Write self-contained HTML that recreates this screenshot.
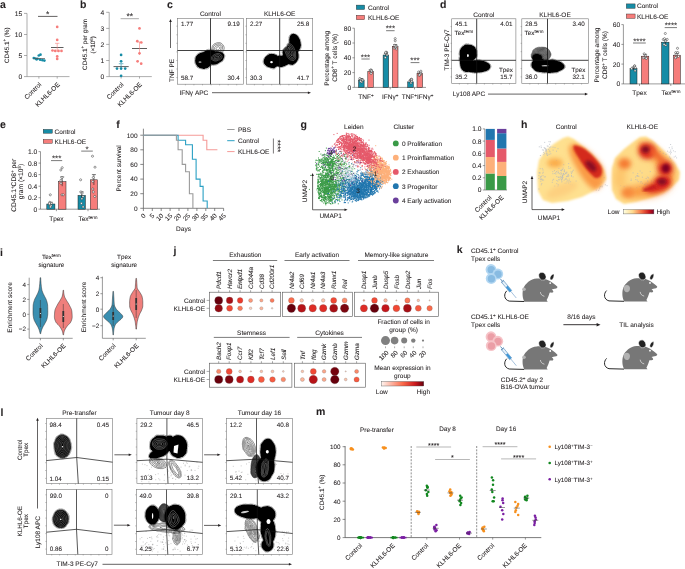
<!DOCTYPE html>
<html><head><meta charset="utf-8"><style>
html,body{margin:0;padding:0;background:#fff;}
svg{display:block;will-change:transform;}
text{font-family:"Liberation Sans", sans-serif;fill:#231f20;text-rendering:geometricPrecision;stroke:#231f20;stroke-width:0.07px;}
</style></head><body>
<svg width="685" height="569" viewBox="0 0 685 569">
<rect width="685" height="569" fill="#fff"/>
<text x="0.0" y="7.6" font-size="10.5" font-weight="bold">a</text>
<line x1="27.0" y1="13.4" x2="27.0" y2="76.6" stroke="#777" stroke-width="0.6"/>
<line x1="24.0" y1="13.4" x2="27.0" y2="13.4" stroke="#777" stroke-width="0.6"/>
<text x="22.2" y="15.8" font-size="6.7" text-anchor="end">15</text>
<line x1="24.0" y1="34.5" x2="27.0" y2="34.5" stroke="#777" stroke-width="0.6"/>
<text x="22.2" y="36.9" font-size="6.7" text-anchor="end">10</text>
<line x1="24.0" y1="55.5" x2="27.0" y2="55.5" stroke="#777" stroke-width="0.6"/>
<text x="22.2" y="57.9" font-size="6.7" text-anchor="end">5</text>
<line x1="24.0" y1="76.6" x2="27.0" y2="76.6" stroke="#777" stroke-width="0.6"/>
<text x="22.2" y="79.0" font-size="6.7" text-anchor="end">0</text>
<line x1="27.0" y1="76.6" x2="69.5" y2="76.6" stroke="#777" stroke-width="0.6"/>
<line x1="38.9" y1="76.6" x2="38.9" y2="78.6" stroke="#777" stroke-width="0.6"/>
<line x1="57.2" y1="76.6" x2="57.2" y2="78.6" stroke="#777" stroke-width="0.6"/>
<text x="6.5" y="47.5" font-size="6.3" text-anchor="middle" transform="rotate(-90 6.5 45.2)">CD45.1<tspan font-size="4.5" dy="-2.3">+</tspan><tspan dy="2.3">​</tspan> (%)</text>
<text x="0" y="0" font-size="6.5" text-anchor="end" transform="translate(41.8 85.0) rotate(-45)">Control</text>
<text x="0" y="0" font-size="6.5" text-anchor="end" transform="translate(60.2 85.0) rotate(-45)">KLHL6-OE</text>
<line x1="38.0" y1="16.4" x2="57.5" y2="16.4" stroke="#231f20" stroke-width="0.7"/>
<text x="47.7" y="17.1" font-size="8.5" text-anchor="middle">*</text>
<circle cx="40.5" cy="54.7" r="1.35" fill="#168ca6"/>
<circle cx="38.8" cy="55.5" r="1.35" fill="#168ca6"/>
<circle cx="33.8" cy="58.1" r="1.35" fill="#168ca6"/>
<circle cx="35.5" cy="58.5" r="1.35" fill="#168ca6"/>
<circle cx="37.5" cy="58.9" r="1.35" fill="#168ca6"/>
<circle cx="40.2" cy="59.7" r="1.35" fill="#168ca6"/>
<circle cx="42.5" cy="60.2" r="1.35" fill="#168ca6"/>
<circle cx="44.4" cy="60.6" r="1.35" fill="#168ca6"/>
<circle cx="36.5" cy="59.3" r="1.35" fill="#168ca6"/>
<line x1="33.5" y1="58.5" x2="45.0" y2="58.5" stroke="#555" stroke-width="0.7"/>
<circle cx="57.2" cy="26.9" r="1.35" fill="#f67d7b"/>
<circle cx="57.2" cy="39.9" r="1.35" fill="#f67d7b"/>
<circle cx="52.5" cy="50.5" r="1.35" fill="#f67d7b"/>
<circle cx="55.3" cy="50.9" r="1.35" fill="#f67d7b"/>
<circle cx="58.5" cy="50.9" r="1.35" fill="#f67d7b"/>
<circle cx="61.5" cy="50.9" r="1.35" fill="#f67d7b"/>
<circle cx="57.2" cy="56.4" r="1.35" fill="#f67d7b"/>
<circle cx="57.2" cy="58.9" r="1.35" fill="#f67d7b"/>
<line x1="51.0" y1="47.5" x2="63.5" y2="47.5" stroke="#333" stroke-width="0.8"/>
<line x1="57.2" y1="43.3" x2="57.2" y2="51.7" stroke="#f67d7b" stroke-width="0.6"/>
<line x1="55.0" y1="43.3" x2="59.4" y2="43.3" stroke="#f67d7b" stroke-width="0.6"/>
<text x="80.0" y="7.6" font-size="10.5" font-weight="bold">b</text>
<line x1="109.2" y1="12.3" x2="109.2" y2="76.6" stroke="#777" stroke-width="0.6"/>
<line x1="106.2" y1="12.3" x2="109.2" y2="12.3" stroke="#777" stroke-width="0.6"/>
<text x="104.3" y="14.7" font-size="6.7" text-anchor="end">4</text>
<line x1="106.2" y1="28.4" x2="109.2" y2="28.4" stroke="#777" stroke-width="0.6"/>
<text x="104.3" y="30.8" font-size="6.7" text-anchor="end">3</text>
<line x1="106.2" y1="44.4" x2="109.2" y2="44.4" stroke="#777" stroke-width="0.6"/>
<text x="104.3" y="46.8" font-size="6.7" text-anchor="end">2</text>
<line x1="106.2" y1="60.5" x2="109.2" y2="60.5" stroke="#777" stroke-width="0.6"/>
<text x="104.3" y="62.9" font-size="6.7" text-anchor="end">1</text>
<line x1="106.2" y1="76.6" x2="109.2" y2="76.6" stroke="#777" stroke-width="0.6"/>
<text x="104.3" y="79.0" font-size="6.7" text-anchor="end">0</text>
<line x1="109.2" y1="76.6" x2="151.8" y2="76.6" stroke="#777" stroke-width="0.6"/>
<line x1="121.1" y1="76.6" x2="121.1" y2="78.6" stroke="#777" stroke-width="0.6"/>
<line x1="139.5" y1="76.6" x2="139.5" y2="78.6" stroke="#777" stroke-width="0.6"/>
<text x="84.5" y="46.7" font-size="6.3" text-anchor="middle" transform="rotate(-90 84.5 44.4)">CD45.1<tspan font-size="4.5" dy="-2.3">+</tspan><tspan dy="2.3">​</tspan> per gram</text>
<text x="92.8" y="47.2" font-size="6.3" text-anchor="middle" transform="rotate(-90 92.8 44.9)">(×10<tspan font-size="4.5" dy="-2.3">6</tspan><tspan dy="2.3">​</tspan>)</text>
<text x="0" y="0" font-size="6.5" text-anchor="end" transform="translate(124.0 85.0) rotate(-45)">Control</text>
<text x="0" y="0" font-size="6.5" text-anchor="end" transform="translate(142.4 85.0) rotate(-45)">KLHL6-OE</text>
<line x1="120.6" y1="18.7" x2="138.9" y2="18.7" stroke="#aaa" stroke-width="1.0"/>
<text x="129.8" y="19.3" font-size="8.5" text-anchor="middle">**</text>
<circle cx="121.1" cy="54.9" r="1.35" fill="#168ca6"/>
<circle cx="121.1" cy="61.3" r="1.35" fill="#168ca6"/>
<circle cx="117.0" cy="68.6" r="1.35" fill="#168ca6"/>
<circle cx="121.1" cy="68.6" r="1.35" fill="#168ca6"/>
<circle cx="125.2" cy="68.6" r="1.35" fill="#168ca6"/>
<circle cx="121.1" cy="75.8" r="1.35" fill="#168ca6"/>
<line x1="113.5" y1="66.6" x2="128.7" y2="66.6" stroke="#333" stroke-width="0.8"/>
<line x1="121.1" y1="63.7" x2="121.1" y2="69.4" stroke="#168ca6" stroke-width="0.6"/>
<line x1="118.8" y1="63.7" x2="123.4" y2="63.7" stroke="#168ca6" stroke-width="0.6"/>
<circle cx="139.5" cy="28.4" r="1.35" fill="#f67d7b"/>
<circle cx="137.3" cy="41.2" r="1.35" fill="#f67d7b"/>
<circle cx="141.3" cy="42.5" r="1.35" fill="#f67d7b"/>
<circle cx="139.5" cy="53.3" r="1.35" fill="#f67d7b"/>
<circle cx="137.6" cy="61.3" r="1.35" fill="#f67d7b"/>
<circle cx="141.2" cy="63.7" r="1.35" fill="#f67d7b"/>
<line x1="132.0" y1="48.5" x2="147.0" y2="48.5" stroke="#333" stroke-width="0.8"/>
<line x1="139.5" y1="42.0" x2="139.5" y2="54.9" stroke="#f67d7b" stroke-width="0.6"/>
<line x1="137.2" y1="42.0" x2="141.8" y2="42.0" stroke="#f67d7b" stroke-width="0.6"/>
<text x="167.0" y="8.2" font-size="10.5" font-weight="bold">c</text>
<rect x="177.5" y="18.3" width="65.8" height="65.9" fill="none" stroke="#777" stroke-width="0.6"/>
<line x1="176.3" y1="26.2" x2="177.5" y2="26.2" stroke="#666" stroke-width="0.4"/>
<line x1="176.3" y1="34.8" x2="177.5" y2="34.8" stroke="#666" stroke-width="0.4"/>
<line x1="176.3" y1="43.3" x2="177.5" y2="43.3" stroke="#666" stroke-width="0.4"/>
<line x1="176.3" y1="51.9" x2="177.5" y2="51.9" stroke="#666" stroke-width="0.4"/>
<line x1="176.3" y1="60.5" x2="177.5" y2="60.5" stroke="#666" stroke-width="0.4"/>
<line x1="176.3" y1="69.0" x2="177.5" y2="69.0" stroke="#666" stroke-width="0.4"/>
<line x1="176.3" y1="77.6" x2="177.5" y2="77.6" stroke="#666" stroke-width="0.4"/>
<line x1="185.4" y1="84.2" x2="185.4" y2="85.4" stroke="#666" stroke-width="0.4"/>
<line x1="193.9" y1="84.2" x2="193.9" y2="85.4" stroke="#666" stroke-width="0.4"/>
<line x1="202.5" y1="84.2" x2="202.5" y2="85.4" stroke="#666" stroke-width="0.4"/>
<line x1="211.1" y1="84.2" x2="211.1" y2="85.4" stroke="#666" stroke-width="0.4"/>
<line x1="219.6" y1="84.2" x2="219.6" y2="85.4" stroke="#666" stroke-width="0.4"/>
<line x1="228.2" y1="84.2" x2="228.2" y2="85.4" stroke="#666" stroke-width="0.4"/>
<line x1="236.7" y1="84.2" x2="236.7" y2="85.4" stroke="#666" stroke-width="0.4"/>
<text x="181.0" y="25.9" font-size="6.3">1.77</text>
<text x="239.8" y="25.9" font-size="6.3" text-anchor="end">9.19</text>
<text x="181.0" y="80.0" font-size="6.3">58.7</text>
<text x="239.8" y="80.0" font-size="6.3" text-anchor="end">30.4</text>
<text x="210.4" y="16.4" font-size="6.5" text-anchor="middle">Control</text>
<path d="M218.8 54.2l.4-.2 .6-.2 .4-.3 .6-.3 .5-.2 .5-.3 .4-.4 .4-.3 .4-.3 .2-.5 .3-.5 .3-.5 .1-.7 .2-.5 0-.8 0-.7-.3-.5 0-.8-.3-.4-.2-.6-.3-.3-.4-.4-.4-.3-.4-.4-.3-.4-.5-.3-.5-.2-.6-.1-.7-.2-.7 .1-.7 0-.6 .1-.7 .2-.5 .2-.5 .2-.5 .2-.5 .2-.5 .4-.2 .3-.6 .5-.3 .2-.3 .6-.2 .4-.2 .6-.2 .7-.2 .5 0 .8 0 .7 .1 .7-.1 .8 .2 .5 .2 .6 .6 .4 .2 .3 .5 .3 .5 .1 .5 .5 .5 .2 .5 .2 .7 .1 .6 .1 .7 0 .7 0 .6-.1zM218.3 53l.7-.2 .5-.2 .5-.3 .4-.3 .4-.3 .4-.5 .3-.3 .3-.4 .2-.6 .2-.6 .2-.5 .2-.6-.1-.7 0-.3 0-.4-.2-.8-.3-.4-.3-.4-.4-.4-.3-.3-.6-.3-.6-.2-.6-.1-.7 0-.7 .1-.6 .1-.4 .2-.7 .2-.6 .2-.5 .3-.3 .2-.5 .4-.4 .4-.3 .5-.2 .5-.1 .5-.1 .7-.1 .8 .2 .8 0 .7 .2 .5 .3 .5 .3 .3 .5 .3 .5 .3 .5 .2 .6 .2 .7 .1 .7 .1 .5 0zM218.4 51.5l.6-.2 .4-.3 .4-.2 .4-.6 .3-.4 .2-.6 .2-.4 .2-.6 .1-.7-.1-.7-.2-.6-.4-.4-.3-.3-.7-.2-.5-.1-.8 0-.4 .2-.6 .1-.5 .3-.7 .2-.3 .2-.5 .4-.3 .4-.2 .5-.2 .7-.1 .6 .2 .4 .2 .7 .2 .4 .5 .5 .3 .2 .5 .2 .7 .3 .5 .1 .7-.1zM218.1 50l.4-.2 .5-.4 .3-.4 .3-.5 .2-.6 0-.4-.4-.5-.5-.2-.7-.1-.4 .2-.6 .2-.4 .3-.4 .4-.3 .4-.1 .8 .2 .5 .6 .4 .4 .2 .8-.1z" fill="none" stroke="#000" stroke-width="0.45"/>
<path d="M204.9 68.8l.3-.2 .6 0 .3-.1 .4-.2 .3-.1 .4-.1 .4-.1 .4-.2 .2-.3 .1 0 .2 0 .2-.5 .3-.1 .3-.1 .2-.3 .4-.3 .3-.2 .2-.2 .2-.3 .2-.3 .1-.4 .3-.2 .6 .1 .4 0 .3 .1 .5 0 .5 0 .4 0 .3-.2 .6 .1 .4-.2 .3-.1 .5 0 .2-.2 .6 0 .2-.3 .5 0 .3-.3 .3-.1 .4-.2 .3-.3 .2 0 .2-.3 .3-.2 .3 0 .2-.2 .2-.2 .4-.1 .3-.2 .3-.3 .3-.2 .3-.1 .3-.2 .2-.2 .3-.3 .2-.4 .2-.3 .1-.3 .2-.3 .2-.4 .1-.3 .1-.5 .2-.2 .1-.3 .1-.5 .1-.5 .1-.3 0-.4-.1-.5-.1-.3-.1-.4-.2-.4-.2-.2-.1-.2-.3-.3-.2-.3-.3-.2-.3-.2-.3-.3-.3-.2-.4-.1-.4 0-.5-.2-.3 0-.4-.1-.3-.3-.5 .1-.2-.3-.6 0-.4 .1-.3-.3-.5 0-.2 .1-.6 0-.4 0-.6 0-.3-.1-.1-.2-.6-.1-.2-.3-.5 0-.3-.3-.4 0-.4-.1-.4-.1-.5 0-.5 0-.5 0-.3-.1-.4 0-.3 0-.3 0-.4-.1-.6 0-.4 0-.3 .1-.4 .2-.3 .1-.3 .3-.5 .1-.2 .2-.6 .1-.2 .2-.3 0-.3 .3-.4 .1-.2 .3-.3 .2-.5 .1-.2 .1-.6 0-.4 .2-.3 0-.4 .3-.3 0-.5 .2-.3 0-.2 .3-.6 .2-.2 .2-.4 .1-.3 .2-.3 .2-.2 .3-.3 .2-.3 .2-.2 .3-.2 .2-.2 .4-.2 .2-.2 .2-.2 .4-.2 .4-.1 .2-.2 .5-.1 .3 0 .5-.1 .5 0 .5 0 .5-.2 .2 0 .6 0 .4 .2 .3 0 .5 0 .5 .2 .5 0 .2 .3 .5 0 .3 .3 .2 .1 .4 .2 .4 .2 .2 .2 .3 .3 .3 .1 .4 .2 .3 .2 .3 .4 .1 .2 .2 .3 .2 .3 .2 .2 0 .2 .2 .3 .2 .3 .1 .4 .1 .4 .1 .4 .2 .4 .1 .4 .1 .4 0 .4 .2 .4 .1 .5 0 .5 0 .5 0 .4-.1z" fill="#000" stroke="none"/>
<path d="M204 69.2l.5 0 .5 0 .2-.2 .3 0 .5 0 .3 0 .5-.1 .4-.1 .2 0 .4 0 .2-.1 .3-.2 .4-.3 .3-.2 0-.2 .2-.3 .5-.3 .2-.2 .2-.2 .3-.3 .2-.3 .2-.2 .3-.2 .2-.3 .2-.5 .5 .1 .5 .1 .3 0 .4 .1 .6 .1 .4-.2 .3 0 .5 0 .5-.2 .3 0 .4-.1 .4-.1 .4-.1 .3-.2 .5-.1 .2-.2 .3-.2 .3-.2 .3-.3 .3-.2 .3-.3 .3-.1 .3-.1 .4-.3 .3 0 .4-.3 .3-.2 .3-.1 .2-.2 .3-.2 .3-.3 .2-.2 .3-.2 .1-.5 .3-.3 .1-.2 .2-.3 .2-.5 .1-.2 .1-.6 .1-.2 .2-.3 .1-.5 .1-.4 .1-.3 0-.5 0-.5-.1-.3-.2-.4-.1-.3-.2-.3-.2-.4-.2-.3-.1-.3-.3-.2-.2-.2-.3-.3-.3-.3-.3-.2-.3-.2-.3 0-.5-.2-.4-.1-.3-.1-.5-.1-.2-.1-.6 0-.4-.2-.1 0-.5 .1-.4-.1-.3-.1-.5 0-.5 .1-.4 0-.2 0-.4 0-.5-.2-.2-.2-.3-.1-.3-.3-.4-.2-.3-.2-.5 0-.3 0-.5-.2-.4 0-.6 0-.4 0-.4-.1-.4-.2-.5 .1-.5 0-.5-.1-.5 .1-.5 .1-.3 .1-.2 .2-.5 .2-.3 .2-.2 .1-.3 .2-.5 .2-.2 .2-.4 .1-.4 .2-.2 .1-.5 .2-.3 .1-.4 .2-.3 0-.5 0-.4 .2-.4 .1-.3 .1-.4 .2-.4 .1-.3 .1-.3 .2-.5 .1-.2 .2-.4 .1-.3 .3-.3 .3-.2 .2-.3 .2-.2 .3-.3 .3-.2 .2-.3 .2-.1 .3-.2 .3-.2 .3-.3 .4-.1 .3-.2 .3-.1 .4-.1 .3-.1 .4-.1 .6 0 .4 .1 .6-.2 .2 0 .5 0 .5 0 .5 .1 .3 0 .4 0 .6 .2 .4 0 .3 .2 .5 .2 .2 .2 .3 .2 .3 .2 .4 .2 .3 .1 .3 .2 .2 .1 .5 .2 .3 .2 .2 .2 .3 .5 .2 .3 .2 .2 .2 .3 .1 .4 .2 .3 .2 .4 .1 .4 .1 .5 .1 .5 0 .2 .2 .6 .1 .4 0 .3 .2 .5 0 .3 0 .5 .1 .2-.1zM211.2 65.1l0-.1 0 .1z" fill="none" stroke="#000" stroke-width="0.35"/>
<path d="M216.7 60.8l.5-.2 .6-.2 .4-.2 .6-.2 .7-.2 .5-.2 .5-.4 .3-.2 .4-.4 .3-.4 .3-.6 .2-.6 0-.8-.2-.5-.3-.5-.3-.4-.4-.4-.6-.3-.4-.3-.6-.1-.7-.1-.7 0-.8 .1-.6 .1-.6 .2-.6 .2-.4 .1-.6 .3-.4 .3-.6 .3-.2 .3-.5 .5-.3 .3-.4 .5-.2 .4-.3 .6 0 .7 .2 .5 .3 .5 .4 .5 .6 .2 .4 .2 .6 .2 .4 .2 .8 .1 .8 .1 .7-.1zM216.2 59.8l.6-.2 .4-.2 .6-.2 .4-.3 .6-.2 .4-.3 .5-.4 .3-.3 .4-.5 .2-.4-.2-.6-.2-.4-.4-.4-.6-.2-.4-.3-.8-.1-.8 .1-.4 .1-.6 .2-.6 .3-.6 .3-.5 .2-.5 .2-.3 .3-.5 .5-.2 .2-.3 .6 0 .7 .3 .5 .5 .2 .5 .3 .5 .2 .5 .1 .8 0zM215.9 58.5l.6-.2 .5-.1 .5-.2 .5-.3 .5-.3 .4-.4 .1-.3-.5-.2-.7-.2-.8 .2-.5 .1-.5 .2-.5 .2-.5 .2-.5 .4-.4 .4 .4 .4 .5 .1 .8 0z" fill="none" stroke="#fff" stroke-width="0.3"/>
<ellipse cx="200" cy="62" rx="1.5" ry="0.6" fill="#fff"/>
<rect x="246.5" y="18.3" width="66.2" height="65.9" fill="none" stroke="#777" stroke-width="0.6"/>
<line x1="245.3" y1="26.2" x2="246.5" y2="26.2" stroke="#666" stroke-width="0.4"/>
<line x1="245.3" y1="34.8" x2="246.5" y2="34.8" stroke="#666" stroke-width="0.4"/>
<line x1="245.3" y1="43.3" x2="246.5" y2="43.3" stroke="#666" stroke-width="0.4"/>
<line x1="245.3" y1="51.9" x2="246.5" y2="51.9" stroke="#666" stroke-width="0.4"/>
<line x1="245.3" y1="60.5" x2="246.5" y2="60.5" stroke="#666" stroke-width="0.4"/>
<line x1="245.3" y1="69.0" x2="246.5" y2="69.0" stroke="#666" stroke-width="0.4"/>
<line x1="245.3" y1="77.6" x2="246.5" y2="77.6" stroke="#666" stroke-width="0.4"/>
<line x1="254.4" y1="84.2" x2="254.4" y2="85.4" stroke="#666" stroke-width="0.4"/>
<line x1="263.1" y1="84.2" x2="263.1" y2="85.4" stroke="#666" stroke-width="0.4"/>
<line x1="271.7" y1="84.2" x2="271.7" y2="85.4" stroke="#666" stroke-width="0.4"/>
<line x1="280.3" y1="84.2" x2="280.3" y2="85.4" stroke="#666" stroke-width="0.4"/>
<line x1="288.9" y1="84.2" x2="288.9" y2="85.4" stroke="#666" stroke-width="0.4"/>
<line x1="297.5" y1="84.2" x2="297.5" y2="85.4" stroke="#666" stroke-width="0.4"/>
<line x1="306.1" y1="84.2" x2="306.1" y2="85.4" stroke="#666" stroke-width="0.4"/>
<text x="250.0" y="25.9" font-size="6.3">2.27</text>
<text x="309.2" y="25.9" font-size="6.3" text-anchor="end">25.8</text>
<text x="250.0" y="80.0" font-size="6.3">30.3</text>
<text x="309.2" y="80.0" font-size="6.3" text-anchor="end">41.7</text>
<text x="279.6" y="16.4" font-size="6.5" text-anchor="middle">KLHL6-OE</text>
<path d="M274.3 68.2l.3-.2 .4-.2 .2-.3 .3 0 .3-.4 .3-.1 .4-.2 .3-.3 .2-.2 .5 0 .5 .2 .2 0 .6 .2 .2 .1 .5 0 .5 0 .2 .3 .6 0 .4 0 .6 0 .4-.1 .3-.2 .3-.1 .4-.1 .4-.1 .3-.3 .3 0 .3-.2 .5-.1 .3-.1 .5-.3 .2 0 .3-.3 .5-.1 .2-.1 .5-.2 .3-.3 .3 0 .3-.3 .1-.2 .3 0 .4 .2 .3 .2 .5 .1 .2 .1 .4 .2 .4 0 .5 0 .5 .1 .5 0 .3-.1 .4-.2 .3-.1 .4-.3 .3-.2 .3-.2 .2-.3 .3 0 .2-.3 .3-.3 .4-.1 .2-.3 .2-.3 .2-.2 .3-.2 .2-.5 .2-.3 .1-.2 .2-.3 .3-.5 0-.2 .2-.3 0-.5 .3-.2 0-.6 .2-.4 .1-.3 0-.5 0-.5 0-.5 0-.5 0-.5 0-.5-.1-.3-.2-.4 0-.6-.1-.3-.1-.4-.1-.5 .3-.2 .2-.5 .3-.3 0-.2 .2-.5 .1-.3 .2-.2 .3-.3 .2-.4 0-.3 .3-.3 .1-.4 .2-.3 .1-.4 .2-.4 0-.5 0-.5 .3-.2-.1-.6 0-.4 0-.6 0-.4-.3-.3 0-.5 0-.5 0-.5-.3-.2 0-.6-.1-.3-.1-.4-.1-.4-.1-.3-.1-.4-.2-.4-.3-.2-.1-.3-.2-.5-.2-.2 0-.3-.3-.3-.2-.4-.2-.3-.3-.3-.2-.2-.1-.3-.3-.3-.2-.2-.5-.2-.2-.2-.3-.3-.2 0-.4-.3-.4-.1-.5-.1-.3 0-.4-.2-.6 0-.4 .2-.6-.1-.2 .2-.4 .1-.3 .3-.3 .3-.2 .2-.3 .2-.2 .3-.1 .3-.2 .4-.2 .3 0 .3-.2 .4-.1 .4-.1 .4 0 .5 0 .5-.2 .2 0 .6 0 .4 0 .6-.1 .4 .3 .3-.1 .5 0 .5-.3 .3-.2 .2-.3 .2-.2 .3-.3 .3-.2 .2-.2 .2-.1 .4-.3 .3-.1 .3-.1 .5-.1 .3-.2 .2-.3 .3-.4 .2-.2 .3-.3 .2-.3 0-.2 .3-.3 .3-.2 .2-.3 .2-.2 .5-.2 .2-.1 .3-.3 .3-.2 .4-.1 .3-.2 .3 0 .5-.3 .2 .1 .6-.2 .4 0 .3 .1 .3 .1 .4 .1 .3 .1 .5 0 .5-.1 .5-.2 .2-.4 .2-.2 .1-.5 .2-.5 0-.5-.2-.5 .2-.5-.1-.3 .2-.2-.1-.3 .1-.5 .1-.2 .3-.4-.2-.2-.2-.4-.2-.2-.3-.3-.2-.3-.1-.4-.2-.3-.3-.5 0-.2-.2-.6 0-.2-.3-.5 0-.5 0-.2 0-.6-.1-.2-.2-.2 .1-.6 .1-.4 0-.6 0-.4 .1-.3 .1-.4 .1-.3 .3-.3 0-.3 .3-.4 .2-.3 .1-.3 .3-.2 .3-.3 .1-.3 .2-.2 .2-.3 .3-.3 .3-.2 .2-.3 .2-.1 .4-.2 .4-.3 .2 0 .3-.3 .4 0 .3-.2 .3-.1 .5-.1 .5-.1 .3-.1 .4 .1 .6 0 .4 .1 .5 .2 .3 0 .3 .2 .4 .2 .3 .2 .2 .2 .3 .2 .3 .3 .2 .2 .2 .3 .3 .3 .3 .2 .2 .3 .2 .4 .2 .2 .2 .3 .2 .5 .2 .2 0 .6 .2 .4 0 .3 .2 .4 .1 .2 .3 .4 0 .5 0 .5 .1 .3 .1 .4 .1 .6 .1 .2 0 .5 .1 .5 .1 .3-.2z" fill="#000" stroke="none"/>
<path d="M274.5 68.8l.4-.3 .3-.3 .3-.2 .3-.2 .2-.3 .2-.2 .3-.2 .3-.2 .2-.3 .5-.1 .5 .2 .4 .1 .4 .2 .2 0 .5 .1 .5 .1 .2 .2 .6 .1 .4 0 .6 0 .4-.1 .3-.2 .5-.2 .2 0 .6 0 .2-.3 .5 0 .3-.3 .4 0 .3-.3 .4-.1 .3-.1 .3-.3 .3-.2 .4-.2 .3-.2 .3-.1 .4 0 .3-.2 .5-.1 .3 .2 .5 0 .3 .2 .4 .2 .5 0 .4 0 .4 .1 .4 0 .5-.1 .3-.1 .3-.1 .5-.1 .2-.2 .3-.2 .3-.3 .3-.2 .3-.2 .3-.3 .3-.2 .2-.1 .2-.3 .3-.3 .3-.3 .2-.3 .1-.2 .2-.3 .2-.3 .3-.4 .1-.3 .2-.3 .1-.3 .2-.4 .1-.4 .2-.3 0-.6 .3-.2 0-.2 0-.6 0-.4 0-.6 0-.2 0-.5-.1-.5 0-.5-.1-.5-.1-.2-.1-.6 0-.4-.2-.3 .1-.4 .1-.3 .2-.3 .3-.3 .1-.4 .2-.3 .1-.3 .3-.2 .2-.2 .2-.5 .1-.3 .2-.2 .3-.5 .1-.3 .1-.4 .2-.4 0-.4 0-.5 .2-.3 0-.5 0-.5-.1-.5 0-.5-.1-.2-.2-.5-.1-.3 0-.5 0-.5-.1-.3-.1-.5-.1-.4-.1-.3 0-.3-.1-.2-.1-.5-.1-.3-.2-.2-.2-.3-.3-.5-.2-.2-.1-.2-.2-.6-.2-.2-.1-.2-.2-.4-.3-.3-.2-.3-.1-.3-.3-.3-.3-.2-.3-.1-.3-.1-.3-.3-.3-.3-.3 0-.5-.2-.3-.2-.5 0-.3 0-.4-.3-.6 0-.4 .1-.6 0-.4 .2-.3 0-.3 .2-.4 .2-.3 .3-.3 .2-.2 .2-.2 .3-.1 .3-.2 .5-.1 .2-.2 .4-.1 .4-.1 .4-.1 .4 .1 .4 0 .6-.2 .4 0 .6 0 .4-.1 .3 0 .5 0 .5 .1 .3 0 .4-.3 .3-.3 .2-.2 .3-.2 .2-.3 .3-.3 .2-.1 .3-.1 .3-.2 .3-.2 .4-.1 .5 0 .3-.3 .3-.2 .2-.3 .2-.3 .3-.4 .2-.1 .2-.3 .3-.2 .3-.3 .2-.2 .2-.2 .3-.3 .3-.2 .3-.2 .4-.2 .3-.1 .2-.2 .2-.2 .6-.1 .2-.1 .5-.1 .5 .1 .5 .1 .4 .1 .3 .1 .6 0 .4 0 .6-.4 .1-.3 .1-.5 .2-.4-.1-.6-.1-.2 .3-.2-.1-.6 0-.2 .2-.5 0-.3 .2-.4 0-.3-.3-.3-.1-.2-.2-.2-.3-.5-.2-.3-.1-.2-.2-.6-.1-.2-.2-.5-.1-.3-.1-.4-.1-.6 0-.4-.1-.3 0-.5-.2-.5 .1-.5 0-.5 0-.5-.1-.5 .2-.3 .1-.4 .2-.3 .1-.3 .1-.4 .2-.3 .3-.3 .2-.2 .3-.2 .2-.3 .2-.3 .3-.2 .2-.2 .3-.3 .2-.3 .2-.2 .2-.2 .3-.3 .4-.2 .3-.1 .2-.2 .3-.2 .5-.1 .2-.2 .4-.1 .4 0 .4-.2 .3-.1 .5 0 .5 .1 .5 0 .5 0 .4 .2 .3 .1 .5 .2 .3 .1 .2 .2 .3 .2 .3 .3 .4 .3 .2 .2 .2 .2 .2 .3 .2 .3 .3 .2 .2 .4 .3 .4 .1 .2 .1 .5 .2 .3 .1 .4 0 .6 .2 .2 0 .5 .2 .3 .1 .2 .3 .5 .1 .4 0 .3 .1 .3 .2 .3 .3 .4 .1 .6-.1 .4 .1 .6 0 .4 0 .3-.1z" fill="none" stroke="#000" stroke-width="0.35"/>
<path d="M293.2 60.5l.6-.1 .4-.4 .4-.2 .4-.4 .3-.4 .2-.6 .2-.6 .1-.7-.1-.3-.1-.8 0-.8 0-.7 0-.7 0-.8-.1-.6-.1-.6-.2-.6-.2-.7-.1-.5-.3-.5-.3-.5-.2-.5-.2-.5-.2-.5-.3-.5-.4-.5-.2-.5-.3-.2-.5-.6-.2-.3-.5-.4-.3-.3-.5-.2-.5-.3-.7-.2-.5-.2-.6-.3-.4-.1-.8 0-.5 .1-.5 .4-.3 .4-.5 .3-.2 .6-.1 .5-.2 .6 .1 .4-.2 .6-.1 .7 0 .5 0 .8 0 .7 0 .5 .3 .5 .2 .5 .2 .6 .2 .6 .2 .6 .2 .5 .2 .6 .2 .4 .3 .5 .3 .5 .2 .6 .2 .6 .3 .5 .3 .3 .2 .5 .4 .4 .4 .4 .4 .4 .3 .2 .5 .4 .5 .3 .5 .2 .6 .1 .6 .2 .6 .2zM293.4 59l.4-.2 .4-.6 .2-.4 .1-.6 .1-.7-.1-.7 0-.8 0-.8-.1-.4 0-.8-.1-.8-.2-.4-.1-.6-.3-.4-.2-.6-.3-.4-.3-.6-.3-.4-.2-.6-.3-.4-.3-.6-.3-.4-.3-.4-.3-.4-.4-.4-.3-.4-.4-.2-.6-.3-.4-.3-.6-.2-.7-.1-.5 .2-.5 .3-.4 .4-.1 .5-.2 .7-.1 .6-.1 .7 .1 .7 .1 .8 .1 .5 .2 .5 .2 .5 .2 .7 .1 .6 .2 .4 .2 .8 .2 .5 .2 .5 .3 .5 .2 .5 .3 .5 .2 .5 .3 .5 .3 .5 .2 .3 .6 .4 .3 .3 .4 .3 .5 .3 .5 .2 .7 .2 .6 .2 .6-.2zM292.8 57.8l.3-.6 .2-.4 .1-.8 0-.8 0-.7-.1-.7-.1-.6-.2-.6-.2-.6-.2-.5-.3-.5-.3-.5-.2-.4-.3-.4-.3-.6-.2-.5-.2-.5-.3-.5-.3-.4-.3-.4-.3-.6-.4-.2-.4-.4-.6-.3-.7 .2-.3 .3-.2 .6-.1 .6-.1 .8 .2 .6 .2 .6 .1 .5 .3 .5 .1 .8 .2 .4 .1 .8 .1 .5 .2 .5 .2 .5 .3 .5 .3 .5 .2 .5 .3 .5 .4 .5 .2 .3 .6 .4 .3 .3 .4 .3 .5 .3 .5 .3zM292 56l.1-.8-.1-.7-.1-.5-.1-.7-.2-.5-.2-.6-.2-.4-.2-.6-.3-.4-.3-.6-.3-.4-.2-.6-.2-.4-.3-.6-.2-.4-.3-.6-.2-.2-.2 .8 .2 .7 .2 .5 .1 .5 .2 .7 .1 .6 0 .7 .2 .7 .1 .6 .3 .4 .3 .6 .3 .3 .3 .4 .3 .5 .3 .5 .4 .3 .2 .2z" fill="none" stroke="#fff" stroke-width="0.3"/>
<ellipse cx="271.5" cy="62.2" rx="1.3" ry="1.1" fill="#fff"/>
<line x1="210.5" y1="18.3" x2="210.5" y2="84.2" stroke="#111" stroke-width="0.8"/>
<line x1="177.5" y1="50.5" x2="243.3" y2="50.5" stroke="#111" stroke-width="0.8"/>
<line x1="279.7" y1="18.3" x2="279.7" y2="84.2" stroke="#111" stroke-width="0.8"/>
<line x1="246.5" y1="50.5" x2="312.7" y2="50.5" stroke="#111" stroke-width="0.8"/>
<line x1="170.5" y1="48.0" x2="170.5" y2="21.2" stroke="#231f20" stroke-width="0.7"/>
<path d="M169.2,22.1 L170.5,19.0 L171.8,22.1 Z" fill="#231f20"/>
<text x="172.0" y="72.8" font-size="6.5" text-anchor="middle" transform="rotate(-90 172.0 70.5)">TNF PE</text>
<text x="179.4" y="95.0" font-size="6.5">IFNγ APC</text>
<line x1="212.0" y1="92.7" x2="308.8" y2="92.7" stroke="#231f20" stroke-width="0.7"/>
<path d="M307.9,91.4 L311.0,92.7 L307.9,94.0 Z" fill="#231f20"/>
<rect x="356.3" y="5.1" width="8.3" height="4.4" fill="#168ca6" stroke="#222" stroke-width="0.4"/>
<text x="368.0" y="9.6" font-size="6.5">Control</text>
<rect x="356.3" y="15.3" width="8.3" height="4.4" fill="#f67d7b" stroke="#222" stroke-width="0.4"/>
<text x="368.0" y="19.8" font-size="6.5">KLHL6-OE</text>
<line x1="354.4" y1="28.2" x2="354.4" y2="87.4" stroke="#555" stroke-width="0.6"/>
<line x1="352.4" y1="28.2" x2="354.4" y2="28.2" stroke="#555" stroke-width="0.6"/>
<text x="351.2" y="30.6" font-size="6.7" text-anchor="end">80</text>
<line x1="352.4" y1="43.0" x2="354.4" y2="43.0" stroke="#555" stroke-width="0.6"/>
<text x="351.2" y="45.4" font-size="6.7" text-anchor="end">60</text>
<line x1="352.4" y1="57.8" x2="354.4" y2="57.8" stroke="#555" stroke-width="0.6"/>
<text x="351.2" y="60.2" font-size="6.7" text-anchor="end">40</text>
<line x1="352.4" y1="72.6" x2="354.4" y2="72.6" stroke="#555" stroke-width="0.6"/>
<text x="351.2" y="75.0" font-size="6.7" text-anchor="end">20</text>
<line x1="352.4" y1="87.4" x2="354.4" y2="87.4" stroke="#555" stroke-width="0.6"/>
<text x="351.2" y="89.8" font-size="6.7" text-anchor="end">0</text>
<line x1="354.4" y1="87.4" x2="426.0" y2="87.4" stroke="#555" stroke-width="0.6"/>
<line x1="366.0" y1="87.4" x2="366.0" y2="89.4" stroke="#555" stroke-width="0.6"/>
<line x1="390.2" y1="87.4" x2="390.2" y2="89.4" stroke="#555" stroke-width="0.6"/>
<line x1="414.5" y1="87.4" x2="414.5" y2="89.4" stroke="#555" stroke-width="0.6"/>
<text x="326.5" y="60.6" font-size="6.5" text-anchor="middle" transform="rotate(-90 326.5 58.3)">Percentage among</text>
<text x="334.5" y="60.1" font-size="6.5" text-anchor="middle" transform="rotate(-90 334.5 57.8)">CD8<tspan font-size="4.5" dy="-2.3">+</tspan><tspan dy="2.3">​</tspan> T cells (%)</text>
<rect x="358.5" y="80.0" width="5.6" height="7.4" fill="#168ca6" stroke="#222" stroke-width="0.5"/>
<line x1="361.3" y1="78.5" x2="361.3" y2="81.5" stroke="#222" stroke-width="0.6"/>
<line x1="359.3" y1="78.5" x2="363.3" y2="78.5" stroke="#222" stroke-width="0.6"/>
<circle cx="360.5" cy="79.8" r="1.05" fill="#fff" stroke="#222" stroke-width="0.45"/>
<circle cx="360.9" cy="79.5" r="1.05" fill="#fff" stroke="#222" stroke-width="0.45"/>
<circle cx="361.7" cy="81.9" r="1.05" fill="#fff" stroke="#222" stroke-width="0.45"/>
<circle cx="359.8" cy="78.5" r="1.05" fill="#fff" stroke="#222" stroke-width="0.45"/>
<circle cx="360.6" cy="81.2" r="1.05" fill="#fff" stroke="#222" stroke-width="0.45"/>
<circle cx="362.8" cy="80.1" r="1.05" fill="#fff" stroke="#222" stroke-width="0.45"/>
<rect x="367.8" y="71.4" width="5.6" height="16.0" fill="#f67d7b" stroke="#222" stroke-width="0.5"/>
<line x1="370.6" y1="70.0" x2="370.6" y2="73.0" stroke="#222" stroke-width="0.6"/>
<line x1="368.6" y1="70.0" x2="372.6" y2="70.0" stroke="#222" stroke-width="0.6"/>
<circle cx="371.6" cy="71.5" r="1.05" fill="#fff" stroke="#222" stroke-width="0.45"/>
<circle cx="371.0" cy="73.0" r="1.05" fill="#fff" stroke="#222" stroke-width="0.45"/>
<circle cx="371.0" cy="69.8" r="1.05" fill="#fff" stroke="#222" stroke-width="0.45"/>
<circle cx="370.7" cy="70.3" r="1.05" fill="#fff" stroke="#222" stroke-width="0.45"/>
<circle cx="371.1" cy="73.4" r="1.05" fill="#fff" stroke="#222" stroke-width="0.45"/>
<circle cx="371.4" cy="71.0" r="1.05" fill="#fff" stroke="#222" stroke-width="0.45"/>
<rect x="383.1" y="55.0" width="5.6" height="32.4" fill="#168ca6" stroke="#222" stroke-width="0.5"/>
<line x1="385.9" y1="53.4" x2="385.9" y2="56.7" stroke="#222" stroke-width="0.6"/>
<line x1="383.9" y1="53.4" x2="387.9" y2="53.4" stroke="#222" stroke-width="0.6"/>
<circle cx="385.3" cy="57.6" r="1.05" fill="#fff" stroke="#222" stroke-width="0.45"/>
<circle cx="387.0" cy="55.0" r="1.05" fill="#fff" stroke="#222" stroke-width="0.45"/>
<circle cx="386.6" cy="52.6" r="1.05" fill="#fff" stroke="#222" stroke-width="0.45"/>
<circle cx="386.5" cy="52.3" r="1.05" fill="#fff" stroke="#222" stroke-width="0.45"/>
<circle cx="385.6" cy="53.1" r="1.05" fill="#fff" stroke="#222" stroke-width="0.45"/>
<circle cx="385.7" cy="52.3" r="1.05" fill="#fff" stroke="#222" stroke-width="0.45"/>
<rect x="392.4" y="46.3" width="5.6" height="41.1" fill="#f67d7b" stroke="#222" stroke-width="0.5"/>
<line x1="395.2" y1="44.5" x2="395.2" y2="48.2" stroke="#222" stroke-width="0.6"/>
<line x1="393.2" y1="44.5" x2="397.2" y2="44.5" stroke="#222" stroke-width="0.6"/>
<circle cx="396.3" cy="48.9" r="1.05" fill="#fff" stroke="#222" stroke-width="0.45"/>
<circle cx="394.1" cy="48.1" r="1.05" fill="#fff" stroke="#222" stroke-width="0.45"/>
<circle cx="396.6" cy="46.4" r="1.05" fill="#fff" stroke="#222" stroke-width="0.45"/>
<circle cx="395.6" cy="47.4" r="1.05" fill="#fff" stroke="#222" stroke-width="0.45"/>
<circle cx="395.2" cy="46.8" r="1.05" fill="#fff" stroke="#222" stroke-width="0.45"/>
<circle cx="394.8" cy="45.3" r="1.05" fill="#fff" stroke="#222" stroke-width="0.45"/>
<circle cx="395.2" cy="38.6" r="1.05" fill="#fff" stroke="#222" stroke-width="0.45"/>
<circle cx="395.2" cy="40.8" r="1.05" fill="#fff" stroke="#222" stroke-width="0.45"/>
<rect x="407.7" y="81.9" width="5.6" height="5.5" fill="#168ca6" stroke="#222" stroke-width="0.5"/>
<line x1="410.5" y1="80.4" x2="410.5" y2="83.3" stroke="#222" stroke-width="0.6"/>
<line x1="408.5" y1="80.4" x2="412.5" y2="80.4" stroke="#222" stroke-width="0.6"/>
<circle cx="410.8" cy="79.7" r="1.05" fill="#fff" stroke="#222" stroke-width="0.45"/>
<circle cx="411.0" cy="79.6" r="1.05" fill="#fff" stroke="#222" stroke-width="0.45"/>
<circle cx="411.6" cy="79.3" r="1.05" fill="#fff" stroke="#222" stroke-width="0.45"/>
<circle cx="411.0" cy="83.0" r="1.05" fill="#fff" stroke="#222" stroke-width="0.45"/>
<circle cx="411.6" cy="79.4" r="1.05" fill="#fff" stroke="#222" stroke-width="0.45"/>
<circle cx="411.7" cy="81.2" r="1.05" fill="#fff" stroke="#222" stroke-width="0.45"/>
<rect x="417.0" y="73.3" width="5.6" height="14.1" fill="#f67d7b" stroke="#222" stroke-width="0.5"/>
<line x1="419.8" y1="71.9" x2="419.8" y2="74.8" stroke="#222" stroke-width="0.6"/>
<line x1="417.8" y1="71.9" x2="421.8" y2="71.9" stroke="#222" stroke-width="0.6"/>
<circle cx="420.4" cy="74.6" r="1.05" fill="#fff" stroke="#222" stroke-width="0.45"/>
<circle cx="420.8" cy="73.0" r="1.05" fill="#fff" stroke="#222" stroke-width="0.45"/>
<circle cx="419.2" cy="75.3" r="1.05" fill="#fff" stroke="#222" stroke-width="0.45"/>
<circle cx="420.9" cy="71.2" r="1.05" fill="#fff" stroke="#222" stroke-width="0.45"/>
<circle cx="418.6" cy="72.0" r="1.05" fill="#fff" stroke="#222" stroke-width="0.45"/>
<circle cx="419.5" cy="74.9" r="1.05" fill="#fff" stroke="#222" stroke-width="0.45"/>
<line x1="361.4" y1="59.0" x2="369.7" y2="59.0" stroke="#222" stroke-width="0.6"/>
<text x="365.5" y="59.5" font-size="8" text-anchor="middle">***</text>
<line x1="386.1" y1="30.7" x2="394.6" y2="30.7" stroke="#222" stroke-width="0.6"/>
<text x="390.4" y="31.2" font-size="8" text-anchor="middle">***</text>
<line x1="410.6" y1="62.6" x2="419.4" y2="62.6" stroke="#222" stroke-width="0.6"/>
<text x="415.0" y="63.1" font-size="8" text-anchor="middle">***</text>
<text x="366.0" y="98.8" font-size="6.5" text-anchor="middle">TNF<tspan font-size="4.5" dy="-2.3">+</tspan><tspan dy="2.3">​</tspan></text>
<text x="390.2" y="98.8" font-size="6.5" text-anchor="middle">IFNγ<tspan font-size="4.5" dy="-2.3">+</tspan><tspan dy="2.3">​</tspan></text>
<text x="417.5" y="98.8" font-size="6.5" text-anchor="middle">TNF<tspan font-size="4.5" dy="-2.3">+</tspan><tspan dy="2.3">​</tspan>IFNγ<tspan font-size="4.5" dy="-2.3">+</tspan><tspan dy="2.3">​</tspan></text>
<text x="440.0" y="8.2" font-size="10.5" font-weight="bold">d</text>
<rect x="451.7" y="18.8" width="64.2" height="64.6" fill="none" stroke="#777" stroke-width="0.6"/>
<line x1="450.5" y1="26.6" x2="451.7" y2="26.6" stroke="#666" stroke-width="0.4"/>
<line x1="450.5" y1="35.0" x2="451.7" y2="35.0" stroke="#666" stroke-width="0.4"/>
<line x1="450.5" y1="43.3" x2="451.7" y2="43.3" stroke="#666" stroke-width="0.4"/>
<line x1="450.5" y1="51.7" x2="451.7" y2="51.7" stroke="#666" stroke-width="0.4"/>
<line x1="450.5" y1="60.1" x2="451.7" y2="60.1" stroke="#666" stroke-width="0.4"/>
<line x1="450.5" y1="68.5" x2="451.7" y2="68.5" stroke="#666" stroke-width="0.4"/>
<line x1="450.5" y1="76.9" x2="451.7" y2="76.9" stroke="#666" stroke-width="0.4"/>
<line x1="459.4" y1="83.4" x2="459.4" y2="84.6" stroke="#666" stroke-width="0.4"/>
<line x1="467.8" y1="83.4" x2="467.8" y2="84.6" stroke="#666" stroke-width="0.4"/>
<line x1="476.1" y1="83.4" x2="476.1" y2="84.6" stroke="#666" stroke-width="0.4"/>
<line x1="484.4" y1="83.4" x2="484.4" y2="84.6" stroke="#666" stroke-width="0.4"/>
<line x1="492.8" y1="83.4" x2="492.8" y2="84.6" stroke="#666" stroke-width="0.4"/>
<line x1="501.1" y1="83.4" x2="501.1" y2="84.6" stroke="#666" stroke-width="0.4"/>
<line x1="509.5" y1="83.4" x2="509.5" y2="84.6" stroke="#666" stroke-width="0.4"/>
<text x="455.2" y="26.4" font-size="6.3">45.1</text>
<text x="512.4" y="26.4" font-size="6.3" text-anchor="end">4.01</text>
<text x="455.2" y="79.2" font-size="6.3">35.2</text>
<text x="512.4" y="79.2" font-size="6.3" text-anchor="end">15.7</text>
<text x="483.8" y="16.9" font-size="6.5" text-anchor="middle">Control</text>
<text x="454.5" y="34.8" font-size="6.3">Tex<tspan font-size="4.5" dy="-2.3">term</tspan><tspan dy="2.3">​</tspan></text>
<text x="513.0" y="72.3" font-size="6.3" text-anchor="end">Tpex</text>
<path d="M476.5 72.8l.3-.1 .4 0 .6-.1 .2-.1 .5-.1 .5 .1 .5 0 .3 0 .4 0 .3-.2 .5 0 .5 0 .3-.1 .4-.1 .6 0 .3-.1 .4-.2 .5 0 .2-.2 .6 0 .2-.3 .5 .1 .3-.3 .3-.1 .4-.1 .3-.2 .4-.2 .3-.1 .3-.2 .4-.2 .2-.2 .4-.1 .2-.3 .2-.3 .3-.2 .1-.4 .2-.3 .3-.2 .1-.4 .1-.4 0-.4 .3-.3-.3-.3 .1-.4-.2-.4-.1-.4-.2-.2-.3-.3-.1-.4-.3-.2-.2-.3-.2-.2-.4-.2-.3-.2-.3-.1-.3-.3-.4-.1-.3-.1-.3-.3-.3-.1-.4-.2-.3-.2-.5-.1-.2-.2-.6 0-.2-.2-.5 0-.4-.1-.3-.1-.6 .1-.4-.2-.3-.1-.5 0-.5-.1-.3-.3-.4 0-.4-.1-.4 0-.4 0-.4 .1-.3-.1-.4-.1-.5 .1-.5 0-.3 .1-.4 0-.6 .1-.4-.1-.6 0-.2 .2-.2 0-.6-.1 0-.3 .4-.1 .2-.2 .4-.3 .3-.2 .3-.3 .2-.2 .2-.3 .3-.2 .3-.3 0-.2 .2-.3 .3-.3 .2-.4 0-.3 .3-.3-.1-.2 .2-.2-.1-.6-.1-.2 .1-.4 0-.4-.1-.2-.1-.5 0-.5 0-.5 0-.5 0-.5-.1-.4 0-.2 0-.3-.1-.4-.2-.3-.1-.4-.1-.3-.2-.4-.2-.3-.1-.5-.2-.2-.1-.3-.2-.3-.2-.2-.3-.3-.3-.3-.4-.2-.2-.2-.4-.1-.2-.2-.4-.2-.4-.1-.2-.2-.4-.2-.4 0-.4 0-.3-.3-.5 0-.5 0-.5 0-.4-.2-.2 0-.4 .1-.5-.1-.3 0-.4-.1-.6 0-.2 .2-.5-.1-.4 .3-.3 .2-.3 .1-.3 .2-.2 .2-.2 .3-.5 .2-.2 .2-.3 .1-.3 .3-.3 .2-.2 .3-.2 .2-.3 .3-.3 .2-.1 .4-.3 .3-.2 .3-.1 .3-.1 .4-.2 .3-.2 .4-.1 .3 0 .5-.2 .2 0 .6 0 .4-.1 .6-.2 .2 .2 .2 0 .6 0 .4-.1 .6 .3 .2 0 .5 .2 .5 0 .2 0 .3-.2 .5 0 .3-.3 .5 0 .4 0 .6-.2 .2 .2 .2 0 .6 0 .4 .3 .5 0 .2-.1 .3 .2 .3 0 .5 .1 .5 0 .3 0 .4 .1 .6-.2 .2 .2 .2 .1 .6 0 .4 0 .5 .1 .3 .2 .3 0 .5 .2 .4 .1 .3 .1 .5 .3 .2 0 .4 .3 .3 .1 .3 .2 .3 .3 .3 .2 .2 .2 .2 .3 .3 .2 .3 .5 .2 .3 .2 .2 0 .5 .3 .3 .2 .4 0 .3 .3 .5-.1 .5 0 .3 .1 .4 0 .3-.1 .5 0 .5-.1 .4 .2 .3 0 .6 0 .2 0 .2 .2 .6 0 .4 0 .4 0 .4 .3 .4 0 .4 0 .4 0 .6 .1 .4 .2 .3 0 .5 0 .5 0 .5 0 .5 0z" fill="#000" stroke="none"/>
<path d="M476.7 73l.3 0 .5 0 .5-.2 .2-.1 .5 .1 .3 0 .5 0 .5 .1 .5-.1 .3-.1 .4 0 .6 0 .3-.2 .4-.1 .5 0 .3-.2 .5-.1 .4 0 .3-.2 .5-.1 .2-.1 .6 0 .4-.2 .3-.1 .4-.2 .3-.1 .3-.1 .5-.2 .2-.1 .4-.2 .2-.3 .4-.2 .3-.2 .2-.3 .2-.3 .1-.2 .2-.5 .2-.3 .1-.2 .2-.5 0-.5 .2-.2 0-.6-.1-.4 0-.6-.2-.2-.1-.4-.3-.3-.1-.3-.2-.2-.3-.3-.3-.3-.3-.2-.2 0-.4-.2-.4-.3-.2-.2-.3-.1-.4-.2-.3-.2-.3-.2-.3-.2-.2-.2-.5-.2-.3-.1-.2-.2-.5 0-.5-.2-.5 .1-.3-.1-.4 0-.3 .1-.4-.1-.3-.2-.6 0-.2-.1-.4-.2-.4-.2-.2-.1-.5-.1-.5 0-.5 0-.5-.1-.5 .1-.5 .1-.2 .1-.6 .1-.3 .1-.4 0-.5 0-.4 0-.2-.2 .2-.3 .3-.3 .2-.2 .2-.2 .3-.3 .3-.3 .2-.2 .2-.2 .3-.3 .2-.4 .1-.3 .2-.3 .1-.5 .1-.2-.1-.3 0-.5 .2-.2-.1-.6 0-.4-.1-.3 0-.4 0-.1 0-.5 0-.5 0-.5-.2-.5 0-.2 0-.3 0-.3-.2-.4-.2-.3-.1-.4-.1-.3-.2-.3-.3-.3-.1-.4-.3-.3-.2-.3-.1-.2-.2-.3-.2-.3-.3-.3-.3-.1-.3-.2-.3-.3-.4-.2-.2-.1-.5-.2-.3-.1-.3-.1-.4-.2-.5 0-.2-.2-.6-.1-.4 0-.6 0-.2-.1-.2-.2-.6-.1-.4 .1-.6-.1-.4-.1-.6 0-.4 .2-.4 0-.4 .2-.2 .1-.4 .2-.4 .3-.2 .1-.3 .2-.3 .2-.2 .2-.2 .3-.5 .2-.2 .2-.2 .3-.3 .3-.2 .2-.3 .2-.2 .3-.2 .3-.2 .4-.3 .3 0 .3-.2 .4-.1 .3-.1 .4-.2 .3 0 .6-.1 .2-.1 .5-.1 .5 0 .5-.2 .3-.1 .4 .1 .6 0 .4 0 .6 .1 .4 .1 .3 0 .5 0 .5-.1 .3-.1 .4-.1 .6 0 .4 0 .3-.2 .5 .2 .4 .1 .4 0 .4 .1 .6 .1 .2 0 .5 .2 .5 0 .3 0 .5 .1 .4-.1 .5 0 .3 .1 .2 .2 .3 .1 .5 .1 .5 0 .4 .2 .3 0 .6 .2 .2 0 .5 .1 .3 .2 .4 .1 .3 .2 .4 .2 .3 0 .3 .3 .3 .3 .4 .2 .3 .2 .2 .3 .3 .2 .2 .3 .3 .2 .1 .4 .2 .4 .2 .2 .1 .4 .1 .4 .1 .3 .2 .5 0 .4 0 .5 .3 .3 0 .3 0 .3-.3 .4-.1 .5-.1 .5 .2 .5-.1 .5-.1 .2 .2 .3 0 .5 0 .5 0 .3 .2 .3 .1 .4 0 .5 .1 .5 0 .4 .1 .3 .2 .6 0 .4-.1 .6 0 .4-.1 .5 0zM474 60.1l0-.1 0 .1z" fill="none" stroke="#000" stroke-width="0.35"/>
<ellipse cx="467.9" cy="55.4" rx="0.9" ry="1.5" fill="#fff"/>
<rect x="521.8" y="18.8" width="66.5" height="64.6" fill="none" stroke="#777" stroke-width="0.6"/>
<line x1="520.6" y1="26.6" x2="521.8" y2="26.6" stroke="#666" stroke-width="0.4"/>
<line x1="520.6" y1="35.0" x2="521.8" y2="35.0" stroke="#666" stroke-width="0.4"/>
<line x1="520.6" y1="43.3" x2="521.8" y2="43.3" stroke="#666" stroke-width="0.4"/>
<line x1="520.6" y1="51.7" x2="521.8" y2="51.7" stroke="#666" stroke-width="0.4"/>
<line x1="520.6" y1="60.1" x2="521.8" y2="60.1" stroke="#666" stroke-width="0.4"/>
<line x1="520.6" y1="68.5" x2="521.8" y2="68.5" stroke="#666" stroke-width="0.4"/>
<line x1="520.6" y1="76.9" x2="521.8" y2="76.9" stroke="#666" stroke-width="0.4"/>
<line x1="529.8" y1="83.4" x2="529.8" y2="84.6" stroke="#666" stroke-width="0.4"/>
<line x1="538.4" y1="83.4" x2="538.4" y2="84.6" stroke="#666" stroke-width="0.4"/>
<line x1="547.1" y1="83.4" x2="547.1" y2="84.6" stroke="#666" stroke-width="0.4"/>
<line x1="555.7" y1="83.4" x2="555.7" y2="84.6" stroke="#666" stroke-width="0.4"/>
<line x1="564.4" y1="83.4" x2="564.4" y2="84.6" stroke="#666" stroke-width="0.4"/>
<line x1="573.0" y1="83.4" x2="573.0" y2="84.6" stroke="#666" stroke-width="0.4"/>
<line x1="581.6" y1="83.4" x2="581.6" y2="84.6" stroke="#666" stroke-width="0.4"/>
<text x="525.3" y="26.4" font-size="6.3">28.5</text>
<text x="584.8" y="26.4" font-size="6.3" text-anchor="end">3.40</text>
<text x="525.3" y="79.2" font-size="6.3">36.0</text>
<text x="584.8" y="79.2" font-size="6.3" text-anchor="end">32.1</text>
<text x="555.0" y="16.9" font-size="6.5" text-anchor="middle">KLHL6-OE</text>
<text x="524.6" y="34.8" font-size="6.3">Tex<tspan font-size="4.5" dy="-2.3">term</tspan><tspan dy="2.3">​</tspan></text>
<text x="585.4" y="72.3" font-size="6.3" text-anchor="end">Tpex</text>
<path d="M541.1 62l.7-.2 .7 0 .7 .1 .6-.3 .7 .1 .5-.3 .5-.2 .5-.3 .5-.3 .5-.3 .5-.2 .3-.3 .5-.3 .5-.4 .3-.3 .3-.6 .4-.3 .2-.5 .2-.5 .3-.5 .2-.6 .3-.6 0-.7 0-.7-.3-.6-.2-.6-.3-.5-.2-.6-.2-.5-.3-.2-.3-.6-.3-.4-.4-.6-.4-.2-.3-.4-.5-.4-.5-.2-.6-.2-.4-.2-.6-.2-.7-.1-.7 0-.6-.2-.7 0-.7 .1-.7-.2-.3 .2-.8 0-.8 0-.7 0-.5 .2-.6 .1-.6 .2-.6 .2-.4 .2-.6 .3-.4 .2-.4 .4-.4 .4-.5 .3-.3 .3-.4 .5 0 .5-.3 .5-.2 .7-.3 .6-.2 .4-.2 .6-.3 .4-.1 .6 0 .6 .1 .6-.1 .3 .2 .7 .1 .5 .3 .5 .4 .5 .3 .3 .5 .4 .5 .3 .5 .2 .4 .3 .4 .3 .7 .2 .5 .1 .5 .3 .5 .3 .5 .3 .5 .1 .5 .3 .7 0 .8 0 .8 0 .3 .1z" fill="#999"/>
<path d="M541.1 62l.7-.2 .7 0 .7 .1 .6-.3 .7 .1 .5-.3 .5-.2 .5-.3 .5-.3 .5-.3 .5-.2 .3-.3 .5-.3 .5-.4 .3-.3 .3-.6 .4-.3 .2-.5 .2-.5 .3-.5 .2-.6 .3-.6 0-.7 0-.7-.3-.6-.2-.6-.3-.5-.2-.6-.2-.5-.3-.2-.3-.6-.3-.4-.4-.6-.4-.2-.3-.4-.5-.4-.5-.2-.6-.2-.4-.2-.6-.2-.7-.1-.7 0-.6-.2-.7 0-.7 .1-.7-.2-.3 .2-.8 0-.8 0-.7 0-.5 .2-.6 .1-.6 .2-.6 .2-.4 .2-.6 .3-.4 .2-.4 .4-.4 .4-.5 .3-.3 .3-.4 .5 0 .5-.3 .5-.2 .7-.3 .6-.2 .4-.2 .6-.3 .4-.1 .6 0 .6 .1 .6-.1 .3 .2 .7 .1 .5 .3 .5 .4 .5 .3 .3 .5 .4 .5 .3 .5 .2 .4 .3 .4 .3 .7 .2 .5 .1 .5 .3 .5 .3 .5 .3 .5 .1 .5 .3 .7 0 .8 0 .8 0 .3 .1zM540.4 61.2l.6 0 .8-.1 .7 0 .7-.1 .6-.1 .6-.1 .6-.2 .5-.2 .5-.3 .5-.3 .5-.2 .4-.4 .4-.2 .4-.4 .4-.4 .3-.4 .3-.6 .3-.4 .3-.5 .2-.4 .1-.7 .3-.4 0-.8-.3-.5-.1-.5-.3-.5-.2-.5-.3-.6-.3-.4-.1-.5-.5-.5-.3-.3-.5-.4-.3-.3-.4-.4-.6-.3-.4-.2-.6-.1-.7-.1-.7 0-.8-.1-.8 .1-.6 .1-.6 0-.8 .1-.7-.1-.7 .1-.6 .2-.2-.1-.8 .3-.4 .2-.6 .2-.4 .2-.6 .2-.4 .4-.4 .3-.4 .3-.3 .5-.2 .6-.3 .5-.1 .6-.3 .5-.2 .5-.2 .5-.3 .5 0 .7-.2 .6 0 .7 .2 .5 .2 .5 .3 .5 .4 .5 .3 .3 .5 .3 .5 .1 .5 .3 .6 .3 .6 .2 .5 .2 .5 .2 .5 .3 .5 .3 .5 .1 .5 .3 .8-.1 .6-.1zM540.3 60.5l.7-.1 .8-.1 .7 0 .5-.1 .8-.2 .4-.2 .6-.1 .4-.2 .6-.3 .6-.2 .4-.2 .4-.4 .6-.3 .2-.3 .2-.6 .3-.4 .3-.6 .2-.5 .2-.7 .2-.5-.2-.5-.2-.8-.2-.4-.3-.6-.3-.4-.2-.6-.2-.3-.6-.3-.3-.4-.3-.4-.4-.3-.4-.3-.6-.3-.4-.2-.8-.1-.8 0-.7 0-.6 .2-.7 0-.7 .1-.7 0-.8 .1-.5 .2-.5 .1-.8 .2-.4 .2-.6 .2-.4 .2-.5 .4-.3 .3-.5 .4-.2 .6-.2 .4-.2 .6-.3 .4-.2 .6-.3 .4-.2 .6-.1 .7-.1 .5 .1 .5 .2 .7 .2 .4 .3 .4 .5 .4 .5 .2 .5 .3 .5 .2 .5 .2 .6 .2 .5 .3 .5 .2 .5 .2 .7 .3 .4 .1 .8 0zM540.2 59.8l.6-.1 .7-.1 .7-.1 .6-.1 .4-.2 .8-.2 .5-.2 .5-.2 .5-.2 .5-.2 .5-.3 .5-.3 .3-.4 .2-.4 .3-.6 .2-.5 .2-.7 .2-.5-.2-.5-.2-.8-.2-.4-.3-.4-.3-.4-.4-.5-.3-.3-.4-.4-.3-.4-.6-.4-.3-.2-.7-.3-.4-.1-.8 0-.8 0-.6 .1-.6 .1-.8 .1-.7 0-.5 .2-.5 .1-.7 .2-.6 .2-.4 .3-.6 .2-.3 .3-.4 .4-.4 .4-.2 .5-.3 .5-.3 .5-.2 .5-.3 .5-.1 .5-.2 .5 0 .5 .1 .8 .3 .4 .3 .5 .5 .3 .5 .2 .5 .3 .5 .2 .6 .1 .4 .3 .6 .2 .4 .2 .8 .2 .5 .1 .7 0zM541.6 58.8l.6-.1 .6-.2 .7-.2 .5-.2 .5-.2 .5-.2 .5-.2 .5-.4 .5-.3 .3-.5 .2-.4 .2-.6 .2-.5-.1-.8-.1-.5-.3-.5-.3-.5-.4-.3-.4-.4-.3-.4-.5-.4-.3-.2-.5-.4-.4-.2-.8-.1-.8 0-.7 .1-.5 .1-.8 .1-.7 .1-.5 .2-.5 .1-.6 .2-.6 .2-.5 .3-.3 .3-.5 .4-.3 .3-.3 .5-.3 .5-.3 .5-.3 .5-.1 .5-.1 .8 .1 .7 .3 .5 .3 .4 .5 .2 .5 .2 .5 .2 .7 .2 .6 .2 .4 .2 .6 .2 .7 .2 .7-.1 .8-.1 .6 0zM540.8 58l.7-.1 .7-.1 .6-.2 .4-.1 .7-.3 .6-.2 .5-.2 .4-.3 .4-.3 .3-.4 .3-.6 .2-.4-.1-.8-.2-.5-.3-.4-.3-.3-.5-.5-.3-.3-.4-.3-.5-.4-.5-.2-.5-.2-.8-.1-.7 .2-.5 .1-.8 .1-.5 0-.7 .3-.5 .1-.5 .2-.5 .2-.5 .3-.5 .5-.3 .2-.3 .5-.3 .5-.3 .5-.1 .5-.1 .8 .2 .4 .3 .6 .6 .2 .5 .2 .5 .2 .6 .1 .6 .3 .6 .1 .5 .1 .7 .1 .6-.1zM541.3 57l.7-.1 .5-.1 .7-.2 .6-.2 .5-.2 .5-.2 .4-.4 .3-.4 .3-.4 0-.6-.3-.5-.4-.5-.3-.3-.6-.4-.4-.3-.5-.2-.5-.1-.8-.1-.8 .2-.4 0-.8 .1-.8 .1-.4 .1-.6 .2-.5 .3-.5 .3-.4 .4-.3 .3-.3 .4-.2 .8 .2 .8 .3 .3 .5 .2 .5 .2 .7 .3 .6 .1 .5 .1 .7 .1 .8 0 .5-.1zM540.9 56l.6-.1 .7 0 .8-.1 .5-.1 .5-.2 .5-.3 .5-.4 0-.5-.2-.3-.6-.4-.4-.3-.6-.2-.4-.1-.8 0-.5 .1-.7 0-.8-.1-.8 .1-.6 .1-.6 .3-.4 .3-.4 .2-.4 .5 .2 .5 .5 .4 .5 .3 .5 .1 .7 .2 .6 .1 .7 0zM540.6 55l.6-.1 .8 0 .8 0 .7-.1 .5-.3-.2-.2-.6-.2-.7-.1-.7 .1-.8 0-.8-.1-.4 0-.6 0-.7 .2-.5 .3 .2 .2 .6 .2 .4 .1 .8 .1 .6-.1z" fill="none" stroke="#000" stroke-width="0.35"/>
<path d="M551.4 72.8l.4-.1 .4 0 .6 0 .4 0 .5-.2 .3-.1 .5 0 .5 .1 .5-.2 .5 .1 .5-.1 .3-.1 .4 0 .3-.2 .5-.2 .2-.1 .3-.3 .5 0 .2-.3 .4-.1 .4-.2 .3 0 .5-.2 .2-.3 .4-.1 .2-.2 .4-.1 .2-.2 .3-.3 .4-.2 .3-.2 .3-.2 .3-.3 .2-.2 .2-.3 .1-.2 .2-.3 .1-.5-.1-.5 0-.3 0-.4-.1-.6-.3-.2-.1-.3-.2-.3-.3-.2-.2-.4-.3-.1-.2-.2-.3-.3-.3-.3-.4-.1-.2-.3-.4-.2-.2-.3-.3 0-.5-.2-.2-.3-.5 .1-.3-.3-.3-.1-.4 0-.5 0-.5-.2-.3 0-.3-.2-.4-.1-.5-.1-.2-.2-.6-.1-.2-.1-.3-.2-.5-.2-.4 0-.4 0-.4-.2-.5-.1-.5 .1-.5 0-.5 .1-.2 .1-.6 0-.4 .1-.6 0-.4 .1-.6 0-.4 0-.6-.1-.4 0-.6 0-.4 0-.6 0-.2 .3-.5 0-.4-.2-.3-.2-.2-.3-.3-.3-.3 0-.2-.3-.5-.1-.3-.1-.2-.5 .3-.2-.2-.2 .1-.6-.1-.4-.1-.6-.1-.2-.2-.4-.3-.2-.2-.2-.4-.2-.4-.2-.3 0-.4-.2-.3-.2-.4 0-.3-.3-.5 0-.5-.1-.3 0-.4 0-.6-.1-.4 .1-.3 0-.4 .2-.3 .1-.3 .2-.5 .3-.2 0-.3 .3-.3 .2-.2 .3-.2 .3-.2 .3-.2 .3-.2 .5 0 .2 0 .5 0 .1 0 .4 .1 .3 .1 .5 .1 .2 .2 .6 .1 .2 .2 .3 .2 .5-.3 .2-.3 .2-.1 .4-.3 .2-.1 .4-.3 .3 0 .5-.3 .2 0 .6 0 .2 0 .5-.3 .3 0 .4 .3 .3 0 .3 .1 .4 0 .6 .3 .2 .1 .5 .2 .2 .3 .3 .3 .2 .2 .3 .2 .3 .3 .2 .2 .2 .2 .3 .3 .3 .2 .2 .2 .2 .2 .3 .4 .3 .3 .1 .3 .2 .3 .1 .4 .2 .5 0 .2 .3 .3 .1 .5 0 .5 0 .4 .2 .3 0 .3 0 .5 0 .5 0 .3 0 .4 0 .4 .2 .4 .1 .5 .1 .3 .1 .4 .1 .6-.1 .2 0 .3 0 .5 .2 .4-.1 .6 0 .4 0 .6 0 .4 .2 .3 0 .5 .1 .5 0 .5 0 .5 .1 .5 0 .5 0 .5-.2 .4 0z" fill="#000" stroke="none"/>
<path d="M551.4 73.2l.4 0 .4 0 .6-.1 .4 0 .6-.1 .2-.1 .5 0 .5 0 .5-.1 .5 .1 .5 0 .4-.1 .3-.1 .5-.2 .3-.2 .4-.1 .3-.2 .3-.1 .2-.2 .3-.2 .4-.3 .3 0 .5-.2 .3-.1 .2-.2 .5-.2 .3-.2 .2-.1 .3-.2 .5-.2 .2-.2 .3-.2 .3-.2 .2-.2 .3-.2 .2-.3 .3-.4 .2-.3 .1-.3 0-.5 0-.5-.1-.5 0-.2-.1-.6-.1-.3-.3-.3-.3-.2-.2-.2-.2-.3-.2-.4-.4-.1-.2-.2-.2-.3-.3-.3-.3-.1-.2-.3-.2-.3-.3-.1-.3-.3-.4-.3-.3-.1-.3-.1-.4 0-.6-.1-.4-.1-.6 .1-.4-.1-.3 0-.1 0-.3-.3-.3-.1-.6-.1-.2-.3-.2-.1-.4-.1-.4-.2-.2-.2-.6-.1-.2-.1-.5 0-.5-.2-.2 0-.3 0-.5 .1-.5 .1-.4 0-.3 .1-.6 .1-.3 .1-.4 .1-.5 0-.5 0-.5 0-.5-.1-.3 0-.4-.1-.6 0-.4 0-.6 0-.2 .1-.5 .3-.3-.3-.2-.3-.3-.2-.3-.2-.4-.2-.3-.1-.3-.3 .1-.2 0-.4 0-.4 .1-.2 0-.5-.1-.3-.2-.4-.1-.3-.2-.3-.4-.2-.4-.2-.2-.2-.2-.1-.6-.2-.2-.1-.5-.2-.3 0-.4-.2-.3-.1-.5 0-.5-.2-.3-.1-.4-.1-.6 .2-.4 0-.3 0-.5 .2-.2 .1-.5 .2-.3 .1-.2 .2-.5 .2-.2 .3-.3 .2-.2 .2-.2 .3-.2 .3-.1 .4-.1 .4-.1 .4 0 .5-.1 .4 0 .1 .2 .3 0 .5 .2 .4 0 .4 .2 .4 .1 .3 .1 .5-.2 .2-.2 .2-.2 .3-.2 .3-.3 .4-.1 .3-.2 .3-.2 .4 0 .3-.1 .5-.1 .4-.2 .4-.1 .4 .3 .4 .1 .4 .1 .5 0 .3 .2 .3 .3 .3 .2 .4 .2 .2 .3 .2 .3 .3 .1 .3 .2 .2 .3 .2 .3 .3 .1 .4 .4 .1 .2 .2 .2 .3 .2 .3 .5 .2 .2 .2 .3 .1 .3 .2 .4 .2 .6 0 .2 .1 .2 .2 .6 .1 .4 .1 .3 .1 .3 .2 .4 .1 .3-.1 .5 0 .2 0 .6 0 .4 .1 .3 .2 .5 .1 .5 0 .3 .2 .4-.1 .5 0 .3 0 .2 .1 .6 0 .4-.1 .3 0 .5-.1 .5 0 .4 .1 .3 .1 .6 .1 .4 0 .3 .1 .5 .1 .5 0 .5 .1 .5 0 .5-.1 .4-.2z" fill="none" stroke="#000" stroke-width="0.35"/>
<ellipse cx="545" cy="65.8" rx="3.5" ry="0.5" fill="#fff"/>
<line x1="476.7" y1="18.8" x2="476.7" y2="83.4" stroke="#111" stroke-width="0.8"/>
<line x1="451.7" y1="60.3" x2="515.9" y2="60.3" stroke="#111" stroke-width="0.8"/>
<line x1="547.5" y1="18.8" x2="547.5" y2="83.4" stroke="#111" stroke-width="0.8"/>
<line x1="521.8" y1="60.3" x2="588.3" y2="60.3" stroke="#111" stroke-width="0.8"/>
<text x="446.5" y="52.3" font-size="6.5" text-anchor="middle" transform="rotate(-90 446.5 50.0)">TIM-3 PE-Cy7</text>
<text x="452.8" y="96.4" font-size="6.5">Ly108 APC</text>
<line x1="488.0" y1="94.1" x2="585.8" y2="94.1" stroke="#231f20" stroke-width="0.7"/>
<path d="M584.9,92.8 L588.0,94.1 L584.9,95.4 Z" fill="#231f20"/>
<rect x="626.3" y="3.9" width="8.8" height="4.4" fill="#168ca6" stroke="#222" stroke-width="0.4"/>
<text x="637.0" y="8.4" font-size="6.5">Control</text>
<rect x="626.3" y="14.0" width="8.8" height="4.4" fill="#f67d7b" stroke="#222" stroke-width="0.4"/>
<text x="637.0" y="18.5" font-size="6.5">KLHL6-OE</text>
<line x1="623.4" y1="24.6" x2="623.4" y2="83.9" stroke="#555" stroke-width="0.6"/>
<line x1="621.4" y1="24.6" x2="623.4" y2="24.6" stroke="#555" stroke-width="0.6"/>
<text x="620.2" y="27.0" font-size="6.7" text-anchor="end">60</text>
<line x1="621.4" y1="44.4" x2="623.4" y2="44.4" stroke="#555" stroke-width="0.6"/>
<text x="620.2" y="46.8" font-size="6.7" text-anchor="end">40</text>
<line x1="621.4" y1="64.1" x2="623.4" y2="64.1" stroke="#555" stroke-width="0.6"/>
<text x="620.2" y="66.5" font-size="6.7" text-anchor="end">20</text>
<line x1="621.4" y1="83.9" x2="623.4" y2="83.9" stroke="#555" stroke-width="0.6"/>
<text x="620.2" y="86.3" font-size="6.7" text-anchor="end">0</text>
<line x1="623.4" y1="83.9" x2="685.0" y2="83.9" stroke="#555" stroke-width="0.6"/>
<line x1="639.5" y1="83.9" x2="639.5" y2="85.9" stroke="#555" stroke-width="0.6"/>
<line x1="670.8" y1="83.9" x2="670.8" y2="85.9" stroke="#555" stroke-width="0.6"/>
<text x="597.0" y="57.3" font-size="6.5" text-anchor="middle" transform="rotate(-90 597.0 55.0)">Percentage among</text>
<text x="605.0" y="57.3" font-size="6.5" text-anchor="middle" transform="rotate(-90 605.0 55.0)">CD8<tspan font-size="4.5" dy="-2.3">+</tspan><tspan dy="2.3">​</tspan> T cells (%)</text>
<rect x="630.0" y="68.5" width="7.0" height="15.4" fill="#168ca6" stroke="#222" stroke-width="0.5"/>
<line x1="633.5" y1="67.1" x2="633.5" y2="70.1" stroke="#222" stroke-width="0.6"/>
<line x1="631.5" y1="67.1" x2="635.5" y2="67.1" stroke="#222" stroke-width="0.6"/>
<circle cx="634.0" cy="67.0" r="1.05" fill="#fff" stroke="#222" stroke-width="0.45"/>
<circle cx="634.7" cy="65.9" r="1.05" fill="#fff" stroke="#222" stroke-width="0.45"/>
<circle cx="634.5" cy="66.0" r="1.05" fill="#fff" stroke="#222" stroke-width="0.45"/>
<circle cx="631.6" cy="68.7" r="1.05" fill="#fff" stroke="#222" stroke-width="0.45"/>
<circle cx="635.3" cy="67.6" r="1.05" fill="#fff" stroke="#222" stroke-width="0.45"/>
<circle cx="635.1" cy="70.8" r="1.05" fill="#fff" stroke="#222" stroke-width="0.45"/>
<rect x="641.4" y="56.2" width="7.4" height="27.7" fill="#f67d7b" stroke="#222" stroke-width="0.5"/>
<line x1="645.1" y1="54.3" x2="645.1" y2="58.2" stroke="#222" stroke-width="0.6"/>
<line x1="643.1" y1="54.3" x2="647.1" y2="54.3" stroke="#222" stroke-width="0.6"/>
<circle cx="645.0" cy="57.7" r="1.05" fill="#fff" stroke="#222" stroke-width="0.45"/>
<circle cx="645.3" cy="55.8" r="1.05" fill="#fff" stroke="#222" stroke-width="0.45"/>
<circle cx="643.2" cy="57.9" r="1.05" fill="#fff" stroke="#222" stroke-width="0.45"/>
<circle cx="644.2" cy="53.8" r="1.05" fill="#fff" stroke="#222" stroke-width="0.45"/>
<circle cx="646.2" cy="58.2" r="1.05" fill="#fff" stroke="#222" stroke-width="0.45"/>
<circle cx="646.3" cy="58.4" r="1.05" fill="#fff" stroke="#222" stroke-width="0.45"/>
<rect x="661.6" y="42.2" width="7.4" height="41.7" fill="#168ca6" stroke="#222" stroke-width="0.5"/>
<line x1="665.3" y1="39.9" x2="665.3" y2="44.4" stroke="#222" stroke-width="0.6"/>
<line x1="663.3" y1="39.9" x2="667.3" y2="39.9" stroke="#222" stroke-width="0.6"/>
<circle cx="665.8" cy="45.3" r="1.05" fill="#fff" stroke="#222" stroke-width="0.45"/>
<circle cx="663.3" cy="39.5" r="1.05" fill="#fff" stroke="#222" stroke-width="0.45"/>
<circle cx="664.1" cy="44.6" r="1.05" fill="#fff" stroke="#222" stroke-width="0.45"/>
<circle cx="667.2" cy="39.4" r="1.05" fill="#fff" stroke="#222" stroke-width="0.45"/>
<circle cx="664.5" cy="38.7" r="1.05" fill="#fff" stroke="#222" stroke-width="0.45"/>
<circle cx="665.5" cy="41.0" r="1.05" fill="#fff" stroke="#222" stroke-width="0.45"/>
<circle cx="665.3" cy="33.5" r="1.05" fill="#fff" stroke="#222" stroke-width="0.45"/>
<rect x="673.4" y="55.2" width="7.0" height="28.7" fill="#f67d7b" stroke="#222" stroke-width="0.5"/>
<line x1="676.9" y1="53.3" x2="676.9" y2="57.2" stroke="#222" stroke-width="0.6"/>
<line x1="674.9" y1="53.3" x2="678.9" y2="53.3" stroke="#222" stroke-width="0.6"/>
<circle cx="675.7" cy="52.6" r="1.05" fill="#fff" stroke="#222" stroke-width="0.45"/>
<circle cx="677.7" cy="52.5" r="1.05" fill="#fff" stroke="#222" stroke-width="0.45"/>
<circle cx="678.5" cy="56.4" r="1.05" fill="#fff" stroke="#222" stroke-width="0.45"/>
<circle cx="676.3" cy="57.2" r="1.05" fill="#fff" stroke="#222" stroke-width="0.45"/>
<circle cx="675.5" cy="57.8" r="1.05" fill="#fff" stroke="#222" stroke-width="0.45"/>
<circle cx="676.1" cy="54.6" r="1.05" fill="#fff" stroke="#222" stroke-width="0.45"/>
<circle cx="677.5" cy="48.3" r="1.05" fill="#fff" stroke="#222" stroke-width="0.45"/>
<line x1="633.0" y1="43.0" x2="645.8" y2="43.0" stroke="#222" stroke-width="0.6"/>
<text x="639.4" y="43.6" font-size="8" text-anchor="middle">****</text>
<line x1="664.7" y1="27.6" x2="677.0" y2="27.6" stroke="#222" stroke-width="0.6"/>
<text x="670.9" y="28.2" font-size="8" text-anchor="middle">****</text>
<text x="639.5" y="94.8" font-size="6.5" text-anchor="middle">Tpex</text>
<text x="671.0" y="94.8" font-size="6.5" text-anchor="middle">Tex<tspan font-size="4.5" dy="-2.3">term</tspan><tspan dy="2.3">​</tspan></text>
<text x="0.0" y="127.6" font-size="10.5" font-weight="bold">e</text>
<rect x="43.2" y="129.4" width="9.1" height="3.8" fill="#168ca6" stroke="#222" stroke-width="0.4"/>
<text x="54.6" y="133.6" font-size="6.5">Control</text>
<rect x="43.2" y="139.5" width="9.1" height="3.8" fill="#f67d7b" stroke="#222" stroke-width="0.4"/>
<text x="54.6" y="143.7" font-size="6.5">KLHL6-OE</text>
<line x1="40.5" y1="151.6" x2="40.5" y2="209.2" stroke="#555" stroke-width="0.6"/>
<line x1="38.5" y1="151.6" x2="40.5" y2="151.6" stroke="#555" stroke-width="0.6"/>
<text x="37.3" y="154.0" font-size="6.7" text-anchor="end">1.0</text>
<line x1="38.5" y1="163.1" x2="40.5" y2="163.1" stroke="#555" stroke-width="0.6"/>
<text x="37.3" y="165.5" font-size="6.7" text-anchor="end">0.8</text>
<line x1="38.5" y1="174.6" x2="40.5" y2="174.6" stroke="#555" stroke-width="0.6"/>
<text x="37.3" y="177.1" font-size="6.7" text-anchor="end">0.6</text>
<line x1="38.5" y1="186.2" x2="40.5" y2="186.2" stroke="#555" stroke-width="0.6"/>
<text x="37.3" y="188.6" font-size="6.7" text-anchor="end">0.4</text>
<line x1="38.5" y1="197.7" x2="40.5" y2="197.7" stroke="#555" stroke-width="0.6"/>
<text x="37.3" y="200.1" font-size="6.7" text-anchor="end">0.2</text>
<line x1="38.5" y1="209.2" x2="40.5" y2="209.2" stroke="#555" stroke-width="0.6"/>
<text x="37.3" y="211.6" font-size="6.7" text-anchor="end">0</text>
<line x1="40.5" y1="209.2" x2="100.0" y2="209.2" stroke="#555" stroke-width="0.6"/>
<line x1="56.4" y1="209.2" x2="56.4" y2="211.2" stroke="#555" stroke-width="0.6"/>
<line x1="88.0" y1="209.2" x2="88.0" y2="211.2" stroke="#555" stroke-width="0.6"/>
<text x="13.9" y="187.7" font-size="6.7" text-anchor="middle" transform="rotate(-90 13.9 185.3)">CD45.1<tspan font-size="4.5" dy="-2.3">+</tspan><tspan dy="2.3">​</tspan>CD8<tspan font-size="4.5" dy="-2.3">+</tspan><tspan dy="2.3">​</tspan> per</text>
<text x="20.9" y="183.9" font-size="6.7" text-anchor="middle" transform="rotate(-90 20.9 181.5)">gram (×10<tspan font-size="4.5" dy="-2.3">5</tspan><tspan dy="2.3">​</tspan>)</text>
<rect x="46.8" y="204.0" width="8.1" height="5.2" fill="#168ca6" stroke="#222" stroke-width="0.5"/>
<line x1="50.8" y1="202.3" x2="50.8" y2="205.7" stroke="#222" stroke-width="0.6"/>
<line x1="48.8" y1="202.3" x2="52.8" y2="202.3" stroke="#222" stroke-width="0.6"/>
<circle cx="50.3" cy="194.8" r="1.05" fill="#fff" stroke="#222" stroke-width="0.45"/>
<circle cx="49.8" cy="202.3" r="1.05" fill="#fff" stroke="#222" stroke-width="0.45"/>
<circle cx="51.3" cy="203.4" r="1.05" fill="#fff" stroke="#222" stroke-width="0.45"/>
<circle cx="49.6" cy="204.6" r="1.05" fill="#fff" stroke="#222" stroke-width="0.45"/>
<circle cx="51.0" cy="205.7" r="1.05" fill="#fff" stroke="#222" stroke-width="0.45"/>
<circle cx="50.4" cy="206.9" r="1.05" fill="#fff" stroke="#222" stroke-width="0.45"/>
<circle cx="49.5" cy="203.4" r="1.05" fill="#fff" stroke="#222" stroke-width="0.45"/>
<rect x="58.4" y="181.6" width="7.6" height="27.6" fill="#f67d7b" stroke="#222" stroke-width="0.5"/>
<line x1="62.2" y1="176.9" x2="62.2" y2="186.2" stroke="#222" stroke-width="0.6"/>
<line x1="60.2" y1="176.9" x2="64.2" y2="176.9" stroke="#222" stroke-width="0.6"/>
<circle cx="62.2" cy="167.7" r="1.05" fill="#fff" stroke="#222" stroke-width="0.45"/>
<circle cx="60.8" cy="170.0" r="1.05" fill="#fff" stroke="#222" stroke-width="0.45"/>
<circle cx="62.0" cy="177.5" r="1.05" fill="#fff" stroke="#222" stroke-width="0.45"/>
<circle cx="60.9" cy="180.4" r="1.05" fill="#fff" stroke="#222" stroke-width="0.45"/>
<circle cx="61.0" cy="183.3" r="1.05" fill="#fff" stroke="#222" stroke-width="0.45"/>
<circle cx="62.0" cy="194.8" r="1.05" fill="#fff" stroke="#222" stroke-width="0.45"/>
<circle cx="63.2" cy="194.8" r="1.05" fill="#fff" stroke="#222" stroke-width="0.45"/>
<rect x="78.0" y="195.4" width="7.4" height="13.8" fill="#168ca6" stroke="#222" stroke-width="0.5"/>
<line x1="81.7" y1="191.9" x2="81.7" y2="198.8" stroke="#222" stroke-width="0.6"/>
<line x1="79.7" y1="191.9" x2="83.7" y2="191.9" stroke="#222" stroke-width="0.6"/>
<circle cx="80.6" cy="179.8" r="1.05" fill="#fff" stroke="#222" stroke-width="0.45"/>
<circle cx="80.9" cy="191.9" r="1.05" fill="#fff" stroke="#222" stroke-width="0.45"/>
<circle cx="82.1" cy="193.1" r="1.05" fill="#fff" stroke="#222" stroke-width="0.45"/>
<circle cx="83.0" cy="196.5" r="1.05" fill="#fff" stroke="#222" stroke-width="0.45"/>
<circle cx="81.9" cy="198.8" r="1.05" fill="#fff" stroke="#222" stroke-width="0.45"/>
<circle cx="81.4" cy="203.4" r="1.05" fill="#fff" stroke="#222" stroke-width="0.45"/>
<circle cx="83.1" cy="206.9" r="1.05" fill="#fff" stroke="#222" stroke-width="0.45"/>
<rect x="90.3" y="179.8" width="7.2" height="29.4" fill="#f67d7b" stroke="#222" stroke-width="0.5"/>
<line x1="93.9" y1="174.6" x2="93.9" y2="185.0" stroke="#222" stroke-width="0.6"/>
<line x1="91.9" y1="174.6" x2="95.9" y2="174.6" stroke="#222" stroke-width="0.6"/>
<circle cx="92.5" cy="156.2" r="1.05" fill="#fff" stroke="#222" stroke-width="0.45"/>
<circle cx="95.0" cy="167.2" r="1.05" fill="#fff" stroke="#222" stroke-width="0.45"/>
<circle cx="93.3" cy="177.5" r="1.05" fill="#fff" stroke="#222" stroke-width="0.45"/>
<circle cx="92.8" cy="181.6" r="1.05" fill="#fff" stroke="#222" stroke-width="0.45"/>
<circle cx="92.8" cy="189.0" r="1.05" fill="#fff" stroke="#222" stroke-width="0.45"/>
<circle cx="93.3" cy="191.9" r="1.05" fill="#fff" stroke="#222" stroke-width="0.45"/>
<circle cx="94.8" cy="196.5" r="1.05" fill="#fff" stroke="#222" stroke-width="0.45"/>
<line x1="51.0" y1="160.6" x2="62.2" y2="160.6" stroke="#222" stroke-width="0.6"/>
<text x="56.6" y="161.1" font-size="8" text-anchor="middle">***</text>
<line x1="81.2" y1="151.1" x2="92.8" y2="151.1" stroke="#222" stroke-width="0.6"/>
<text x="87.0" y="151.6" font-size="8" text-anchor="middle">*</text>
<text x="56.4" y="220.9" font-size="6.5" text-anchor="middle">Tpex</text>
<text x="88.0" y="220.9" font-size="6.5" text-anchor="middle">Tex<tspan font-size="4.5" dy="-2.3">term</tspan><tspan dy="2.3">​</tspan></text>
<text x="116.2" y="127.6" font-size="10.5" font-weight="bold">f</text>
<line x1="143.4" y1="128.7" x2="143.4" y2="208.3" stroke="#555" stroke-width="0.7"/>
<line x1="140.3" y1="135.2" x2="143.4" y2="135.2" stroke="#555" stroke-width="0.7"/>
<text x="137.6" y="137.5" font-size="6.5" text-anchor="end">100</text>
<line x1="140.3" y1="149.8" x2="143.4" y2="149.8" stroke="#555" stroke-width="0.7"/>
<text x="137.6" y="152.2" font-size="6.5" text-anchor="end">80</text>
<line x1="140.3" y1="164.4" x2="143.4" y2="164.4" stroke="#555" stroke-width="0.7"/>
<text x="137.6" y="166.8" font-size="6.5" text-anchor="end">60</text>
<line x1="140.3" y1="179.1" x2="143.4" y2="179.1" stroke="#555" stroke-width="0.7"/>
<text x="137.6" y="181.4" font-size="6.5" text-anchor="end">40</text>
<line x1="140.3" y1="193.7" x2="143.4" y2="193.7" stroke="#555" stroke-width="0.7"/>
<text x="137.6" y="196.0" font-size="6.5" text-anchor="end">20</text>
<line x1="140.3" y1="208.3" x2="143.4" y2="208.3" stroke="#555" stroke-width="0.7"/>
<text x="137.6" y="210.6" font-size="6.5" text-anchor="end">0</text>
<line x1="143.4" y1="208.3" x2="223.6" y2="208.3" stroke="#555" stroke-width="0.7"/>
<line x1="143.4" y1="208.3" x2="143.4" y2="211.0" stroke="#555" stroke-width="0.7"/>
<text x="0" y="0" font-size="6.5" text-anchor="end" transform="translate(146.0 216.2) rotate(-45)">0</text>
<line x1="152.3" y1="208.3" x2="152.3" y2="211.0" stroke="#555" stroke-width="0.7"/>
<text x="0" y="0" font-size="6.5" text-anchor="end" transform="translate(154.9 216.2) rotate(-45)">5</text>
<line x1="161.2" y1="208.3" x2="161.2" y2="211.0" stroke="#555" stroke-width="0.7"/>
<text x="0" y="0" font-size="6.5" text-anchor="end" transform="translate(163.8 216.2) rotate(-45)">10</text>
<line x1="170.1" y1="208.3" x2="170.1" y2="211.0" stroke="#555" stroke-width="0.7"/>
<text x="0" y="0" font-size="6.5" text-anchor="end" transform="translate(172.7 216.2) rotate(-45)">15</text>
<line x1="179.0" y1="208.3" x2="179.0" y2="211.0" stroke="#555" stroke-width="0.7"/>
<text x="0" y="0" font-size="6.5" text-anchor="end" transform="translate(181.6 216.2) rotate(-45)">20</text>
<line x1="187.9" y1="208.3" x2="187.9" y2="211.0" stroke="#555" stroke-width="0.7"/>
<text x="0" y="0" font-size="6.5" text-anchor="end" transform="translate(190.5 216.2) rotate(-45)">25</text>
<line x1="196.9" y1="208.3" x2="196.9" y2="211.0" stroke="#555" stroke-width="0.7"/>
<text x="0" y="0" font-size="6.5" text-anchor="end" transform="translate(199.5 216.2) rotate(-45)">30</text>
<line x1="205.8" y1="208.3" x2="205.8" y2="211.0" stroke="#555" stroke-width="0.7"/>
<text x="0" y="0" font-size="6.5" text-anchor="end" transform="translate(208.4 216.2) rotate(-45)">35</text>
<line x1="214.7" y1="208.3" x2="214.7" y2="211.0" stroke="#555" stroke-width="0.7"/>
<text x="0" y="0" font-size="6.5" text-anchor="end" transform="translate(217.3 216.2) rotate(-45)">40</text>
<line x1="223.6" y1="208.3" x2="223.6" y2="211.0" stroke="#555" stroke-width="0.7"/>
<text x="0" y="0" font-size="6.5" text-anchor="end" transform="translate(226.2 216.2) rotate(-45)">45</text>
<text x="183.5" y="230.8" font-size="6.5" text-anchor="middle">Days</text>
<text x="119.2" y="170.7" font-size="6.5" text-anchor="middle" transform="rotate(-90 119.2 168.4)">Percent survival</text>
<path d="M143.4,135.2 H203.1 V140.3 H206.8 V149.8 H217.4 V149.8" fill="none" stroke="#f59a98" stroke-width="1.1"/>
<path d="M143.4,135.2 H178.1 V140.3 H185.6 V144.7 H192.4 V159.3 H196.1 V179.1 H200.1 V186.4 H203.1 V201.0 H207.2 V208.3" fill="none" stroke="#2aa0c4" stroke-width="1.1"/>
<path d="M143.4,135.2 H176.4 V140.3 H178.1 V149.8 H182.2 V164.4 H185.6 V171.8 H189.4 V193.7 H192.9 V208.3" fill="none" stroke="#9b9b9b" stroke-width="1.1"/>
<line x1="227.2" y1="129.5" x2="234.6" y2="129.5" stroke="#9b9b9b" stroke-width="1.0"/>
<text x="238.0" y="131.8" font-size="6.5">PBS</text>
<line x1="227.2" y1="140.7" x2="234.6" y2="140.7" stroke="#2aa0c4" stroke-width="1.0"/>
<text x="238.0" y="143.0" font-size="6.5">Control</text>
<line x1="227.2" y1="151.6" x2="234.6" y2="151.6" stroke="#f59a98" stroke-width="1.0"/>
<text x="238.0" y="153.9" font-size="6.5">KLHL6-OE</text>
<line x1="273.4" y1="138.5" x2="273.4" y2="153.5" stroke="#231f20" stroke-width="0.6"/>
<text x="277.6" y="148.9" font-size="8" text-anchor="middle" transform="rotate(90 277.6 146.0)">****</text>
<text x="300.6" y="127.6" font-size="10.5" font-weight="bold">g</text>
<text x="353.8" y="129.3" font-size="6.5" text-anchor="middle">Leiden</text>
<path d="M327.2 191.3h0m9.3-6.6h0m-.9-12.3h0m-12.2 19.6h0m1.5 7.9h0m6.1-14.4h0m-4.4 0h0m5.6 14.8h0m5.8-11h0m-11.7 3.7h0m5.5-14.7h0m-5.8 13.4h0m-1.7-14.1h0m5.9 6.8h0m2.6 .2h0m-7.2-3.4h0m.3-16.5h0m5.9 12.9h0m-10.9 11.6h0m8.9-7.3h0m-7.5 8.2h0m-1 4.2h0m2.4-16.5h0m-5.1 8.3h0m8.7-9h0m6-6.2h0m-7.9 14h0m-3.6-7.8h0m10.2 7.7h0m-7.1-1.2h0m5.9-1.7h0m-5.2-5.5h0m-4.3 7.8h0m8.1-6.1h0m-.7 6.5h0m6 .9h0m-12.3-13.8h0m-1.3 13.9h0m6.8-4.9h0m2.8 3.4h0m-8.9-7.1h0m14.9-17.4h0m-3.9 25.2h0m-1.4 12.8h0m-1.6-16.4h0m3.9-13.8h0m-16 21.1h0m13.6-1.9h0m-.1 9.2h0m-1.8-12.7h0m-4.2 6.7h0m7.3-22h0m-8.6 29.2h0m3-9.3h0m2.5 9h0m-8.5-.2h0m10.3-13.5h0m-4.9 1.3h0m4.1-7.2h0m-7.1-11.9h0m11.3 19.3h0m-3.4 2.9h0m-5.4-12.4h0m5.6 17.9h0m4.4-6.1h0m3.7 3.6h0m-6.3-22.2h0m-2.9 25.4h0m-4-1.7h0m-6.3-7.2h0m15.8-3.1h0m-17.6 1.5h0m12.8 1.4h0m5.1-3.8h0m-20.3-15h0m9.1 28h0m-7.1-22.8h0m10.9 11.6h0m8.9 .3h0m3.6 5.6h0m-18.2 9.5h0m8.9-5.5h0m6.2 1.1h0m-8.2 5h0m-8.1-20.6h0m7.3-23.4h0m-2.2 34.7h0m-1.3 9.8h0m-3.7-1.5h0m7.8-17h0m-.5 4.5h0m-2.9 3.8h0m-.9-21h0m-7.4 11.5h0m5.6 .3h0m11.8 22.2h0m-9.7-22.4h0m10.6 6.7h0m-5.6-16.9h0m-3.3 7.1h0m-3.6 15.9h0m12.5-11.6h0m8.7-6.9h0m-23.7 22.7h0m1.2-9.7h0m8.7-13h0m-10 1.5h0m3.9 6.9h0m-.5 13.5h0m3.7-12.5h0m6.4 9.4h0m-7.5 10h0m6.2-3.8h0m-9.3 1.7h0m5.2-2.1h0m3.3-9h0m-9.7-4.5h0m8.2-9.6h0m-.3-5.1h0m5.5 4.8h0m-3.6 10.9h0m1.4-11.6h0m-7.9 3.6h0m-4.1 2h0m-.2 12.9h0m1.7-9.7h0m-4.5 1.5h0m4.1 14.8h0m3.2-16.5h0m2.4 9.2h0m-4.2-16.6h0m1.9 11.8h0m2.1 .6h0m6-6.5h0m-3.6-5.6h0m-8.5 7.3h0m-.6-1.7h0m19.2 15h0m-8.8-1.2h0m7.5-21.1h0m2.1 18.3h0m-20.6-11.1h0m8.4 9.4h0m.5-9.4h0m.7-9.9h0m-.1 24.9h0m-2.4-5.7h0m-.2-16.8h0m-11.7-6.6h0m9.3 13.6h0m-4-6.5h0m6.1 8.2h0m-4.2 9.8h0m7.6 8.5h0m1.4-18.3h0m-3.5 17.4h0m0-2.2h0m-1.5-15.9h0m-3.8-12.4h0m1.9 25.2h0m-2.3-2.4h0m3.6 8.2h0m4-6.5h0m2.1-18.3h0m-11.5 12.5h0m.2-4.7h0m3.7 20.2h0m-2.5-11.8h0m5.9-36.2h0m-6 44.3h0m-3.5-22.8h0m1.6 16.8h0m15.1-12.5h0m-8.9 7.2h0m-8.5 4h0m8.3-4.4h0m12.4 12h0m-9.1-14.1h0m.4 7.2h0m3.2-4.8h0m-3.7 1.4h0m-1.5-.2h0m4.8-12.6h0m-5.5-2.6h0m1.3 14h0m-3.3 1.3h0m5.3 9.9h0m-11-8.9h0m12.1-15.4h0m-9 16.2h0m-4.1 3h0m10.2 1.7h0m9.3-6.7h0m-5.2-15.5h0m-10.3 23.8h0m8.5-18.9h0m-8.1 13h0m2.3-21.4h0m1.5 23.3h0m.7 3.2h0m-6.2 .9h0m-1.7-20.4h0m12.4 15.3h0m5.9-3.2h0m-11.9-1.8h0m7.8 1.5h0m-9.4 2.7h0m2.8 11.1h0m2.1-17.5h0m-6.1 2.6h0m5.1-20.6h0m1.9 5.3h0m-10 6.3h0m-4.3-4.9h0m8.8 14h0m0 8.2h0m-1-14.7h0m9.4-.6h0m5.2-.2h0m-15 6.4h0m7.8-6.8h0m1.7 9.7h0m-1.6-1.2h0m2.3 .4h0m-10 4.2h0m7.9-7.3h0m9 1.1h0m-8.6 16.1h0m-9.9-18h0m8.6 8.4h0m4.5-7.4h0m-6.2-5.2h0m-6.5 0h0m14.7-3.6h0m-19.5 8.3h0m12.2-6.1h0m-3.6 1.8h0m-8.3 16.4h0m16.9-13.5h0m-6.1 12.7h0m-10.6-8.8h0m12.4 6h0m-7.2-14.7h0m4.8 14.3h0m2.6 1.8h0m-3.2-7.7h0m-.9 6.2h0m3-20.2h0m-4.8 3.1h0m9.7 12.8h0m-7.2 3.9h0m1.1-12.3h0m1.7 2.3h0m-11.2-1.8h0m2.4 1.7h0m15.7-10.1h0m-8.4-2.3h0m-4.3 13.5h0m4.4-16.6h0m-5.8 7.6h0m5.3 3.2h0m-6.6-4h0m6.6 12.9h0m7.4-3.2h0m-12.9-9.3h0m2 15.2h0m-1-1.5h0m3.7-8.3h0m-9.1 8.3h0m10.8-1.8h0m22.6-.3h0m-23-5.6h0m-4.6 8.2h0m3.5 0h0m-9.4-15.8h0m11.3 18.5h0m-3.5-4.3h0m11.7-2.1h0m-16.3-.3h0m6.1 0h0m19.2-9.2h0m-25.8 11.9h0m-.9-21h0m6.1 17.7h0m-.1-14.7h0m6.2 11.5h0m-5 10.6h0m-6.2-9.7h0m6.8-2.3h0m17 10h0m-9.6-7.9h0m-9.9-1.2h0m-5.1 19h0m10.5-8.5h0m-5.6-1.8h0m14.7-16.7h0m-7 18.1h0m-.3-19.2h0m-4.9 17.7h0m-1.6-15.9h0m9.4-5.7h0m-5.4 29h0m-6.2-4.2h0m11.4-25.7h0m-7.6 15.3h0m-1.8 16.8h0m-5-3h0m1.5-28h0m-.5 11.4h0m11.6-5.1h0m-3.1 3.9h0m-5.5 24.8h0m8.8-17.1h0m-4.2-3.6h0m-.5-1.1h0m-4.2 10.3h0m5.3-16.1h0m7.6 23.8h0m1.6-25.5h0m-2.9 8.1h0m-18.1 7.3h0m12.1-8h0m-3.8 6.3h0m6.5 10.2h0m-7.6-6.8h0m2.4 5h0m1.6-8.7h0m-6.2 3.8h0m5.5 2.8h0m.8-9.4h0m-4 16.2h0m3-35.8h0m-2.3 10.6h0m5.4 23.7h0m-1.8-10.2h0m-7.3-10.7h0m-.3 10.2h0m16.3 7.1h0m-12.9-16.4h0m7.6 13.2h0m-4.1-8.9h0m-6.7 .1h0m-1.3 .5h0m6 11.8h0m1-22.3h0m2.5 7.5h0m-13.2 10.3h0m4.7-18.8h0m3.5-3.6h0m11.9 21.5h0m-8.1-7.2h0m-6.9 2.9h0m6.8-11.2h0m-.4-.1h0m8.4 5.5h0m-8.5-9.8h0m.5 10h0m-.4 19.4h0m-7.9-15h0m9.1 5.7h0m-5.3-10.8h0m1.2 6.5h0m-1.3-14.1h0m6.9 20.2h0m-5.6-11.4h0m-3.4 9.7h0m13.9-4.6h0m-3.3 1.2h0m2-1.3h0m-4.6-10.4h0m-5.1-6h0m-2.1 24.8h0m.9-11.1h0m8.6 4.2h0m-5.8-7.5h0m-11.2-15.6h0m10.1 7.5h0m1.5 4.9h0m-9.6 4h0m-.4-10.8h0m9.6 9.4h0m-1.3 1.5h0m5.7 3h0m9.9-5.6h0m-2.4 6.2h0m-17.5 3.4h0m1.3-4.7h0m2.2 18.9h0m10.4-15.9h0m-5.7-8.1h0m-8.7 16.8h0m3.4-20.5h0m-8.7-6h0m8.2 6.5h0m9 15.9h0m-9.7 6.7h0m4.1-13.1h0m6.3-15h0m2.1 12.9h0m-12.6 20.1h0m-2-26.4h0m8.4-4.5h0m-5.7 18.2h0m.3 8h0m9.8-3h0m4.2-13.4h0m-9.9 5.2h0m-3.2 1.3h0m5.3 8.5h0m-4.1-12.8h0m-7.3 14.1h0m24.1-16.5h0m-11.7 9.4h0m-4-15.2h0m-2.4 1.6h0m-16.2 11.8h0m22.6-13.1h0m6.4 17.9h0m-16.5-14.4h0m9.9 6.3h0m.3-1.7h0m1.5 2.2h0m2.9 9.5h0m-9.9-22.7h0m5.9 14.9h0m-4.8-12.1h0m6.7 11.9h0m-16.1-11.6h0m15.6 8h0m-9.8 13.2h0m2.2-9.9h0m-6.1 2h0m9-14.1h0m-10.4 14.8h0m15.6-1.7h0m-12.6-7h0m7.7 15.6h0m-6.7-25.2h0m1.9 19.5h0m10.6-8.8h0m-6.8-8.2h0m-4.3 8.8h0m-6-1.7h0m16.9 11.7h0m-3-23.2h0m-7.4 13h0m4-2.6h0m-8.8-6.6h0m1.3 21.8h0m8.3-28.2h0m-.4 21h0m-7.3-4.8h0m10.4 5.1h0m.3-10.8h0m-4.3-12.5h0m6.1 4.1h0m-9.3 28.5h0m1.2-11h0m4.1-10.7h0m-3.5 17.6h0m5.8-16.5h0m-14.4 .1h0m18.8-4.8h0m-15.5 23.9h0m4.3 7.9h0m5.4-16.8h0m4.7 6.9h0m-3.1-33.8h0m-11.3 30.5h0m2.3-21.3h0m-3.3 18.9h0m14.4-2.1h0m-6.6 5.2h0m-1.5-13.1h0m3.6 10h0m-10.1-10.2h0m.3 12.1h0m.2-4.5h0m9.7-5.3h0m-1.1-10.4h0m1.6 30.6h0m3.5-5.4h0m-11.4-17.7h0m4.9 3.1h0m-4.7 11h0m10.8-16h0m.6 9h0m-.2 1h0m-7.2-3.4h0m-1.8-7.5h0m9.1 22h0m-10.2-6.6h0m5-7.9h0m6.9-13.7h0m-11.9 9.9h0m-1.7 5.8h0m4.2 8.7h0m4.3-12.4h0m-.8 14.8h0m-2.3-9.7h0m2.8-8.8h0m-9.9-4.3h0m7.1-3.1h0m-7.6 13.4h0m-2.9 4.8h0m3-3.4h0m5.2-11.5h0m2.8 14.7h0m10.3-5.7h0m-12.9 0h0m9.9-10.9h0m-6.9 19.9h0m-9.8-2.6h0m6 12.2h0m-5.1-4.9h0m12.3-2.3h0m-13.5 3.9h0m17.4-15.4h0m-5.3-1.6h0m1.5-8h0m5.4 11h0m-16.4-1.8h0m12.4 9.9h0m-5.1-25.7h0m1.6 33.3h0m-.6-14h0m13.2-13.4h0m-20.2 7.7h0m10 6.1h0m-5-13.7h0m-3.1 16.1h0m6.6 1.2h0m7.2-16.8h0m-20.1 13h0m12.5 10.5h0m-1.5-12.5h0m-12.4 6.1h0m21.3 2.1h0m2.3-8.8h0m-20.3 12.2h0m18.9-6h0m-11.8-13.7h0m-1.5 15.1h0m11.6 3.4h0m-8.9-.6h0m.7-14.4h0m8.3 11h0m-1.6 9.2h0m-2.7-11.5h0m1.6-2.6h0m-14.4 7h0m7.5-9.5h0m-8.5 13.6h0m6.2-11.6h0m-7.7-4.6h0m20.4 5.3h0m-18.5-.5h0m6.2 4.6h0m-.4 .8h0m9.7-16.3h0m-8.6 15.3h0m-1.3 1.2h0m5.2-4h0m-6.9 10.4h0m4.9-11.9h0m-4.3 8h0m5.9 6.1h0m-4-9.7h0m-3.9-21.1h0m4.4 18.5h0m2.7-.5h0m-5.9-18.8h0m5.5 33.8h0m8.1-17h0m-18.5 3.4h0m7.5 9.5h0m17.9-10.4h0m-14.4 9.7h0m5.8-11.4h0m-10.1-3.2h0m8.7 2.9h0m-5.8 14.8h0m-10.4-25.3h0m16.9-4.9h0m.1 33.5h0m2.3-6.4h0m-15.6 2.8h0m-2.4-.7h0m13.7-19.8h0m-13.6 8.4h0m13.7-27.7h0m-14.4 20.5h0m14.1 12.2h0m-5-21.7h0m-3.7-5h0m-3.3 7.6h0m8 15.2h0m-4.5 12.2h0m7.5-29.5h0m-13.5-8h0m20.8 24.7h0m-14.2 9.1h0m-5.8-26.7h0m17.7 11h0m1.9 .7h0m-12.9 4.9h0m-4.9-2.2h0m6.3 7h0m-4.9 5.5h0m2.6-9.9h0m13.1 6.8h0m-9.9-17.7h0m1.4-.2h0m-2.8 15.6h0m6.6-3.4h0m-8.8 9.3h0m3.3-14h0m16.2 12.2h0m-13.9-15.4h0m-4.3 13.1h0m15.6-2.8h0m-14.2 0h0m4.6 6.8h0m-11-16.7h0m2.8 14.9h0m5.8-25.8h0m-3.2 26.9h0m-3-4.6h0m-.3-.2h0m12.4-4.4h0m-13.2 7.7h0m1-12.8h0m18.3 11.3h0m-18.2-9.4h0m14.3-1.5h0m-1.2 5.5h0m-10.3-1.8h0m-8.8-16.8h0m14.6 18.8h0m2.1-18.3h0m-6.3 27.7h0m7.9-11h0m1.3 2.3h0m-17.1 5h0m17.4-16h0m-8.8-20.5h0m-5.2 28.5h0m1.8 3.4h0m15.3 7.6h0m-6.2-17.6h0m-6.3 11.5h0m-1.6-7.1h0m-.2 .7h0m-2.4 5h0m9.6 13.3h0m-12.6-25.1h0m4 9.6h0m-1.6-3.6h0m-.9-3.8h0m10.3 12.4h0m-2.5 4.7h0m-7.4 4.5h0m-1.9-8.7h0m3.3-10.4h0m10.1 13.2h0m-5.9-23.1h0m.7 14.9h0m-3.9 4.7h0m.5 .4h0m3.3-17.1h0m9.8 28.1h0m-16.8-21.8h0m1.5-11.4h0m13.4 4.1h0m-7.8 12.5h0m-1.3 11.7h0m-4.4-11.9h0m5.4 2.3h0m7.1 2.4h0m-14.7 5.1h0m15.8-13.6h0m-17.4 6.7h0m2.8-6.8h0m8.6-2.5h0m-3.5 12.9h0m4.8-14.8h0m-10 9h0m-2-8.7h0m-1.2 2.6h0m.9 16.2h0m9.7-10.2h0m15.2-12.1h0m-23.2-16.3h0m-3 27.3h0m17.5 4.5h0m-.5 2h0m-16.3-3.8h0m16 .3h0m-10.1-5.6h0m-3.5-8.7h0m5.5 15.4h0m8.6-9.1h0m-11.1 6.9h0m-7 .1h0m24.9-10.4h0m-2.5 20.8h0m-6-22.6h0m-7.6-1.2h0m5.5 14.3h0m-2.7-2.4h0m-11.3-4.9h0m.1 4.6h0m4.4-6.1h0m2.4-10.9h0m6.5 23.9h0m.9-17.5h0m-3.1 7.8h0m-8.4 9.6h0m11.3-7.1h0m3.6-14.2h0m-14.7 6.5h0m3.1 21h0m18.4-16h0m-11.8-11.8h0m-4.7 25.7h0m7.6-20.7h0m-2.7 7.3h0m-.3 10.8h0m-6.8-15.6h0m4.1 2.2h0m.9 9.4h0m-5.9-6.9h0m-3.3 4.9h0m8.8-12.4h0m5.8 8.3h0m-2.3-9.7h0m-1-4.7h0m0 33.1h0m14.6-13h0m-16.3 4.6h0m5.5-18.8h0m6.4 9.4h0m-13.3-1.8h0m1.5-12.2h0m5.4 19.7h0m4.5-12.7h0m-9.6 5.2h0m.3-13.1h0m-1.9 25.1h0m-9-2.4h0m16.2-3.6h0m-9.6-13.1h0m.8 21.4h0m-6-9.6h0m7.1-1.3h0m-6.5-12.5h0m13.9 26.4h0m-17.7-35.1h0m12.1 22.1h0m2-3.1h0m6.4-15.3h0m-3.8 19.5h0m-4.8 1.8h0m-1.1-4.6h0m-1-8.8h0m8.4 12.7h0m-12.5 6.7h0m8.2-8.9h0m-4.3 15h0m2.4-8.7h0m-3.6-.9h0m16.8 6.2h0m-19.5-20.5h0m6.3 1.4h0m.2 10.4h0m2.3 0h0m-1.1 9.9h0m-.1-3.6h0m3.9-9.7h0m-6.8-4.5h0m-8.8-.9h0m10.3-.8h0m-9.9 13.5h0m1.6-13.7h0m6.3 1.2h0m10.2 5.1h0m-5.8-6.7h0m-1.9 2.9h0m7.7-19.5h0m-16.4 25.5h0m3.6-1.7h0m1 1.8h0m10.6-22.2h0m-17.9 20.2h0m26.6 .3h0m-6.4-19.5h0m-5 24.1h0m-3.3-2h0m14.4-7.6h0m-16.4 6.2h0m-3.9 10.4h0m4.3-16.1h0m2.3 16.8h0m-4.1-10.6h0m3.1-4.4h0m-9.7 3.4h0m16.6-3.3h0m-16.3 4.4h0m13.3-6.6h0m-3.6 5.5h0m-8.3-8.1h0m6 3.9h0m-4.9 5.7h0m-3.2 2.7h0m8.3 2h0m3.9-5.4h0m-10.5-5.1h0m4.6 13h0m-2.9-30.2h0m-1.3 23.4h0m12.5-22.2h0m-1.6 33.4h0m-11.8-32.6h0m7.1 21.2h0m-1.8 12.5h0m7.5-25.4h0m-5.6-4h0m-4-1.4h0m13.3 21.5h0m-4.5-11.1h0m.6 3.9h0m2.4 2.5h0m-3.4 1.5h0m-13.9 1.2h0m6.2-4.1h0m9.7-17.3h0m-12.4 30.6h0m5.7-42.1h0m2.5 39.8h0m7.3-18.4h0m-1 4.1h0m-2.8-3.3h0m-7.6 1.5h0m7.7 3.5h0m-2.7-2.6h0m-4.8-8.2h0m10.6 19.5h0m-6-14.3h0m-8.8 19.2h0m14.2-14.9h0m-10.7-5.6h0m5.9 11.4h0m-4.2-13.6h0m-6.5 6.4h0m-.2 17.1h0m21.8-22.7h0m-16.1 10.1h0m2.7-13.8h0m6.1-12.5h0m-8.6 8h0m4.5 20.4h0m-2.3 2.2h0m-4.2-2h0m6.4-16.3h0m-2.3 19.1h0m-8.3 2.7h0m12.2-13.1h0m-2.2 5.6h0m-.1 1.8h0m-7.2-12.3h0m2 7.6h0m-1.9-3.9h0m6.7 9.5h0m-3.7-.3h0m-7.1-4.1h0m2.2 13.9h0m7.1-11.3h0m-.5-6.8h0m-1-24.8h0m16.4 26h0m-17.7-.1h0m2.7-5.8h0m-7.8 .1h0m4.4 14.5h0m6.2 4.6h0m-4.8 .9h0m3.9-18.5h0m-2.4 9.7h0m15.8 1h0m-10.4-9.7h0m-6.2 5.1h0m-8.5-5.4h0m18.4 19.6h0m-11.8-4.9h0m8.4 2.3h0m-5.1-9h0m4.3-5.1h0m11.5-.1h0m-24 7.6h0m-2.3-5.2h0m11.4 7.1h0m8.1-6.4h0m-10.4 6.5h0m7.7-18.6h0m-11 11.6h0m13.5-9.3h0m1.2 3.7h0m-.3 20.3h0m-13.8-9.6h0m-5 6.6h0m-.1-33.1h0m6.6 23.9h0m5.7-14.2h0m-.5-1.2h0m-2.2 25.8h0m-1.3-26.9h0m.5 3.9h0m-.8 5.3h0m-1.2 4.5h0m5.6-12h0m-2.6 19.2h0m-6.4-9.5h0m7.6-1.6h0m.6 .3h0m-5.3 8.3h0m8.4 9.2h0m-7.6-24.5h0m.4 5.9h0m2.2 19.5h0m-1.6-20.5h0m-3 2.6h0m16-3.3h0m-15.3-.7h0m7-4.9h0m-1.9 6.8h0m1.3 24.1h0m1.4-16h0m3.4-7.4h0m-6.7 7.1h0m18.2 2.9h0m-27.4-3.2h0m8.7-19.4h0m-4.1 21.2h0m-1.3-5.2h0m5.8 10.6h0m8.2-22.1h0m-15.2 24.2h0m0-15.6h0m10.1-12.2h0m-1.3 30.6h0m9.9-18.6h0m-6.5 8.9h0m-5.6-5.4h0m-3.9 12.7h0m3.8 .1h0m-2.7 .1h0m1.3-27.5h0m-1.3-.7h0m-.4 18.9h0m-1.4-11.6h0m14.8 14.3h0m-6.9-3h0m1.7-15.9h0m-10.9 3.8h0m-2.9-1h0m5.2 2.4h0m3.7 6.9h0m-4.1 9h0m1.1 6.6h0m8-23.3h0m-4.6 4.1h0m-5.1 14.7h0m-1.6-6.7h0m5.9-26h0m-9.5 13.5h0m6.9 11.8h0m6.1-7.6h0m-11.2 6.9h0m2.1 1.9h0m5.2-13.9h0m2.5 .5h0m2.5 3.8h0m-6.9 .4h0m-8.2 4h0m19.2 6.1h0m-7.9-1.3h0m.7 7.7h0m-.7-23.8h0m-9.4 15.8h0m5.1 .3h0m4 13.6h0m5.4-18.2h0m-6.8 5.5h0m-2.1 .9h0m4.2-.2h0m6.6-10.4h0m-4.1 1.9h0m12.4 4.1h0m-7.4 6.2h0m-.6-17.5h0m-2.8 20.6h0m-2.4 5.8h0m-7.9-18.8h0m7.8-2.3h0m-7.4 12.7h0m2.4-.6h0m-.9-10h0m3.4 3h0m-4.6 9.4h0m6.8-1.9h0m-5.8 6.3h0m-1.4-22.1h0m7 19.6h0m-3.4-11.8h0m-1 9.7h0m1.3-13.5h0m10.5 9.2h0m-18.7-20h0m13.9 20.1h0m-9.5-2.1h0m4.4-27.2h0m-7.1 24.9h0m7.4 8h0m3.7-2.4h0m-13.5 7.2h0m7.9-23h0m-2.1 26.7h0m1.3-27.9h0m-4.3 4h0m15 2.3h0m-15.5 5.5h0m18 2.2h0m-15.6-26.8h0m17.3 30.9h0m-9.8-8.6h0m-.6-7.7h0m2.4 19.9h0m.7-13.1h0m3.5 14.9h0m2.3-6.1h0m-14.5-8.6h0m-.3-1.8h0m8-11.2h0m-2.7 10.7h0m-1.8 11.8h0m-3.3-8.6h0m.5 5h0m4.7-.7h0m2.4-10.9h0m-6.2 2.3h0m-3.3-17h0m1.8 5.7h0m-4.7 25.4h0m-.8-11.9h0m6.5 3.2h0m-6-13.7h0m24.8 9h0m-20.1 13.8h0m-1.7-6.9h0m.7-6.2h0m2.1 1.7h0m3.9 15.1h0m-12.7-29h0m10.6 23h0m-8.5-16.8h0m8.2 3.3h0m2.8 1h0m.8 8.2h0m-.3-.2h0m-8 2h0m11.1-1h0m-9.3 12.1h0m5.6 2.9h0m2.5-9.9h0m-7.1 .5h0m-6.8-11.4h0m13.2-7.3h0m-12.1 17h0m1.6-5.6h0m-1.5 8.3h0m13.6-27h0m-.7 18.7h0m9.3 9.6h0m-1.9-23.9h0m-16.5 8.4h0m4.5-14.8h0m3 6h0m2.7-5.2h0m-6 20.6h0m-7.9 1.9h0m12.9-6.1h0m-1 15.9h0m-6.8-12.8h0m4.4-2.1h0m-1.9-.6h0m3.7-1.8h0m1.9 17.7h0m.4-32.3h0m-4.6-10.5h0m.9 7.4h0m6.2 .2h0m-7.6-4.8h0m5.7 3h0m-2.8 6.1h0m11.2-3.8h0m-1.6-3.4h0m-20.7 1.1h0m10.1 3.3h0m7 4.2h0m-9.3-2.4h0m10.1-.4h0m-3.8 4.2h0m2.1-15.7h0m-5.3 .5h0m3-4.2h0m1.7 15.7h0m-16-15.8h0m4.4 11.4h0m-.8 4h0m21.8-10.9h0m-11.1 3.7h0m.5 2h0m-1.6 5.1h0m-5.6-11.4h0m-1.8 9.3h0m12.9 1.9h0m-9.9-2.8h0m15.7 0h0m-11.1 5.5h0m-.8-5.1h0m-2.5-1.3h0m1.1-1.5h0m.9 4.9h0m12-4.7h0m6.5 4.7h0m-28-2.8h0m11.3 5.2h0m3.6-9.6h0m-12.9 4.3h0m2.2 1.4h0m1.4 .3h0m8.9-.1h0m-5.6 2.6h0m-.4 5.3h0m1.4-5.6h0m1.4-9.6h0m16.6-1.8h0m-17.2 10.5h0m5.3-5.3h0m-10.9 3.4h0m7-2.3h0m-5.4 7.4h0m1.4-.6h0m-6.1-11.6h0m.7 7h0m10.2-2.9h0m2.4-5h0m-2.3 9.8h0m-9.1-4h0m7.9 2.9h0m-22.9 10.2h0m28-5.7h0m-7.9-1.2h0m2.5-7.5h0m7.2-3.9h0m-12.8 12.2h0m11.1-7.8h0m-11.2 1.7h0m7.9-2.1h0m-7.6 2.4h0m5.7 11.6h0m9.2-13.7h0m-16.9 .2h0m.4 2.4h0m2.2 .4h0m5.1-7.4h0m19.6-2.9h0m-26.7 6h0m-.5-1.1h0m-7.5-1h0m8.2 .2h0m4.7 2.8h0m-7.9 1.3h0m2.3-7.5h0m-9.6 5.4h0m16.5 4.5h0m-7.5-2.4h0m14.7-6.2h0m-.2 5h0m-15.4 1.7h0m4 3.9h0m3.4-12h0m5.6 11.6h0m-19.5-5.7h0m12.9 3.3h0m15.5 2.4h0m-15.6-7.8h0m2.5 .3h0m-1.8 3.5h0m-9.6 4.2h0m17.2-6.4h0m-5.4-4.3h0m-.9 3.6h0m4.5 5.3h0m.5 3.9h0m-21.5-8.3h0m19.1 .9h0m-8.5 .7h0m5.9 .2h0m-7-4h0m-1.2 2.5h0m14.6 3.3h0m-7.7-.6h0m-2.2-.4h0m0-5.1h0m2.9 2.2h0m-.7-.8h0m-6.9 10.8h0m5.1-5.5h0m7.9 6.2h0m5-9.4h0m-18.4 0h0m23-5h0m-14.8 7.6h0m3.2-3.4h0m-8.2 2.8h0m-.5 1.9h0m16.4-3.6h0m-13.3-4.4h0m.9 5.4h0m10.2-.1h0m4.5 .5h0m-25.8 3.2h0m10.5-4.4h0m1.4-.3h0m14.7 9.9h0m5.2-3.2h0m-20.1-5.8h0m3.4-4.2h0m3.9 2.4h0m2.3 4.1h0m-11.7 2.3h0m9.4 7.8h0m-12.5-13.1h0m-5.4-.6h0m12.8 2.2h0m4.6-2.3h0m-20.8 7h0m14.3-4.4h0m4.7-3.1h0m3.9 3.8h0m-2.1-10.6h0m-7.7 2.8h0m12.9 10.2h0m-9.1-3.2h0m-4.1-9.6h0m2.8 5.5h0m6.6-1.6h0m-6 2.8h0m-1.1 10.1h0m-11.9-10.5h0m15.4 12.9h0m-3.6-11.3h0m14.5-2.4h0m-14.8 11.4h0m-.6-3.1h0m-4.3 2.2h0m10.8 2.8h0m-7.4-4.4h0m-4 .8h0m18.5-14.5h0m1.4 4.4h0m-17.9 6.3h0m-4.6-1.2h0m17.3 2.6h0m-15.7-5.9h0m29.3 7.9h0m-23.7 4.4h0m8.8-7h0m-18.1 1.2h0m10.1-1.6h0m9.1 2.1h0m-5.3-3.5h0m-7.8-3.6h0m24 3.5h0m-13.8-.4h0m-7.7-8.1h0m-3 8.7h0m2.6-1h0m13.1 .9h0m-17.1-3.8h0m6.5 5.1h0m-6.9 .7h0m16.7-6.6h0m-11.4 5.1h0m8.3 2.3h0m-2.4-.2h0m-9.2-8.2h0m10.3-.5h0m1.9 5.1h0m-16.8-5.3h0m14.9 17.5h0m23-16.4h0m-31 .1h0m7.5 7.1h0m-15.9-5.5h0m14.4-9.3h0m-8.4 10.8h0m10.9-4.1h0m-6.6 2.2h0m-9-5.4h0m18.3 3.5h0m-10.6 3.6h0m-6.4 .4h0m8.7-5.1h0m-8.3 1.9h0m10.9-.7h0m-3.7 4.9h0m-2.4-1.4h0m8.3-5.5h0m-15.7 9.4h0m18.2-6.7h0m-24 5.4h0m29.1-6.5h0m-11.5 6h0m-3.6-2.1h0m-3.8 .9h0m10.4 2.2h0m-5.7-.3h0m-.2-1.4h0m9.8 0h0m-11.9-7.1h0m1.6 6h0m5.4-10.5h0m5.2-.3h0m-9.9 9.6h0m2.5 .4h0m-.9 8.5h0m5.7-4.1h0m6 2.2h0m-19.6-7h0m6.5 3.7h0m.7 3.6h0m5.1-3.1h0m7.4-.9h0m-12.3-1.2h0m1.9-5.1h0m7.4 .2h0m-19.2-2.7h0m3.8 9.1h0m2.6-3.3h0m3.6-2h0m1.9 5.1h0m-6.1-4.6h0m18.4 8h0m-19.9 4.3h0m4.1-7.2h0m10.4-5.6h0m-2.5-4h0m-6.4 17.3h0m3.2-7.7h0m3.5-8h0m-6.7 11.1h0m5.4-13.6h0m-12.7 6.1h0m8 1h0m-13.9-.6h0m6-3.8h0m-2 17.4h0m19.4-13.8h0m-13.9 3.9h0m6.2-1.7h0m-10-8.1h0m5.9 5.2h0m-.7 3.7h0m-4.6 3.6h0m13.9-6.3h0m-20.5 3.5h0m18.6-3.5h0m16.4 4.6h0m-28.2-15.1h0m6.9 15.2h0m-12.9-6.1h0m12.4 .2h0m5.2-2.3h0m-9.1 8.3h0m-6.6-6.6h0m-2.4 .3h0m10.6 5.7h0m9.2-1h0m-10.2-4.4h0m-6.3 2.1h0m2.7-1.1h0m7.7 5h0m3.8 5.7h0m-1.5-4.2h0m6.3-3.8h0m-23 3.9h0m11.5-9.5h0m11.4 15.6h0m-23-9.3h0m-1.7 5.6h0m5.9-11h0m.3 9.1h0m7.6-3.1h0m-3.1-2.9h0m.2-2.4h0m.1-1.1h0m2.4 13.3h0m-5.5-2.8h0m9.7-5.5h0m-2.7 .4h0m-8.3-4.6h0m23.2-5.5h0m-25.3 .2h0m16.4 5.9h0m-12.1 2.2h0m9.1-5h0m1.3 9.8h0m2.8-1.4h0m4.6-1.8h0m-18.5-9.6h0m30.3 7.7h0m-20.1 .9h0m-9.9-6.1h0m25.8 15.9h0m-5.7-6.5h0m-13.5-5h0m6.4 9.9h0m4.5-2.5h0m-9.9-3.3h0m-4.3-1.1h0m3.2 2.8h0m7.2 3.4h0m-6.7-7h0m-10.2-1.5h0m16.2 4.1h0m-12.3-2.5h0m16.2-2.4h0m-8.1 1.9h0m-.1-.8h0m-1 2.6h0m7.6-1.2h0m-8.9-.2h0m-15.5-1h0m17.9 3h0m11-10.7h0m-4.5 9.4h0m-12.3 1.3h0m3.2-8.7h0m1.3 4.2h0m7.5 8.8h0m-14.5-7.3h0m-.9-3.7h0m2-10.5h0m6.3 16.6h0m1-1.2h0m-5.4 2.5h0m9.5 7.2h0m-14.6-10.2h0m7.7 .7h0m-5-4.1h0m-2.6 3.1h0m18.3 .2h0m-12.6 3.9h0m-5.7-1h0m8.6-6.6h0m-8.5 1.4h0m13 9.3h0m2.1-11.7h0m1.5 8.5h0m-17.1 4.4h0m7.5-4.8h0m16.3-2h0m-16.9 5.5h0m12.1-5h0m2.2-1.8h0m-23.8-1h0m21.2 6.7h0m-3.7-2.2h0m1 4.2h0m6.6-9.4h0m-10 .1h0m-3.2-.6h0m4.4 3.6h0m-7.8-4.9h0m6.9 8.1h0m10.1-9.5h0m-9.8-4.2h0m-1.8 16.3h0m-1.7-7.5h0m0 1h0m-.4-2.8h0m-13.9 4.1h0m8.9-11.6h0m14.3-.4h0m-18.2 1.8h0m-.2 8.5h0m25.9 3.2h0m-7.4-1.1h0m2.9-3h0m-12.9-5.8h0m2.3 10.4h0m4-5.4h0m-1.6 1.3h0m-5.3-.3h0m-11.3-2h0m6-1.2h0m-6.4 .6h0m25.2-3.5h0m-16.2 7.7h0m1.8-2.1h0m3.8 6h0m-2.2-14.2h0m4.2 14.9h0m-9.4-6.2h0m-7.4-.4h0m26.7-3.3h0m-20.1 0h0m1.9-3.4h0m-2.6 12h0m2-5.6h0m4.6 4.7h0m6 .5h0m-14.7-6.6h0m10.9 1.3h0m-7.9-.5h0m15.3 6.8h0m-19.8-4.5h0m10.8 .2h0m17.2-1.3h0m-4.8 4.4h0m12.7 12.9h0m-17.8 .1h0m13.1-10.7h0m.9 8.9h0m-15.3-.5h0m12.1 5.7h0m-3.5-12.2h0m3.5 15.3h0m-12.4-12.3h0m8.7 12.2h0m-7.4-3.6h0m3.9-13.5h0m10.5 4.9h0m-9.3 4.1h0m-12.7 5.1h0m5.1-16.7h0m1.6 6.2h0m12.9 7.8h0m-10.3-1h0m-5.1-10.7h0m16 1.1h0m-5.2 9.2h0m.6-10.1h0m-6.9 8.8h0m13.4 4.7h0m-9.3-6.3h0m-11.1-18.7h0m5 26.8h0m1.7-.1h0m4.1 1.8h0m5.6-3.9h0m-9-17.7h0m.8 21.6h0m16.8-7.5h0m-12.7 4.2h0m-3.7-7.7h0m3.4-.6h0m-7.7 .1h0m10.7 12.8h0m2.6-9.2h0m-9.3-3.4h0m9.5-7.5h0m-7.7 12.2h0m3.4-3.2h0m-6.1 1h0m-.4 5.8h0m-4.2-1.8h0m10.3-5h0m-3 1.5h0m.2-.9h0m-5.3 4.4h0m-.2-.2h0m3.2-3.9h0m6.6-6.9h0m-1 11.8h0m-5.9 .4h0m5.9-13.7h0m8.7 10.1h0m-9.9-5.4h0m11.5-12.5h0m-9.5 14.9h0m5.4 7h0m-11.2-11.8h0m10.2 .2h0m-14.1 12h0m8.6-14.8h0m-3.5 1.1h0m-10 4.4h0m3.8 6.5h0m15 .1h0m-3.9-8.1h0m4.9 1.5h0m-6.6 2.8h0m-18.6-3.3h0m18.9-3.4h0m-4.9-1.6h0m.4 12.6h0m.3-6.5h0m-1.9 21.5h0m-1.2-15.6h0m13.2-9.6h0m-4.7 5.3h0m-6.6 2.3h0m1.3 .4h0m8.4 .4h0m-3.5 0h0m-1.2-4.1h0m-8.5 5.5h0m4.8 10.7h0m-4.2-18.3h0m-4.7 .4h0m16.8 7.6h0m-7.3 3.7h0m-.5-2.9h0m-3.3 2.7h0m10.3-8.8h0m8-1.3h0m-9 6.2h0m2 .2h0m-13 6.9h0m8.5-.8h0m.3-23.6h0m7.6 18.2h0m-8.9-10.1h0m-5.7-10.1h0m5.3 17.5h0m-2.3-3.9h0m11.3-1.3h0m-4.7-6.5h0m-1.9 1.8h0m-1 5.6h0m4-8.9h0m-8 9.6h0m-2.6 1.6h0m-5.7-1.9h0m18.4 3.2h0m-4.1-2.6h0m.8-7.6h0m-3.6 .9h0m9.7 8.1h0m-15.9 5.8h0m13.1-5.7h0m-12.2-4.5h0m2.3 4.6h0m-4.6-13.8h0m7.9 5.7h0m-2.3 4.3h0m4.3 2.2h0m-6.1-1.8h0m-4.9 .3h0m11.8-6.4h0m4.3 4.3h0m-3.3 5.7h0m-4.7-14.5h0m2.7 4.4h0m-12.6 6h0m8.2 12.7h0m8.9-5.6h0m-4.2 6.2h0m-7.9-1.5h0m10.3-12.5h0m-5.9 2.6h0m5.1-7.7h0m-12.8 16.4h0m5.3-3.1h0m5.1-1h0m-.1 .5h0m1.5-1.4h0m-3.4-1.7h0m-1.1 .4h0m4 6.6h0m2.3-14h0m-14.2-1.8h0m7.1 7.3h0m.7 8.1h0m2.2-6.4h0m5.1-3.1h0m-14 7.2h0m11.2-5h0m-13.6-14h0m5.8 6.2h0m1.4-7.6h0m1.5 13.1h0m-2-1.6h0m.6 6.2h0m1 11.7h0m.4-18.9h0m-9.4 4.2h0m2.7-2.7h0m5.8-17h0m5.7 14.3h0m2.9 .3h0m11 6.9h0m-16.4-7.7h0m-5.3-3.2h0m5.7 13.1h0m3-4.5h0m-3.2-5.8h0m-7.2 1h0m5.8 3.1h0m.3 7.9h0m-8.1 4.2h0m1.2-19.1h0m14.3 17.3h0m-20.4-7.8h0m14.3 2.2h0m-2.6 4.2h0m9.9-13.5h0m-4.7 12.7h0m-8.8-15.1h0m12.7 5.9h0m-10.9-2.7h0m15.3 17.7h0m-2-.3h0m-10.4-6.2h0m5.1-1.6h0m-3.5-7.3h0m-6.5 15.8h0m11.7-2.4h0m-3.8-3.5h0m2.6-7h0m1.3-1.6h0m2 1.8h0m-2.2 9.9h0m-6.7-15.9h0m1.1 7.4h0m1.9 10.6h0m-3.2-5.2h0m-.7 6h0m12.5-9.3h0m-8.1 .2h0m8.3 6.6h0m-15.8-5.1h0m4.3-2.1h0m-2.3-5.9h0m.2-6.8h0m.6 20.7h0m1-13.3h0m-1.8-2.2h0m13.3 11.2h0m-6.7-12.2h0m-8.4-3.2h0m1.1 5.4h0m7.7 3.6h0m-1.2 2.3h0m-6.8 1.7h0m9.1 3.1h0m-14-7.5h0m5.7 3.4h0m13-3.4h0m-25.7-3.6h0m14.3 7.2h0m7.1-.3h0m-6.8 10.4h0m-3.8-8.7h0m-.6-9h0m-7.1 9h0m4.5-5.9h0m8.3 12.7h0m-3.8-22.8h0m3.3 7.3h0m-.8 0h0m2.6 5.4h0m-11.6-1.7h0m8.1-10.2h0m-.2-1.8h0m.1 14.1h0m-3.4 8.9h0m-7.7-.1h0m16.7-12.8h0m1.1 5.9h0m9.3-9.1h0m-9.8-4h0m5.4 18.4h0m-6.2-3.8h0m-5.8-6.9h0m5.2-.3h0m-9.8 8.9h0m8.3-4.1h0m-2.1-4.5h0m-5.6 4.2h0m13.6-2h0m-.7-2.7h0m-3.9-2.2h0m2.1 11.4h0m5-9.7h0m-10.6-4.9h0m-7.2 20.7h0m2.3-3.9h0m9.9-5h0m-2.8-4.1h0m-10.2 1.8h0m16.7-11.3h0m-6.6 9.9h0m8.3 2h0m-2.9-3.3h0m-9.3 4.4h0m3.2-8.3h0m-4.9 6.5h0m-.7-12.1h0m3.3 10.7h0m4.7-4.1h0m5.2-4.9h0m-13.4 6.4h0m9.4 2.9h0m-3.9-4.3h0m-1.5 10.5h0m8-11.2h0m-8.8 11.2h0m10.3-1.4h0m-10.2-9.2h0m-3.5 14h0m10.1-19.2h0m-13.2 13h0m1.6-3.2h0m5.9 4.8h0m1.2-16h0m-1.6 2.6h0" stroke="#3a9a47" stroke-width="1.0" stroke-linecap="square" fill="none"/>
<path d="M345.7 178h0m12.6 21.6h0m4.6-16.2h0m-2 9.6h0m-21.1-.9h0m9.1 2.7h0m6.6-1.2h0m4.7-.6h0m.9-19.6h0m-3.5 7.3h0m-8 .5h0m9.6 9.5h0m20.6-5.6h0m-22 7.7h0m9.5 4.2h0m-25.8-8.3h0m20.6 3.3h0m3.9-6.3h0m-10.7-2.5h0m20.3-7.6h0m-7.5 12.3h0m-3.5-4.8h0m-31.4 8.1h0m19.2-6.3h0m13-3.2h0m-23.1 11.6h0m10.1-10.7h0m22 3.5h0m-8.1 2.8h0m.2-9.9h0m-3.8 17.4h0m11.8-15.2h0m-41.9 17h0m14.7-9.2h0m30.4-7.7h0m-16.3 4.2h0m-6.9-4.9h0m-13.3 9h0m13.1-5.5h0m5.2 12.9h0m-8.5-2.8h0m20.9-14.5h0m-15.3 9.1h0m10.5-9.1h0m-6.6 17.2h0m2.6-3.4h0m-9.3-9.5h0m29.1-5.9h0m-38.2 13.2h0m12.8-5.7h0m13 5.9h0m-.4-1.7h0m-27.8-4.9h0m6.8-.5h0m9.3 3.9h0m-5.1 11.2h0m-1-12.8h0m5.6 7.3h0m-.5-8.2h0m13.7 4.8h0m-28.9-1.6h0m28.4 1.6h0m-14.2-6.3h0m8.2-.5h0m-24.1 .9h0m14.6 4.6h0m3.9 9.5h0m13.2-20.3h0m-14.6 10.8h0m10.6-4.1h0m5.1-2.7h0m-20.8 .6h0m19.7 4.3h0m-14.9 .5h0m2.8-9.4h0m-6 19.6h0m9.9-1.7h0m4.3-9.4h0m-.1-8h0m-5.5 14h0m-8-2.4h0m-2.9-9.3h0m6.1 13.6h0m6.8-12.7h0m-11.5 3.2h0m.8 10.6h0m-3.2 3.3h0m15.4-6.7h0m-8.3 1h0m-14.5-3.4h0m26.6-4h0m-9.7 5.1h0m-3.4 1.7h0m2.3-4.8h0m-7.6 8.4h0m19.4-23.5h0m-1.2 13.7h0m-6.1 10.9h0m.1 1h0m.8-12.6h0m-12.3 6.6h0m7.6-1.7h0m-7.5-3.8h0m-3.3 11.5h0m15.5-1.4h0m-14.8-3.6h0m20-4.4h0m-2 7h0m5.3-10h0m-19.8 4.4h0m1.8-7.3h0m7.3-10.6h0m-16.6 26.5h0m15.9-.5h0m-6.2-1.1h0m-4.5 1.5h0m10.1-13.8h0m2.9-2.5h0m-9.3-2.2h0m-2.6 9.4h0m-4-6.4h0m7.3-.1h0m-12.1 5.2h0m12.4-.6h0m15.1 1h0m-12.7-5.5h0m-.5 2.9h0m-3.9 3.6h0m13.3-.3h0m-.4 2.2h0m8.1 .6h0m-21.5 .1h0m-3.9 2.2h0m5.2 .6h0m-6.9-3.4h0m11.9-.8h0m-5.1-6.4h0m-2.9 8.2h0m8.8 3.4h0m8.6-12.4h0m-16 3.7h0m8.4 9.2h0m5.2-6.6h0m-10.7-2.3h0m-8.3 7.1h0m15.1-8.3h0m-13.5-1h0m8.1 11.6h0m-2.4-19.4h0m15 16.2h0m-15.7-8.4h0m8.2 9.9h0m-5.3-8.7h0m10.7-1.8h0m-15.2-9h0m10 13.5h0m-21.2 2.6h0m2.1 .4h0m-15.2 .6h0m34.7-2h0m-1.6-6.7h0m-7.6 1.7h0m3.5 8.4h0m-2.2 5h0m4-11.1h0m1.3 7h0m-10-7.6h0m22.2-7h0m-3.8 2h0m-11.8 14.7h0m25.8-17.9h0m-9.7 14.6h0m-2.6-12.5h0m-16.2 10.2h0m3.2 2.9h0m-15.6-15.7h0m14.5 15.3h0m12.7-8.4h0m-15-5.2h0m-10 16.2h0m31.8-8.3h0m3.7-.2h0m-5.2-3.3h0m-30.4 2.7h0m22.5-8.3h0m-15.1 9.9h0m5.9-6.5h0m8.9 2.5h0m9.2 4h0m-20.8 6.3h0m2.3-2.9h0m-9.2 .7h0m11.9-5.9h0m-8.3 9.7h0m5 .6h0m10.5-13h0m-7.6 1.7h0m.7-3.7h0m2.4 4.1h0m5-1.8h0m-17.4 15.1h0m-7.5-16.9h0m23.4 10.2h0m.6-6.9h0m5.2-11h0m-3.7 14h0m8.3-7.7h0m-10.9 8.5h0m-11.1 3.4h0m14.8-10.5h0m-16.2 17.3h0m.4-9.2h0m9.8-7.9h0m-7.5-4.4h0m-.2 5.7h0m22.7 1.7h0m-27.9 6.4h0m17.8 .9h0m-14.1-12.5h0m17.3-10.3h0m-16.8 19.9h0m11.4-12.7h0m-37.4 14.7h0m47.3-10.4h0m-13 10.8h0m-3.1-11.5h0m23.8 .7h0m-33.8 11.2h0m9.5-5.3h0m-4.3-2.4h0m13.5 8.9h0m-15.5-6h0m-9.2-3h0m.8 2.4h0m21.9-2.3h0m-4 3.3h0m6.4-.9h0m-25.4-1.9h0m7.3 .8h0m17.6-1.5h0m-2.2 11.2h0m-8.1-10.7h0m-7.4 6.7h0m10.7-8.5h0m-8.1-7.7h0m15.1 6.9h0m10.2 7.8h0m-15.7 5.3h0m-12.5 .9h0m32.8-16.7h0m-17 4.5h0m-1.9-5.2h0m-2.6 10h0m1.2 3.4h0m-1.4-3.7h0m.5-6.7h0m-16.1 10.6h0m7.5-3.4h0m6.6 1.4h0m1.6-4.7h0m.9 2.4h0m1.3-6.4h0m-22.5 3.2h0m6.6-12.5h0m6.1 17.4h0m7.8-1.8h0m-4.5-6.7h0m.7 14.6h0m-13.1-6.6h0m33.2-6.8h0m-16.5 6.9h0m-1.3 4.2h0m-4.6 4.8h0m4.5-17.4h0m-3.5 5.9h0m13.4-14.8h0m-18 15h0m5.1 7h0m-1.3-1.2h0m8.6-1.5h0m5.2-8.4h0m-4.8-1.4h0m1.5 6.6h0m1.6-10.5h0m-3.9 2.7h0m-.3 7.1h0m-19.6 .6h0m12.7 6.1h0m-3.8-8.5h0m-10.6 5.3h0m30.9-5.8h0m1.6 1.2h0m-10.4-8.3h0m8.6-4.5h0m-31.1 7.1h0m30.6 2.7h0m-32.2 8.4h0m22.1-1.1h0m-.7-1.3h0m3.7-1.9h0m-.8-12.7h0m1.9 7.2h0m-12.8 9.6h0m-1.7-11h0m-.6 5.2h0m9.5-1.3h0m-3.6 6.8h0m-13.9-6.7h0m24.3-9.7h0m-19.3 12.2h0m6.5-.6h0m-1.2 7.8h0m-1.7-9.4h0m13.6 .1h0m-12.9 .3h0m-7.4 1.6h0m1.7-14.2h0m-1.4 21.3h0m22.6-13.3h0m3.4 5.3h0m-27.5-6h0m31.7 6.1h0m1.4-7.1h0m-30.2 14.6h0m18.8 2.1h0m-9.9-15.9h0m10.5-4.2h0m-34 24.5h0m24-11.9h0m6-15h0m4.6 2.6h0m-29.2 22.1h0m22.1-11.2h0m4.6-9h0m8.1 15.4h0m-6.6-15.8h0m-14.3 7.1h0m14.6-2.2h0m-14.4 2.5h0m16.4 5h0m-11.1-8.2h0m1.3 7.3h0m4.2 5.6h0m-17.1 3h0m12.9-.5h0m-10.6-9.7h0m19.4-12.4h0m5.5 11.8h0m-26.7 4.9h0m-7.8 1.8h0m23.7-8.7h0m-7 6.9h0m-5.3-9h0m.4 7.8h0m7.3-1.9h0m6.3 2.9h0m12.6-2.9h0m-12.5 2.4h0m-15.8 .3h0m6.9-4.5h0m-13.4-3.8h0m19.4 12.2h0m9.8-15h0m-7.4 10.3h0m-6.4-8.5h0m-7.3-2.7h0m10.9 1.5h0m3.7-.2h0m-.4 15.5h0m5.7-14h0m-8.2 .7h0m10.5-3.7h0m-10.3 8.2h0m7.6-1.3h0m-11.5 5.9h0m19-11.7h0m-5.4-2.5h0m-4.3 8.4h0m-15.5 9h0m11.5-2.9h0m-32.9-5.8h0m26-1.3h0m6.2 4.5h0m-11.2-4.2h0m9.2-7.1h0m6.8 9.5h0m10.7-5.6h0m-17 7.4h0m-15 6.3h0m-9.2-7.3h0m20.8-8h0m11 .6h0m3.9 9.6h0m-10.9-2.6h0m-6.7 5.7h0m-1.7-7.2h0m6.8 6h0m.9-8.3h0m4.9-1.9h0m-4 5h0m18.5-4.1h0m-18.4 2.5h0m3.6 1.3h0m6.5 4.9h0m-2.8-10.4h0m-17-4.2h0m-7.1 15.7h0m20.4 .7h0m-.4-14.9h0m-.5 11.1h0m5.1 3.5h0m4.8-2.3h0m9.3-26.3h0m-14.9 25.1h0m-10.8-7.1h0m4.1-1.7h0m-17.3-2.2h0m14.6 .3h0m-7.2 7.3h0m8.7 8.3h0m-2.1 .7h0m-5.2 1.5h0m9.7-12.6h0m-7.6-1.6h0m16 5.9h0m-26.5-.8h0m6.6 6.2h0m10.8-11.9h0m-6.2 16.7h0m7.2-20.6h0m-2.8 5.6h0m-11 4.3h0m7.7-1.4h0m6.4-8.2h0m-3 14.7h0m1.9-1.9h0m1.6-4.1h0m-4.3 4.2h0m13.4-9.3h0m-24.2 13.9h0m15.4-13.1h0m-10.4-1.5h0m10.2 4.2h0m4.3-.9h0m-1.4 4h0m.7 2h0m-3.7-12.8h0m-7.8-.3h0m11.7 10.5h0m2.2 4.7h0m-7.1-6.4h0m-.2-.8h0m-22.4 3.6h0m17.7-2.5h0m12.5 1.4h0m.1-10.4h0m-7.9 15.8h0m-13.8-4.6h0m15.8-3.7h0m4.9-1.1h0m-2 1.5h0m-17.4 8.1h0m1.8 0h0m-3.3-8.9h0m19.7-7.9h0m-7.6-3.5h0m20 6.9h0m-4.1 5.8h0m-6.3 1.5h0m-18.6-8h0m15.7 11.3h0m-3.5-7.5h0m-16.4 14.2h0m-.3-9.2h0m5.6 1.1h0m18.9-8.5h0m-16.3 3.1h0m-9 6.4h0m15.1 1h0m5.3 0h0m-19.6-6h0m30.3-8.9h0m-24.4 15.4h0m13.1-8.4h0m-14 2.9h0m6.1-1.2h0m2.2 4.8h0m-3 4.6h0m8.9-14.1h0m-5.4 10.1h0m-16.6 9.5h0m17.1-8.6h0m-13.8-6.6h0m8.3-5.9h0m6.3 8.7h0m-1.9 9.1h0m10.5-5.5h0m-10.1 6h0m-6.4-10.8h0m22-1h0m-10.1-4h0m-7.1 10.3h0m.6-5.1h0m-4.7-3.1h0m5.2 1.8h0m-9.3 7.9h0m22-2.4h0m-21.7 3.7h0m7.1-12.3h0m-3.7 13.9h0m-16.8-9.8h0m27.7-6.5h0m-16.7 14.9h0m17.1-11.6h0m-1.5 4.2h0m9.9-5.1h0m-23.5 6.2h0m25.2-14.6h0m-27.3 22.2h0m21.4-11.3h0m-4.5 10.6h0m-15.6 .2h0m-8-12.3h0m-7 14.7h0m18.1-9.5h0m-.9 6.1h0m14.4-9.3h0m-11.8 3.8h0m15 .4h0m-15.3 1.3h0m-9.3 1.8h0m-8.1 5.9h0m26.9-17.3h0m-11.8-.9h0m-8.1 18.2h0m7.4-6.4h0m4-6h0m10.5-3.3h0m-28.9-.2h0m18.4 4.7h0m9.8-11.3h0m-.5 12.4h0m3.6 .3h0m10.5-8.2h0m-26.3 15.7h0m2.3-2.1h0m16-6.5h0m4.4-7.1h0m-12.6 2.8h0m-6.8-.7h0m-9.5-5.1h0m19.9 9.5h0m-1.8 5.1h0m-16.7-12h0m7.6 11h0m-5.2-3h0m15.9-.5h0m-6.5 5.1h0m14-1.1h0m-.7-10.5h0m-8.5 10.9h0m7.2-9h0m-3.8-13.5h0m-12.1 19.3h0m10.6-4.2h0m1.2 4.9h0m-11.8-4.7h0m7.5 3.8h0m-6.7-1.5h0m-4.9-13.6h0m18.2 13.5h0m-14-4.8h0m-12 1.4h0m1.1 7.1h0m8.1-9.7h0m22.6 6h0m-22.6-7.9h0m-8 .6h0m7.5 6.9h0m-3.1 9.1h0m23.2-8.4h0m-19.4 3.5h0m13.6-1.1h0m13.5-9.5h0m-21.7 1.4h0m10.2 2.5h0m-28.6 9.4h0m15.4-7.2h0m-2.6 1h0m18.6-5.4h0m-13.1 .7h0m7.6-4h0m-13.5 5.1h0m8.5 10.9h0m-.7-6.2h0m15.9-4.4h0m-17.9 9.4h0m-1.6-7.6h0m1.7 9.7h0m-.2-6.6h0m-3.5 5h0m2.7-10.9h0m-6.8 7.7h0m26-1.5h0m-8-8h0m-11.7 2.5h0m-1.5 9.5h0m-12.3-13.4h0m24.8 14.7h0m-14.6-9.6h0m-10.8 1.5h0m21.5 .3h0m8.9-.7h0m-16.5 8.4h0m23.6-15.9h0m-8.6 10.8h0m-.4-1.6h0m-18 6.4h0m17.1-13.7h0m.7 5.4h0m-9.5-3.2h0m17-.7h0m-12.9 11.9h0m-25.9 5.4h0m23.7-18.2h0m15 2.4h0m-23.5 4.7h0m12.5-8h0m-13.2 6h0m5.6-5.5h0m-25.3 15.3h0m7.3-11.3h0m17.8 12.5h0m-6.6-21.2h0m-10.1 18.6h0m25.8-4.3h0m-5-7.5h0m-13.5-4.6h0m-9.8 14.2h0m24.8-13.7h0m-8.1 16.8h0m11.1-8.5h0m3.9-1.5h0m-14.7 3.4h0m1.8 3.9h0m9-6.7h0m-9.6 5.5h0m-17.5 1.9h0m24.9-10.3h0m-1.2 11h0m-8.4 4.7h0m10.4-5.1h0m-10.2-4.7h0m.3 3.6h0m10-13.3h0m-21.5 5.4h0m-2.6 .1h0m15-.7h0m-10.1 11.1h0m20-14.4h0m-15.9 4h0m-10.9-3.8h0m14.2 2.8h0m-19.4-3h0m38.9 10h0m-15.1-4.2h0m8.3 5.7h0m-1.1 3h0m-4.2-5.1h0m-12.7 1.3h0m18.2-4.5h0m-11.9-1.6h0m-6.3-10.4h0m-10.1 17.3h0m32.3-11.5h0m-15.6 .8h0m-1.3 3h0m-14.3 6.1h0m29.3-.4h0m-12.4-8.9h0m10.9-3.7h0m-7.8 16.8h0m-8.8-1.9h0m14.5-1h0m-22.6-3h0m-1.1-7.2h0m17.9 14.7h0m8.1-2h0m1.6-12.4h0m-10.9 8.6h0m.5 4.4h0m-.8 .9h0m-3.7-3.6h0m9.2-6.6h0m-10.3 .2h0m3.3 2h0m13.5-6.3h0m-8.3 10h0m-8-1.8h0m11.7-4.5h0m-9.2-3.5h0m9.4 5.7h0m-15.8-.1h0m1.7 4.5h0m-8.1-7.4h0m27.3 5.9h0m1.9-5.6h0m-11.2-2.2h0m3.1 4.4h0m-14.6 10.3h0m17.4-18.5h0m-.3 4.4h0m-1.9 10.7h0m-6.7-3.4h0m-2.5 4.2h0m4.3-3.7h0m-13.3-2h0m6.1-6.4h0m-5.5 3.5h0m22.2 .3h0m-25.4-1.3h0m2.4 5.3h0m3-1.7h0m10.2-2.5h0m-10.5 3.6h0m26.2-6.9h0m-8.6 10.6h0m-32-.2h0m26.7-.3h0m-1.2-14.3h0m-14.4 12.2h0m11.1-5.3h0m0-9.7h0m-1.1 4.4h0m6.7 12.8h0m-8.5 1.1h0m4.9 1.7h0m-13-8.1h0m15.7-16.7h0m-8.9 22.5h0m17.5-7.9h0m4.5-1.1h0m-19.6 12.9h0m8-6.4h0m-7.8-4.3h0m-5.9-.6h0m-3.7-9.8h0m12.2 13h0m-7.1 3.6h0m20.2-2.9h0m-6.2-6.2h0m-3.3 4h0m-5.7-4.4h0m.3 2.7h0m12.5 4.9h0m-10.2-6h0m.8 8h0m17.3-9.3h0m-16.7 5.1h0m-4.5-1.9h0m2 9.3h0m13.7-9.2h0m-18.5-2.7h0m1.2 5.8h0m16.4-2h0m1-8.8h0m-22.1 5.8h0m12.5-4h0m-7.3 16.9h0m8.4-9.2h0m-18.9 7.9h0m13.6-2.7h0m11.3-9.6h0m-7 10.6h0m-27.3-3.2h0m34.2-3.2h0m-8.8-13.8h0m-4.2 13.3h0m2.3-2.5h0m-3.6-1.8h0m15.7 3.6h0m-13.4-7.3h0m-14.4 9.1h0m4.9-15.9h0m27.2 10.4h0m-5.5-2.1h0m-18 8.9h0m13.6 .3h0m.9-23.3h0m-6.4 17.5h0m5.5-5.8h0m5.4 13h0m-6.7-4.4h0m.2 .3h0m-16.9 2.6h0m9.1-2.7h0m12 2.5h0m8.6-1.9h0m-16-2.1h0m8.3-5.2h0m-19.9 5.5h0m13.5-4.4h0m-12.2 7.7h0m0-1.7h0m7.7-9.2h0m-5.1 3h0m-7.6 6.1h0m23.2 5.6h0m-16.7-11.7h0m11.7 10.5h0m-19.6-.9h0m24-7.9h0m-8.8-7.4h0m-16.2 15.6h0m-1.9-.7h0m26.3 1.4h0m-.4-12.4h0m-23.8 20.2h0m22.3-7.9h0m3.7-2.3h0m4.7-.5h0m-14-5.9h0m-16.1 6.2h0m-3.2 4.6h0m38.9-13.2h0m-9.5 10.5h0m-12.3 5.9h0m-2.4-18.6h0m-5.8 7.7h0m6.1-2.9h0m-7.6 4.5h0m8.8 9.6h0m14.1-8.7h0m-10.9 1.5h0m-6.2 5.3h0m7-1.9h0m-18.4-.9h0m30.4-4h0m-2-12h0m-17.5 11h0m17.7-16.6h0m-20 17.4h0m5.8 .2h0m-2.9-5.1h0m6.7 .3h0m-1.4 10.6h0m13.9-11.7h0m-17.2 5.5h0m4.2 1.2h0m2.7 3.4h0m-11.1-1.1h0m7.9-.6h0m7.7-6.6h0m-18.8 9.7h0m6.3-9.2h0m-5.9 1.4h0m3.9 6.1h0m-.6-8h0m-8-11.8h0m19.4 12.2h0m-3.9-4.4h0m-4.5 11.2h0m5.2-7.2h0m-10.4-5.7h0m19.2 4.4h0m10.7-14.8h0m-45.8 30.9h0m28.5-15.5h0m-2.4 5.5h0m1-2.7h0m-6.4-8.6h0m-10.9 9h0m15.9 7.5h0m-3.7-1.8h0m1.2-8h0m.6-2.4h0m-3.7 4.9h0m26.2-12.6h0m-33.3 16h0m6.4-13.5h0m-7.8 7.2h0m12.8 8.1h0m16-8.3h0m-16.5-1.4h0m-6.9 6.5h0m-5.4-1.8h0m19.1 0h0m-11.5 7.5h0m12-9.8h0m-14.9-7.8h0m4 13.1h0m3.3-8.6h0m-13.5 15.1h0m27.9-6h0m-24.3-2.2h0m13.3 .8h0m.8-12.7h0m18.6-5.1h0m-17.1 12.1h0m4.4 3.7h0m-12.2 8.8h0m1.4-13.5h0m1-1.8h0m10.7-1.4h0m-20.2 4.3h0m14.8 3.3h0m22.5-14.4h0m-35.3 20.5h0m-11-11.6h0m18.2 4.5h0m18-1.7h0m-13.6-9h0m8.7 11.2h0m-20.8-10.7h0m9.8 16.2h0m1.6-9.9h0m-10.3 7.6h0m11.5-.4h0m-5.1 3.7h0m5.5 1.7h0m-16.3 1.5h0m-6.8-1.3h0m32.2-14.5h0m-13.6-1h0m.7 12.1h0m9.6-9.9h0m-5 3.9h0m-9.9 8.2h0m10.2-2h0m-3-9.3h0m-5.6-3.7h0m16-6.7h0m-5 10.4h0m-1.7 1.2h0m-14.8-4h0m4 14.9h0m7.1-13.2h0m-6.1 10.9h0m7.7-6.9h0m-2.1 4.8h0m-5-1.7h0m2.3-2h0m10.4 4.8h0m-4.5-.8h0m-13-4.9h0m2.2 5.4h0m9-8.6h0m-12.6 5.9h0m12.3 2h0m-2.7-.4h0m-13.8-10.7h0m-8.5 15.4h0m13.3-13.9h0m9.7 7.5h0m.6 3h0m10-16.1h0m-11.9 4.9h0m1.3 12h0m3.8-3.9h0m-10.6-13.7h0m.2 9.5h0m-3.4-3h0m5.1 8.4h0m15.8-8.6h0m-16.7 7.3h0m-1.7 1.7h0m19.8 .9h0m-16.5-1.5h0m10.8-2.9h0m-13.1 3.9h0m20.4-2.7h0m-25.6-2.7h0m9.2 5.8h0m-2.9-7.3h0m-4.8 1.6h0m8.9 1.6h0m8.6 5.7h0m-15 1.3h0m22.7-28.6h0m-11.7 29.2h0m-.4-7.4h0m-10.9 2h0m8.4 7.5h0m7-15.4h0m-19 1.3h0m2-6.5h0m-.5 5.3h0m-2.5 13.4h0m17.3-13.6h0m-14.4 1h0m25.7 4.8h0m-30.1-3.9h0m9.2 .1h0m3.8-1h0m-8.9 9.4h0m-12.5-4.9h0m14.9-1.4h0m6.5 .9h0m-11-8.9h0m13.8 7.9h0m-22.7-6.1h0m21.9 .1h0m18.5 1.4h0m-10.5 5.6h0m-.1-2.4h0m-11.8 10.6h0m-1.8-5.8h0m15.8 .2h0m-15.5-4.1h0m9.4-2.7h0m-13.4 17.4h0m9.8-23.3h0m1 18.1h0m-25.7-7.9h0m22.3 5.2h0m4.5-13.5h0m1.7 11.3h0m-1.8-.8h0m6.3-16.9h0m-11.7 11.6h0m-5.4 9.3h0m16.9-.6h0m11.1-6.6h0m-25.2-1.1h0m18.9 0h0m-18.1-4.9h0m-12.6 4.2h0m7.2 6.6h0m.1-1.5h0m20.8 .9h0m-11.1-1.4h0m-6 3.7h0m5.9-5.5h0m13.4 2.3h0m-22.7-6.4h0m11.9 5.2h0m-12.5-1.7h0m14.3 3.8h0m4.8-1.1h0m-9.4-6.6h0m-5 7.2h0m5.5-.6h0m-15.5 .7h0m30-2.6h0m-15 4.6h0m-21.5-1.8h0m14.2 .7h0m-12.8-3.2h0m19.1 7.9h0m-2.3-11.2h0m-5.6-5.1h0m18.2 2.7h0m-9.5 8.4h0m-10.6-1.9h0m13.2-5.3h0m-16.6 2.4h0m8.8-2.8h0m-4.9 .2h0m11.6 .9h0m-7.6-10.8h0m.1 18.9h0m8.2-2.4h0m1.9-1.5h0m-1.4 5.4h0m7-10.9h0m-20.8 7.4h0m11.4-18.8h0m15.7 15.3h0m-17-.8h0m-20.9 10.2h0m31.7-4.1h0m-12.7-4.4h0m7.2-8.3h0m-1.9 10.7h0m3.9 2.6h0m6.1-.6h0m-12.4-7.1h0m6.1-3.7h0m-20 7.7h0m3.2-5.5h0m6.4-8.4h0m19.6 12.9h0m-23.7 4.6h0m5 .6h0m8.3-11.3h0m-10.9 7.2h0m-8.9-6.1h0m-6.9-.5h0m29.3 7.5h0m-21.4-11.1h0m16.2 6.7h0m-11.6 12.2h0m13.7-6h0m-25.6 4.1h0m19.1-8.6h0m-9.6-.8h0m12.7 .3h0m-.6-2.4h0m5.7 7.1h0m-13.3-2.3h0m-6.4 10h0m-.1-12.6h0m21.9-5.1h0m-19.7 6.3h0m9 11.4h0m6.3-5.5h0m-5.9-3.3h0m-8.4 .4h0m-10.7 3.6h0m28.6-13.6h0m-13.3 12h0m-11.5-4.5h0m10.5 2.9h0m6.6-2.6h0m-19.5 5.3h0m19.9-8.4h0m.3 9.1h0m3.7-4.5h0m-5.6-6.3h0m-8.6 9.3h0m-7.2-3.8h0m15 2.1h0m-2.7 3.5h0m18.8-12h0m-17.5 6.1h0m7-.6h0m-3.5 .4h0m7.2 .8h0m-13.7-7.3h0m-8.3 9.6h0m17.6-7.4h0m-5.4 .4h0m-2.1-2.7h0m-1.5 12.2h0m.7-8.2h0m15.4-1.8h0m-10 2.7h0m2.8-3.4h0m1.8 1.4h0m-36.5-5.1h0m32.8 7.8h0m4.8 4h0m-20.9 0h0m7.8 3.5h0m12.7-12.2h0m-16.8 9.8h0m13.2-6.7h0m12 .5h0m-12.2 11.8h0m9.8-19.8h0m-4.9 2.5h0m-14.5 3.7h0m1.4 6.8h0m.2 2.4h0m18.2-1.1h0m-23.8-9.4h0m-1.1 8h0m14.7 1.9h0m11-5.1h0m-9.2 7.1h0m2.4-7.4h0m-1.9-1.9h0m-1.2-12.4h0m-6.6 3.5h0m9 15.7h0m-.2-12.5h0m-6.1 10.5h0m17.9-.9h0m-27.8-.1h0m7.9 5.9h0m-6.3-9.6h0m20.1 4.5h0m-.6-4.6h0m-19.5-5.4h0m7.5-4.6h0m-3.2 12.3h0m-6.9 13h0m5-3.9h0m10.3-6.3h0m2.7 1.6h0m-12.6 2.9h0m5.9-8.5h0m14.1 .8h0m-11-3h0m-17.5 10.7h0m15.2-7.8h0m-2.7 6.2h0m-4.9-12h0m-1 .2h0m10.3 10.1h0m3.2-11.6h0m-15.2-.9h0m27.9 5h0m-5.4-5.2h0m-13.6 17.8h0m1.8-21.5h0m-10.9 7.8h0m2.6-2h0m1.5 8.1h0m-5.3-7.6h0m17.5 1.3h0m-9 1.8h0m1-12.4h0m1.2 7.9h0m-1 10.1h0m14-18.3h0m-15.6 7.4h0m-6.2 4h0m-3.1 12.6h0m6.9-1.2h0m9 2.1h0m-2.9-15.6h0m3.2 11.1h0m-7.5-2.4h0m6.6-11.3h0m2.2 11.6h0m-16.8-.6h0m14.9-6.9h0m-.3-2.7h0m-7.3-2.2h0m15.7 11.1h0m-10.1 1.4h0m-8.8-3.2h0m16.5-3.6h0m7.8-2.8h0m-27 13.7h0m9.9-5.4h0m7.1-14.3h0m-.5 12.4h0m4.4 1.8h0m1.6-7.4h0m-30 6.1h0m24-5h0m-21.2 11.8h0m5.5-7.7h0m-1 2.6h0m15.4-2h0m-19.2 13h0m13.7-22.5h0m18.8-1.3h0m-23.5 10.6h0m4.3-4.6h0m-10.3 8h0m6.4 1.6h0m8.7 2.7h0m-15.8-9.5h0m7.4 4.6h0m3.3-1.2h0m17.8-8.3h0m-16.9 11.3h0m5.1-3.1h0m5.2-5.6h0m12.7-3.9h0m-15.4 12h0m-17.7-2.3h0m2.3 8.2h0m10.9-17.8h0m-23.8-1.7h0m16.2 11.3h0m-.3-4.7h0m.8-2.5h0m10 .3h0m7.4 2h0m-9.1 8.3h0m-7.8-15.3h0m-5.9 15.5h0m-5.1-13.8h0m0 3.4h0m30.8 2.2h0m-12.4-.7h0m8.6-3.6h0m-.1-3.6h0m-11.8 5.7h0m5.6 6.9h0m2.9 .7h0m-2.1-2h0m3.9-2.3h0m6-2h0m-6.9-1.5h0m10.3-3h0m-22.6-9.6h0m10.1 5.1h0m2.6-10.2h0m-1.7 13.5h0m12.6-1.5h0m-18-4.9h0m3.5-.8h0m-2.4 15.4h0m7-17h0m-5.2 13.4h0m11.2-3.8h0m-.3 6.8h0m-18.1-17.1h0m-.1 10.3h0m17.7 6.8h0m-2.6-8.4h0m-11.9-7.4h0m9.4-3.2h0m-7.3 7.4h0m12.3 10.2h0m-12.8 3.1h0m4.2-8.7h0m6.6 4.9h0m-2.5 .7h0m6-2.4h0m-3.8-8.6h0m-11.6 9.3h0m10.5-10.3h0m-8.2 6.7h0m15.5 4.1h0m.8 1.7h0m-2.7-7.2h0m-2 9.9h0m4.1-3.3h0m-3.2-6.1h0m-.4 2.2h0m-.1-1.7h0m-3.5 .2h0m9.1 4h0m-17.4 2.2h0m-2.9-6.5h0m4.8 4.4h0m14.2-2.9h0m-11.2-.6h0m-3.3-6.7h0m-.1 8.1h0m7.8-3h0m-3.1 2.4h0m7.6 4.3h0m-9.2-1.5h0m7.4-.3h0m-10.7-7.2h0m8.5-6.6h0m15.1 7.2h0m-19.5 2.3h0m.4 1.2h0m6.6 6.9h0m-11.8-6.3h0m3.2 6.7h0m-.5-10.9h0m4.8-4h0m-9.8 11.6h0m16.9-11.8h0m-7.8-2.7h0m.3 6h0m-2.1 5.3h0m.8 4.5h0m-13.7-6.4h0m21.6 5.3h0m-13-5.5h0m10.3-9.5h0m-5.9 3.1h0m-.4-3.4h0m4.3 8.7h0m7.1-11.2h0m-10.7 3.9h0m-2.9 3.5h0m6.3 10.3h0m-17.7-2.2h0m9.7-5.4h0m-.8 3.4h0m3.8-2.6h0m-6.1 17.6h0m13.4-26h0m-7-2.2h0m2.7 .6h0m-.7 2.9h0m-2 6.3h0m-2.1 7.6h0m11.7-6.9h0m-2.7-.2h0m4 .6h0m-10 2h0m2.7-6.5h0m.4 9.1h0m-4.1-4h0m1.8 1.7h0m-9.6 1.8h0m2.6 .1h0m1.6 1.3h0m-1.3-9.8h0m9.5 7.9h0m-.4-12h0m.2-3.2h0m-4 10.1h0m7.7 4.7h0m-.6 .4h0m-2.1-.8h0m-5.4 2.9h0m11.3-15.4h0m-16.5 7.2h0m-2.6 1.9h0m1.9-3.5h0m15.1 6.7h0m-6.7 1.5h0m-4.1-1.6h0m-10.4-1.1h0m12.6 12.9h0m-4.6-13.1h0m-6.6-.3h0m19.1 7h0m-6.3 3.5h0m8.1-16h0m-8.4-.5h0m3.4 13.8h0m-7.5-1.3h0m7.9-1.6h0m-6.1-6.5h0m6 5.4h0m-2.3-12.2h0m-7.9 1.6h0m6.7 15.8h0m.9-16.5h0m-5.2 6.5h0m3.5 4.6h0m6.3-1.9h0m1.8-8.2h0m-7 2.9h0m-14.1 6.9h0m18.2-6h0m-5.9 1.8h0m-3.7 11.4h0m6.9-10.7h0m-.5 7.3h0m4-4.7h0m-9.1-2.2h0m14.3-8.3h0m-5 11.3h0m-11.6-2.9h0m12.4 1.6h0m-7-5.3h0m4.9-2.3h0m-2-.2h0m-1.8 5h0m1.5 6h0m-4.4-7.4h0m-1.9-4.5h0m3 1.6h0m-.3-1.8h0m4.1-2.9h0m-1.2 7.3h0m-10.9-1.6h0m14.8 1.7h0m-5.3 13.2h0m5.4-5.6h0m-1.1 3h0m-2.4-8.3h0m1.7 1.5h0m-12-6.3h0m18-5.6h0m2.3 1h0m-7.8 7.2h0m-6.9 4.9h0m7.2 10.3h0m-6.2-13.5h0m11.8-8.6h0m-12.4 6.8h0m-4.3 5.2h0m2-9.8h0m.5 4h0m8.8 5.8h0m-4.6-2.3h0m2 1.9h0m-3.7-2.2h0m9.9-.4h0m-7.8 8.1h0m1.2-2.7h0m8.2-3.8h0m-7.7 1.7h0m-4.9-3.4h0m1.7 0h0m8.3 2.7h0m-4.6-1.2h0m-6.9 13.8h0m11.7-13.5h0m-15.8 1.1h0m-4.1 10h0m6.9-17.8h0m-5.4 6h0m10.1 6.8h0m1.4-6.1h0m-1.8-1.5h0m-1.8-4.6h0m-2.9 5h0m11.9-4.3h0m-17.4 10.3h0m16.2-2.8h0m-2.9-5h0m-1.9 8.4h0m3.1-12.7h0m-12 .9h0m15.2 9.4h0m-2.9-2.7h0m3.7-8.3h0m-19.1 2.3h0m13.9 3h0m-2.3-2.4h0m-13 5h0m11.8-1.9h0m2.3 3.5h0m-5.1-3.2h0m7.1 2.4h0m1-4.6h0m-6 4.8h0m.6-.2h0m6.7 2h0m-10.5-2h0m8.9-4.3h0m4.9 1.9h0m-8.1 7.9h0m2.4-9.1h0m-2.1 1.9h0m4.8 8.9h0m-14-5.5h0m-1.2 .2h0m5.1-9.1h0m1.4-.1h0m9.6 6.9h0m-2.4-12.1h0m4 .6h0m-9.9 13.1h0m-.8-1.8h0m-6-7.2h0m16.2 10.9h0m-3.8-4.1h0m-3.4-3.9h0m-7.9 2.3h0m2-2.7h0m9 4.9h0m-2.9-5.8h0m6.6-2.5h0m-5.5 2.4h0m-5.3 6.3h0m-2.9 4.3h0m7.1-10.2h0m9.8-2.2h0m2.1 7.6h0m-16.3 4.8h0m7.5-8.7h0m-7.5 11h0m5.9-13.3h0m-18.5 12.8h0m13.2-4.3h0m-7.1-13.8h0m19.6 12.9h0m-11.1-4.3h0m5.1 .2h0m-2.6-3.2h0m-8.2 4.3h0m11.8-3.8h0m2.7 4.5h0m-5.1 5.4h0m2 1.8h0m3.3-1.5h0m-3.2-1.4h0m-4.2-2.5h0m-9-3.7h0m4.7-5.3h0m.5 12.3h0m9.1-8.4h0m3.5 3.6h0m-7.9-9h0m5.9 10.5h0m-20.3 5.4h0m16-8.5h0m-8.8 5.8h0m12.8-6.1h0m1.9 1.8h0m-.8-3.7h0m-1.9-12.7h0m2.1 17.6h0m3.9 .7h0m-13.8 .5h0m1.2 2h0m-6.3-2.7h0m11.8-6.4h0m-1.6-4h0m-5.7 5.6h0m7.5-.7h0m-5 9.1h0m16.1-4.3h0m-12.6 1.2h0m.3-13.2h0m-5.5 7.1h0m6.7 9h0m6.4-8.9h0m-14.3-4.3h0m2.1 8.4h0m-9.2-4.6h0m10.9 3.4h0m10.1 2.1h0m-16.8-7.8h0m4.8 5.5h0m-2.2 8.1h0m2.8-9.4h0m-3 .3h0m2.5-2h0m-4.6 5.2h0m7.9 1.1h0m4.6-8.1h0m-1.3 5.8h0m-15.7 9h0m19.1-19.2h0m-3.6 15.3h0m2.5-.6h0m-12.1-14.1h0m1.7-.7h0m7.6 6.3h0m-9.7-.5h0m7.3 3.9h0m1 .5h0m-4.7-1.2h0m4.2 12.1h0m-5.2-9.9h0m10.7-8.5h0m-17.3 8.6h0m11.5 2h0m-4.9-10h0m2.7 7.3h0m-5.1-4.6h0m-12.5-4.1h0m27 2.3h0m-4.7 10h0m-1.8-5.7h0m-2.7-8.6h0m2.1 13.8h0m-3.8-6h0m2.6-15.4h0m7.7 10.8h0m-12.1-7.5h0m-1.4 10.2h0m2.3 15.6h0m4.2-10.3h0m-2.3-6.6h0m4.5-1.9h0m.3 2.5h0m-3.1 5.8h0m-6.5 6h0m.1-7.1h0m6.1 7h0m10.5-8h0m-21.6-11.6h0m10 14.2h0m3.4 4.1h0m-6.1-2.5h0m4.7 3h0m-2-11.9h0m5.4 3.9h0m5.1 1.7h0m-11.7 1.9h0m3.6 1.3h0m.9 2.5h0m-1.7-8.2h0m-.9-3.8h0m-12.8 3.6h0m13.3 1.4h0m-7-1.5h0m3.8-2.8h0m5.1 10.6h0m.8 .6h0m-6.1 .1h0m-.1-1.2h0m1.1-1.5h0m-4.6-5.8h0m15.5 .3h0m1.2 4.1h0m-11.5-12.6h0m10.7 12.3h0m-5-13h0m-11 22.4h0m-11.6-6.3h0m-6.2-.5h0m2.9-7.4h0m-2.3-1h0m10-5.5h0m-2.1 7.7h0m-4.9-1.5h0m-3 3.4h0m5.4 3.3h0m-1.6-11.3h0m-1.5 3.7h0m-2.3 2.4h0m-5-7.3h0m.9 8.1h0m3.1-1.7h0m-4.5 4.9h0m3.4 1.8h0m13.3 .1h0m-8.5-5.5h0m3.2 2.9h0m-6.3-.2h0m9.5 4.9h0m-5.9-16.7h0m3.3 9.2h0m1.4-3h0m-3.2 5h0m7.3 5.4h0m-14-4.8h0m2.9-.4h0m4.1-4.8h0m-2.9 5.8h0m2.7-.4h0m8.4-7.2h0m-12.1 9.5h0m2.8-6.4h0m-3.9-9.5h0m-1.5 11.1h0m-5.3 4h0m11.7-.4h0m4.5-1.8h0m-6.7-1h0m5.8 4h0m-12.5-.5h0m5.6-13.8h0m.2 6.4h0m4.3 4.7h0m-3.3-1h0m2.4 5.2h0m4.6 1h0m-12.7-4.9h0m4.8-3h0m2.5 12h0m-5.2-14.7h0m5.1 4.3h0m-10.4 12.3h0m3.6-8.1h0m3.7-.2h0m-7.6-3.4h0m19.5 6.9h0m-1.5 10h0m-3-15h0m-2-3.2h0m.3 8.1h0m-5.8 4.3h0m.2-8.9h0m-8.9-6.9h0m14.6 6.8h0m-5.5-6.5h0m-8.8 10h0m5.6-6.7h0m6.6 4.2h0m-10.4-2.5h0m5.3 4.3h0m-8.1-16.5h0m8.3 13.6h0m2-.8h0m-11.5 .6h0m8-10.1h0m6 16.3h0m-4-11.7h0m9.1 6.5h0m-3-5.7h0m1.4 1.8h0m-11.7-1.4h0m1.4-6.8h0m6.2 5.7h0m1 11.3h0m-5.2-14.2h0m1.5 7.3h0m-3.7-10.9h0m2.4 16.5h0m4.4-14.3h0m5.1 1.3h0m-4.3 5.8h0m1.6 4.1h0m-4-10.8h0m2.2 7.1h0m2.2 3.6h0m-9.2-3h0m9.3-4.5h0m-1.9 7h0m2.1 3.9h0m-2.8 7h0m-5.5-6h0m1.1-17.3h0m2.3 17.4h0m-12.5-1.5h0m8.3-4.3h0m1 2.3h0m.3 2.5h0m-2.2-8h0m-.4-5.6h0m3.9 5.6h0m-1.7 5.4h0m9.5-7.1h0m-6.5-.5h0m-.3-3.6h0m4.4 10.5h0m-4.5-9.4h0m.3 5h0m5.9-3h0m-1 11.8h0m-5.7-1.7h0m-5.4 7.5h0m3.4-17.4h0m5.7-1.7h0m-10.7 7.3h0m6.4-9.5h0m1.3 5.1h0m-7 6.8h0m13.1-3.6h0m-7 4.6h0m-6.3-9.3h0m2.6 1.7h0m7 1.9h0m4.6 5.7h0m-5.3 1.5h0m-.5 .6h0m-1.8-6.4h0m8.8-4.8h0m-1.6 1.8h0m-14.1 2.4h0m8-9h0m2.7 3.5h0m-3.8-4.6h0m3.1 11.8h0m1.1-.4h0m-7.6-6.7h0m10.6 10.9h0m-5.5-5h0m4.5-1.3h0m-3.9 4.7h0m-1.7-2h0m6.9-8.1h0m-4.7 2.3h0m5.9-4.4h0m-4.8 11.8h0m7.7-4.2h0m-14.4 6h0m4.2-9.4h0m-4.1-2.8h0m-1.6 13.4h0m6.2-1.7h0m-8.1-13.3h0m6.7 14.6h0m6.8-10.3h0m-3.7 13h0m-5.2-5.9h0m1.4-6.5h0m4.6 2.2h0m4.2 .4h0m-8.9-16.1h0m1.9 21h0m1.8-5.7h0m-3.3 6.1h0m2.6-20.8h0m-.4 20.6h0m5.1-4h0m-9.3-6.7h0m3.2 18h0m1.3-6.6h0m-5.1-10.3h0m1.9 .8h0m1.5 8.1h0m-7 7h0m4.7-7.4h0m-3.1-5.5h0m3 13h0m-.8-14h0m.9 11.2h0m5.7-3.8h0m2.6-4.6h0m-1.9-2.8h0m-7.9 .2h0m5.4 3.2h0m-7.7 8.2h0m8.8-8.4h0m.9-4.8h0m-5.2 12.9h0m1.8-1.8h0" stroke="#2176ae" stroke-width="1.0" stroke-linecap="square" fill="none"/>
<path d="M377.3 187.3h0m1.5-20.4h0m6.8 2.4h0m-14.5 12h0m17-14.3h0m-6.4 10.7h0m7-7.8h0m-3.6-1.5h0m-2.9 1.7h0m-7.6-13.4h0m7.1 21h0m-3.6-1.4h0m3.8-3.2h0m.5-1.8h0m-12.9-5h0m7.5 6h0m-11.9-3.7h0m5.1 .9h0m2.5-5.9h0m8.8 3.3h0m1.1 10.8h0m-1.1-4.3h0m-6.5-8.7h0m-3.4 1.6h0m15.4 10.2h0m-4.1-9.2h0m-7.1 11.4h0m6.6 4h0m2-5.8h0m-13.1-12h0m-1.7-9.1h0m16.6 25h0m-9.3-20.4h0m4.3-2.1h0m-4.3 8.7h0m5.4-.5h0m1.9 7h0m-10.6-8.1h0m8.2 10.9h0m-9.5-11h0m7.9-6.4h0m8.8 8.6h0m-6.9 11.4h0m2.5-10.1h0m-7.4-10.6h0m11.9 8.5h0m-5.8 11h0m-5.9-12.3h0m3.2-8.4h0m-.9 13h0m-8.6-13.6h0m1.1 20.6h0m12.5-2.5h0m2.6-5.7h0m-9.2-7.1h0m10.4 14.3h0m-6.6 4.6h0m5.5-3.5h0m-3.5-11.4h0m-4.3 8.9h0m-8.3-6.7h0m10.9 11.5h0m-2.8-12.3h0m1.6-6.9h0m-11.4 12.2h0m19.9-1.1h0m-6.3-2.9h0m-4.7 1.1h0m-6.3-4.1h0m4.9 6.6h0m5.1-3.3h0m.4 1.2h0m-.9-1.5h0m-10 4.3h0m3.9-7.5h0m9.1 17.9h0m-9.9-24.1h0m2.6 14h0m6.6 5.1h0m-15-17.5h0m19.5 12.3h0m-10.5 6.7h0m-4.2-10.4h0m9-4.5h0m-1.7 .3h0m1.3-6.2h0m-8 8.2h0m1.8 11.6h0m7.8-7h0m-14.8 8.9h0m3.7-13.2h0m6.5-.1h0m8.9 1.3h0m-13.5 4.2h0m10.5 .5h0m-6.1-2.6h0m-5-11.8h0m4.4 13.9h0m-5.4-1.8h0m2.1 .6h0m-.1-9.1h0m7.4 7.2h0m-10.1 2.3h0m13.7-8.8h0m-10.1 2.1h0m7.7 2.1h0m-13.8-9h0m4.4 15.6h0m10.2-9.7h0m1.1 11.9h0m-20.7-15.5h0m16.4 4.9h0m-9.1 9.6h0m10.8-4.2h0m-.1-5.6h0m-.5 11.4h0m-5.4-9.5h0m3.3 6.6h0m-.9-4.1h0m-4.6 0h0m5.3-6.1h0m-5.2 2.6h0m-5.6 3.1h0m13 2.3h0m.5-11.1h0m-2.3 13.9h0m-4.2-2.2h0m2.3 2.5h0m8.6-6.9h0m1 12.3h0m-11-3.5h0m4.8-5h0m7.1-1.2h0m-6.2 6.2h0m-1.9-5.9h0m-2.1 5.3h0m-8.3-4.3h0m18 7.4h0m-5.6-11.6h0m-7.4-21.8h0m12.8 26.3h0m-9.6-4.3h0m-1.3 1.8h0m6.6 4.4h0m-17.6-21.1h0m-1.3 8.2h0m12.5 8.5h0m-4.4-7.8h0m3.6 14.1h0m4.9-2.5h0m.9-7.9h0m-3.9 11.6h0m-14.3-16.9h0m6.3 12.4h0m6.7 5.4h0m4.8 2h0m-1-6h0m5.1 5.6h0m-12-8.6h0m11.8-.6h0m-6.9 3h0m7.8-1.8h0m-1.2 .5h0m-12.2 1.6h0m4.1-8.9h0m6.7 2h0m-2-7.3h0m.5 8.7h0m-3.8 9.9h0m-1.5-.8h0m7.3-10.5h0m-8.8-1.8h0m3.1 6.2h0m-5.2-5.1h0m9.6-.2h0m-4.2-.3h0m-3.6 8.7h0m2.1-9.8h0m6 11.2h0m2-1.5h0m.4-5.7h0m-15-.7h0m1.9-4.5h0m4.6 12.2h0m-5.8-4.9h0m7.9 6.1h0m2.2 3.5h0m-6.5-16h0m-.3 6.8h0m8.3-6.4h0m-8.9-11.9h0m2.4 20h0m.2-5.3h0m4.1-.5h0m1.2 4.9h0m4.5 3.4h0m1-3.8h0m-6.3 11.4h0m-8.6-15.8h0m6.4 9.4h0m-.9-12.1h0m-2.5 4.9h0m8.2 7.7h0m-9.5-1.2h0m5.5-4.1h0m1.8-.8h0m-5 5.3h0m9.9 1.2h0m3-6.2h0m-27.2 1.7h0m15 4.4h0m1-7.1h0m5.7 .3h0m-9.5 2.6h0m8.1 3.3h0m4.7-7.4h0m-7.4-2h0m-7-5.7h0m.1 .8h0m8.5 10h0m-1.5-7.3h0m3.5 10.6h0m-4-5h0m-10.7 5.8h0m6.1-4.8h0m7.7 5.1h0m.8-3.7h0m-5.7 3.3h0m7.2 1.5h0m1.7 0h0m-11.5-12h0m-6.3-8.1h0m9.6 2.6h0m4.1 12.9h0m1.7-6.3h0m-4 11.6h0m-7-8h0m1.3 3.5h0m7.1-.6h0m-13.1-.3h0m16.2-8.4h0m-9.5 2h0m3.2 2.2h0m-.8 2.1h0m12 3.2h0m-17.4-1h0m9-8.1h0m-2.9-3.2h0m4.8 .7h0m1.3 8.8h0m-10.7 1.6h0m.1 9.6h0m-6.5-9.2h0m8.8-5.4h0m8.8 11.2h0m-2.8-2.3h0m-2.4 2.5h0m-1.4-18.6h0m-7.1 11.9h0m14.7-3.1h0m1.1-.6h0m-4.3 .3h0m5.2-2.4h0m-13.8 13.8h0m-1.3-9.9h0m6.3-.1h0m-.7-1.6h0m-4.1-5.8h0m8.8 10.5h0m-1.1 10.4h0m1.1-3.3h0m-12.4 5.9h0m2.4-25.2h0m-1.3 1.1h0m-2.7 4.9h0m12.3-5.7h0m-9.6 5.4h0m-5.5-.6h0m9.4 2h0m13.8 1.3h0m-8.4 5.8h0m7.1-10.5h0m-8.4-3.2h0m10.1 8.5h0m-5.9 2.7h0m-4-9.7h0m-15.8 15.2h0m4.4-13.6h0m1 2.8h0m7.8 3.6h0m5.7-4.9h0m2.2 9.9h0m-3.9-8.6h0m-12.4 7.7h0m7.1 4.5h0m-2.5-20.3h0m9.3 14h0m-.6 4.3h0m-9.1-7.6h0m.3 10.3h0m7.4-20.2h0m-9.9 5.4h0m3.1-4.9h0m8.5 20.3h0m-3.9-18.1h0m-2.9 12h0m-8-14.6h0m12 16.4h0m-9.5-14.9h0m7.1 2.5h0m-13.5-9.8h0m9.1 6.9h0m1.2 17.4h0m-1.2 5.6h0m8.4 1.8h0m-5.1-17.2h0m-4.4-8h0m-1.2 8.5h0m3.3 3.8h0m-1.8-17.7h0m12.5 6.6h0m1.2 6.1h0m3.5 .9h0m-18.2-12.1h0m8.6 11.7h0m6.5-1h0m-1.4 8.6h0m-3.7-5.2h0m1.4 5.7h0m2.6-5h0m-11-7.4h0m2.6 11.4h0m7.2-6h0m-2.7-4.1h0m1.9 15h0m-10.8-8h0m7.7 1.2h0m8.2-5.9h0m-12.4 1.6h0m.8-12h0m-8.4 11.2h0m9.7 15.4h0m1.5-12.8h0m2.5-8.4h0m-1-1.4h0m-7.4 3.1h0m-9.8 9.1h0m11 9.1h0m10.8-12.8h0m-11.8-.2h0m-7.4-11.5h0m-1-1.6h0m8.9 16.2h0m2.1-17.3h0m.5 15h0m-2.5-6.8h0m10.7 12.7h0m-4.3 2h0m-5.2-20.8h0m13.1 14.3h0m-13.7-1.3h0m5.7 2.3h0m-7.4-5.9h0m12.6 9.7h0m-10.7 2h0m-1.5-8h0m4.4-14.2h0m-16.4-.6h0m20.9 13.5h0m-8.5-10.2h0m.3 3.8h0m3.6-2.5h0m-3.6 13.1h0m8.6 4.8h0m-2.6 9.4h0m-3.4-15.1h0m3 .2h0m-3.9-12.3h0m2.4 12.7h0m-.2-4.1h0m-4.5-7h0m.3-.7h0m15.2 12.8h0m-22.8-3.3h0m12.9 3.3h0m6.2 6.8h0m-8.3-16.8h0m2.5 1.5h0m.6 15.6h0m-3.5-17.8h0m.8 5.8h0m-.1 .4h0m4.8 5.9h0m-7.8 4.1h0m8.4-18.1h0m-.8 14.4h0m-2.5-8.6h0m-4.5 2.6h0m-6.3 4.5h0m12.2 2.1h0m-4.7-6.9h0m-8.8 8.1h0m15.7-16h0m-8.6 .2h0m7.7 8.6h0m4.9-3.2h0m-4.4 2.2h0m-22.4-4.2h0m23.2-3.7h0m-14.2 11.8h0m9 2.2h0m10.3-5.3h0m-14.9-1.5h0m-4.7-1.5h0m5.2-8.5h0m1.7 7.5h0m-5.4 15.8h0m15.4-17h0m-8.8 .5h0m1.5 6.3h0m-.6-5.9h0m5.2-6.1h0m-10.1-2.3h0m-3.1-1.6h0m12.2 15.5h0m-1.2-.1h0m-.4-7.7h0m-5.5 10.3h0m7.6-1.1h0m-3.1-10.2h0m-5.7 10.7h0m9.8 1.2h0m-9.1-15.9h0m11.2 7h0m1.9 1.1h0m-12.1-11.1h0m5.7 21.6h0m-2.2 7.8h0m-8.6-24.6h0m14.6 6.2h0m-.4 10.3h0m-9-10.4h0m2.9 20.2h0m-1.8-25.6h0m8.8 5.6h0m-4.8-1.1h0m-5.3-8.7h0m3.8 10.3h0m6.5-.4h0m-5.4-6.9h0m-2 5.6h0m-8.1 14.9h0m14.4-6.1h0m-3.7-1.9h0m-.5 2.3h0m7.8 2h0m-14-7h0m4.3-6h0m1.2 6.2h0m-8.1 3.4h0m4.4-8.2h0m4.1 5.8h0m5.2-1.3h0m-.9 6.5h0m-8.2-13.5h0m9.9 14.5h0m-18.8-5h0m5.6-12h0m4.7 18.8h0m5.2-6.6h0m5.4-5.2h0m-8.6-7.3h0m6.6 14h0m-5.8-13.4h0m-7.6 10.6h0m11.1 4.4h0m-9.4-4.1h0m2.1-.1h0m3.5-9.8h0m5.6 13.1h0m-8.4-7.5h0m8.9 4.7h0m-7.4-.5h0m-2.5-9.4h0m-.8-3h0m6.8 1.3h0m-.6-.1h0m-4.2 12h0m3.9 7.4h0m-5-9h0m4.5-4.3h0m1.4 7.1h0m-3.1-10.9h0m-6.7 7.4h0m10.3 5.7h0m-3.9 3.9h0m-6.4-10.7h0m5.6-2.1h0m-2.2-.1h0m6.3 4.1h0m3.2 9.1h0m-6.5-9.7h0m-.4-10h0m4.8 16.7h0m-1.9 .8h0m-3.6 1.9h0m8.4-5.7h0m-3.5-8.6h0m-1.2-5.1h0m-6.2 15.3h0m-2.2-6.1h0m7.2 .7h0m6.5 7.5h0m-12.5-21.2h0m-4.5 4.5h0m10.2 2.5h0m-11.2 9h0m6.8 1h0m-4.3-7.7h0m13.7 11h0m-10-8.2h0m5.9 6.4h0m6.8 4.9h0m-9-.9h0m4.1-13.2h0m-8.9 5.2h0m13.1-.1h0m-10.9 6.6h0m-6.4-14h0m8.5-2.5h0m6.3 1.9h0m-11.9 18h0m12-11.5h0m.1-2.6h0m-7.7-8.1h0m-8.9 3.5h0m6.5 12h0m3.9-13.2h0m-8.5 19.8h0m12.3-19.5h0m6.1 6.3h0m-14.4 9.9h0m.3-1.6h0m8.1-7.7h0m-1.5 18.5h0m1.2-18.9h0m-4.4 5.9h0m-2.3-5.4h0m5.5 9.1h0m4.6-.1h0m-.3 0h0m-5.8-5.3h0m9.2 2.1h0m-6.6-8.6h0m-8.5 11.7h0m-3.8-22.2h0m3.9 3.5h0m9.8 15.4h0m2.9-5.3h0m-11.2 .3h0m9.7-3.1h0m-8.1 17h0m5.1-10.3h0m-6.1-4.6h0m-2-8.4h0m12 8.8h0m-11.8-6.2h0m5 6h0m4.8 10.3h0m-13.8-11.3h0m3.3 4.4h0m6.9 9.4h0m-5.8-27.9h0m4.7 12.4h0m-13.2-4.1h0m11.4 22.2h0m-3.8-8.2h0m5.2-6.1h0m2.7 1.1h0m-1.4 5.5h0m3.2-2.7h0m-4.8-2h0m3.6 5.6h0m5.7-6.7h0m-14.3-7h0m3.1 5.1h0m10.6 5.3h0m-6 2.6h0m-6.9-8.5h0m10.8 11.3h0m-9.9 .4h0m9.8 2.9h0m-9-13.1h0m8.3 9.2h0m-2.7-6h0m-5.8 5.4h0m-6.5-7.5h0m9.8-2.6h0m3.4 15.9h0m-12.8-17.9h0m8.2 9.6h0m4.9 4.8h0m-5.4 3.3h0m.5-14.1h0m1.1-7.3h0m-.6 17.7h0m6.3-16h0m-10.1 8.2h0m-3.2-4.9h0m9.7-9.1h0m-5.8 8.6h0m-.6 3h0m-5.1-10.6h0m15.5 20.6h0m-10.1-10.1h0m5.9 13.4h0m-8.2-1h0m-2.3-13.2h0m6.5 2h0m-6.4-1.2h0m5.9 1.4h0m8.5-2.1h0m-4.3 3.9h0m5.2-1.5h0m-11.4 2h0m6.1-8.7h0m-7.9-4.8h0m10.9 10.6h0m-10.9 .5h0m8.7 3.9h0m1.1-10.9h0m-1.7 7.8h0m-2.8-9h0m.6 10.8h0m-12.6-.7h0m9.8 2.1h0m10.2-.5h0m-6.5-5.2h0m-4.9 5h0m9.5-5.4h0m-2.9 .4h0m-10.3 4.7h0m15.1-6h0m-4.7 1.6h0m6 5.8h0m-11.7 10.5h0m10.9-14.2h0m-5 1.5h0m-4.4-13.7h0m6 11.2h0m-4.5 3.8h0m-2.6 2.2h0m4.8-12h0m-.7 2.2h0m-10.9-4.6h0m15.4 1.8h0m-11.8-6.9h0m18.3 15.2h0m-4.7-6.2h0m-10.7-2.9h0m11.3 15.5h0m-13.2-6.6h0m3.8-9.3h0m-7.1 14.3h0m1.5-8.3h0m1.8-12.3h0m8.7 13h0m5.1 9.9h0m-4.3-14.3h0m-4.8 11h0m.9-3.6h0m-1.3 5.3h0m.5-9.4h0m-5.5 14.6h0m1.8-11.2h0m11.4-4.9h0m-5.3 5.8h0m-6.2-3.2h0m7.1-2.9h0m-2.5-.3h0m-2.7-1.9h0m-1.5 1.3h0m-5-3.2h0m10.1 11.7h0m.2-2.1h0m-6.4-16h0m11.7 8h0m-6.5 6.3h0m-1.2-8.1h0m8.8 8.3h0m-4.9-6.3h0m-13.5 9.9h0m7.7-10.7h0m-2 9.9h0m1.2-.8h0m6.4-2.2h0m-14.8 4.6h0m9.7-3.5h0m1.4 1.1h0m-7.2-16.9h0m16.5 11h0m-4.2 6.9h0m-.4-4.6h0m-6.5-7.6h0m3.5-3.9h0m-6.3 0h0m2.9 26.6h0m4.5-8.8h0m-2.1 5.6h0m-8.6-10.1h0m-3.4-2.3h0m5-8.5h0m6.8 13.2h0m-5-7.6h0m4.6 14.2h0m4.2 .9h0m.2-14h0m-8 12h0m3.4-7.1h0m8.9-.5h0m-11.2 2.5h0m-5.1 1.6h0m8.6-2h0m-.4 .1h0m6.2-4.3h0m.1 3.3h0m-7.8-7.7h0m-1.9 9.7h0m3-11.1h0m-3.6 9.4h0m-1.9-3.7h0m4-3.6h0m11.9 7.7h0m-20.1-4.8h0m14.6 3.5h0m-7 3.7h0m9.9 0h0m-5.9-13.1h0m-7.8 .8h0m1.5 9.6h0m10-.4h0m0-9.1h0m-6.4 15.3h0m-8-20.1h0m3.5-2.4h0m1.1 10h0m11.5 6.7h0m1.3 2h0m-3.3-5.4h0m-4.1 12.4h0m-3.9-6.3h0m1.3-5.6h0m6.7 11h0m.8-9.7h0m-5.1-7.3h0m-1.2 9.4h0m1.3-11.6h0m6.8 15h0m-8.3-7.8h0m-8.4-9.2h0m15.5 18.9h0m.3-7.2h0m-3.8-5.9h0m-7.3 8h0m9 .9h0m-3.5-4.4h0m-1.1 2.5h0m2.6 5.8h0m-5.8-9.8h0m.3 3.1h0m9.8 11h0m-7-14.3h0m-.4-3h0m-4.7 7.9h0m9.6 3.7h0m2.5-15.1h0m-12.4 9h0m5.1-4.9h0m5.5 17h0m.2-4.2h0m.1-7.2h0m-4.9 8.2h0m1.3-20.7h0m.4 4.7h0m-2.3 9.3h0m7.6 5.5h0m1.6-8.5h0m-10.1-1.4h0m5.5-2h0m-3.3 4.5h0m-7.2-7.1h0m11.1 .2h0m.9 7h0m-9.2-8.4h0m3.6 2h0m-6.2-6.3h0m13.6 18.3h0m.9 4h0m-3-1.8h0m2.7 1.1h0m-2.9-3.6h0m4.7 2.3h0m.5-4.9h0m-6.2 1h0m1.3 .6h0m2.5 2.1h0m1.1 1.3h0m-2-8.6h0m2.1 3.1h0m.6 1.4h0m-3.7-2.5h0m1.4-4h0m-1.4 3.1h0m-2.3 9.1h0m6.7-9.5h0m-3.6 5.5h0m-1.3 7.6h0m.8-12.5h0m-.6 8.8h0m4.5-1.6h0m1.1-5.3h0m-5.5 1.5h0m-3.1-2.4h0m4.8 10.4h0m1-12.5h0m-1.2 2.6h0m-4.9 2.5h0m6.8-3.1h0m-2.8 8.1h0m1-3.3h0m.3-2h0m-1.8-5.7h0m-1.4 .2h0m3.2 6.5h0m1.3-7.8h0m-2.5 5.9h0m-2.3 6h0m.9-2.5h0m1.5-4.3h0m.9 .2h0m-.2 3h0m.8-1.4h0m-3 6.3h0m2.9-7.1h0m-5.7-2.9h0m3.1 1.6h0m3.7 .5h0m-4.2 8.2h0m1.4-2.3h0m-2.8-1.7h0m3.9-2h0m-5.2 1.5h0m4-6.1h0m-.5 7.2h0m4.3 1.9h0m-1.5 .6h0m.7-4.9h0m-4.1-.4h0m2-3.2h0m-2.9 3.4h0m.9-.4h0m.7-6.7h0m3.1 8.4h0m-5.6-1.8h0m-3 7.7h0m.8-12.8h0m6.8 12.2h0m-.5-6.2h0m-6.7-2.2h0m8.7 3.7h0m-3.5 .4h0m-5-9.3h0m7.9 8.5h0m.7-2.8h0m1 4.1h0m-4-1.5h0m2.9 2.4h0m-2.2-4h0m.6 1.3h0m-1.4-7.9h0m-6.6 10.7h0m6.2 .6h0m-3.3-1.1h0m1.5 1.4h0m4.4-3.5h0m-3.6-1.6h0m1.8-.2h0m3.5-3.9h0m-2.4 1.1h0m-3.6-.7h0m3.8 2.9h0m-.4-3.2h0m-3.1 6.5h0m4.8-.2h0m1.5-2.1h0m-9.6-5.2h0m6.4 2.7h0m1.4 5.5h0m-.6-3.6h0m-1.1-6.6h0m-2.2 3h0m1.8 .5h0m4.9 7.3h0m-4.2-2.9h0m.5-4.4h0m-3.3 11.3h0m-1.6-17.5h0m4.9 8.4h0m-1.4-4.2h0m-3.6 8.2h0m.1 3.2h0m7.1-3.7h0m-5.9-2.6h0m-.6 1.9h0m-3-5.9h0m3.5 4.4h0m4.5 3.7h0m1-2h0m-8.4 1.6h0m6.6-4.6h0m-3.9 4.2h0m.7-2.9h0m4-3.2h0m-2.4-2.6h0m1.4-3.1h0m1 5.8h0m-.1 1.6h0m-.8 2.6h0m1.6-3.8h0m-4.1-1.6h0m-1.2 6.2h0m.2 .5h0m2.6 .2h0m-2.5-.5h0m3.1-3.9h0m-1.1 4.1h0m-2.4 2.1h0m6.5-4.8h0m-1.5-3.3h0m-4 8.1h0m3.6-4.5h0m-3.3-8.2h0m.5 5.4h0m2 7.5h0m2-6.9h0" stroke="#fdb07a" stroke-width="1.0" stroke-linecap="square" fill="none"/>
<path d="M361.5 156.7h0m-15.3-6h0m10.7-2.9h0m-21.4-2.6h0m32.3 12.2h0m-10.2-14h0m-.3 7.8h0m-.5-6.4h0m.8 13.1h0m3.7-12.4h0m-1.6-2.6h0m-5.3 4.9h0m-14.8-9.5h0m19 11h0m-5.6-9.2h0m-.1 11h0m8.7-1.2h0m-12.8-13.7h0m-11.9 21.8h0m21.4-5.1h0m-10.2-13.1h0m-2.2 8.3h0m5.8-9.1h0m2.9 16.4h0m-8.6-3.5h0m6.2-1h0m9.3 7h0m-7.4-3.2h0m-3.4 4.7h0m-9.1 4.9h0m-4.1-21.7h0m13.3 2.6h0m5.8 16.1h0m11.2-4.4h0m-21.9-10.4h0m7.8-1.8h0m-.3 10.3h0m-.7-2.8h0m-4.2-6.9h0m-6.3 9.7h0m2.7-9h0m4.9-1.6h0m3-1.9h0m-13.3 12.1h0m17.2-11.2h0m-11.4 2h0m-3-9.8h0m15.6 8.6h0m-3.8-2.4h0m-2.9 14.6h0m11.1-7.1h0m-8.9-9.7h0m2.1 5.5h0m-13.1-8.3h0m23.9 11h0m-19.9-13.1h0m.6 9.8h0m3 13.4h0m11.2-9.1h0m-5.4-5.7h0m-10.9 8.4h0m5-7h0m-3.8-5h0m6.5 11.2h0m-7.1-5.3h0m10.1 1.4h0m-10-7.2h0m10.4 8.8h0m-.4-4.3h0m2.7 5.7h0m-4.7-1.8h0m-6.5 6.8h0m23.7 4.7h0m-15.1-17.8h0m-10.6 1.9h0m9.8-.8h0m3.9 19.2h0m-11.5-16.4h0m5.4-6.1h0m-13.1 3.9h0m13.1-3.1h0m13.1 12.7h0m-11.3-11.7h0m3.4 7.7h0m-6.2-1.3h0m2.2 11.5h0m-8.2-7.1h0m-.9-1.7h0m1.8-12.7h0m-1.1 8h0m17-.4h0m0 3h0m-13-8h0m-7.5 5.6h0m4-3.3h0m6.4-2.4h0m7.6 11.9h0m-3.7-5.8h0m-8.5 2.1h0m-7.1-11.9h0m10.4 12.2h0m-3.1 8.1h0m8.3-3.6h0m-1-10.1h0m-1-4.6h0m-.1 4.9h0m21.5 10.9h0m-20-8.9h0m-2.4-1.5h0m-.4 2.4h0m4.8 8.3h0m2.5-4.8h0m-8.6 3.8h0m9.7-5.5h0m-2.1-7.1h0m-1.8 25.9h0m5.8-22.8h0m-12.9 7.7h0m13.2-6.5h0m-6.7 8.9h0m-20-13.4h0m12.7 1.6h0m1.2-5.7h0m7.2 11.6h0m-8.3-5.8h0m3.4 5.2h0m-3.2-11.1h0m-4.7 12.8h0m4-13.1h0m8.7 8.7h0m-9.9-3.8h0m-6.5 4.3h0m17.4 3.2h0m-7.6 8.1h0m11.6 3.4h0m-9-17.6h0m2.7 12.5h0m-5.7-18.1h0m14.6 6.9h0m-5.1 18.5h0m3.2-6.1h0m-31.2-10.1h0m10.6-6.9h0m-5.7-5.9h0m27 13.7h0m-5.8 13.9h0m-10.8-13.3h0m2.6-10h0m-2.9-.7h0m4.2-1.1h0m-8.8 11.6h0m17 1.2h0m8.7 10.8h0m-17.3-13.4h0m17 4.4h0m.3-3h0m-20.1 2.3h0m7.9 .8h0m10.1-1.1h0m-7.9 9.7h0m-.8 6.9h0m-7.3-28.6h0m9.6 14.2h0m-10-4.2h0m-1.4-10.5h0m-2.7 9.2h0m5.7 .8h0m8.4-6.5h0m5.9 6h0m7.1 2.7h0m-26.3-6.9h0m-.7 14.4h0m9.7 1.2h0m-10-10h0m15.6-5.4h0m-23.6 2.3h0m20.8-1h0m-4-2.6h0m-.8 12.9h0m-9.4-14.7h0m-.5 6.8h0m2.7 .1h0m-3.5-10.6h0m-1.7 7.7h0m16.6 4.9h0m-3.3-9.9h0m-3.4 15.5h0m2.9-11.3h0m16.3 7.8h0m-19.7-9.6h0m-1.7 9.4h0m10.4 1.1h0m-11.1 4.7h0m11.6-16.6h0m-1.1 6.8h0m-14.5-4.4h0m-.8-3.3h0m8.4-3.5h0m12.2 10.1h0m12.7 10.6h0m-31.6-17.8h0m11.6 8.9h0m-1.9-7.4h0m6.3-.9h0m-11.3 14.9h0m-12.6-6h0m12.4-3.3h0m14.1 15.5h0m-12.4-8.1h0m-6.9-4.2h0m12-3.9h0m-10.9-.9h0m5-1.4h0m4.7-5.2h0m1.2 2.8h0m-7.3 6.6h0m8.5 3.3h0m-18.4-7.3h0m3.5-.8h0m17.5 10.8h0m-12.2-6.1h0m6.7-5.8h0m-3.8 0h0m-9.4 16.1h0m.3-13.2h0m7.8 10.6h0m4.3-10h0m-9.5-1.3h0m4.6 11.8h0m12.1-.4h0m-2.9 2.5h0m-10.7-12.8h0m5.5-5.3h0m6.1 2.9h0m4.4 2.6h0m-5-3.8h0m-14.7-3.4h0m-5.3 13.8h0m13.7-9.9h0m-8.6 1.7h0m.1-2h0m15.7 9.4h0m-4.5-10.2h0m-15.2 3.4h0m25.5 7.3h0m-5.1 8.8h0m1.9-4.9h0m-22.9-9h0m7.7-10.5h0m12.6 3.9h0m-8.2 22.1h0m3.9-8h0m-11.4-3.4h0m19.4 1.1h0m8.9 4.9h0m-15.5-12.7h0m7.6 7.2h0m-8.5-5.4h0m-12.4 6.4h0m9.4-10.8h0m2.3 14.5h0m8.7-9.5h0m-16.3-.4h0m-.5-7.9h0m-.4 3.1h0m5.5 5.5h0m-.1-2.9h0m2.1 4.2h0m8.5 3.7h0m-16.5-13.9h0m23.5 19.9h0m-20-11.1h0m12 12.5h0m-7.5-12h0m7.8-2.3h0m-13.1-3.6h0m12.2 11.1h0m-7.7-5.5h0m-14.8-1.8h0m7.2 10h0m-1.7-8.8h0m13 7.7h0m-10.9-4.9h0m14.9 2.2h0m-2 1.4h0m-3.6 3.4h0m-9.4-6.7h0m6.5-2.2h0m-.4-.7h0m9.2 8.7h0m-17-.7h0m14.7 8.1h0m3.5-13.8h0m-8.8 11.3h0m-.2-14.1h0m-8.5 5.1h0m10.5 1.9h0m-12.7-9.7h0m14.8 3.1h0m-15.6 3.1h0m18.9 9h0m-2.5-17h0m-.8 19.7h0m-13.1-18h0m6.6 8.7h0m-1.5-10.3h0m1.9 6.1h0m-8.4-5.3h0m-1.9 10h0m14 1.7h0m2.9-3.4h0m1.2 14.7h0m-5.5-5.7h0m-19.3-12.5h0m15-8.2h0m-13.4 14.3h0m4.4-8.6h0m-1.7 7.4h0m22.9-4.2h0m-2.8 3.8h0m-.9-5.7h0m-12.9-5.5h0m6 1h0m10 5.4h0m-8.5 8h0m-9.1-12.8h0m11.5 5.8h0m11.1 9.2h0m-11.9-16.1h0m3 7.4h0m4.2 8.2h0m2.2-8h0m3.6-.9h0m-14.9 6.7h0m-4-8.2h0m9-3.4h0m-7.2 5.3h0m2.7 7.2h0m11.1 0h0m-10.9-1.6h0m-2.5-9.7h0m4.4-3.9h0m-14-1.1h0m14.4 12.1h0m12 11.7h0m-23.1-6h0m11.2-7.1h0m-14.4-7.7h0m9 10.4h0m0-4.3h0m6.5 0h0m-3.1 1.2h0m-6.2 6.7h0m13.6-3.7h0m-7.8-15.7h0m-13.2 14.9h0m23.7 2h0m-8.7 4.8h0m-7.6-17.3h0m-1.7-1.4h0m13.8 13.5h0m-3.9-2.2h0m5.7-.8h0m-7.7 10.4h0m9.5-15.7h0m-5.3 7.2h0m-8.5-.9h0m12.3 2.8h0m-2-7.4h0m-6.9 8.2h0m3.3-13.8h0m-8.9 1.5h0m2.8 .6h0m-5.1-1.2h0m9 7.2h0m-.1 3.1h0m3.3-.6h0m-8.5-5.5h0m-4.6-5.3h0m14.4 3.8h0m-8-3h0m-1 13.2h0m-2.6-19h0m8.4 13.7h0m-2.5 10.5h0m-3.6-9h0m13.1 0h0m-9-.5h0m-1.8-8.8h0m16.6 16.7h0m-8.2-8.5h0m-11.7 9.4h0m15.3-11.2h0m-3.3 7.5h0m-8.7-5.6h0m12.2 3.3h0m-24.1-11.6h0m-3.3 12.9h0m23.2-12.3h0m-17.5 1h0m22.7 18.1h0m-8.3-18.1h0m9.8 3.9h0m-6.3-7.1h0m-15.7 16.1h0m6.2-5.9h0m13.1-.6h0m-10.4-5.3h0m11.9 13.2h0m-11.5-15.3h0m-4 8.5h0m.5 .6h0m-8.9-.2h0m5.5-1.5h0m0-2h0m5.1 7.9h0m1.5-3.1h0m-2.7-7.2h0m-1.9-3.6h0m21.2 12.3h0m-12.7-2.6h0m-1.2-7.1h0m-14.4-3.1h0m9.2 .4h0m2.9 7.4h0m-9.3-6.3h0m1.7 3.2h0m-4.9 3.6h0m10-1.9h0m10.4-6.5h0m-11.6 10h0m.7-3.3h0m5.2 3.8h0m5.1 .7h0m-12.3-16.1h0m.8 13.3h0m4.3 4.8h0m-2.4-10.9h0m6.8-4.1h0m-6.4 14.7h0m10.1-1.8h0m-7.1 7.2h0m-2.9-22.6h0m2.8 13.3h0m-10.7-.3h0m11 5.9h0m-1.2 6.5h0m6.9-6.5h0m-5.2-2.9h0m-5-1h0m-5.1-5.8h0m14.5 6.2h0m3.9 1h0m-9.7 .5h0m-3.4-10h0m9.4 2.8h0m-2.2 11.2h0m6.5-4.7h0m-.8-.9h0m-13-3h0m6.2-2.1h0m0-3h0m4.5 15.6h0m-23.9-12.3h0m26.4 5.8h0m-2.2 3.7h0m-5.7 1.7h0m-5.7-6.5h0m9.6 5.5h0m-5.5-11.3h0m-6.9 .4h0m8.7 10.9h0m-8.9-20.2h0m6.6 17.9h0m-3.1-6.5h0m5.6-2.6h0m11 14.8h0m-27-16.7h0m17.9 3.1h0m6.3 6.5h0m-.8-4.8h0m-5.9 .6h0m-8.5-11h0m20.5 9.4h0m-22.2 3.1h0m10.1-9.6h0m7.7 7.1h0m-10.3 15.6h0m-1.3-25.6h0m.6 7.5h0m11.3 4.7h0m-18 0h0m15.4-1.8h0m-15.3 5h0m11.5-2.1h0m-8.1 4.7h0m3.7-4.9h0m10.3 3.4h0m-15.2-17.1h0m-2.8 2.9h0m33.7 21.5h0m-32.7-12.8h0m15.5 4.6h0m-15.3-2.8h0m1.6-5.9h0m-2.3-2.3h0m21.4 20.5h0m-23.2-17.4h0m-3.4 1.7h0m13.5 4.9h0m4.4-3.9h0m-4.2 2.8h0m-12.6-5.8h0m10.5 3.8h0m2.5 10.9h0m10.2-2.6h0m-17.9-11.3h0m6 9.4h0m2-9h0m-6.7 1.4h0m14.6 1.8h0m-8.7-7.2h0m-16.8 6.4h0m22.4-6h0m2.1 .9h0m-17.7 5h0m13.8 7h0m-9.9-9.1h0m19.1 6.4h0m-17.3-6.3h0m-1.9 1.1h0m-.2-4.7h0m-10.7 1.1h0m15.9 4.6h0m-.8-4h0m-3.2 .3h0m-3.4-3.7h0m1.9 7.3h0m2.2-.3h0m5.7-3.8h0m7.2 13h0m-13.3-12.6h0m8.1 7.5h0m2.3-1.2h0m-2.7 3.4h0m-9-4.6h0m19.6 10.2h0m-33.1-11.6h0m8.8 2.1h0m9.6 1.2h0m-5.7-9.8h0m6.5 5h0m3.2 4.3h0m-6-3.5h0m.4-5.9h0m7.8 2.6h0m-12 3.9h0m-.6-3.2h0m15.8-3.3h0m-20.2 2.2h0m1.1 5.7h0m16.5 9.7h0m-20.3-15.4h0m1.4 2.5h0m19.4-4.2h0m-11 10.1h0m6.3 .9h0m-1.2 4.7h0m-12.3-7.4h0m20.5 .6h0m-.3-5.9h0m-19.2 6.6h0m17.9 1.7h0m-7.5-13.5h0m-8.3-1.3h0m1.2 9.4h0m-5.1-9.9h0m3.4 16.6h0m.9-16.1h0m13.7 18.8h0m-20.1-9.2h0m22.6 6.4h0m-5.5-.3h0m-9.8-.7h0m2.6-6.9h0m-.8-5.5h0m1.6 5.5h0m15.6 17h0m-14.7-17.9h0m-4-8.1h0m-3.3 13.6h0m28 6.7h0m-21.3-18h0m13.2 15.9h0m-25.6-13.6h0m8 5.6h0m3.9-5.1h0m-2.2 3h0m6 3.8h0m1.3 .5h0m-5.2-2.5h0m-9.7-6.7h0m13.1 7.7h0m2.3-8.4h0m4.9 5.5h0m-20.1 3.4h0m22.7 4.3h0m-6.7-7.4h0m-17.8-.1h0m13.1 18.1h0m-15.6-9.2h0m9.6-10.9h0m2.7 3.7h0m8.5-3.2h0m12.2 19.3h0m-22.5-11.8h0m11.2-4.2h0m2.3-5.3h0m-7.9-.6h0m-14.2-.7h0m18.7-1.2h0m-1.4 9.1h0m-14.1-12h0m13.3 11.9h0m9-.8h0m-20.2-.3h0m14.5 1.4h0m2.3 7.2h0m-22.2-6.1h0m8.2-5.3h0m-5.2 .9h0m9.6 3.8h0m1.9 1.3h0m7.4-3h0m3.9 2.3h0m-19.1-6.9h0m6.9-1.2h0m-13.9-2.2h0m19.7 11.4h0m11.9 7.4h0m-14.9-4.9h0m2.6-.5h0m22.6 6.3h0m-29.2-17h0m15.3 1.7h0m-7 7.4h0m-10.1 5h0m-1.4-5.7h0m21.6 1.1h0m-17-8.6h0m5.8 4.2h0m10.2 2.3h0m-9.3 6.9h0m-15.6-18.2h0m14 8h0m-6.3-1.3h0m8.3 9.9h0m-11.4-14.1h0m6.3-5h0m12.5 16.3h0m-18.9-2.1h0m-6.7-10.7h0m5.8 3.8h0m8.4 4.5h0m3.7 4.7h0m2.9-5.7h0m-1.3 2.6h0m-6.5 7.5h0m-3.2-5.1h0m4.9-15.6h0m-5.4 4.3h0m24.8 13.7h0m-19.1 5.3h0m-1.5-9.8h0m5.4-3.9h0m-5.9 11.5h0m-.8-5.8h0m5.2-1.8h0m1.1-10.2h0m-11.8 21.8h0m11.9-13.2h0m-2.6-7.1h0m-4.7 2.6h0m-4.4 16.8h0m0-5.4h0m-6.7-9.8h0m12.7-.9h0m-10.1 3.8h0m-6.2 .3h0m19 .5h0m0-2.7h0m3.3 6h0m-10.8-4.1h0m9.5-1.6h0m-6 12.6h0m-8.7-12.4h0m19.3 1h0m-17.2-2.5h0m3 7.2h0m-8-14.6h0m21.6 11.8h0m-19.7-10h0m9.2 10.3h0m-1.3 8.4h0m15.2-5.6h0m-16.1-7.4h0m15.4 3.9h0m-11.6-6.8h0m-11.2 0h0m8.7 1.9h0m-5.4-1.3h0m14.5 3.2h0m-5.8 8.8h0m14.6-2.6h0m-24.4-7.2h0m10.1-4h0m-9.1 6.3h0m-1.6-1.3h0m3.9 2.5h0m11.9-3h0m-1.4 4.6h0m2.3 3.8h0m-14.8-1.7h0m5.9-6.8h0m-4.2 1.7h0m8.1-5.2h0m1.6-2.3h0m-5.3-2.4h0m-.4 14.8h0m16.9-11h0m-25.6-2h0m17.1 2.7h0m-12.8 1.7h0m5.1 .7h0m-4.6 7.3h0m2-4.7h0m18.7 2.8h0m-18.9 .4h0m2.4-6.9h0m-10.5 1.5h0m27 7.4h0m-17.4-1.6h0m-4.6-9.5h0m-3.6 16.3h0m23.6-1.2h0m-17-20.8h0m-3.9 4.4h0m14.6 22.2h0m-15.6-20.7h0m16 6.2h0m9.6 8.2h0m-28.3-14.4h0m3.8-2h0m21.5 8.4h0m.1 14.6h0m-20.5 .5h0m6.3-12.3h0m-14.4-1.8h0m9.7 .8h0m3.2-.9h0m8.1-7.3h0m-14.6 1.8h0m4.9 4.3h0m11.9 3.9h0m5.8 1.9h0m-9.9-2.5h0m2.2 .7h0m7 2h0m2.7 3h0m-18-7.7h0m-14.3-8.1h0m17.1 10.3h0m1.4 5.5h0m-9.8-9.1h0m13.6 12.3h0m-2.9-1.1h0m18.6-3.6h0m-23-7.7h0m.4 .3h0m-4.7-1.7h0m-2.2-7.6h0m3.8 22.3h0m-.5-19.3h0m-5.3 5h0m15.1-6.8h0m-11.2 2.7h0m9 8.4h0m-4-8.2h0m-6.2 5.5h0m6.9-12.3h0m3.3 5.9h0m3.2 22.1h0m8.6-5.7h0m-1.4-6.6h0m-8.1 3.2h0m2.4-10.2h0m-13.4-5.7h0m-5.5 9.2h0m20.6-2.4h0m-5.6 4.8h0m14.3 5.6h0m-24.5-11.5h0m-3.9 4.7h0m17.3-2.6h0m-2.2 5.4h0m-19.1-7.3h0m4 4.2h0m11.8-10.4h0m10.8 16.3h0m-22.9-6.8h0m10.8-4.2h0m9.3 5h0m-9.5-1.2h0m-7.5 2.8h0m4.6 1.7h0m12 3.9h0m-10-9.4h0m11.7 .3h0m-18.4-8.5h0m8.9-1.5h0m-12 14h0m17.1 3.9h0m-17.3-13.3h0m12.4 10h0m11.7 13.7h0m-30.7-22.5h0m7.4-5.8h0m20.6 16.2h0m-12.4 8.4h0m-5.8-12.3h0m4.4 7.3h0m11.5-2.8h0m-1.7-7.6h0m-11.1 6.6h0m4.3-3.1h0m10.6 .6h0m-12.7 2h0m3 3.1h0m-5-9.9h0m-4.6-2h0m10.1 4.7h0m3 1.9h0m-5.2-1h0m-1.1-2.1h0m17.7 2.6h0m-10.7-5.1h0m-9.9 3.1h0m18.5-.9h0m-11.8-4.4h0m-18.5-.5h0m11.7-.3h0m-2.2 5.3h0m8.7 1.6h0m-4.1-.8h0m7 .7h0m-2.1-6.6h0m-1.4-3.2h0m-6.9 10.6h0m2-.2h0m1.7-7.6h0m-16.7 7.9h0m9.8-4.4h0m12.5 5.9h0m-16-5.9h0m25.7 5.3h0m-9-4.2h0m-4.9-2.4h0m-13.6-4.7h0m9 12.5h0m-.5-2h0m12.1-3.7h0m0 13.2h0m-6.9 8.7h0m8.4-20.5h0m-5.3 12.9h0m15.9-10.1h0m-11.6-1.3h0m-2.6 2.9h0m-3.4-4.5h0m2.4 5.6h0m-22.1-7.4h0m33.8 14.3h0m-18.3-10.2h0m-16.5-13h0m21 10.6h0m-18.9 7.5h0m12.2-.5h0m-2.9-16h0m-5.6 10.8h0m22.5 8.2h0m-12.8-18.2h0m-10.2 10.2h0m-1.4-6.3h0m9.8 11.1h0m16.7 5.9h0m-12.1-12.8h0m-5.2-7.3h0m5.4 6.2h0m-5.9-1.2h0m2.7 4.5h0m-4.7-2.4h0m20.7 8.1h0m4.6 7.5h0m-17.6-21h0m-8.2 2.7h0m15.2-2.8h0m-6.2 8.6h0m9.1 1.9h0m-18.3 .9h0m9.1-8.5h0m1.8 .6h0m1.8-6.4h0m-2.3 15.3h0m7.2-10.6h0m-8.7 14.1h0m7.5-10.8h0m-8.2 4.4h0m-10.1 2.4h0m7.7-2.1h0m-7-8.7h0m19.2 6h0m-2.3 1.5h0m-4.5 14.7h0m-3.4-4.2h0m3.5-5.7h0m6.6-10.4h0m1.2 11.2h0m-11.9-3.4h0m12.8-5.4h0m-22.6-2h0m16.9 10.3h0m-6.5-8h0m17.6 5.5h0m-15.7 5h0m-6.4-16.7h0m8 12.4h0m-8.5-2.7h0m18.4-.3h0m-13.2 1.1h0m-3.9 3.2h0m3.1-3h0m-6.9-10.5h0m8.9 9.1h0m-1.5-4.2h0m4-.5h0m7 8.1h0m-19.1-12.7h0m10.6 3.6h0m14.5 7h0m-12.7-11.5h0m-7.2 8.4h0m8-2.4h0m3.9 13.4h0m-6.6-11.1h0m8.7 6.5h0m-17.4-13.4h0m16.4 19.2h0m-6.8-21.6h0m3.9 12.1h0m2.3 4.3h0m-10.8-15.4h0m21.4 15.7h0m-15.5-8.1h0m-13.8 11.1h0m21 5.2h0m-6-7.9h0m8.4 15.4h0m-18.3-12.3h0m-7.9-13h0m16.6 4.8h0m7.7-4.4h0m-8.9 .2h0m-4.9 3.9h0m-2-12.4h0m-.8 1.4h0m-1.6 4.1h0m11.8-1.3h0m-13.3 1.6h0m28.3 14.5h0m-16.7-3.7h0m-2-8.5h0m2.4-3.7h0m-9.5-1.4h0m6.1 1.5h0m9.5 15.1h0m-21.9-4.2h0m19.2 1.2h0m-8.1-8.8h0m2.1-4.9h0m6.4 12.4h0m-5.4-10.2h0m-8.8 5.2h0m4.2 .1h0m-6-5.5h0m10.8 5.6h0m4.7 6.6h0m.3 1.4h0m11-3.1h0m-12.9-.8h0m-3.2 0h0m-17.6-5.3h0m9.9 2.4h0m-.6-5.1h0m9.7 7.7h0m-5.5-1.5h0m-1.2-6.4h0m-3.3 16.6h0m-7.8-19.7h0m5.4 2.7h0m16.1 4.1h0m6.7 12.8h0m-18.6-16.5h0m13.6 14.2h0m-12.3-9.3h0m18.1-2.8h0m-25.2-4.5h0m10.3 11.4h0m7.7 5.1h0m-18.1-15.9h0m15.6-3.2h0m-10.4-1.1h0m-3.1 18.1h0m9.7-3.4h0m-7.4-.8h0m7.6-3.4h0m-9.2-2.5h0m4.4-.1h0m-5.5 2h0m7.3 6.8h0m-7.5-7.7h0m4-9.7h0m-4.5 3h0m18.1 .3h0m-.1 11.3h0m-14.6 3.1h0m-1.9-18h0m-8.3 6.9h0m10.6 4.1h0m3.5-5.2h0m2.5 4.3h0m2.3-5.7h0m2.3 8.4h0m-13.9-3.2h0m28 6.7h0m-27.6-11.5h0m6.9 2.1h0m-2.5 7.2h0m-6.8-.5h0m23.6-3.6h0m16.1 19.6h0m-18.2-14.7h0m-13 .4h0m.1-5.5h0m11.1 9.7h0m-2.9-16.2h0m-6.4 4.4h0m-5.3-2.7h0m9 8.8h0m-6.3-4.6h0m6.5 1.5h0m4.8-6.1h0m-8.6 7.7h0m-1.5 1.1h0m.3-6.4h0m.9 3.9h0m-9.2-9.9h0m10 5.2h0m10 .6h0m-11.8-1.9h0m2 6.3h0m-12.8 .2h0m2.1-3.2h0m7.3-1h0m5.5 .9h0m2.2-6.2h0m7.3 13.3h0m-18.2-.3h0m-7.9-9.5h0m13.7-7.2h0m-1.8 11.8h0m12-5.9h0m-8.1 13.6h0m9.1-2.7h0m-13-3.4h0m-8.8-1h0m11-10.8h0m-5.4 6.2h0m10.8 15.5h0m8.6-10.6h0m-9.5-.1h0m-3.4-2.8h0m5.1 2.1h0m-10 3.2h0m1.1-6.1h0m-6.4-5.7h0m22.1 6h0m7.4 17.7h0m-30.8-16.1h0m13.4-2.6h0m8.8 20.7h0m6.7-8.9h0m-4.1 .8h0m-13.9-9.6h0m11.7 8.7h0m-10.6-7.4h0m-17.2 8h0m19.3-6.6h0m.1 2.1h0m3.9 14.3h0m-19.5-7.4h0m7.9-19.8h0m5.5 15h0m4.3-2.4h0m9.1 6h0m-10.4-8.5h0m-7.5-4.2h0m3.3 4.9h0m26.4 11.5h0m-30.9-5h0m21.3-2h0m-12.8-8.9h0m-11-2.2h0m-6.8 18.2h0m19.8-6.9h0m-.9-9.2h0m-.2-3.9h0m.8 10.8h0m.9 1.5h0m2.1-3.3h0m-3.5-5.2h0m4.5 1.8h0m-15.1 10.1h0m-.8-15.3h0m7.2 3.4h0m4 6.6h0m5.1-1.3h0m4 11.2h0m-14.4-19.1h0m-4-6.3h0m-5.4 9.4h0m12.3 3.3h0m2.8-4.6h0m-3 6.1h0m-14.6-11.1h0m15.7 15.8h0m-.6-9.9h0m6.6 8.2h0m-10.9-4.9h0m1 1.5h0m4.8 .8h0m-.7 2.4h0m3.5 5.2h0m-2-7.5h0m-13.1-1.7h0m13.3-9.6h0m-9.8 6h0m13 13.6h0m-10.1-12.4h0m8.4-4.3h0m-1.3 21.3h0m-4.8-17.9h0m11.3 .9h0m-18.3 8.2h0m22.1 .7h0m-8.2 9.3h0m8.6-4.9h0m-5.4 1.1h0m6.2 6h0m-11.8-9.7h0m10 2.8h0m2.6 3.4h0m-6.6-15.3h0m6.5 7.8h0m3.9 8.4h0m-18-6.5h0m9.8 14.3h0m4.3-12.7h0m-6.5 5.3h0m2.8-1.1h0m3.2-5.1h0m3.3 3.8h0m1.7-4.4h0m-17.4-.2h0m3.1 6.8h0m-2.2-12.9h0m11.5 9.5h0m-2 2.8h0m-5.8-4.1h0m6.6-4.2h0m1.5 8.8h0m.7-3.8h0m-6 4.5h0m5.7 .9h0m-9.9-17.7h0m2.7 9.1h0m9.9 11.7h0m-9.9-11.2h0m-4.2-10.2h0m11.5 4.5h0m-3.2 3h0m2.6 3h0m-7.2-5.7h0m11.4 1h0m-13.9 3.1h0m9.1 5.8h0m2-5.2h0m-18.6-4.1h0m7.3 2.4h0m11.4 3.7h0m-4.3 1.9h0m-.7-5.9h0m-3.7 2.7h0m8.6-4.3h0m4.4 9.9h0m-.7-7.1h0m-3.8 8.3h0m2.5 6.6h0m-16.8-9.1h0m3.5-9.2h0m8.4-.3h0m-.8 11.6h0m-10.5-8.4h0m9.9-2h0m-3.4 7.9h0m5.4 .3h0m-12.2-3.5h0m27.9 9.2h0m-12.5-10.4h0m-.1 3.7h0m-5.6-3.6h0m1.6 5.1h0m9.8 4h0m-15.5-10h0m0 4.6h0m-3.1-9.9h0m4.7 1.7h0m-4.5 6.6h0m9.5-4h0m.8 1.2h0m-3.4-.6h0m-4.3-2.7h0m-5.4 6h0m14.1-7.3h0m-7.9 7h0m-4.3-3.8h0m12.6 2.1h0m-1.4 5.6h0m-3.9-1.2h0m-4.6-.3h0m3.2-2.5h0m.1-6h0m1.8 15h0m-6.1-12.6h0m10.9 11h0m-4.4-6.1h0m-15.4-10.7h0m26.3 18.8h0m-12.2-17.9h0m0 12.9h0m-5.3-3.2h0m-1.5-2.6h0m12.3 5h0m-.6-5.3h0m-3.3 1.9h0m1-3.3h0m-6.7 1.7h0m-.7 1h0m2.5-3.5h0m8.3-.9h0m-.7-1.8h0m.4 5.1h0m-11.5 1.1h0m7.7 8.4h0m1-6.9h0m-15.7-7.4h0m10.5 9.4h0m12.3 8.1h0m-7.9-14.7h0m1.2-4.8h0m-5.2 4.2h0m5.3 3.8h0m1.6-5.3h0m-4.4 8.6h0m-.8 1.1h0m-4.9-9.4h0m7.7-2.9h0m-1.1 13.2h0m-1.6-15.9h0m2.1 10.4h0m.3 6.4h0m-3.4-9h0m2.7 9.1h0m-8-9h0m-2.3 1.8h0m-2.8 1.3h0m13.5 5.7h0m-3.5-8.1h0m4.4 4.3h0m-7.4-10.1h0m9.3 10.9h0m-4.2-9h0m2.2 6.3h0m1.3-6.1h0m-9.5 11.3h0m.2-7h0m5 2.5h0m-6.2-3.5h0m23 6.8h0m-7 2.2h0m7 1.4h0m-20.9-10.8h0m2.2 5.3h0m-2.9-8.6h0m10.9 4.9h0m-3.1 3.3h0m3 2h0m-2.2-1h0m-12.7-9.6h0m6 10.2h0m16.5 6.4h0m-15.4-9.9h0m7.8 .5h0m-5.2-4.5h0m4.1 8.4h0m-1.6-3.9h0m2.7-6.8h0m-2.2 10.5h0m-4.9-6.7h0m3.1 5.7h0m-1.5-1.8h0m4 .7h0m-1.3-6.4h0m-13.7-4.6h0m10.9 5.9h0m-3.7 .3h0m-2.7 .5h0m9.8 5.1h0m-11.3-14.8h0m12.6 6.6h0m-2.8 8.3h0m5.9-7.5h0m-3.6 9.5h0m-4.6-4.1h0m-1.2-8h0m10.5 9.2h0m-6.1-4h0m.8 .7h0m-3.7 .9h0m4.4-5h0m.9 10.4h0m-1.3-6.2h0m-2.6-1.7h0m4.1 9.2h0m-1.7-3h0m2.6-9h0m-3.8 3.3h0m5.4 2.5h0m-16.9-1.7h0m6.6-2.2h0m9.8 8.5h0m-8.8-4h0m-2.9 2.5h0m13.1 1.6h0m-2.9-.1h0m-6.3-.6h0m5.6-2h0m-6.6 4.3h0m-.1-3.8h0m6.4 2.3h0m-3 4.6h0m-1.9-8.6h0m-3.9 7.1h0m-2.7-13.3h0m2.5 4.6h0m-2.2-1.7h0m13.6 5.1h0m.4 1.6h0m-15.4-5.4h0m14.7-3h0m.3 9.8h0m-8.7 3.8h0m-4-15.6h0m1.7 5.8h0m6.7 2.2h0m-1.2 6.5h0m-5.8 3.5h0m9.4-13.7h0m-2.8-.2h0m.8 7h0m-10-.9h0m14.9-9.7h0m-9 2.9h0m4.2 4h0m-16.2-10.4h0m11.6 16.3h0m-2-10.4h0m5.1 8.1h0m-7.7-16.7h0m7.1 13.7h0m-4.8-7.3h0m-.8 10.8h0m-.1-6.3h0m-4.7-9.9h0m17.9 15.9h0m-5.6-6.7h0m-4-3.4h0m5.3 6.7h0m-13.6-8.1h0m10.6 .3h0m8 3.9h0m-14.3 1.5h0m4.9 1.8h0m6.7 3.2h0m-9.3-2.8h0m4.1-3.5h0m-2.1 0h0m-1.3 8.5h0m6.7-8.8h0m-11.3 5.8h0m14.3 4.6h0m-11-7.2h0m-.6-5.1h0m-.4 6h0m8.2 2.3h0m-.8-7.5h0m.5 3.9h0m-16.8-12.6h0m13.3 14.2h0m.2-2.5h0m-7.8-6h0m6.1-1h0m5.5 12.4h0m4.3-1.4h0m-12.8-10.1h0m-.6-6.7h0m3.6 13.7h0m3-1.8h0m-1.8-6.5h0m-6.8 4.7h0m-4-8.7h0m10.2 14.4h0m-.3-7.4h0m-13.5 1.2h0m9.2 1h0m9.4-3.4h0m-7.8 3.8h0m5.1-2.2h0m-4.2 5.4h0m11.2 .3h0m-5.7 .8h0m.4 3.6h0m-4.3-4.5h0m-6.7-.8h0m15.1-.9h0m-15.9-7.6h0m7.3 7.8h0m-4.8-1.7h0m8.3-3.9h0m1.2 0h0m4.3 1.6h0m-18.9-6.1h0m12.4 12.7h0m7.8 1.2h0m1.1 2.3h0m-13.6-4.9h0m16.2-2.2h0m-14.9-4.7h0m7.1-.2h0m-4.4 11h0m-6-8.8h0m1.8 7h0m3.3-16.4h0m10 10.9h0m-6.7-.6h0m11.8 13.1h0m-15.9-10.9h0m.6 2.4h0m11 7.3h0m-4.3-12.1h0m.8 2.4h0m-11.7-8.1h0m6.4 15.4h0m-10-7.9h0m9.1 4h0m-6.4-8.8h0m11.6 10.8h0m-3.5-2.7h0m-17.3-1.3h0m7.5-2.7h0m10.9-.4h0m-7.5-3.5h0m8.9-2.2h0m-9.8 10h0m1-11.1h0m3.4 9h0m7.8-2.8h0m-3 7.6h0m-8.1-5.9h0m7.3 2.7h0m-6-7.5h0m-1.7 15.5h0m-5-13h0m12.2 6.7h0m-3.4-4.7h0m-5.6-3h0m13.2 12.9h0m3.3-.9h0m-16.2-7.5h0m9.6-.2h0m.4 5.5h0m-.6-3.1h0m-4.1-.4h0m-1.2-3.2h0m2.4-.8h0m-2.2 .3h0m11.7 8.9h0m-17.1-11.4h0m9.7-1.4h0m-1.7 9.1h0m-4.8-7.9h0m6.5 10.5h0m-5.7-6h0m12.4 2.4h0m-15.1-11.4h0m19.7 21.2h0m-7.2-8.8h0m2.9 2.7h0m-5.7-4.5h0m-11-1.6h0m3.5-1.9h0m-1-4.6h0m-4.3-3.6h0m13.3 9.9h0m-9-.9h0m9.3-4.9h0m4.4 9.2h0m-15-10.6h0m8.2 11.7h0m-6.8-12.5h0m2.5 5.4h0m-1.6-1.4h0m3.8 4.3h0m-3.4-8.8h0m2.2 13.7h0m-10.7 .7h0m13.7-8.7h0m-4.2 6.2h0m1.7-2.9h0m6.1 8.2h0m-4-8.4h0m-6.2 1h0m-2.1 .3h0m9.6 7.2h0m-4.6-16.7h0m-2.5 6.6h0m1.2 7.3h0m1.8 .7h0m3.2-6.8h0m-7.3-7.3h0m-4.9 11.4h0m1-12h0m-2.4 .9h0m1.6 4.2h0m12.4 4.4h0m-2.2-5.8h0m-12.8-1.2h0m11.8 4.5h0m.4-.1h0m8.9 10.5h0m-5.8-4.7h0m-3.1 2.5h0m8.5 4.3h0m-1.8-11.2h0m-14.4 0h0m2.4-5.9h0m10.1 18.9h0m10.6-9.3h0m-5.7 2.1h0m4.5-4.3h0m-3.1 12.6h0m-3.2-8h0m-8.6-7.8h0m3.2-2.2h0m-.1-.4h0m-.5-1.5h0m-1.8-.9h0m-.9 5.2h0m11.6 6.5h0m0 10h0m-2.6-16h0m-11.9-5.7h0m1.2 1.7h0m1.2 7.5h0m3.6-2.1h0m3.2-1.4h0m-4.6 4.6h0m8.9 5.7h0m-.2-12.9h0m-4.7 12.7h0m-2.1-5.5h0m3.5 .3h0m-8.8-4.3h0m-5 10.1h0m15.2-2.4h0m-14.7-14.3h0m2.7 1.1h0m15.1 8.4h0m-9.6 6.9h0m-10.4-2.8h0m2.4-6.7h0m14.9 8.4h0m-12.9-2.9h0m16-1.8h0m-7.2-.5h0m-2.3 1.5h0m-.6-3.8h0m-5.4-.2h0m3.8-8h0m3-2.4h0m8.3 17.4h0m-2.1-5.2h0m-3.3 8.1h0m-8.9-9.8h0m6.7-7.2h0m-13.6 1.6h0m11.4 1.1h0m-16.7 3.7h0m12.5 2.1h0m-4.2-10.7h0m9.1 8h0m.8 11h0m-4.3-9.2h0m-6.4 7.7h0m9.7-7.5h0m2-5.5h0m4.4 8.7h0m-15-3.5h0m9.2 3.4h0m-1.3-6.8h0m-6.4-7h0m6 11.2h0m1.7 4.8h0m1.7 6.2h0m-7.5-24.2h0m2.6 5.6h0m1.5 6.7h0m-14.7-11.8h0m13.5 7.4h0m2.7 6.5h0m12.2 .7h0m-24.2-4h0m15.3 .2h0m2.6 .6h0m-20.2-5.8h0m13.7 8.5h0m12.4 .4h0m-13.4 2.1h0m1-6.9h0m-6.8-1.3h0" stroke="#e5596a" stroke-width="1.0" stroke-linecap="square" fill="none"/>
<path d="M333.5 149.1h0m-2.8-1h0m-.5 1.9h0m-.6 1.7h0m3.8-1.4h0m.7-1.7h0m-5.5 4.6h0m2.1 2.2h0m-2.7-4.8h0m3.1 .1h0m-2.5 3h0m5.6-2.4h0m-5.8-2.3h0m4.1 .3h0m-1.9 4.2h0m-1.4-.2h0m-1.1-3.1h0m8.3 .7h0m-8.5-.3h0m3.5 1.7h0m-4.4 1.7h0m2.1-2.2h0m3.8 .7h0m-.4 .6h0m-1.6-3.3h0m2.9-2h0m1-.5h0m-7.3 5.6h0m7.1-2.5h0m-4.9 3.1h0m.1 1.2h0m1.5-6.4h0m.8 2.2h0m-3-2h0m-.7-.1h0m1.7 5.9h0m-.6-5.9h0m1.9 2.6h0m-2.3 3.6h0m4.1-2.3h0m3.2-2.4h0m-7.1 3h0m-1.9-.6h0m1.3 4.3h0m.6-8.1h0m5.2 3.1h0m0 1.1h0m-.6-.6h0m-4.5-1.4h0m22.2 30.6h0m-7.3-3.6h0m2-19.9h0m12.7 20.1h0m3.3 3.2h0m-12.7-4.5h0m-.4-8.6h0m-6.2 .9h0m-10.4-18h0m-8.2 13.9h0m29.4-.4h0m-1.3-9.2h0m-4 19.9h0m-9.1-9.8h0m12.6 8.9h0m8.2-11.6h0m-11.2-10.1h0m-15.3 15.9h0m-2.8-3.5h0m10.5 9.1h0m-1-6.5h0m8.9 13.4h0m-21.3-18.5h0m22.5 22.9h0m-8.8-13.5h0m14.1 6h0m-12.7-22.7h0m5.2 19.7h0m-8-5.8h0m-6.7 10.6h0m24.5-17.6h0m-19.4 6.7h0m-6-15.9h0m10 21.5h0m2.1 3.3h0m-4.7-1.2h0m-.9-9.2h0m1.7 8.8h0m6.6-4.4h0m4-12.1h0m-5.5 9.5h0m-.4-1.5h0m4.6 7.1h0m-15.3 0h0m10.5-.1h0m9.5 5.5h0m-16.2-26.8h0m15 30.2h0m-8.8 1.4h0m7.4-9.6h0m-17.4 2.3h0m.6 2h0m17.5-12.5h0m-13.4 .8h0m-2 6.6h0m6.2 5.5h0m-27.3-16.2h0m32.4 .6h0m7 1.4h0m-13.4 15.3h0m-17.2-14.3h0m-2.4-2.6h0m20.1 5.1h0m15.9-6.5h0m-15.5-1.6h0m1 13.3h0m6.1 0h0m-12.2-12.7h0m12.3 7.8h0m-21.5 4.8h0m12-20.7h0m-1.2-2.2h0m.4 20.3h0m-16.6-16.6h0m16.8 15.7h0m9.4 2.1h0m-11.5-6.1h0m18.3-4.5h0m-14.8 14.1h0m2.4 4.3h0m-16.3-23.8h0m22 14.5h0m-3.8 6.4h0m7.4-4.4h0m-17.5-11h0m8.2-.3h0m9.7-10.4h0m-10.9 17.2h0m-.7-10h0m-10.6 13.5h0" stroke="#6a3f9b" stroke-width="1.0" stroke-linecap="square" fill="none"/>
<path d="M350 158.8h0m-16.1 3.5h0m5.6 10.7h0m4.7 2.1h0m-6.1-12.2h0m15.1 6.6h0m.1 4.9h0m.3 .3h0m-10.6-7.7h0m-8.5 9.7h0m-8.1-4.2h0m23.8 10h0m-10.1-10.9h0m-9.1 4.1h0m10.7 6.2h0m16.2-8.5h0m-13.7-1.3h0m-1.5-2.6h0m8.9 6.4h0m-5.1-16.7h0m-4.2 6.3h0m7.8 7.9h0m-16.5 3.4h0m-6.7 9h0m10.1-4h0m20.4-6.3h0m-4.4-7.9h0m-22.8-7.4h0m22 20.4h0m-20.1-26.4h0m14.2 30.5h0m4.2-19h0m-12 12.6h0m9.4-1h0m-15.6 1.9h0m25.6-4.1h0m4-3.7h0m-10 1.1h0m-15.5-12.9h0m5.6 4.3h0m-1.4 2.4h0m4.3 8.3h0m4.2 1.7h0m-5.9-14.4h0m9.5 17.5h0m15.2-4h0m-7.9-4.9h0m-7.2 .7h0m-13.8 10.9h0m11.3-6.3h0m-17.8-2.4h0m8.6-5.5h0m25.1 5.6h0m-10.6 10.6h0m2.1-20.2h0m-20.7 4.5h0m4.5 8.2h0m-.2 .9h0m9.4 2.5h0m-4.8-10.3h0m-2 4.2h0m-4-1.7h0m-2.2-9.3h0m14.1 22.1h0m-15.7-4.2h0m4.7-9.1h0m12.6 2.9h0m-2.1-8.8h0m-4.9 11h0m8-4.5h0m-20.5 .8h0m17.2-8.9h0m-2.2-.6h0m9.3 4.9h0m-13.1 6.5h0m-9-8.8h0m12.2 9.3h0m-14.4-8.1h0m7-1.2h0m-3.1 16.6h0m16.4-12.8h0m-2.6-.9h0m-14.4-2.5h0m9.6 2.5h0m-3.6 1.4h0m-6.4-6.1h0m16.1 5.5h0m-6.8 .2h0m12.5 11.9h0m-10.7-13.6h0m-3.5 4.1h0m-2.2 .3h0m-5.5 1.6h0m2.7-.7h0m1 12.9h0m6.6-22.8h0m3.6 17.2h0m-.6-10.8h0m-11.1-12.2h0m9.9 22.8h0m2.1-11.3h0m16.3 13.1h0m-15.4-17.2h0m-14.8 3.5h0m3.3 6.3h0m-.8 2.6h0m15.2-25.4h0m-13.9 7.7h0m16 20.7h0m-19.3 1.1h0m9.3-10.7h0m5.1 3.1h0m-4.4-13.5h0m9.7 14.9h0m-10.8-4.6h0m4.5 .8h0m1.1 4.7h0m6.8-7h0m-19 9.9h0m-5.5-12.1h0m13.9 4.9h0m-4.8-9h0m1.4 13.2h0m2.8-16.9h0m-1.1 7.3h0m-7.5 10.8h0m8.5-10.7h0m2.1-8.2h0m-.5 19.1h0m-18.2 5.7h0m17.1-5.6h0m-14.4-9.8h0m16.1 1.3h0m-12.2 5.8h0m3.3 4.3h0m17.2-6h0m-8.2-2.6h0m-.1 7h0m-.5-3.6h0m-5 8.1h0m11.6-12h0m-11.9 11.2h0m0-8.3h0m10.1 7.6h0m-12-11h0m6.4-2.3h0m4.1-2.1h0m-11.6 8.6h0m18.7-12.1h0m-5.5 13.8h0m-6.7-.7h0m6.6-9.8h0m-10.1-3.6h0m-15.2 21h0m20.1-14.7h0m1.8-1.3h0m2.9-.1h0m-5.5 11.5h0m-1.3-1.6h0m3.6 1h0m-4.9-11.7h0m-3.5 12.3h0m11.1-10.7h0m-2.1 2.6h0m2.7 1h0m-6.1-8.7h0m5 10.9h0m-8-.5h0m-16.8-6.4h0m13.1 8.9h0m10.5 .2h0m2.5-4.5h0m-15.8 11.1h0m12.5-12.8h0m-13.1-3.1h0m11.6-3.7h0m12.9 14.6h0m-11.5-7.9h0m-.2-.3h0m4.9 11.1h0m-5.3-16h0m-4.2 5.9h0m-2.4-2.5h0m-2.7-5.4h0m-2.3 2.3h0m5.8 6.5h0m-.6 .6h0m17.4-.3h0m-14.3-4.6h0m-2.5-5h0m18.8 2.9h0m-17.9 14h0m-.4-18.5h0m3.6-.3h0m.4 14.2h0m-5.8-.6h0m-1.1-6.2h0m12.1 5.6h0m-12.7-12.8h0m-1.7 13.6h0m6-2.1h0m-1.7-5.7h0m1.2 .7h0m-1 7.5h0m2.2 3.2h0m.8-5.7h0m4.1 15.4h0m-19.4-22.6h0m26.1 6.8h0m1.5-.8h0m-18.3 0h0m8.5 2.9h0m-10.5-6.6h0m6.2 11.7h0m13.3-8.8h0m-1.2 3.9h0m-11.1-2.9h0m19.6 0h0m-14.2 8.8h0m-26.4-18.2h0m20.4 11.3h0m17.3-18.4h0m-13 18.7h0m9.4-7.1h0m-10.8 8.5h0m4.2-1.6h0m11.4 7.6h0m-17.3-4.5h0m-.3 1.7h0m8.5 2.8h0m4.4-12h0m4.5 12.3h0m-10.7-4.6h0m5.2 8.6h0m-31.9-20.3h0m16.8 12.5h0m1.5-5.7h0m11.3-1.5h0m-20.4-2.1h0m11.4 20h0m-19.7-19h0m20.9 3.5h0m11.5-10h0m-21.9-10.4h0m7.2 23.1h0m-5.4 8.2h0m9.4-13h0m-15.5-9h0m16.5 4.2h0m-2.1 13.6h0m-13-8.7h0m18.9 13.6h0m1.8-18.3h0m-8.1 15.8h0m5.6-23h0m-9.4 10.7h0m1.1-11.1h0m14.9 21.8h0m-13.7-1h0m-.8-2.5h0m-10.7-4.3h0m-3.1-2h0m6.2-4.7h0m25.6 5.9h0m-21.3-1.2h0m12.6 8.8h0m-2.9-12.6h0m-12.8-8.8h0m5.7 20.2h0m-.4-3.8h0m4.7 8.9h0m2.3-6.7h0m-2.9 2.5h0m10.2-15.9h0m-11 16.6h0m9.8-3.7h0m-1.1 11.1h0m-26-10.3h0m19.5-3.4h0m-13.8-10.5h0m14.7 14.1h0m-3 8h0m1-13.5h0m3-4.2h0m-8.1 10.1h0m1-8.9h0m7.9 10.9h0m-.8-5.7h0m1.7 7.9h0m-3.1-1.9h0m6-4.6h0m-19.3 5.4h0m12-13.4h0m1.4 10.6h0m-11.6-5.1h0m8.9 2.6h0m-10 9.8h0m-13.4-16.6h0m6.7 7.3h0m22.5 .4h0m.6 1.8h0m-1.5-6.4h0m-9.8 9.3h0m8.1 3.4h0m-19.7-16h0m8.7 1.4h0m11.7 8h0m-2 4.7h0m-11.3-9.9h0m12.1 4.4h0m6.4-13.7h0m-11.2 1h0m18.5 1.4h0m-19 21h0m2.4 5.6h0m-4.1-24.8h0m7 6.1h0m-.3 4h0m-13 1.5h0m-2.4-6.8h0m18 1.9h0m6.6-13.5h0m-13 11.9h0m-6.2-8h0m6.1 3.2h0m1.1 4.4h0m-4.9-10.3h0m14.3 3.9h0m-12.1 7.8h0m-3.1 4.1h0m.9-1.6h0m-2.5 3.1h0m20.4-10.9h0m-6.5 10.1h0m1.4-6.1h0m-10.2 2h0m6.3-3.1h0m-1.9-.6h0m4.1 .3h0m1.5 4.2h0m.5 2.9h0m-10.1-9.1h0m6.2 9.8h0m-14-12.6h0m14.2 8.2h0m-8.2 2.8h0m-9.5 1h0m13.2-3.9h0m5-2.2h0m3.3 2.2h0m-11.1-12.4h0m-1.8 14.1h0m-4-5.5h0m13.8-12h0m7 10.9h0m-15 1.9h0m6.1 4.7h0m4.2-7.3h0m-13.7 3.9h0m10.1-10.7h0m1.7 .6h0m-4.9 8.3h0m-1.9 5.5h0m-6-9h0m9.5 5.6h0m-4.7-6.1h0m5.6 18.7h0m1.3-16.2h0m-6.3 1.9h0m12.4 14h0m-20.8-4.5h0m5-8.3h0m1.3 5.5h0m4.4-6.1h0m-9.1 9.1h0m14.6-16.4h0m-5.9 .6h0m2.6 5.6h0m-13-2.3h0m6.4-5h0m5.3 7.4h0m.8 2.7h0m3.1 4.9h0m-5 8h0m-3.4-16.2h0m-24-13h0m29.7 16.7h0m-3.9-11h0m-1.1 4.5h0m4.3-1h0m-6.9-1.3h0m7.8 9h0m.6 6.2h0m-1.4-1.2h0m-14-5.3h0m10.7 7.2h0m1.7 1.2h0m-1.3-2.4h0m2.2-14.2h0m-1.3 10.1h0m-5.6-12h0m24.7 15.8h0m-26.1-16.3h0m-1.7 13.2h0m13.7 1.3h0m1.2 1.9h0m1.9 4.1h0m-2-16.7h0m-19.9-9.2h0m4.8 14.7h0m20 7.7h0m-4-11.5h0m-10.8 7.3h0m6.2 2.6h0m-9.8 3.1h0m1.9-20.1h0m6 13.9h0m5.2 4.2h0m3-9.8h0m-26.1 20.1h0m22.5-8.4h0m1.5-8.4h0m-6.9 10.2h0m7.1-9.6h0m-3.7 3.1h0m-.9-7.5h0m-17.1 3.7h0m20.4-9h0m-13-.5h0m-4 9.8h0m4.4-6.3h0m10.9 1.8h0m-2.4 11h0m-1.4 7.9h0m.2-11.3h0m7-.1h0m11.1-7.2h0m-13.3 13.5h0m-9.2-24.4h0m3.3 3.5h0m6.1 6.7h0m-12 14.7h0m3.3-9.2h0m3.4 1.7h0m14.1-2.6h0m-11 2h0m-14.9-7.9h0m3.9 11.6h0m17-22.2h0m-21.9 12.3h0" stroke="#fff" stroke-width="0.8" stroke-linecap="square" fill="none" opacity="0.85"/>
<text x="354.5" y="150.8" font-size="6.5" text-anchor="middle" fill="#333">2</text>
<text x="331.0" y="154.8" font-size="6.5" text-anchor="middle" fill="#333">4</text>
<text x="375.5" y="176.3" font-size="6.5" text-anchor="middle" fill="#333">1</text>
<text x="332.0" y="179.8" font-size="6.5" text-anchor="middle" fill="#333">0</text>
<text x="358.0" y="192.8" font-size="6.5" text-anchor="middle" fill="#333">3</text>
<line x1="312.6" y1="209.8" x2="312.6" y2="175.2" stroke="#231f20" stroke-width="0.7"/>
<path d="M311.3,176.1 L312.6,173.0 L313.9,176.1 Z" fill="#231f20"/>
<line x1="312.6" y1="209.8" x2="345.4" y2="209.8" stroke="#231f20" stroke-width="0.7"/>
<path d="M344.5,208.5 L347.6,209.8 L344.5,211.1 Z" fill="#231f20"/>
<text x="304.5" y="193.3" font-size="6.5" text-anchor="middle" transform="rotate(-90 304.5 191.0)">UMAP2</text>
<text x="330.6" y="218.1" font-size="6.5" text-anchor="middle">UMAP1</text>
<text x="393.5" y="129.3" font-size="6.5">Cluster</text>
<circle cx="395.8" cy="143.4" r="2.90" fill="#3a9a47"/>
<text x="401.9" y="145.7" font-size="6.5">0 Proliferation</text>
<circle cx="395.8" cy="157.7" r="2.90" fill="#fdb07a"/>
<text x="401.9" y="160.0" font-size="6.5">1 Proinflammation</text>
<circle cx="395.8" cy="171.9" r="2.90" fill="#e5596a"/>
<text x="401.9" y="174.3" font-size="6.5">2 Exhaustion</text>
<circle cx="395.8" cy="186.2" r="2.90" fill="#2176ae"/>
<text x="401.9" y="188.6" font-size="6.5">3 Progenitor</text>
<circle cx="395.8" cy="200.5" r="2.90" fill="#6a3f9b"/>
<text x="401.9" y="202.8" font-size="6.5">4 Early activation</text>
<line x1="484.8" y1="128.9" x2="484.8" y2="190.0" stroke="#555" stroke-width="0.6"/>
<line x1="482.8" y1="128.9" x2="484.8" y2="128.9" stroke="#555" stroke-width="0.6"/>
<text x="481.6" y="131.3" font-size="6.7" text-anchor="end">1.0</text>
<line x1="482.8" y1="141.1" x2="484.8" y2="141.1" stroke="#555" stroke-width="0.6"/>
<text x="481.6" y="143.5" font-size="6.7" text-anchor="end">0.8</text>
<line x1="482.8" y1="153.3" x2="484.8" y2="153.3" stroke="#555" stroke-width="0.6"/>
<text x="481.6" y="155.8" font-size="6.7" text-anchor="end">0.6</text>
<line x1="482.8" y1="165.6" x2="484.8" y2="165.6" stroke="#555" stroke-width="0.6"/>
<text x="481.6" y="168.0" font-size="6.7" text-anchor="end">0.4</text>
<line x1="482.8" y1="177.8" x2="484.8" y2="177.8" stroke="#555" stroke-width="0.6"/>
<text x="481.6" y="180.2" font-size="6.7" text-anchor="end">0.2</text>
<line x1="482.8" y1="190.0" x2="484.8" y2="190.0" stroke="#555" stroke-width="0.6"/>
<text x="481.6" y="192.4" font-size="6.7" text-anchor="end">0</text>
<line x1="484.8" y1="190.0" x2="507.0" y2="190.0" stroke="#555" stroke-width="0.6"/>
<rect x="485.7" y="173.5" width="9.1" height="16.5" fill="#3a9a47"/>
<rect x="485.7" y="157.0" width="9.1" height="16.5" fill="#fdb07a"/>
<rect x="485.7" y="139.9" width="9.1" height="17.1" fill="#e5596a"/>
<rect x="485.7" y="128.9" width="9.1" height="11.0" fill="#2176ae"/>
<rect x="497.1" y="175.9" width="9.3" height="14.1" fill="#3a9a47"/>
<rect x="497.1" y="161.9" width="9.3" height="14.1" fill="#fdb07a"/>
<rect x="497.1" y="148.5" width="9.3" height="13.4" fill="#e5596a"/>
<rect x="497.1" y="133.2" width="9.3" height="15.3" fill="#2176ae"/>
<rect x="497.1" y="128.9" width="9.3" height="4.3" fill="#6a3f9b"/>
<text x="0" y="0" font-size="6.5" text-anchor="end" transform="translate(492.0 198.0) rotate(-45)">Control</text>
<text x="0" y="0" font-size="6.5" text-anchor="end" transform="translate(504.0 198.0) rotate(-45)">KLHL6-OE</text>
<text x="521.0" y="127.6" font-size="10.5" font-weight="bold">h</text>
<text x="566.3" y="128.9" font-size="6.5" text-anchor="middle">Control</text>
<text x="642.3" y="128.9" font-size="6.5" text-anchor="middle">KLHL6-OE</text>
<defs><filter id="bl1" x="-30%" y="-30%" width="160%" height="160%"><feGaussianBlur stdDeviation="1.2"/></filter><filter id="bl2" x="-50%" y="-50%" width="200%" height="200%"><feGaussianBlur stdDeviation="2.5"/></filter><filter id="bl3" x="-50%" y="-50%" width="200%" height="200%"><feGaussianBlur stdDeviation="3.5"/></filter><filter id="blc" x="-50%" y="-50%" width="200%" height="200%"><feGaussianBlur stdDeviation="1.6"/></filter><linearGradient id="hmg" x1="0" x2="1"><stop offset="0" stop-color="#ffffe0"/><stop offset="0.3" stop-color="#fed98e"/><stop offset="0.6" stop-color="#f46d43"/><stop offset="0.85" stop-color="#c4161c"/><stop offset="1" stop-color="#800026"/></linearGradient><linearGradient id="rdg" x1="0" x2="1"><stop offset="0" stop-color="#fff5f0"/><stop offset="0.5" stop-color="#fb6a4a"/><stop offset="0.8" stop-color="#cb181d"/><stop offset="1" stop-color="#67000d"/></linearGradient></defs>
<path d="M537,172 L539,160 L546,150 L555,143 L563,138 L568,136.5 L574,139 L581,145 L589,152 L597,161 L604,170 L606.5,179 L601,186 L592,192 L582,197 L568,201 L552,203 L543,200 L538,191 Z" fill="#fee08f" filter="url(#bl1)"/>
<path d="M565.2 179.4h0m6.9-7.2h0m-19.8 10.1h0m20.8-5.4h0m-10.4-1.1h0m-4.5 1.3h0m0 7.5h0m-1.7-13h0m5.2-.7h0m6.3 5.7h0m-1.5 0h0m.3-4.5h0m-14-.4h0m.8 7.6h0m18.7 5.7h0m-3.5-3.7h0m7.3-.2h0m-5.8 3.4h0m-13.4-19.4h0m13.8 2.8h0m-3.9 4.9h0m-2.5-3h0m-6.2 1.3h0m4.9 6.3h0m-.9-8.1h0m6.3 5h0m-4.7-9.6h0m8.8 6.5h0m-14.1 13.9h0m7.4-11.4h0m.2 5.2h0m-8.2 2.3h0m-1.9-7.1h0m13.2 6.4h0m-3-2.2h0m-4.1 2.9h0m3.4-8h0m-6.5-4.8h0m5.5 2.5h0m-5 2.8h0m4.7 6.5h0m4.8-4.4h0m-7.9-1.2h0m7.1 1.3h0m-11.3 7.7h0m4.5-10.1h0m-6.5 12.6h0m7.6-16.5h0m1.1 3.8h0m-1.7 8.7h0m-.4-2h0m9.6-8.2h0m.5 4.4h0m-15.8-3.6h0m14.3 9.4h0m-17.3-1.9h0m5.9-7.5h0m3.4 6.7h0m1.7-4.6h0m-7 1.8h0m2 .8h0m4.8-3.8h0m-4.7 6h0m.4 .2h0m7.8-.2h0m1.6 4h0m-6-8.2h0m.5-7.3h0m-.2 6h0m-2.6 4.1h0m-.4-1.1h0m-3.1 3.4h0m10.1 1.3h0m-4.4-5.5h0m-.3 0h0m2-5.2h0m2 12.1h0m5.3-7.8h0m-10.1-4.9h0m-.8-.2h0m3.6 4.2h0m-6.3 11.8h0m12.7-4.7h0m-2-14.8h0m-1.4 9.5h0m-4.9 2.3h0m5.1 2.2h0m1.9-1.7h0m-3.3-5.9h0m-4.7 6.3h0m-8.4-5.8h0m15.8-10.1h0m-7.8 9.1h0m-3 .2h0m10.4 9.8h0m-3.3 .6h0m-10.5-12.6h0m7.9 7.3h0m-1-.5h0m7.6-9.1h0m-17.4-3.7h0m9.1 11.7h0m1.5 1.4h0m9.3-4.4h0m-15-12.7h0m-11.1 16.1h0m9.3-3.3h0m9.9-1.8h0m3.3 3.4h0m5.5-4.9h0" stroke="#b3b8c2" stroke-width="0.7" stroke-linecap="square" fill="none"/>
<path d="M550.8 153.8h0m-2.7-7.6h0m-2.9 2.1h0m4.2 2.7h0m-1.6 3.9h0m-7.4 .6h0m6.9-9.5h0m-1.6 3.2h0m-6.4-2.4h0m5.4 6.6h0m5.4-1.6h0m-5.2-3.2h0m10.1-1h0m1.5 3.6h0m-10 2.7h0m4.3-7h0m7.2 1.8h0m-11.7 1.8h0m-2.8-.4h0m2.4 1.3h0m-4.8-5.4h0m.2 1.6h0m7.7-6h0m-3.1 8.6h0m3.3 4.1h0m1.2-12.5h0m-6.2 5.7h0m2.8 6.1h0m-.3-4.2h0m-2-7h0m-.9 12.3h0m5.8-10.4h0m-2.3 11.2h0m2.4-7.8h0m3.3-.5h0m.1 2.9h0m-10.7-.2h0m1.3 2.5h0m3-.4h0m1.9-2.6h0" stroke="#b3b8c2" stroke-width="0.7" stroke-linecap="square" fill="none"/>
<path d="M543.6 180h0m-1.2 .2h0m-.9-4h0m-.2 8.6h0m-.5-3.6h0m0-4.3h0m1.5-8.2h0m-.4 10.4h0m-.8-.2h0m1.9-3.3h0m-2.5 3.7h0m1.4 .3h0m.8-6.4h0m-3.9 5.2h0m1.7-1.3h0m3.8-.2h0m-5.2-4h0m4.2-.7h0m-4.4 3.5h0m2.9 7.9h0m-2.9 5.4h0m.9-16.2h0m.4-4.1h0m-.3 4.3h0m3.1-3h0" stroke="#b3b8c2" stroke-width="0.7" stroke-linecap="square" fill="none"/>
<path d="M596.3 190.1h0m3.3-1.3h0m-5.3-2.7h0m6.1 .3h0m.8-4.3h0m2.9-4.5h0m1.2 7.2h0m-3.3 1.2h0m5.1-.3h0m-11.1-4h0m3.1 2h0m-.4 6.6h0m1.1-3.1h0m2.3-.3h0m-5.4-2.8h0" stroke="#b3b8c2" stroke-width="0.7" stroke-linecap="square" fill="none"/>
<ellipse cx="562" cy="190" rx="17" ry="6" transform="rotate(-22 562 190)" fill="#fdd080" filter="url(#bl2)"/>
<ellipse cx="555" cy="163" rx="8" ry="4.5" fill="#fbab4a" filter="url(#bl2)"/>
<path d="M570,145 C577,141 591,151 602,166 C607,176 603,188 595,190 C588,187 582,178 577,169 C572,160 567,150 570,145 Z" fill="#fa9a45" filter="url(#bl2)"/>
<path d="M573,145.5 C581,144 593,154 601,166 C604,173 601,179 595,178 C588,172 582,164 578,157 C575,152 572,148 574,146 Z" fill="#d42a1e" filter="url(#bl1)"/>
<ellipse cx="591" cy="166" rx="7" ry="3.6" transform="rotate(45 591 166)" fill="#8a0922" filter="url(#blc)"/>
<path d="M612,168 L615,158 L624,149 L633,142 L640,137 L646,136.5 L652,140 L660,147 L668,155 L675,163 L680,172 L679,180 L672,187 L663,193 L650,198 L636,202 L624,204 L616,199 L612,190 Z" fill="#fedb88" filter="url(#bl1)"/>
<path d="M646 184.4h0m4.3-12.8h0m-4.2 11.6h0m-9.2-7.4h0m5.5 1.4h0m-9.3-4.3h0m4.6 .7h0m7.1 11.4h0m-9-5.4h0m2.5 2h0m13.2-.4h0m-12.7-4.9h0m7.4 2.2h0m-8.5-2.7h0m-6.6 4.7h0m9-9.5h0m-2.8 9.1h0m-13.2 6.5h0m6.5 1.4h0m6.2-.3h0m15-3.2h0m-16.2-7.5h0m4.3 9.5h0m5.2-1.9h0m-2.7-1.3h0m-5-7.3h0m16.2 8h0m-2.8 5h0m-30.1-3.3h0m27-4.8h0m-3.3 3.8h0m3.5-2.7h0m-7.1 .9h0m5.9 3.3h0m8.7-2.5h0m-1.7-1.3h0m.6 1.5h0m-5.8-6h0m-1.1-.8h0m.2 7.3h0m-16.4-5.3h0m27 5.7h0m-16.2-11.9h0m.7 15.1h0m-1.6-6.5h0" stroke="#b3b8c2" stroke-width="0.7" stroke-linecap="square" fill="none"/>
<path d="M676.6 157.9h0m-16.4-6.4h0m3.1 1.9h0m12.3 2.8h0m-5-11.7h0m.6 8.1h0m-.7 1.3h0m.2-2.2h0m1.5-3h0m-6.2 5.7h0m3.4 2.6h0m5.8-5.3h0m-4.5-1.6h0m-3.1 1.1h0m2.8 7.1h0m3.8-1.3h0m-5-4.8h0m.1-4.5h0m2.7-.7h0m1.4 3.8h0" stroke="#b3b8c2" stroke-width="0.7" stroke-linecap="square" fill="none"/>
<path d="M640,144 C654,146 668,158 674,172 C676,185 666,195 648,197 C636,198 626,198 620,193 C628,186 644,186 654,180 C661,174 659,164 651,158 C645,154 636,150 640,144 Z" fill="#fa9840" filter="url(#bl3)"/>
<ellipse cx="620" cy="178" rx="6" ry="12" fill="#fdc46a" filter="url(#bl3)"/>
<ellipse cx="624.5" cy="163.6" rx="6.5" ry="5.6" fill="#f57a30" filter="url(#bl2)"/>
<ellipse cx="627.8" cy="192.6" rx="6" ry="5" fill="#f7883a" filter="url(#bl2)"/>
<ellipse cx="647" cy="151" rx="8.5" ry="8" fill="#dc2a1e" filter="url(#bl2)"/>
<ellipse cx="665.3" cy="168.2" rx="7.5" ry="7.5" fill="#d42420" filter="url(#bl2)"/>
<path d="M668,176 C672,182 668,190 658,192 C650,194 644,192 646,187 C650,184 658,182 668,176 Z" fill="#d7261e" filter="url(#bl2)"/>
<ellipse cx="662.4" cy="181.8" rx="8" ry="5.5" fill="#d42420" filter="url(#bl2)"/>
<path d="M641,146 C650,148 660,156 664,164" fill="none" stroke="#f0602c" stroke-width="5" filter="url(#bl2)"/>
<ellipse cx="645.6" cy="149.5" rx="4.2" ry="3.8" fill="#8a0922" filter="url(#blc)"/>
<ellipse cx="665.8" cy="168.2" rx="3.8" ry="4.2" fill="#7e0620" filter="url(#blc)"/>
<ellipse cx="662" cy="181.6" rx="4.8" ry="3.4" fill="#8a0922" filter="url(#blc)"/>
<path d="M656,186 C650,189 646,190 643,190" fill="none" stroke="#c0161c" stroke-width="3" filter="url(#blc)"/>
<line x1="532.0" y1="209.6" x2="532.0" y2="178.0" stroke="#231f20" stroke-width="0.7"/>
<path d="M530.7,178.9 L532.0,175.8 L533.3,178.9 Z" fill="#231f20"/>
<line x1="532.0" y1="209.6" x2="562.6" y2="209.6" stroke="#231f20" stroke-width="0.7"/>
<path d="M561.7,208.3 L564.8,209.6 L561.7,210.9 Z" fill="#231f20"/>
<text x="524.5" y="194.3" font-size="6.5" text-anchor="middle" transform="rotate(-90 524.5 192.0)">UMAP2</text>
<text x="549.0" y="219.7" font-size="6.5" text-anchor="middle">UMAP1</text>
<text x="607.6" y="213.9" font-size="6.5">Low</text>
<rect x="623.6" y="209.6" width="30.3" height="4.3" fill="url(#hmg)" stroke="#555" stroke-width="0.4"/>
<text x="656.4" y="213.9" font-size="6.5">High</text>
<text x="0.0" y="256.0" font-size="10.5" font-weight="bold">i</text>
<text x="51.4" y="259.4" font-size="6.3" text-anchor="middle">Tex<tspan font-size="4.5" dy="-2.3">term</tspan><tspan dy="2.3">​</tspan></text>
<text x="51.4" y="267.0" font-size="6.3" text-anchor="middle">signature</text>
<text x="124.1" y="259.4" font-size="6.3" text-anchor="middle">Tpex</text>
<text x="124.1" y="267.0" font-size="6.3" text-anchor="middle">signature</text>
<line x1="29.2" y1="277.7" x2="29.2" y2="338.3" stroke="#555" stroke-width="0.6"/>
<line x1="29.2" y1="338.3" x2="72.7" y2="338.3" stroke="#555" stroke-width="0.6"/>
<line x1="27.2" y1="284.6" x2="29.2" y2="284.6" stroke="#555" stroke-width="0.6"/>
<text x="26.0" y="286.9" font-size="6.3" text-anchor="end">4</text>
<line x1="27.2" y1="299.4" x2="29.2" y2="299.4" stroke="#555" stroke-width="0.6"/>
<text x="26.0" y="301.7" font-size="6.3" text-anchor="end">2</text>
<line x1="27.2" y1="314.3" x2="29.2" y2="314.3" stroke="#555" stroke-width="0.6"/>
<text x="26.0" y="316.6" font-size="6.3" text-anchor="end">0</text>
<line x1="27.2" y1="329.1" x2="29.2" y2="329.1" stroke="#555" stroke-width="0.6"/>
<text x="26.0" y="331.4" font-size="6.3" text-anchor="end">−2</text>
<line x1="40.4" y1="338.3" x2="40.4" y2="340.3" stroke="#555" stroke-width="0.6"/>
<line x1="63.3" y1="338.3" x2="63.3" y2="340.3" stroke="#555" stroke-width="0.6"/>
<text x="10.0" y="309.8" font-size="6.5" text-anchor="middle" transform="rotate(-90 10.0 307.5)">Enrichment score</text>
<path d="M40.70,277.70 L40.75,279.14 L40.84,280.57 L40.94,282.01 L41.05,283.44 L41.18,284.88 L41.33,286.32 L41.51,287.75 L41.75,289.19 L42.05,290.62 L42.55,292.06 L43.19,293.49 L43.89,294.93 L44.58,296.37 L45.36,297.80 L46.11,299.24 L46.61,300.67 L47.03,302.11 L47.39,303.55 L47.63,304.98 L47.71,306.42 L47.74,307.85 L47.77,309.29 L47.79,310.73 L47.80,312.16 L47.79,313.60 L47.68,315.03 L47.49,316.47 L47.23,317.91 L46.92,319.34 L46.36,320.78 L45.59,322.21 L44.79,323.65 L44.00,325.08 L43.16,326.52 L42.42,327.96 L41.83,329.39 L41.35,330.83 L40.98,332.26 L40.70,333.70 L40.10,333.70 L39.82,332.26 L39.45,330.83 L38.97,329.39 L38.38,327.96 L37.64,326.52 L36.80,325.08 L36.01,323.65 L35.21,322.21 L34.44,320.78 L33.88,319.34 L33.57,317.91 L33.31,316.47 L33.12,315.03 L33.01,313.60 L33.00,312.16 L33.01,310.73 L33.03,309.29 L33.06,307.85 L33.09,306.42 L33.17,304.98 L33.41,303.55 L33.77,302.11 L34.19,300.67 L34.69,299.24 L35.44,297.80 L36.22,296.37 L36.91,294.93 L37.61,293.49 L38.25,292.06 L38.75,290.62 L39.05,289.19 L39.29,287.75 L39.47,286.32 L39.62,284.88 L39.75,283.44 L39.86,282.01 L39.96,280.57 L40.05,279.14 L40.10,277.70 Z" fill="#3a8fb1" stroke="#333" stroke-width="0.5"/>
<line x1="40.4" y1="300.0" x2="40.4" y2="327.0" stroke="#333" stroke-width="0.5"/>
<rect x="39.5" y="308.0" width="1.8" height="10.0" fill="#333"/>
<circle cx="40.4" cy="313.5" r="0.55" fill="#fff"/>
<path d="M63.60,290.30 L63.64,291.44 L63.73,292.58 L63.89,293.72 L64.08,294.86 L64.30,296.01 L64.69,297.15 L65.30,298.29 L65.98,299.43 L66.62,300.57 L67.33,301.71 L68.05,302.85 L68.75,303.99 L69.37,305.13 L69.96,306.27 L70.55,307.42 L71.09,308.56 L71.52,309.70 L71.78,310.84 L71.91,311.98 L72.02,313.12 L72.10,314.26 L72.17,315.40 L72.20,316.54 L72.16,317.68 L71.96,318.83 L71.62,319.97 L71.18,321.11 L70.68,322.25 L69.81,323.39 L68.66,324.53 L67.56,325.67 L66.70,326.81 L65.92,327.95 L65.25,329.09 L64.67,330.24 L64.23,331.38 L63.94,332.52 L63.71,333.66 L63.60,334.80 L63.00,334.80 L62.89,333.66 L62.66,332.52 L62.37,331.38 L61.93,330.24 L61.35,329.09 L60.68,327.95 L59.90,326.81 L59.04,325.67 L57.94,324.53 L56.79,323.39 L55.92,322.25 L55.42,321.11 L54.98,319.97 L54.64,318.83 L54.44,317.68 L54.40,316.54 L54.43,315.40 L54.50,314.26 L54.58,313.12 L54.69,311.98 L54.82,310.84 L55.08,309.70 L55.51,308.56 L56.05,307.42 L56.64,306.27 L57.23,305.13 L57.85,303.99 L58.55,302.85 L59.27,301.71 L59.98,300.57 L60.62,299.43 L61.30,298.29 L61.91,297.15 L62.30,296.01 L62.52,294.86 L62.71,293.72 L62.87,292.58 L62.96,291.44 L63.00,290.30 Z" fill="#ef7f7c" stroke="#333" stroke-width="0.5"/>
<line x1="63.3" y1="304.0" x2="63.3" y2="328.0" stroke="#333" stroke-width="0.5"/>
<rect x="62.4" y="311.0" width="1.8" height="11.0" fill="#333"/>
<circle cx="63.3" cy="316.5" r="0.55" fill="#fff"/>
<text x="0" y="0" font-size="6.5" text-anchor="end" transform="translate(43.2 346.3) rotate(-45)">Control</text>
<text x="0" y="0" font-size="6.5" text-anchor="end" transform="translate(66.1 346.3) rotate(-45)">KLHL6-OE</text>
<line x1="102.4" y1="276.6" x2="102.4" y2="338.3" stroke="#555" stroke-width="0.6"/>
<line x1="102.4" y1="338.3" x2="145.8" y2="338.3" stroke="#555" stroke-width="0.6"/>
<line x1="100.4" y1="277.7" x2="102.4" y2="277.7" stroke="#555" stroke-width="0.6"/>
<text x="99.2" y="280.0" font-size="6.3" text-anchor="end">4</text>
<line x1="100.4" y1="293.7" x2="102.4" y2="293.7" stroke="#555" stroke-width="0.6"/>
<text x="99.2" y="296.0" font-size="6.3" text-anchor="end">2</text>
<line x1="100.4" y1="309.2" x2="102.4" y2="309.2" stroke="#555" stroke-width="0.6"/>
<text x="99.2" y="311.5" font-size="6.3" text-anchor="end">0</text>
<line x1="100.4" y1="325.7" x2="102.4" y2="325.7" stroke="#555" stroke-width="0.6"/>
<text x="99.2" y="328.0" font-size="6.3" text-anchor="end">−2</text>
<line x1="113.2" y1="338.3" x2="113.2" y2="340.3" stroke="#555" stroke-width="0.6"/>
<line x1="136.2" y1="338.3" x2="136.2" y2="340.3" stroke="#555" stroke-width="0.6"/>
<text x="83.7" y="309.3" font-size="6.5" text-anchor="middle" transform="rotate(-90 83.7 307.0)">Enrichment score</text>
<path d="M113.50,291.40 L113.56,292.51 L113.63,293.63 L113.69,294.74 L113.76,295.85 L113.83,296.96 L113.90,298.08 L113.97,299.19 L114.03,300.30 L114.09,301.42 L114.16,302.53 L114.25,303.64 L114.37,304.75 L114.60,305.87 L115.05,306.98 L115.65,308.09 L116.34,309.21 L117.34,310.32 L118.57,311.43 L119.78,312.54 L120.81,313.66 L121.91,314.77 L122.72,315.88 L122.82,316.99 L122.04,318.11 L121.00,319.22 L119.70,320.33 L118.30,321.45 L117.15,322.56 L116.10,323.67 L115.31,324.78 L114.82,325.90 L114.44,327.01 L114.15,328.12 L113.97,329.24 L113.82,330.35 L113.69,331.46 L113.59,332.57 L113.52,333.69 L113.50,334.80 L112.90,334.80 L112.88,333.69 L112.81,332.57 L112.71,331.46 L112.58,330.35 L112.43,329.24 L112.25,328.12 L111.96,327.01 L111.58,325.90 L111.09,324.78 L110.30,323.67 L109.25,322.56 L108.10,321.45 L106.70,320.33 L105.40,319.22 L104.36,318.11 L103.58,316.99 L103.68,315.88 L104.49,314.77 L105.59,313.66 L106.62,312.54 L107.83,311.43 L109.06,310.32 L110.06,309.21 L110.75,308.09 L111.35,306.98 L111.80,305.87 L112.03,304.75 L112.15,303.64 L112.24,302.53 L112.31,301.42 L112.37,300.30 L112.43,299.19 L112.50,298.08 L112.57,296.96 L112.64,295.85 L112.71,294.74 L112.77,293.63 L112.84,292.51 L112.90,291.40 Z" fill="#3a8fb1" stroke="#333" stroke-width="0.5"/>
<line x1="113.2" y1="305.0" x2="113.2" y2="326.0" stroke="#333" stroke-width="0.5"/>
<rect x="112.3" y="312.0" width="1.8" height="8.0" fill="#333"/>
<circle cx="113.2" cy="316.0" r="0.55" fill="#fff"/>
<path d="M136.50,278.40 L136.59,279.70 L136.68,281.00 L136.78,282.30 L136.87,283.60 L136.96,284.90 L137.03,286.20 L137.14,287.50 L137.46,288.80 L138.31,290.10 L139.32,291.40 L140.11,292.70 L140.89,294.00 L141.60,295.30 L142.11,296.60 L142.37,297.90 L142.58,299.20 L142.73,300.50 L142.80,301.80 L142.80,303.10 L142.80,304.40 L142.80,305.70 L142.69,307.00 L142.33,308.30 L141.85,309.60 L141.32,310.90 L140.63,312.20 L139.93,313.50 L139.36,314.80 L138.85,316.10 L138.39,317.40 L137.99,318.70 L137.62,320.00 L137.32,321.30 L137.11,322.60 L136.93,323.90 L136.76,325.20 L136.63,326.50 L136.53,327.80 L136.50,329.10 L135.90,329.10 L135.87,327.80 L135.77,326.50 L135.64,325.20 L135.47,323.90 L135.29,322.60 L135.08,321.30 L134.78,320.00 L134.41,318.70 L134.01,317.40 L133.55,316.10 L133.04,314.80 L132.47,313.50 L131.77,312.20 L131.08,310.90 L130.55,309.60 L130.07,308.30 L129.71,307.00 L129.60,305.70 L129.60,304.40 L129.60,303.10 L129.60,301.80 L129.67,300.50 L129.82,299.20 L130.03,297.90 L130.29,296.60 L130.80,295.30 L131.51,294.00 L132.29,292.70 L133.08,291.40 L134.09,290.10 L134.94,288.80 L135.26,287.50 L135.37,286.20 L135.44,284.90 L135.53,283.60 L135.62,282.30 L135.72,281.00 L135.81,279.70 L135.90,278.40 Z" fill="#ef7f7c" stroke="#333" stroke-width="0.5"/>
<line x1="136.2" y1="290.0" x2="136.2" y2="318.0" stroke="#333" stroke-width="0.5"/>
<rect x="135.3" y="298.0" width="1.8" height="12.0" fill="#333"/>
<circle cx="136.2" cy="304.0" r="0.55" fill="#fff"/>
<text x="0" y="0" font-size="6.5" text-anchor="end" transform="translate(116.0 346.3) rotate(-45)">Control</text>
<text x="0" y="0" font-size="6.5" text-anchor="end" transform="translate(139.0 346.3) rotate(-45)">KLHL6-OE</text>
<text x="173.5" y="253.7" font-size="10.5" font-weight="bold">j</text>
<text x="205.0" y="302.7" font-size="6.5" text-anchor="end">Control</text>
<text x="205.0" y="310.6" font-size="6.5" text-anchor="end">KLHL6-OE</text>
<line x1="206.6" y1="300.4" x2="209.4" y2="300.4" stroke="#555" stroke-width="0.5"/>
<line x1="206.6" y1="308.3" x2="209.4" y2="308.3" stroke="#555" stroke-width="0.5"/>
<text x="205.0" y="373.7" font-size="6.5" text-anchor="end">Control</text>
<text x="205.0" y="381.8" font-size="6.5" text-anchor="end">KLHL6-OE</text>
<line x1="206.6" y1="371.4" x2="209.4" y2="371.4" stroke="#555" stroke-width="0.5"/>
<line x1="206.6" y1="379.5" x2="209.4" y2="379.5" stroke="#555" stroke-width="0.5"/>
<text x="245.3" y="257.2" font-size="6.5" text-anchor="middle">Exhaustion</text>
<line x1="212.9" y1="260.5" x2="277.2" y2="260.5" stroke="#444" stroke-width="0.7"/>
<rect x="209.4" y="292.2" width="71.3" height="24.4" fill="none" stroke="#555" stroke-width="0.6"/>
<line x1="218.7" y1="290.2" x2="218.7" y2="292.2" stroke="#555" stroke-width="0.5"/>
<text x="0" y="0" font-size="6.3" font-style="italic" transform="translate(220.9 289.0) rotate(-90)">Pdcd1</text>
<line x1="229.6" y1="290.2" x2="229.6" y2="292.2" stroke="#555" stroke-width="0.5"/>
<text x="0" y="0" font-size="6.3" font-style="italic" transform="translate(231.8 289.0) rotate(-90)">Havcr2</text>
<line x1="240.1" y1="290.2" x2="240.1" y2="292.2" stroke="#555" stroke-width="0.5"/>
<text x="0" y="0" font-size="6.3" font-style="italic" transform="translate(242.3 289.0) rotate(-90)">Entpd1</text>
<line x1="250.6" y1="290.2" x2="250.6" y2="292.2" stroke="#555" stroke-width="0.5"/>
<text x="0" y="0" font-size="6.3" font-style="italic" transform="translate(252.8 289.0) rotate(-90)">Cd244a</text>
<line x1="261.4" y1="290.2" x2="261.4" y2="292.2" stroke="#555" stroke-width="0.5"/>
<text x="0" y="0" font-size="6.3" font-style="italic" transform="translate(263.6 289.0) rotate(-90)">Cd38</text>
<line x1="272.1" y1="290.2" x2="272.1" y2="292.2" stroke="#555" stroke-width="0.5"/>
<text x="0" y="0" font-size="6.3" font-style="italic" transform="translate(274.3 289.0) rotate(-90)">Cd200r1</text>
<circle cx="218.7" cy="300.4" r="4.00" fill="#67000c" stroke="#666" stroke-width="0.25"/>
<circle cx="229.6" cy="300.4" r="3.30" fill="#a80f15" stroke="#666" stroke-width="0.25"/>
<circle cx="240.1" cy="300.4" r="2.80" fill="#ed392b" stroke="#666" stroke-width="0.25"/>
<circle cx="250.6" cy="300.4" r="2.00" fill="#fc9778" stroke="#666" stroke-width="0.25"/>
<circle cx="261.4" cy="300.4" r="1.60" fill="#fca78a" stroke="#666" stroke-width="0.25"/>
<circle cx="272.1" cy="300.4" r="2.00" fill="#fb7a5a" stroke="#666" stroke-width="0.25"/>
<circle cx="218.7" cy="308.3" r="3.80" fill="#930a12" stroke="#666" stroke-width="0.25"/>
<circle cx="229.6" cy="308.3" r="3.00" fill="#f24834" stroke="#666" stroke-width="0.25"/>
<circle cx="240.1" cy="308.3" r="2.40" fill="#fb7a5a" stroke="#666" stroke-width="0.25"/>
<circle cx="250.6" cy="308.3" r="1.30" fill="#fdd1bf" stroke="#666" stroke-width="0.25"/>
<circle cx="261.4" cy="308.3" r="1.60" fill="#fcb69c" stroke="#666" stroke-width="0.25"/>
<circle cx="272.1" cy="308.3" r="0.80" fill="#fdd1bf" stroke="#666" stroke-width="0.25"/>
<text x="317.0" y="257.2" font-size="6.5" text-anchor="middle">Early activation</text>
<line x1="284.5" y1="260.5" x2="349.5" y2="260.5" stroke="#444" stroke-width="0.7"/>
<rect x="282.6" y="292.2" width="69.8" height="24.4" fill="none" stroke="#555" stroke-width="0.6"/>
<line x1="291.4" y1="290.2" x2="291.4" y2="292.2" stroke="#555" stroke-width="0.5"/>
<text x="0" y="0" font-size="6.3" font-style="italic" transform="translate(293.6 289.0) rotate(-90)">Nr4a2</text>
<line x1="301.7" y1="290.2" x2="301.7" y2="292.2" stroke="#555" stroke-width="0.5"/>
<text x="0" y="0" font-size="6.3" font-style="italic" transform="translate(303.9 289.0) rotate(-90)">Cd69</text>
<line x1="312.7" y1="290.2" x2="312.7" y2="292.2" stroke="#555" stroke-width="0.5"/>
<text x="0" y="0" font-size="6.3" font-style="italic" transform="translate(314.9 289.0) rotate(-90)">Nr4a1</text>
<line x1="323.2" y1="290.2" x2="323.2" y2="292.2" stroke="#555" stroke-width="0.5"/>
<text x="0" y="0" font-size="6.3" font-style="italic" transform="translate(325.4 289.0) rotate(-90)">Nr4a3</text>
<line x1="333.7" y1="290.2" x2="333.7" y2="292.2" stroke="#555" stroke-width="0.5"/>
<text x="0" y="0" font-size="6.3" font-style="italic" transform="translate(335.9 289.0) rotate(-90)">Runx1</text>
<line x1="344.6" y1="290.2" x2="344.6" y2="292.2" stroke="#555" stroke-width="0.5"/>
<text x="0" y="0" font-size="6.3" font-style="italic" transform="translate(346.8 289.0) rotate(-90)">Rel</text>
<circle cx="291.4" cy="300.4" r="2.90" fill="#fb6b4b" stroke="#666" stroke-width="0.25"/>
<circle cx="301.7" cy="300.4" r="1.80" fill="#fcc5ae" stroke="#666" stroke-width="0.25"/>
<circle cx="312.7" cy="300.4" r="1.20" fill="#fddfd1" stroke="#666" stroke-width="0.25"/>
<circle cx="323.2" cy="300.4" r="1.80" fill="#fcc5ae" stroke="#666" stroke-width="0.25"/>
<circle cx="333.7" cy="300.4" r="3.00" fill="#f24834" stroke="#666" stroke-width="0.25"/>
<circle cx="344.6" cy="300.4" r="2.50" fill="#fb8a6a" stroke="#666" stroke-width="0.25"/>
<circle cx="291.4" cy="308.3" r="4.20" fill="#67000c" stroke="#666" stroke-width="0.25"/>
<circle cx="301.7" cy="308.3" r="4.00" fill="#b71318" stroke="#666" stroke-width="0.25"/>
<circle cx="312.7" cy="308.3" r="3.70" fill="#df2c25" stroke="#666" stroke-width="0.25"/>
<circle cx="323.2" cy="308.3" r="3.70" fill="#df2c25" stroke="#666" stroke-width="0.25"/>
<circle cx="333.7" cy="308.3" r="4.00" fill="#a80f15" stroke="#666" stroke-width="0.25"/>
<circle cx="344.6" cy="308.3" r="4.20" fill="#7c050f" stroke="#666" stroke-width="0.25"/>
<text x="396.4" y="257.2" font-size="6.5" text-anchor="middle">Memory-like signature</text>
<line x1="358.0" y1="260.5" x2="434.0" y2="260.5" stroke="#444" stroke-width="0.7"/>
<rect x="354.4" y="292.2" width="83.9" height="24.4" fill="none" stroke="#555" stroke-width="0.6"/>
<line x1="363.9" y1="290.2" x2="363.9" y2="292.2" stroke="#555" stroke-width="0.5"/>
<text x="0" y="0" font-size="6.3" font-style="italic" transform="translate(366.1 289.0) rotate(-90)">Dusp1</text>
<line x1="374.5" y1="290.2" x2="374.5" y2="292.2" stroke="#555" stroke-width="0.5"/>
<text x="0" y="0" font-size="6.3" font-style="italic" transform="translate(376.7 289.0) rotate(-90)">Junb</text>
<line x1="385.5" y1="290.2" x2="385.5" y2="292.2" stroke="#555" stroke-width="0.5"/>
<text x="0" y="0" font-size="6.3" font-style="italic" transform="translate(387.7 289.0) rotate(-90)">Dusp5</text>
<line x1="396.4" y1="290.2" x2="396.4" y2="292.2" stroke="#555" stroke-width="0.5"/>
<text x="0" y="0" font-size="6.3" font-style="italic" transform="translate(398.6 289.0) rotate(-90)">Fosb</text>
<line x1="407.4" y1="290.2" x2="407.4" y2="292.2" stroke="#555" stroke-width="0.5"/>
<text x="0" y="0" font-size="6.3" font-style="italic" transform="translate(409.6 289.0) rotate(-90)">Dusp2</text>
<line x1="418.3" y1="290.2" x2="418.3" y2="292.2" stroke="#555" stroke-width="0.5"/>
<text x="0" y="0" font-size="6.3" font-style="italic" transform="translate(420.5 289.0) rotate(-90)">Jun</text>
<line x1="429.6" y1="290.2" x2="429.6" y2="292.2" stroke="#555" stroke-width="0.5"/>
<text x="0" y="0" font-size="6.3" font-style="italic" transform="translate(431.8 289.0) rotate(-90)">Fos</text>
<circle cx="363.9" cy="300.4" r="0.90" fill="#fca78a" stroke="#666" stroke-width="0.25"/>
<circle cx="374.5" cy="300.4" r="2.90" fill="#f24834" stroke="#666" stroke-width="0.25"/>
<circle cx="385.5" cy="300.4" r="1.80" fill="#fcb69c" stroke="#666" stroke-width="0.25"/>
<circle cx="396.4" cy="300.4" r="0.60" fill="#fdd1bf" stroke="#666" stroke-width="0.25"/>
<circle cx="407.4" cy="300.4" r="2.60" fill="#fb7a5a" stroke="#666" stroke-width="0.25"/>
<circle cx="418.3" cy="300.4" r="1.30" fill="#fcc5ae" stroke="#666" stroke-width="0.25"/>
<circle cx="429.6" cy="300.4" r="0.60" fill="#fdd1bf" stroke="#666" stroke-width="0.25"/>
<circle cx="363.9" cy="308.3" r="3.60" fill="#df2c25" stroke="#666" stroke-width="0.25"/>
<circle cx="374.5" cy="308.3" r="4.30" fill="#67000c" stroke="#666" stroke-width="0.25"/>
<circle cx="385.5" cy="308.3" r="3.80" fill="#c4161b" stroke="#666" stroke-width="0.25"/>
<circle cx="396.4" cy="308.3" r="3.40" fill="#f24834" stroke="#666" stroke-width="0.25"/>
<circle cx="407.4" cy="308.3" r="4.00" fill="#a80f15" stroke="#666" stroke-width="0.25"/>
<circle cx="418.3" cy="308.3" r="3.00" fill="#f75a40" stroke="#666" stroke-width="0.25"/>
<circle cx="429.6" cy="308.3" r="2.70" fill="#fb6b4b" stroke="#666" stroke-width="0.25"/>
<text x="251.5" y="334.8" font-size="6.5" text-anchor="middle">Stemness</text>
<line x1="213.8" y1="337.4" x2="289.6" y2="337.4" stroke="#444" stroke-width="0.7"/>
<rect x="209.4" y="363.2" width="82.5" height="24.0" fill="none" stroke="#555" stroke-width="0.6"/>
<line x1="218.7" y1="361.2" x2="218.7" y2="363.2" stroke="#555" stroke-width="0.5"/>
<text x="0" y="0" font-size="6.3" font-style="italic" transform="translate(220.9 360.0) rotate(-90)">Bach2</text>
<line x1="229.2" y1="361.2" x2="229.2" y2="363.2" stroke="#555" stroke-width="0.5"/>
<text x="0" y="0" font-size="6.3" font-style="italic" transform="translate(231.4 360.0) rotate(-90)">Foxp1</text>
<line x1="240.1" y1="361.2" x2="240.1" y2="363.2" stroke="#555" stroke-width="0.5"/>
<text x="0" y="0" font-size="6.3" font-style="italic" transform="translate(242.3 360.0) rotate(-90)">Ccr7</text>
<line x1="250.9" y1="361.2" x2="250.9" y2="363.2" stroke="#555" stroke-width="0.5"/>
<text x="0" y="0" font-size="6.3" font-style="italic" transform="translate(253.1 360.0) rotate(-90)">Klf2</text>
<line x1="261.4" y1="361.2" x2="261.4" y2="363.2" stroke="#555" stroke-width="0.5"/>
<text x="0" y="0" font-size="6.3" font-style="italic" transform="translate(263.6 360.0) rotate(-90)">Tcf7</text>
<line x1="272.5" y1="361.2" x2="272.5" y2="363.2" stroke="#555" stroke-width="0.5"/>
<text x="0" y="0" font-size="6.3" font-style="italic" transform="translate(274.7 360.0) rotate(-90)">Lef1</text>
<line x1="283.3" y1="361.2" x2="283.3" y2="363.2" stroke="#555" stroke-width="0.5"/>
<text x="0" y="0" font-size="6.3" font-style="italic" transform="translate(285.5 360.0) rotate(-90)">Sell</text>
<circle cx="218.7" cy="371.4" r="2.20" fill="#fb8a6a" stroke="#666" stroke-width="0.25"/>
<circle cx="229.2" cy="371.4" r="3.00" fill="#f24834" stroke="#666" stroke-width="0.25"/>
<circle cx="240.1" cy="371.4" r="1.40" fill="#fcc5ae" stroke="#666" stroke-width="0.25"/>
<circle cx="250.9" cy="371.4" r="0.70" fill="#fdd1bf" stroke="#666" stroke-width="0.25"/>
<circle cx="261.4" cy="371.4" r="1.30" fill="#fcc5ae" stroke="#666" stroke-width="0.25"/>
<circle cx="272.5" cy="371.4" r="1.40" fill="#fcc5ae" stroke="#666" stroke-width="0.25"/>
<circle cx="283.3" cy="371.4" r="0.90" fill="#fdd1bf" stroke="#666" stroke-width="0.25"/>
<circle cx="218.7" cy="379.5" r="4.10" fill="#67000c" stroke="#666" stroke-width="0.25"/>
<circle cx="229.2" cy="379.5" r="4.00" fill="#7c050f" stroke="#666" stroke-width="0.25"/>
<circle cx="240.1" cy="379.5" r="3.60" fill="#b71318" stroke="#666" stroke-width="0.25"/>
<circle cx="250.9" cy="379.5" r="3.40" fill="#df2c25" stroke="#666" stroke-width="0.25"/>
<circle cx="261.4" cy="379.5" r="3.00" fill="#f75a40" stroke="#666" stroke-width="0.25"/>
<circle cx="272.5" cy="379.5" r="2.80" fill="#f75a40" stroke="#666" stroke-width="0.25"/>
<circle cx="283.3" cy="379.5" r="2.30" fill="#fb8a6a" stroke="#666" stroke-width="0.25"/>
<text x="329.6" y="334.8" font-size="6.5" text-anchor="middle">Cytokines</text>
<line x1="297.2" y1="337.4" x2="362.0" y2="337.4" stroke="#444" stroke-width="0.7"/>
<rect x="294.4" y="363.2" width="70.9" height="24.0" fill="none" stroke="#555" stroke-width="0.6"/>
<line x1="302.4" y1="361.2" x2="302.4" y2="363.2" stroke="#555" stroke-width="0.5"/>
<text x="0" y="0" font-size="6.3" font-style="italic" transform="translate(304.6 360.0) rotate(-90)">Tnf</text>
<line x1="313.3" y1="361.2" x2="313.3" y2="363.2" stroke="#555" stroke-width="0.5"/>
<text x="0" y="0" font-size="6.3" font-style="italic" transform="translate(315.5 360.0) rotate(-90)">Ifng</text>
<line x1="324.1" y1="361.2" x2="324.1" y2="363.2" stroke="#555" stroke-width="0.5"/>
<text x="0" y="0" font-size="6.3" font-style="italic" transform="translate(326.3 360.0) rotate(-90)">Gzmk</text>
<line x1="334.8" y1="361.2" x2="334.8" y2="363.2" stroke="#555" stroke-width="0.5"/>
<text x="0" y="0" font-size="6.3" font-style="italic" transform="translate(337.0 360.0) rotate(-90)">Gzmb</text>
<line x1="345.7" y1="361.2" x2="345.7" y2="363.2" stroke="#555" stroke-width="0.5"/>
<text x="0" y="0" font-size="6.3" font-style="italic" transform="translate(347.9 360.0) rotate(-90)">Gzmm</text>
<line x1="356.6" y1="361.2" x2="356.6" y2="363.2" stroke="#555" stroke-width="0.5"/>
<text x="0" y="0" font-size="6.3" font-style="italic" transform="translate(358.8 360.0) rotate(-90)">Gzma</text>
<circle cx="302.4" cy="371.4" r="1.30" fill="#fcc5ae" stroke="#666" stroke-width="0.25"/>
<circle cx="313.3" cy="371.4" r="3.00" fill="#f24834" stroke="#666" stroke-width="0.25"/>
<circle cx="324.1" cy="371.4" r="1.80" fill="#fca78a" stroke="#666" stroke-width="0.25"/>
<circle cx="334.8" cy="371.4" r="4.20" fill="#74030e" stroke="#666" stroke-width="0.25"/>
<circle cx="345.7" cy="371.4" r="0.60" fill="#fdd1bf" stroke="#666" stroke-width="0.25"/>
<circle cx="356.6" cy="371.4" r="2.00" fill="#fb8a6a" stroke="#666" stroke-width="0.25"/>
<circle cx="302.4" cy="379.5" r="2.00" fill="#fcb69c" stroke="#666" stroke-width="0.25"/>
<circle cx="313.3" cy="379.5" r="4.20" fill="#b71318" stroke="#666" stroke-width="0.25"/>
<circle cx="324.1" cy="379.5" r="2.00" fill="#fca78a" stroke="#666" stroke-width="0.25"/>
<circle cx="334.8" cy="379.5" r="4.30" fill="#67000c" stroke="#666" stroke-width="0.25"/>
<circle cx="345.7" cy="379.5" r="1.40" fill="#fcc5ae" stroke="#666" stroke-width="0.25"/>
<circle cx="356.6" cy="379.5" r="2.60" fill="#f75a40" stroke="#666" stroke-width="0.25"/>
<text x="403.6" y="324.0" font-size="6.5" text-anchor="middle">Fraction of cells in</text>
<text x="403.6" y="332.0" font-size="6.5" text-anchor="middle">group (%)</text>
<circle cx="385.5" cy="340.6" r="4.50" fill="#808080"/>
<line x1="385.5" y1="346.4" x2="385.5" y2="348.2" stroke="#555" stroke-width="0.5"/>
<text x="0" y="0" font-size="6.4" text-anchor="end" transform="translate(389.1 353.2) rotate(-45)">100</text>
<circle cx="394.6" cy="340.6" r="3.80" fill="#808080"/>
<line x1="394.6" y1="346.4" x2="394.6" y2="348.2" stroke="#555" stroke-width="0.5"/>
<text x="0" y="0" font-size="6.4" text-anchor="end" transform="translate(398.2 353.2) rotate(-45)">80</text>
<circle cx="404.2" cy="340.6" r="3.00" fill="#808080"/>
<line x1="404.2" y1="346.4" x2="404.2" y2="348.2" stroke="#555" stroke-width="0.5"/>
<text x="0" y="0" font-size="6.4" text-anchor="end" transform="translate(407.8 353.2) rotate(-45)">60</text>
<circle cx="413.3" cy="340.6" r="2.20" fill="#808080"/>
<line x1="413.3" y1="346.4" x2="413.3" y2="348.2" stroke="#555" stroke-width="0.5"/>
<text x="0" y="0" font-size="6.4" text-anchor="end" transform="translate(416.9 353.2) rotate(-45)">40</text>
<circle cx="423.0" cy="340.6" r="1.10" fill="#808080"/>
<line x1="423.0" y1="346.4" x2="423.0" y2="348.2" stroke="#555" stroke-width="0.5"/>
<text x="0" y="0" font-size="6.4" text-anchor="end" transform="translate(426.6 353.2) rotate(-45)">20</text>
<text x="402.4" y="369.6" font-size="6.5" text-anchor="middle">Mean expression in</text>
<text x="402.4" y="377.6" font-size="6.5" text-anchor="middle">group</text>
<rect x="381.4" y="381.5" width="42.4" height="4.5" fill="url(#rdg)" stroke="#555" stroke-width="0.4"/>
<text x="375.8" y="394.2" font-size="6.5">Low</text>
<text x="430.0" y="394.2" font-size="6.5" text-anchor="end">High</text>
<text x="456.7" y="252.6" font-size="10.5" font-weight="bold">k</text>
<text x="471.0" y="253.2" font-size="6.5">CD45.1<tspan font-size="4.5" dy="-2.3">+</tspan><tspan dy="2.3">​</tspan> Control</text>
<text x="471.0" y="260.7" font-size="6.5">Tpex cells</text>
<text x="471.0" y="319.3" font-size="6.5">CD45.1<tspan font-size="4.5" dy="-2.3">+</tspan><tspan dy="2.3">​</tspan> KLHL6-OE</text>
<text x="471.0" y="326.8" font-size="6.5">Tpex cells</text>
<text x="500.8" y="382.3" font-size="6.5">CD45.2<tspan font-size="4.5" dy="-2.3">+</tspan><tspan dy="2.3">​</tspan> day 2</text>
<text x="500.8" y="389.4" font-size="6.5">B16-OVA tumour</text>
<text x="567.3" y="318.9" font-size="6.5">8/16 days</text>
<line x1="563.4" y1="324.7" x2="597.7" y2="324.7" stroke="#231f20" stroke-width="0.9"/>
<path d="M596.6,323.0 L600.5,324.7 L596.6,326.4 Z" fill="#231f20"/>
<text x="619.3" y="326.6" font-size="6.5">TIL analysis</text>
<circle cx="491.0" cy="269.5" r="5.40" fill="#b3d7f2"/>
<circle cx="491.2" cy="269.8" r="3.70" fill="#88bbe2"/>
<circle cx="497.8" cy="274.0" r="5.40" fill="#b3d7f2"/>
<circle cx="498.0" cy="274.3" r="3.70" fill="#88bbe2"/>
<circle cx="491.2" cy="278.5" r="5.40" fill="#b3d7f2"/>
<circle cx="491.4" cy="278.8" r="3.70" fill="#88bbe2"/>
<circle cx="491.0" cy="336.7" r="5.40" fill="#f6c4c8"/>
<circle cx="491.2" cy="337.0" r="3.70" fill="#eb9ea6"/>
<circle cx="497.8" cy="341.2" r="5.40" fill="#f6c4c8"/>
<circle cx="498.0" cy="341.5" r="3.70" fill="#eb9ea6"/>
<circle cx="491.2" cy="345.7" r="5.40" fill="#f6c4c8"/>
<circle cx="491.4" cy="346.0" r="3.70" fill="#eb9ea6"/>
<g transform="translate(500.5 279.0) rotate(50.3)">
<line x1="0.0" y1="0.0" x2="3.0" y2="0.0" stroke="#4a7fb0" stroke-width="0.8"/>
<line x1="3.0" y1="-1.8" x2="3.0" y2="1.8" stroke="#4a7fb0" stroke-width="0.8"/>
<rect x="3.5" y="-1.3" width="12.4" height="2.6" fill="#e6f1fa" stroke="#3a78b0" stroke-width="0.5"/>
<rect x="9.7" y="-1.1" width="6.2" height="2.2" fill="#3f96d6"/>
<line x1="15.9" y1="0.0" x2="24.7" y2="0.0" stroke="#5a8fc0" stroke-width="0.5"/>
</g>
<g transform="translate(500.5 346.5) rotate(50.5)">
<line x1="0.0" y1="0.0" x2="3.0" y2="0.0" stroke="#4a7fb0" stroke-width="0.8"/>
<line x1="3.0" y1="-1.8" x2="3.0" y2="1.8" stroke="#4a7fb0" stroke-width="0.8"/>
<rect x="3.5" y="-1.3" width="12.4" height="2.6" fill="#e6f1fa" stroke="#3a78b0" stroke-width="0.5"/>
<rect x="9.7" y="-1.1" width="6.2" height="2.2" fill="#3f96d6"/>
<line x1="15.9" y1="0.0" x2="24.9" y2="0.0" stroke="#5a8fc0" stroke-width="0.5"/>
</g>
<g transform="translate(522.2 301.7)">
<path d="M2.3,0 C0.3,-3 -0.2,-9 1,-12.8 C2.8,-18 8.5,-23 14.5,-23.2 C18.5,-23.5 22.5,-23.1 25.5,-21.8 C29,-20.5 32.5,-17.5 35,-15.2 C35.6,-14.6 35,-13.6 34,-13.3 C32,-12.8 30.5,-12.6 29.5,-12.3 C31,-11.2 31.8,-10 30.6,-9.2 C29.4,-8.8 28.4,-9.4 27.4,-9 C26.6,-6.4 25.6,-3.4 24.4,-1.6 L25.5,0 Z" fill="#777777"/>
<path d="M18.2,-9.6 C18.4,-7.6 19.6,-6 22.2,-5.4" fill="none" stroke="#fff" stroke-width="0.6"/>
<ellipse cx="20.2" cy="-25.4" rx="3.4" ry="4.1" transform="rotate(-25 20.2 -25.4)" fill="#222" stroke="#fff" stroke-width="0.5"/>
<path d="M28,-22.2 C27.4,-24.6 29,-27.2 31.6,-27.8 C32.2,-25.8 31.2,-23.4 29.6,-21.8 Z" fill="#222" stroke="#fff" stroke-width="0.4"/>
<circle cx="28.0" cy="-18.6" r="0.90" fill="#fff"/>
<circle cx="1.8" cy="-12.4" r="1.80" fill="#b5b5b5"/>
</g>
<path d="M506.8,290.8 C503.7,293.7 503.7,299.7 509.2,301.1 L524.2,301.5" fill="none" stroke="#2a2a2a" stroke-width="1.0"/>
<g transform="translate(522.2 369.6)">
<path d="M2.3,0 C0.3,-3 -0.2,-9 1,-12.8 C2.8,-18 8.5,-23 14.5,-23.2 C18.5,-23.5 22.5,-23.1 25.5,-21.8 C29,-20.5 32.5,-17.5 35,-15.2 C35.6,-14.6 35,-13.6 34,-13.3 C32,-12.8 30.5,-12.6 29.5,-12.3 C31,-11.2 31.8,-10 30.6,-9.2 C29.4,-8.8 28.4,-9.4 27.4,-9 C26.6,-6.4 25.6,-3.4 24.4,-1.6 L25.5,0 Z" fill="#777777"/>
<path d="M18.2,-9.6 C18.4,-7.6 19.6,-6 22.2,-5.4" fill="none" stroke="#fff" stroke-width="0.6"/>
<ellipse cx="20.2" cy="-25.4" rx="3.4" ry="4.1" transform="rotate(-25 20.2 -25.4)" fill="#222" stroke="#fff" stroke-width="0.5"/>
<path d="M28,-22.2 C27.4,-24.6 29,-27.2 31.6,-27.8 C32.2,-25.8 31.2,-23.4 29.6,-21.8 Z" fill="#222" stroke="#fff" stroke-width="0.4"/>
<circle cx="28.0" cy="-18.6" r="0.90" fill="#fff"/>
<circle cx="1.8" cy="-12.4" r="1.80" fill="#b5b5b5"/>
</g>
<path d="M506.8,358.7 C503.7,361.6 503.7,367.6 509.2,369.0 L524.2,369.4" fill="none" stroke="#2a2a2a" stroke-width="1.0"/>
<g transform="translate(622.0 301.5)">
<path d="M2.3,0 C0.3,-3 -0.2,-9 1,-12.8 C2.8,-18 8.5,-23 14.5,-23.2 C18.5,-23.5 22.5,-23.1 25.5,-21.8 C29,-20.5 32.5,-17.5 35,-15.2 C35.6,-14.6 35,-13.6 34,-13.3 C32,-12.8 30.5,-12.6 29.5,-12.3 C31,-11.2 31.8,-10 30.6,-9.2 C29.4,-8.8 28.4,-9.4 27.4,-9 C26.6,-6.4 25.6,-3.4 24.4,-1.6 L25.5,0 Z" fill="#777777"/>
<path d="M18.2,-9.6 C18.4,-7.6 19.6,-6 22.2,-5.4" fill="none" stroke="#fff" stroke-width="0.6"/>
<ellipse cx="20.2" cy="-25.4" rx="3.4" ry="4.1" transform="rotate(-25 20.2 -25.4)" fill="#222" stroke="#fff" stroke-width="0.5"/>
<path d="M28,-22.2 C27.4,-24.6 29,-27.2 31.6,-27.8 C32.2,-25.8 31.2,-23.4 29.6,-21.8 Z" fill="#222" stroke="#fff" stroke-width="0.4"/>
<circle cx="28.0" cy="-18.6" r="0.90" fill="#fff"/>
<path d="M1.6,-13.5 C1.8,-16.5 5,-17.2 7.2,-15.6 C8.6,-13.8 8.2,-10.6 6,-9.4 C3.6,-8.6 1.6,-10.4 1.6,-13.5 Z" fill="#b3b3b3"/>
</g>
<path d="M606.6,290.6 C603.5,293.5 603.5,299.5 609.0,300.9 L624.0,301.3" fill="none" stroke="#2a2a2a" stroke-width="1.0"/>
<g transform="translate(622.0 369.3)">
<path d="M2.3,0 C0.3,-3 -0.2,-9 1,-12.8 C2.8,-18 8.5,-23 14.5,-23.2 C18.5,-23.5 22.5,-23.1 25.5,-21.8 C29,-20.5 32.5,-17.5 35,-15.2 C35.6,-14.6 35,-13.6 34,-13.3 C32,-12.8 30.5,-12.6 29.5,-12.3 C31,-11.2 31.8,-10 30.6,-9.2 C29.4,-8.8 28.4,-9.4 27.4,-9 C26.6,-6.4 25.6,-3.4 24.4,-1.6 L25.5,0 Z" fill="#777777"/>
<path d="M18.2,-9.6 C18.4,-7.6 19.6,-6 22.2,-5.4" fill="none" stroke="#fff" stroke-width="0.6"/>
<ellipse cx="20.2" cy="-25.4" rx="3.4" ry="4.1" transform="rotate(-25 20.2 -25.4)" fill="#222" stroke="#fff" stroke-width="0.5"/>
<path d="M28,-22.2 C27.4,-24.6 29,-27.2 31.6,-27.8 C32.2,-25.8 31.2,-23.4 29.6,-21.8 Z" fill="#222" stroke="#fff" stroke-width="0.4"/>
<circle cx="28.0" cy="-18.6" r="0.90" fill="#fff"/>
<path d="M1.6,-13.5 C1.8,-16.5 5,-17.2 7.2,-15.6 C8.6,-13.8 8.2,-10.6 6,-9.4 C3.6,-8.6 1.6,-10.4 1.6,-13.5 Z" fill="#b3b3b3"/>
</g>
<path d="M606.6,358.4 C603.5,361.3 603.5,367.3 609.0,368.7 L624.0,369.1" fill="none" stroke="#2a2a2a" stroke-width="1.0"/>
<text x="0.5" y="415.5" font-size="10.5" font-weight="bold">l</text>
<rect x="46.3" y="418.3" width="66.2" height="65.3" fill="none" stroke="#777" stroke-width="0.6"/>
<line x1="45.1" y1="423.5" x2="46.3" y2="423.5" stroke="#666" stroke-width="0.4"/>
<line x1="51.6" y1="483.6" x2="51.6" y2="484.8" stroke="#666" stroke-width="0.4"/>
<line x1="45.1" y1="431.4" x2="46.3" y2="431.4" stroke="#666" stroke-width="0.4"/>
<line x1="59.5" y1="483.6" x2="59.5" y2="484.8" stroke="#666" stroke-width="0.4"/>
<line x1="45.1" y1="439.2" x2="46.3" y2="439.2" stroke="#666" stroke-width="0.4"/>
<line x1="67.5" y1="483.6" x2="67.5" y2="484.8" stroke="#666" stroke-width="0.4"/>
<line x1="45.1" y1="447.0" x2="46.3" y2="447.0" stroke="#666" stroke-width="0.4"/>
<line x1="75.4" y1="483.6" x2="75.4" y2="484.8" stroke="#666" stroke-width="0.4"/>
<line x1="45.1" y1="454.9" x2="46.3" y2="454.9" stroke="#666" stroke-width="0.4"/>
<line x1="83.4" y1="483.6" x2="83.4" y2="484.8" stroke="#666" stroke-width="0.4"/>
<line x1="45.1" y1="462.7" x2="46.3" y2="462.7" stroke="#666" stroke-width="0.4"/>
<line x1="91.3" y1="483.6" x2="91.3" y2="484.8" stroke="#666" stroke-width="0.4"/>
<line x1="45.1" y1="470.5" x2="46.3" y2="470.5" stroke="#666" stroke-width="0.4"/>
<line x1="99.3" y1="483.6" x2="99.3" y2="484.8" stroke="#666" stroke-width="0.4"/>
<line x1="45.1" y1="478.4" x2="46.3" y2="478.4" stroke="#666" stroke-width="0.4"/>
<line x1="107.2" y1="483.6" x2="107.2" y2="484.8" stroke="#666" stroke-width="0.4"/>
<rect x="136.9" y="418.3" width="65.6" height="65.2" fill="none" stroke="#777" stroke-width="0.6"/>
<line x1="135.7" y1="423.5" x2="136.9" y2="423.5" stroke="#666" stroke-width="0.4"/>
<line x1="142.1" y1="483.5" x2="142.1" y2="484.7" stroke="#666" stroke-width="0.4"/>
<line x1="135.7" y1="431.3" x2="136.9" y2="431.3" stroke="#666" stroke-width="0.4"/>
<line x1="150.0" y1="483.5" x2="150.0" y2="484.7" stroke="#666" stroke-width="0.4"/>
<line x1="135.7" y1="439.2" x2="136.9" y2="439.2" stroke="#666" stroke-width="0.4"/>
<line x1="157.9" y1="483.5" x2="157.9" y2="484.7" stroke="#666" stroke-width="0.4"/>
<line x1="135.7" y1="447.0" x2="136.9" y2="447.0" stroke="#666" stroke-width="0.4"/>
<line x1="165.8" y1="483.5" x2="165.8" y2="484.7" stroke="#666" stroke-width="0.4"/>
<line x1="135.7" y1="454.8" x2="136.9" y2="454.8" stroke="#666" stroke-width="0.4"/>
<line x1="173.6" y1="483.5" x2="173.6" y2="484.7" stroke="#666" stroke-width="0.4"/>
<line x1="135.7" y1="462.6" x2="136.9" y2="462.6" stroke="#666" stroke-width="0.4"/>
<line x1="181.5" y1="483.5" x2="181.5" y2="484.7" stroke="#666" stroke-width="0.4"/>
<line x1="135.7" y1="470.5" x2="136.9" y2="470.5" stroke="#666" stroke-width="0.4"/>
<line x1="189.4" y1="483.5" x2="189.4" y2="484.7" stroke="#666" stroke-width="0.4"/>
<line x1="135.7" y1="478.3" x2="136.9" y2="478.3" stroke="#666" stroke-width="0.4"/>
<line x1="197.3" y1="483.5" x2="197.3" y2="484.7" stroke="#666" stroke-width="0.4"/>
<rect x="226.4" y="418.3" width="66.1" height="65.2" fill="none" stroke="#777" stroke-width="0.6"/>
<line x1="225.2" y1="423.5" x2="226.4" y2="423.5" stroke="#666" stroke-width="0.4"/>
<line x1="231.7" y1="483.5" x2="231.7" y2="484.7" stroke="#666" stroke-width="0.4"/>
<line x1="225.2" y1="431.3" x2="226.4" y2="431.3" stroke="#666" stroke-width="0.4"/>
<line x1="239.6" y1="483.5" x2="239.6" y2="484.7" stroke="#666" stroke-width="0.4"/>
<line x1="225.2" y1="439.2" x2="226.4" y2="439.2" stroke="#666" stroke-width="0.4"/>
<line x1="247.6" y1="483.5" x2="247.6" y2="484.7" stroke="#666" stroke-width="0.4"/>
<line x1="225.2" y1="447.0" x2="226.4" y2="447.0" stroke="#666" stroke-width="0.4"/>
<line x1="255.5" y1="483.5" x2="255.5" y2="484.7" stroke="#666" stroke-width="0.4"/>
<line x1="225.2" y1="454.8" x2="226.4" y2="454.8" stroke="#666" stroke-width="0.4"/>
<line x1="263.4" y1="483.5" x2="263.4" y2="484.7" stroke="#666" stroke-width="0.4"/>
<line x1="225.2" y1="462.6" x2="226.4" y2="462.6" stroke="#666" stroke-width="0.4"/>
<line x1="271.3" y1="483.5" x2="271.3" y2="484.7" stroke="#666" stroke-width="0.4"/>
<line x1="225.2" y1="470.5" x2="226.4" y2="470.5" stroke="#666" stroke-width="0.4"/>
<line x1="279.3" y1="483.5" x2="279.3" y2="484.7" stroke="#666" stroke-width="0.4"/>
<line x1="225.2" y1="478.3" x2="226.4" y2="478.3" stroke="#666" stroke-width="0.4"/>
<line x1="287.2" y1="483.5" x2="287.2" y2="484.7" stroke="#666" stroke-width="0.4"/>
<rect x="46.5" y="489.6" width="65.5" height="64.7" fill="none" stroke="#777" stroke-width="0.6"/>
<line x1="45.3" y1="494.8" x2="46.5" y2="494.8" stroke="#666" stroke-width="0.4"/>
<line x1="51.7" y1="554.3" x2="51.7" y2="555.5" stroke="#666" stroke-width="0.4"/>
<line x1="45.3" y1="502.5" x2="46.5" y2="502.5" stroke="#666" stroke-width="0.4"/>
<line x1="59.6" y1="554.3" x2="59.6" y2="555.5" stroke="#666" stroke-width="0.4"/>
<line x1="45.3" y1="510.3" x2="46.5" y2="510.3" stroke="#666" stroke-width="0.4"/>
<line x1="67.5" y1="554.3" x2="67.5" y2="555.5" stroke="#666" stroke-width="0.4"/>
<line x1="45.3" y1="518.1" x2="46.5" y2="518.1" stroke="#666" stroke-width="0.4"/>
<line x1="75.3" y1="554.3" x2="75.3" y2="555.5" stroke="#666" stroke-width="0.4"/>
<line x1="45.3" y1="525.8" x2="46.5" y2="525.8" stroke="#666" stroke-width="0.4"/>
<line x1="83.2" y1="554.3" x2="83.2" y2="555.5" stroke="#666" stroke-width="0.4"/>
<line x1="45.3" y1="533.6" x2="46.5" y2="533.6" stroke="#666" stroke-width="0.4"/>
<line x1="91.0" y1="554.3" x2="91.0" y2="555.5" stroke="#666" stroke-width="0.4"/>
<line x1="45.3" y1="541.4" x2="46.5" y2="541.4" stroke="#666" stroke-width="0.4"/>
<line x1="98.9" y1="554.3" x2="98.9" y2="555.5" stroke="#666" stroke-width="0.4"/>
<line x1="45.3" y1="549.1" x2="46.5" y2="549.1" stroke="#666" stroke-width="0.4"/>
<line x1="106.8" y1="554.3" x2="106.8" y2="555.5" stroke="#666" stroke-width="0.4"/>
<rect x="136.3" y="489.6" width="66.2" height="64.9" fill="none" stroke="#777" stroke-width="0.6"/>
<line x1="135.1" y1="494.8" x2="136.3" y2="494.8" stroke="#666" stroke-width="0.4"/>
<line x1="141.6" y1="554.5" x2="141.6" y2="555.7" stroke="#666" stroke-width="0.4"/>
<line x1="135.1" y1="502.6" x2="136.3" y2="502.6" stroke="#666" stroke-width="0.4"/>
<line x1="149.5" y1="554.5" x2="149.5" y2="555.7" stroke="#666" stroke-width="0.4"/>
<line x1="135.1" y1="510.4" x2="136.3" y2="510.4" stroke="#666" stroke-width="0.4"/>
<line x1="157.5" y1="554.5" x2="157.5" y2="555.7" stroke="#666" stroke-width="0.4"/>
<line x1="135.1" y1="518.2" x2="136.3" y2="518.2" stroke="#666" stroke-width="0.4"/>
<line x1="165.4" y1="554.5" x2="165.4" y2="555.7" stroke="#666" stroke-width="0.4"/>
<line x1="135.1" y1="525.9" x2="136.3" y2="525.9" stroke="#666" stroke-width="0.4"/>
<line x1="173.4" y1="554.5" x2="173.4" y2="555.7" stroke="#666" stroke-width="0.4"/>
<line x1="135.1" y1="533.7" x2="136.3" y2="533.7" stroke="#666" stroke-width="0.4"/>
<line x1="181.3" y1="554.5" x2="181.3" y2="555.7" stroke="#666" stroke-width="0.4"/>
<line x1="135.1" y1="541.5" x2="136.3" y2="541.5" stroke="#666" stroke-width="0.4"/>
<line x1="189.3" y1="554.5" x2="189.3" y2="555.7" stroke="#666" stroke-width="0.4"/>
<line x1="135.1" y1="549.3" x2="136.3" y2="549.3" stroke="#666" stroke-width="0.4"/>
<line x1="197.2" y1="554.5" x2="197.2" y2="555.7" stroke="#666" stroke-width="0.4"/>
<rect x="226.7" y="489.6" width="65.8" height="64.9" fill="none" stroke="#777" stroke-width="0.6"/>
<line x1="225.5" y1="494.8" x2="226.7" y2="494.8" stroke="#666" stroke-width="0.4"/>
<line x1="232.0" y1="554.5" x2="232.0" y2="555.7" stroke="#666" stroke-width="0.4"/>
<line x1="225.5" y1="502.6" x2="226.7" y2="502.6" stroke="#666" stroke-width="0.4"/>
<line x1="239.9" y1="554.5" x2="239.9" y2="555.7" stroke="#666" stroke-width="0.4"/>
<line x1="225.5" y1="510.4" x2="226.7" y2="510.4" stroke="#666" stroke-width="0.4"/>
<line x1="247.8" y1="554.5" x2="247.8" y2="555.7" stroke="#666" stroke-width="0.4"/>
<line x1="225.5" y1="518.2" x2="226.7" y2="518.2" stroke="#666" stroke-width="0.4"/>
<line x1="255.7" y1="554.5" x2="255.7" y2="555.7" stroke="#666" stroke-width="0.4"/>
<line x1="225.5" y1="525.9" x2="226.7" y2="525.9" stroke="#666" stroke-width="0.4"/>
<line x1="263.5" y1="554.5" x2="263.5" y2="555.7" stroke="#666" stroke-width="0.4"/>
<line x1="225.5" y1="533.7" x2="226.7" y2="533.7" stroke="#666" stroke-width="0.4"/>
<line x1="271.4" y1="554.5" x2="271.4" y2="555.7" stroke="#666" stroke-width="0.4"/>
<line x1="225.5" y1="541.5" x2="226.7" y2="541.5" stroke="#666" stroke-width="0.4"/>
<line x1="279.3" y1="554.5" x2="279.3" y2="555.7" stroke="#666" stroke-width="0.4"/>
<line x1="225.5" y1="549.3" x2="226.7" y2="549.3" stroke="#666" stroke-width="0.4"/>
<line x1="287.2" y1="554.5" x2="287.2" y2="555.7" stroke="#666" stroke-width="0.4"/>
<path d="M170.7 467.5h0m26.3-5.4h0m-48.4 12.8h0m48.3 1.5h0m-38.2 2.3h0m6.7-11.1h0m24.3-1.3h0m-25.1 8.5h0m8.4 3.3h0m-31.3 3.2h0m43.5-16.3h0m-12.9 6.6h0m-12.5 8.3h0m27.5-9.4h0m-29.1 3.3h0m9-11.3h0m-19.2 13h0m16.2 4.9h0m-12-1.9h0m3.5 1.2h0m29.3-4.5h0m-28.2-8.3h0m12.3 10.5h0m29.7-11.2h0m-1.1 12.4h0m-14.2-15.3h0m-11 15.2h0m-15.9-13.2h0m-7 4.2h0m48.6-1.2h0m-27.2 7.5h0m-24-10.2h0m30.4 4.3h0m9.2-7.8h0m-9.8 5.1h0m18.2 3.2h0m-52.6-6.3h0m29.3 10.6h0m-4.1-5.1h0m-23.9 6.9h0m34.8-1.4h0m12.7-4.5h0m-15.6 8.7h0m-20-4.7h0m34.8 3.6h0m-19.8-9.4h0m.1 4.1h0m14.5-7h0m-36.3 16h0m40.3-15h0m-8.2 .2h0m6.2-3.6h0m-35.7 3.7h0m36.6 10.1h0m-36.6-1.3h0m-6.6-11.4h0m46.4 4.9h0m.4 .9h0m.9 4.9h0m-24.3-4.2h0" stroke="#999" stroke-width="0.5" stroke-linecap="square" fill="none"/>
<path d="M245.7 479.8h0m2.2-5.5h0m31 4.3h0m-43.4-6.6h0m30.5 3.9h0m7.7-7.1h0m-32.4 3.7h0m-8-6.2h0m13.2-2.3h0m22.9-1.2h0m-5.7 13.2h0m-24.7-4.9h0m17 8.9h0m14.2-1.3h0m-14.8-9h0m12.6 11.8h0m20-7.7h0m-17 3.5h0m-17.5-7.2h0m-12.3-4.2h0m9.6-.5h0m9.9 .2h0m22.8 8.5h0m-7-9.8h0m-27.4-1.9h0m36.4 16.3h0m-27.2-14.7h0m13.3 7h0m-35.2 .8h0m-.1 2.6h0m5.8-2.3h0m41 8.6h0m-12.3-3.7h0m10.2-3.5h0m-12.3 .8h0m-14.3-2.2h0m6.6 9.2h0m4.6-14.8h0m16.1 9.3h0m-25.4-2.7h0" stroke="#999" stroke-width="0.5" stroke-linecap="square" fill="none"/>
<path d="M145.1 550.8h0m9.1-2.3h0m33.9-2.1h0m-13.2 1.5h0m-29.3 .1h0m20.4-12.4h0m2.7 5h0m-19.1-3.1h0m34.5-1.7h0m-37.3 6.8h0m16.7-5.6h0m7.5 6.6h0m-5.2-.8h0m9.4-10.5h0m9.1 7.4h0m13.1-1.1h0m-40.3 6.9h0m21.8-13.6h0m2.9 1.8h0m-24.2 7.6h0m-17.5-2.4h0m58.3 5.7h0m-40.5-7.3h0m.9-3h0m34.7 16.2h0m-18.4-15.1h0m-6.8-2.2h0m18.1 3h0m-44.6 1.3h0m40.6-2.5h0m-19.9 6.8h0m-17 8.8h0m34.1-17.8h0m16.3 6.3h0m-43.5 5.6h0m25.4 4.8h0m-19.9 2.5h0m26.6-18.8h0m-1.2 8.6h0m-30.2 7.6h0m36.7-18.2h0m-10.3 11.7h0m1.5-9.1h0m8.2 13.1h0m-23.5 3.7h0m19.8-8.8h0m7.2-11.6h0m-46.6 1.2h0m44.9 7.7h0m-27.4 9.5h0m5.2-13.4h0m-20 9.5h0m33.1-5.8h0m-24.4-3.1h0m34.8 9.7h0m-35.8-8.7h0m17.2 1.4h0m-9.7 8.6h0m12.8-5.9h0m-25 6.3h0m-1-5.8h0m34-7.9h0m.3 6.3h0m-11.1 9.4h0m21.3-6.8h0m-43 8.8h0m38.8-21.2h0m-41 7.5h0m47.8 9.4h0m-20.5-1.8h0m-1-2.8h0m21.8 2.3h0m-11 4.7h0m.2-4.3h0m-44.2-3h0m19 .4h0m-17.1 2.3h0m6.5-7.6h0m1.2 7.6h0m38.7-1.2h0m-43.9 3.8h0m10.2-6.7h0m11.8-10h0m21.4 11.2h0m6.9 7.1h0m-15.4-4.8h0m-29.7 .1h0m19.9-5.6h0m9.7-.8h0m-39.3 8h0m37.7-14.1h0m-18.7 17.4h0m13.3 .2h0m4.8 1.9h0m-.1-18.2h0m-8.7-.5h0m1.9 17.2h0m-21.4-10.9h0m17.8-2.9h0m-22.2 2.5h0m21.3 6.1h0m3.4-10.9h0m14.2 7.1h0m-22.8 3.8h0m-22.4 1.4h0m30.5-15.6h0m-19.4 17.5h0m32.2-8.2h0m-21.2 0h0m-.5 2.8h0m31.8-6.2h0m-31 13.3h0m-2.7-14.8h0m0 7.2h0m7.9-8.2h0m-23.2 9.9h0m27.2 6.2h0m22.5-.4h0m-21.5-16.4h0m10.8 10.7h0" stroke="#999" stroke-width="0.5" stroke-linecap="square" fill="none"/>
<path d="M286.6 531.9h0m-25.9 12.3h0m27.9-6.1h0m-53.7 2.9h0m31.5-3.6h0m-13.8 6.5h0m25.5-1.4h0m-37.6 1.1h0m41.8-12.2h0m-19.7 3.6h0m21.5-3.4h0m-25.5 6.8h0m-2.8 2.2h0m21.5-8.1h0m11.7 12.2h0m-36.8-4h0m35.9 .3h0m-2.4 2.1h0m-45 7.5h0m25.8-7.6h0m5.8-10.9h0m14.3 1.1h0m-16.7 12.1h0m-31.9-8.2h0m21.9 9.5h0m-.3-5.4h0m.4-2.8h0m27.5 7.9h0m-36.5-12.3h0m-7.6 2.3h0m17.9 .1h0m7.2 2.7h0m17.8 10.9h0m-21.4-2.1h0m-18.8 .2h0m39.7-4.2h0m-26.3-13.7h0m11 6.1h0m-11.9 4.7h0m-15.6 8.8h0m28.6-11.8h0m4.6 4.1h0m-34.8 6.6h0m16.2-11.2h0m-5.9 9h0m-11.5-3.4h0m3.1-1.5h0m44.5 2.3h0m-4.7-3.2h0m-30.2-8.2h0m21.5 17.2h0m-41.9 1.6h0m52.4-3h0m-22.7-10.5h0m17 6.1h0m-32.6 3.1h0m6-15.6h0m-1.7 16h0m37.4-15.5h0m-32.5 18.8h0m4.2-15.4h0m27.4 15.9h0m-3.2-16.1h0m-30.5 6.7h0m-5.3 6.5h0m30 3.4h0m-42-6.2h0m17.1 2.9h0m29.1-9.8h0m2.5 7.9h0m-41.1-8h0m-9.3 12h0m42.6-3.5h0m-10-8.7h0m-23 9h0m16.1-15.8h0m-26.1 18.9h0m37.7-5.2h0m-10.4-8h0m10.7 7h0" stroke="#999" stroke-width="0.5" stroke-linecap="square" fill="none"/>
<path d="M63.7 458l.3-.1 .5 0 .3-.2 .3-.2 .4-.1 .3-.3 .3-.1 .3-.2 .4-.2 .2-.2 .2-.2 .3-.3 .3-.2 .2-.2 .2-.5 .3-.2 .3-.3 .2-.3 0-.2 .2-.5 .3-.3 0-.2 .2-.5 .2-.3 .1-.3 .2-.4 0-.3 .2-.4 0-.6 .3-.2 0-.5 .1-.3 .2-.4 0-.3 .1-.5 0-.5 0-.5 0-.5-.1-.5 0-.2-.1-.6 0-.4 0-.6-.1-.4 0-.4-.2-.4-.1-.5 0-.3-.2-.4-.1-.3-.2-.5 0-.3-.2-.5 0-.3-.2-.4-.3-.3-.1-.3-.2-.2-.2-.5-.2-.2-.3-.2-.1-.3-.2-.3-.2-.2-.3-.3-.3-.2-.3-.3-.4-.2-.3-.1-.2-.1-.4-.3-.4-.2-.2-.1-.4-.2-.4-.1-.2-.1-.5-.3-.3 0-.4 0-.6-.1-.4 0-.6 0-.3 .1-.4 .2-.3 .1-.4 .2-.3 .2-.3 0-.2 .3-.5 .2-.3 .2-.2 .2-.2 .3-.3 .2-.3 .2-.2 .2-.2 .3-.3 .5-.2 .2-.2 .2-.1 .4-.2 .3-.2 .3-.2 .3-.2 .5 0 .2-.2 .5 0 .3-.2 .5-.1 .3-.2 .3-.2 .4 0 .5-.1 .3-.2 .5 0 .4 0 .6 .1 .4 0 .6 0 .4 .1 .6 0 .4 0 .6 .1 .2 0 .5 .1 .5 .1 .2 0 .5 0 .3 .2 .2 0 .6 .1 .3 .1 .4 .1 .4 .1 .3 .2 .3 .2 .5 0 .1 0 .3 .1 .4 .2 .3 .1 .4 .2 .3 .3 .2 .2 .2 .2 .3 .4 .3 .3 .2 .3 .2 .2 .2 .2 .3 .4 .1 .3 .2 .3 .1 .3 .3 .4 .1 .3 .2 .3 .2 .5 0 .3 .1 .5 .2 .4 0 .6 0 .4 0 .5-.2z" fill="#000" stroke="none"/>
<path d="M63.9 458.5l.3-.1 .6-.1 .2-.2 .3-.1 .4-.2 .3-.3 .2 0 .3-.3 .4-.2 .3-.2 .3-.2 .3-.2 .2-.2 .2-.2 .3-.2 .3-.4 .2-.3 .2-.3 .3-.3 .1-.3 .2-.4 .1-.3 .1-.3 .2-.4 .2-.3 .1-.3 .2-.4 .1-.4 .1-.4 0-.5 .2-.3 .1-.4 .1-.3 .2-.4 .1-.3 0-.6 .1-.4 0-.6 0-.4-.1-.6 0-.4-.1-.4-.1-.4 0-.5-.1-.5 0-.5-.1-.3-.2-.2-.1-.5-.1-.5-.1-.2-.1-.6-.2-.2 0-.5-.2-.3 0-.4-.2-.4-.2-.4 0-.3-.3-.2-.3-.4-.2-.3-.2-.3-.2-.3-.2-.2-.3-.2-.3-.3-.3-.2-.3-.2-.2-.1-.3-.2-.5-.3-.2-.2-.2-.2-.4-.1-.4-.2-.2-.2-.6-.1-.2-.2-.5 0-.3-.1-.4-.1-.6-.1-.3 0-.4 0-.5 0-.2 0-.5 .2-.3 .2-.2 .2-.4 .2-.4 .2-.2 .2-.3 .1-.4 .2-.3 .3-.3 .1-.3 .2-.2 .2-.3 .2-.2 .3-.3 .2-.2 .4-.2 .3-.2 .3-.1 .4-.2 .4-.1 .2-.1 .5-.1 .3-.1 .4-.1 .4-.1 .4-.2 .2-.2 .6-.3 .2-.1 .2-.1 .6-.1 .2-.2 .3 0 .5 0 .4 0 .4 0 .4 .1 .5 0 .5 .1 .5 0 .5 .1 .2 0 .6 .1 .4 0 .6 .1 .4 .2 .3-.1 .5 .1 .4 .1 .4 0 .4 .1 .6 .1 .4 .1 .3 .1 .5 .1 .2 .1 .6 .2 .2 .1 .5 .2 .3 .2 .2 .2 .2 .3 .3 .1 .3 .3 .2 .4 .2 .3 .3 .3 .2 .3 .2 .2 .1 .5 .2 .3 .3 .2 0 .4 .3 .4 .2 .2 .1 .2 .2 .6 .1 .3 .1 .4 .2 .5 0 .5 0 .5 0 .5 0 .4-.2z" fill="none" stroke="#000" stroke-width="0.35"/>
<path d="M63.4 457.5l.6-.1 .5-.2 .5-.2 .5-.3 .5-.3 .5-.3 .3-.3 .4-.5 .3-.3 .3-.5 .4-.5 .2-.5 .3-.5 .2-.5 .3-.5 .2-.5 .1-.5 .2-.8 .2-.4 .1-.8 .2-.5 0-.7 0-.8 0-.7 .1-.5 0-.8-.1-.7 0-.5-.2-.6-.1-.7-.2-.5-.2-.8-.1-.4-.2-.6-.2-.5-.2-.5-.4-.4-.4-.6-.2-.4-.4-.3-.4-.4-.4-.3-.4-.4-.4-.2-.6-.4-.4-.2-.6-.2-.4-.2-.8-.1-.8 .1-.7 0-.5 .2-.5 .1-.5 .3-.5 .2-.5 .3-.5 .3-.5 .4-.3 .2-.5 .4-.2 .5-.3 .4-.3 .5-.3 .5-.2 .5-.2 .5-.2 .7-.2 .6-.1 .4-.3 .6 0 .7-.2 .5 0 .8 0 .7 .1 .6 0 .7 0 .7 0 .7-.1 .6 .2 .4 0 .8 0 .8 .2 .4 .2 .6 .3 .4 .2 .6 .3 .4 .3 .6 .3 .4 .3 .3 .4 .5 .4 .4 .3 .4 .4 .3 .5 .4 .5 .2 .5 .3 .5 .2 .5 .2 .6 .1 .6 .1 .8 0zM63.2 456.2l.6 0 .4-.3 .6-.2 .4-.4 .5-.3 .3-.3 .4-.5 .3-.4 .3-.4 .2-.5 .3-.5 .3-.5 .2-.5 .2-.6 .2-.6 .1-.6 .2-.6 .1-.5 .1-.7 .1-.8 0-.8 0-.4 0-.8 0-.5-.2-.7-.1-.6-.2-.7-.1-.5-.2-.6-.1-.6-.3-.6-.3-.4-.3-.4-.3-.4-.3-.5-.4-.3-.4-.4-.4-.3-.4-.3-.5-.3-.5-.2-.6-.2-.6-.1-.8 .1-.5 .1-.6 .2-.6 .2-.4 .2-.5 .3-.4 .3-.5 .4-.3 .4-.2 .4-.3 .5-.3 .5-.3 .5-.1 .5-.2 .6-.3 .6-.2 .6-.1 .4-.2 .8-.1 .5 0 .7 .1 .8 0 .5 .1 .7 0 .8 .1 .8 0 .6 .2 .6 .1 .8 .1 .4 .3 .6 .3 .4 .2 .6 .3 .4 .3 .4 .3 .4 .4 .5 .3 .3 .5 .4 .4 .3 .5 .3 .4 .2 .7 .2 .5 .1 .8 .1zM62.9 455l.6-.1 .5-.3 .4-.4 .4-.2 .4-.4 .3-.5 .3-.4 .3-.5 .3-.4 .2-.6 .3-.4 .1-.6 .2-.7 .1-.5 .2-.7 .1-.5 0-.8 .1-.8 0-.7 0-.7-.1-.8-.1-.6-.1-.6-.2-.6-.2-.7-.2-.5-.3-.5-.3-.4-.2-.3-.4-.6-.4-.2-.4-.5-.5-.3-.4-.2-.6-.2-.5-.2-.8 0-.5 .2-.5 .2-.5 .3-.5 .3-.4 .4-.3 .5-.3 .4-.2 .4-.4 .5-.2 .4-.2 .7-.2 .6-.2 .5-.1 .5-.2 .7-.1 .6 0 .7 0 .7 .1 .6 0 .7 .2 .7 .1 .6 .2 .7 0 .5 .2 .7 .2 .5 .3 .6 .2 .4 .3 .5 .3 .3 .3 .5 .4 .4 .4 .3 .4 .3 .4 .3 .8 .2 .5 .1zM63 453.5l.4-.3 .4-.2 .4-.5 .3-.4 .3-.3 .3-.6 .2-.4 .3-.6 .2-.4 .1-.8 .2-.5 .1-.7 .1-.6 0-.7 0-.7 .1-.8-.1-.8-.1-.4-.1-.8-.1-.5-.2-.7-.2-.6-.4-.4-.2-.3-.4-.5-.4-.3-.4-.4-.6-.3-.4-.2-.8 .1-.5 .2-.5 .4-.3 .3-.4 .4-.3 .5-.2 .4-.3 .4-.3 .6-.1 .7-.2 .4-.1 .7-.2 .6-.1 .7 0 .8 .1 .8 .1 .7 .1 .5 .2 .8 .1 .4 .1 .8 .2 .5 .3 .5 .2 .5 .3 .5 .3 .4 .3 .4 .4 .4 .6 .3 .4 .1 .8-.1zM62.8 452l.4-.5 .3-.3 .3-.4 .3-.6 .2-.4 .2-.6 .2-.7 .1-.5 .1-.8 0-.7 0-.7 .1-.8-.1-.8-.1-.7-.1-.5-.2-.8-.2-.4-.3-.4-.3-.4-.4-.5-.5-.3-.6 0-.4 .3-.3 .3-.3 .4-.3 .6-.2 .4-.2 .6-.2 .7-.1 .5-.2 .8 0 .4 0 .8 0 .8 0 .4 .2 .8 .1 .5 .1 .7 .2 .6 .2 .4 .3 .6 .3 .4 .4 .5 .3 .3 .7 0zM62.6 450.2l.3-.4 .2-.6 .2-.4 .2-.8 .1-.5 0-.7 0-.8 0-.8-.1-.7-.1-.5-.2-.6-.1-.6-.3-.6-.3-.4-.3 .4-.2 .6-.2 .7-.2 .5-.1 .5-.2 .7 0 .8 0 .8 0 .7 .2 .7 .2 .6 .1 .4 .3 .6 .3 .4z" fill="none" stroke="#fff" stroke-width="0.25"/>
<circle cx="62.5" cy="446.8" r="0.70" fill="#fff"/>
<path d="M63.1 528l.4-.2 .3-.2 .3-.1 .4-.2 .3-.2 .2-.3 .3 0 .2-.3 .3-.4 .2-.3 .2-.3 .2-.3 .1-.2 .3-.3 .2-.4 .2-.2 .3-.3 .3-.3 0-.3 .3-.2 0-.5 .3-.3 0-.4 .1-.5 .1-.3-.1-.5 0-.5 .3-.2 0-.6 0-.4 0-.6 0-.3-.2-.4 .1-.5 0-.5-.3-.3 0-.4-.2-.5 0-.3-.3-.2 0-.6-.3-.2-.1-.4-.3-.2-.1-.4-.3-.2-.2-.3-.3-.3-.1-.3-.2-.2-.2-.3-.3-.3-.4-.1-.2-.2-.4-.2-.3-.3-.2-.2-.3-.1-.5-.2-.3 0-.4-.2-.5 0-.2-.2-.6 0-.4 0-.6 0-.4 0-.3 .2-.5 0-.4 .2-.4 .1-.3 .1-.4 .1-.3 .3-.3 .1-.2 .3-.5 .1-.2 .3-.2 .3-.3 .2-.3 .3-.2 .2-.2 .3 0 .4-.3 .3-.1 .3-.2 .3-.1 .4-.2 .3-.1 .4-.2 .3-.2 .3-.2 .5-.1 .2-.1 .6 0 .2-.3 .2 0 .6 0 .4-.1 .6 0 .4 0 .6 0 .4 .2 .4 .1 .4 0 .5 .1 .3 .2 .4 0 .4 .2 .4 .1 .4 .1 .4 .3 .2 .2 .2 .1 .5 .1 .3 .3 .2 .3 .3 .2 .3 .3 .2 .2 .2 .3 .3 .3 .3 .2 .2 .4 .1 .2 .2 .5 .2 .3 0 .2 .3 .5 .2 .5 0 .4 0 .4 .2 .4-.1 .6 0 .4 .1 .6 0 .4-.2 .6 0 .3 0z" fill="#000" stroke="none"/>
<path d="M62.1 528.5l.4-.1 .5 0 .4-.2 .4 0 .2-.2 .5-.2 .3-.2 .2-.2 .2-.2 .3-.2 .3-.3 .2-.4 .2-.3 .3-.2 .2-.3 .1-.3 .2-.2 .2-.5 .3-.2 .3-.2 .2-.3 .2-.3 .3-.3 .1-.2 .2-.4 0-.4 0-.4 .2-.6-.1-.4 0-.6 .1-.2 .1-.5 0-.5 .1-.5 0-.3 .1-.4-.1-.3 0-.5 0-.5-.1-.5-.1-.5 0-.3-.2-.3-.3-.4-.1-.3-.2-.4-.1-.3-.3-.3-.2-.2-.1-.2-.3-.3-.3-.3-.2-.2-.2-.4-.3-.3-.2-.3-.2-.2-.3-.2-.3-.2-.2-.2-.3-.2-.3-.2-.4-.2-.2-.2-.6-.1-.2-.1-.5-.1-.5-.1-.2-.1-.6 .1-.4 0-.6 0-.4-.1-.3 .1-.5 .2-.5 0-.3 .2-.4 .1-.3 .2-.3 .1-.4 .2-.3 .2-.3 .3-.2 .1-.2 .3-.3 .3-.3 .2-.2 .3-.2 .3-.3 .2-.1 .3-.2 .4-.2 .3 0 .1 0 .2-.2 .5-.3 .2 0 .3-.2 .5-.3 .2 0 .6-.2 .2-.1 .2 0 .6-.2 .2-.1 .5-.1 .5 0 .5-.1 .3 0 .4 0 .6 0 .4 0 .6 .2 .2 .1 .5 0 .4 .2 .3 .1 .5 .1 .3 0 .5 .2 .3 .1 .4 .3 .3 .1 .3 .2 .3 .1 .4 .3 .3 .3 .2 .2 .2 .3 .3 .2 .2 .3 .2 .3 .2 .2 .2 .2 .2 .6 .2 .2 .1 .5 .2 .3 .1 .4 .1 .3 .1 .5 0 .5 .2 .5 0 .5 0 .5 0 .5 0 .3 0 .3 0z" fill="none" stroke="#000" stroke-width="0.35"/>
<path d="M61.6 527.8l.6-.3 .6-.1 .4-.3 .6-.2 .4-.3 .4-.4 .5-.2 .4-.4 .3-.4 .3-.4 .4-.6 .3-.3 .2-.4 .3-.5 .2-.7 .2-.5 .1-.6 .2-.4 0-.8 .2-.6 .1-.6-.1-.6-.1-.7 0-.7-.2-.6-.1-.7-.3-.5 0-.5-.2-.3-.2-.4-.3-.6-.3-.3-.4-.4-.3-.5-.3-.3-.5-.2-.5-.4-.5-.3-.5-.3-.5-.2-.5-.2-.6-.1-.7-.2-.7 0-.7 .2-.6 .1-.4 .2-.6 .2-.4 .3-.6 .3-.4 .4-.4 .3-.4 .4-.3 .3-.3 .5-.4 .5-.2 .5-.3 .4-.3 .5-.2 .4-.2 .7-.3 .5 0 .7-.2 .6 0 .7-.1 .5 0 .8 0 .5 .2 .7 .1 .6 .2 .6 .2 .6 .2 .4 .4 .6 .2 .4 .2 .6 .3 .4 .3 .3 .4 .5 .3 .3 .6 .4 .4 .3 .6 .2 .4 .2 .6 .2 .7 0 .5 .2 .8 0 .7 0zM61.6 526.2l.6-.1 .6-.3 .4-.3 .4-.3 .4-.2 .5-.4 .3-.4 .3-.4 .3-.6 .4-.4 .2-.4 .2-.6 .2-.6 .2-.4 .1-.8 .1-.5 .1-.7-.2-.6 0-.7-.2-.7 0-.6-.3-.5-.2-.7-.2-.5-.3-.3-.3-.4-.4-.5-.3-.4-.5-.3-.5-.3-.4-.3-.3-.3-.7-.2-.6-.1-.5-.2-.6 0-.6 .3-.6 .1-.4 .2-.6 .3-.4 .4-.5 .3-.3 .3-.4 .4-.3 .5-.3 .5-.2 .4-.3 .5-.3 .5-.2 .6-.1 .5-.1 .8-.1 .4 0 .8 0 .8 .1 .4 .1 .8 .2 .5 .2 .5 .2 .6 .3 .4 .2 .5 .3 .5 .4 .5 .3 .3 .4 .4 .4 .3 .5 .3 .5 .2 .7 .2 .5 .2 .8 .1 .7-.2zM61.1 525l.7-.2 .4-.3 .5-.3 .3-.2 .5-.5 .3-.4 .2-.4 .3-.5 .4-.4 .2-.6 .1-.5 .2-.7 .1-.5 .1-.7-.1-.8-.1-.5-.1-.7-.2-.6-.2-.4-.3-.6-.3-.4-.3-.4-.4-.4-.4-.3-.5-.4-.5-.3-.5-.1-.5-.2-.5 .1-.7 .1-.6 .2-.4 .3-.5 .4-.4 .2-.3 .5-.4 .5-.2 .4-.2 .5-.3 .5-.2 .6-.1 .5-.1 .7-.1 .8 .1 .8 .1 .5 .2 .7 .2 .5 .2 .5 .3 .5 .3 .5 .4 .4 .3 .4 .4 .4 .5 .3 .5 .3 .5 .1 .5 .2 .6-.1zM61.2 523.5l.6-.2 .3-.3 .4-.4 .3-.4 .2-.4 .4-.6 .1-.4 .2-.8 .1-.5 .1-.7-.1-.8-.1-.5-.2-.7-.2-.6-.2-.4-.3-.5-.3-.3-.5-.4-.5-.3-.5-.1-.7 0-.5 .2-.5 .4-.3 .2-.4 .5-.3 .5-.2 .5-.3 .5-.1 .5-.2 .7-.1 .6 .1 .6 .1 .6 .2 .7 .1 .5 .3 .6 .3 .4 .3 .4 .4 .4 .4 .2 .6 .3 .6 .2zM61.2 522l.3-.2 .4-.6 .3-.4 .1-.6 .1-.7 .1-.5 0-.5-.2-.7-.1-.6-.2-.4-.4-.6-.4-.3-.4-.2-.6 .2-.4 .3-.3 .6-.2 .4-.2 .6-.1 .4-.2 .8 .2 .8 .1 .4 .1 .6 .3 .4 .3 .6 .4 .2 .8 .1zM60.9 520.2l.2-.4 0-.8 0-.8-.2-.4-.2-.3-.3 .5-.2 .7 0 .4 .1 .7 .2 .4z" fill="none" stroke="#fff" stroke-width="0.25"/>
<circle cx="60.7" cy="519.4" r="0.70" fill="#fff"/>
<path d="M162.8 468.5l.7-.2 .5-.2 .6-.1 .4-.5 .5-.2 .3-.3 .4-.5 0-.3 .3-.4 0-.6 0-.7-.3-.4-.1-.6-.3-.4-.4-.3-.2-.6-.2-.4-.4-.6-.4-.3-.4-.4-.3-.5-.3-.3-.4-.4-.6-.3-.4-.1-.8-.1-.5-.1-.7-.1-.6-.1-.7-.2-.6-.1-.4-.3-.5-.1-.6-.3-.4-.3-.7-.2-.5 0-.6 0-.7 .1-.5 .2-.5 .2-.5 .3-.6 .2-.4 .4-.5 .3-.3 .3-.4 .4-.2 .6-.2 .5 0 .7 .1 .7 .1 .6 .3 .5 .3 .4 .3 .4 .5 .4 .2 .3 .6 .5 .2 .3 .5 .2 .4 .5 .5 .2 .4 .4 .4 .3 .6 .2 .4 .3 .7 .1 .4 .3 .7 .2 .3 .2 .7 .1 .5 .2 .5 0 .5 0 .7 .1 .8 0 .8 0 .7 0zM160.6 467.5l.6-.1 .8-.1 .5-.2 .6-.1 .7-.2 .3-.3 .4-.3 .4-.4 .1-.6 0-.4-.2-.6-.3-.5-.3-.5-.3-.4-.3-.6-.3-.4-.3-.3-.3-.5-.5-.4-.2-.4-.6-.2-.6-.2-.6-.1-.7-.1-.5-.2-.8-.1-.4-.1-.8-.2-.5-.1-.5-.2-.5-.3-.6-.2-.7 0-.5 0-.5 .4-.5 .2-.5 .3-.4 .4-.5 .3-.3 .2-.2 .5-.3 .7 .3 .7 .2 .5 .4 .4 .4 .4 .3 .3 .4 .3 .5 .4 .4 .3 .4 .4 .4 .3 .5 .3 .5 .3 .4 .2 .5 .2 .4 .4 .5 .3 .5 .3 .5 .1 .6 .2 .5 0 .7-.1 .4 .2zM162.2 466l.6-.2 .4-.2 .6-.3 0-.5-.3-.5-.3-.4-.2-.4-.4-.5-.4-.3-.3-.5-.4-.4-.4-.3-.3-.3-.6-.3-.4-.2-.7-.2-.6-.2-.5-.1-.8 0-.7-.1-.6-.1-.7-.2-.4-.1-.8 0-.5 .3-.5 .2-.5 .3-.4 .3-.1 .2 .2 .6 .4 .4 .4 .5 .3 .3 .5 .2 .4 .3 .6 .4 .4 .3 .3 .2 .5 .4 .5 .3 .4 .3 .3 .3 .6 .3 .4 .2 .8 .2 .8-.1 .7 .1 .7 0 .8-.1zM161.9 464.8l.4-.3-.3-.4-.4-.3-.4-.4-.3-.4-.4-.4-.4-.4-.3-.2-.6-.2-.5-.3-.7-.2-.5-.1-.7 0-.8 0-.8-.1-.7 0-.5 .2-.2 .3 .4 .4 .5 .2 .3 .3 .5 .3 .5 .4 .4 .3 .4 .3 .4 .3 .6 .4 .4 .2 .6 .1 .7 .1 .7 0 .8 0 .8-.1zM159.6 463.8l.2-.4-.6-.4-.4-.2-.6-.2-.4-.1-.6 0-.2 .3 .5 .2 .5 .4 .5 .2 .7 .1 .4 .1z" fill="none" stroke="#000" stroke-width="0.45"/>
<path d="M179.9 477.8l.3-.4 .5-.4 .3-.5 0-.5 .2-.8 0-.7-.2-.7 0-.3 .1-.7-.3-.6 0-.7-.3-.5-.3-.2-.2-.7-.2-.5-.2-.6-.3-.5-.2-.5-.3-.3-.3-.5-.3-.5-.2-.5-.5-.4-.3-.5-.3-.3-.4-.5-.3-.3-.3-.4-.2-.6-.4-.4-.3-.4-.4-.4-.4-.4-.4-.3-.3-.3-.5-.3-.5-.3-.5-.2-.8-.2-.7 .1-.5 .2-.4 .5-.4 .3-.2 .7-.2 .4-.1 .6-.1 .7 .1 .7 .2 .6 .1 .5 .2 .6 .3 .6 0 .5 .3 .5 .2 .5 .3 .5 .2 .7 .3 .5 .2 .5 .3 .3 .3 .5 .3 .5 .3 .5 .2 .5 .4 .3 .4 .4 .2 .6 .4 .3 .2 .5 .4 .4 .4 .4 .3 .4 .4 .4 .5 .2 .3 .4 .5 .4 .4 .2 .6 .2 .4 .3 .8-.1 .8 .1zM179.4 476.8l.4-.4 .2-.6 .2-.6 0-.7-.1-.7-.1-.8-.1-.5-.1-.6-.3-.5-.3-.4-.3-.5-.3-.5-.2-.5-.3-.5-.2-.5-.3-.5-.3-.5-.2-.5-.3-.4-.3-.4-.5-.4-.3-.3-.4-.5-.3-.2-.3-.6-.4-.4-.3-.4-.3-.4-.5-.4-.2-.4-.5-.4-.5-.3-.4-.3-.6-.1-.5 .2-.5 .5-.1 .4-.3 .6 0 .7 .2 .5 0 .8 .3 .4 .1 .7 .3 .6 .2 .5 .1 .5 .3 .5 .1 .7 .3 .5 .3 .5 .3 .3 .3 .5 .4 .5 .2 .3 .4 .5 .4 .4 .3 .3 .3 .5 .4 .4 .2 .5 .3 .3 .4 .6 .3 .2 .5 .4 .4 .4 .3 .3 .6 .3 .4 .2 .6 .2 .6 0zM178.8 475.2l0-.7 0-.7-.1-.6-.1-.7-.3-.5-.2-.5-.3-.5-.3-.4-.3-.6-.2-.5-.2-.4-.3-.5-.3-.5-.2-.5-.3-.4-.4-.4-.4-.3-.4-.5-.3-.2-.4-.6-.3-.4-.3-.3-.4-.5-.3-.3-.4-.5-.3-.3-.4-.1-.3 .4 .2 .6 .1 .7 .2 .5 .2 .6 .2 .6 .2 .6 .2 .4 .2 .6 .2 .6 .2 .5 .2 .4 .3 .5 .3 .4 .4 .6 .3 .4 .3 .3 .4 .5 .3 .4 .3 .4 .3 .4 .4 .5 .3 .3 .4 .4 .4 .4 .4 .3 .5 .3z" fill="none" stroke="#000" stroke-width="0.45"/>
<path d="M156.9 458.2l.3-.1 .6 0 .2-.3 .5 0 .3 0 .2-.3 .5-.1 .3-.2 .4-.2 .3-.1 .5 0 .5-.1 .3 0 .4-.2 .3-.2 .4-.2 .3 0 .3-.2 .5-.2 .2-.1 .3-.2 .3-.3 .4-.2 .2-.2 .4-.1 .2-.3 .2-.3 .3-.3 .3-.2 .3-.1 .2-.3 .3-.2 .2-.4 .2-.3 .2-.2 .3-.3 .3-.2 .3-.1 .2-.3 .5-.1 .1 .4 .1 .3 .2 .4 .2 .3 .1 .3 .1 .4 .3 .3 .2 .3 .1 .4 .3 .2 0 .4 .3 .2 .3 .2 .2 .3 .3 .3 .3 .2 .3 .2 .3 .1 .3 .2 .4 .2 .3 .1 .5 .2 .2 .1 .3 .2 .5 .2 .2 .3 .3 0 .5 .1 .5 0 .3 .1 .4 0 .3-.1 .5 0 .5 0 .4-.1 .3-.1 .5-.2 .3-.1 .2-.2 .6-.1 .4-.1 .3-.1 .3-.2 .4-.2 .3-.2 .3-.2 .2-.2 .2-.3 .3-.3 .3-.2 .1-.3 .3-.3 .3-.3 .1-.2 .3-.2 .2-.3 .1-.4 .2-.3 .1-.4 .1-.4 0-.5 .1-.5 .1-.4 .1-.4-.1-.4 0-.6 .2-.4 0-.6 0-.4 0-.6 0-.2 .2-.4 .1-.4-.2-.2 .1-.5 0-.5 0-.5-.1-.5-.1-.3-.2-.5 0-.4-.1-.3-.1-.5-.1-.2-.2-.6-.1-.2-.2-.4-.2-.4-.2-.2-.1-.2-.3-.3-.2-.3-.2-.4-.3-.3-.1-.3-.2-.2-.3-.2-.2-.3-.3-.3-.2-.2-.3-.2-.4-.2-.3-.2-.2-.2-.5-.2-.3 0-.4-.2-.3-.2-.5-.1-.2-.1-.5-.2-.3 0-.5 0-.4-.2-.2 0-.4 .2-.5 0-.5 0-.3 0-.4 .2-.4 .1-.4 .2-.2 .2-.4 .1-.4 .2-.2 .2-.3 .2-.4 .2-.3 .1-.3-.3-.3-.3-.2-.2-.3-.1-.5-.2-.3 0-.4-.2-.5 .1-.5-.2-.5 .2-.5 0-.3 .1-.4 .1-.4 .1-.4 .1-.2 .3-.3 .2-.5 0-.2-.3-.3-.1-.3-.2-.4-.1-.3-.2-.5 0-.4-.2-.4 0-.2 0-.5 0-.5 .1-.5 0-.3-.1-.3 0-.4 .1-.5 0-.5 0-.5 0-.5-.1-.5 .1-.5-.1-.5 .1-.5 .1-.3 .1-.3 .2-.2 .2-.3 .3-.2 .3-.2 .2-.4 .2-.4 .1-.2 .3-.2 .2-.3 .3-.3 .2-.4 .2-.3 .3-.2 .2-.3 .2 0 .3-.3 .3-.2 .2-.2 .5-.3 .3 0 .2-.2 .5-.2 .3-.1 .3-.1 .4-.2 .4 0 .3 0 .6-.1 .4 0 .6-.3 .2 .3 .2 0 .6 0 .4-.1 .6 .2 .4 0 .6 0 .3 .1 .4 .2 .5 .2 .2 .1 .3 .2 .3 .2 .2 .6 .2 .2 .3 .1 .3 .2 .2 .3 .2-.4 .2-.2 .2-.2 .3-.3 .2-.3 .3-.3 .1-.3 .3-.2 .2-.2 .4-.2 .2-.2 .3-.1 .3-.3 .3-.2 .4-.1 .3 0 .6-.1 .4 0 .5 0 .1 .2 .4 .3 .3 .2 .3 .3 .2 .2 .1 .3 .1 .5 .1 .2-.1 .3 .2 .5-.1 .5-.1 .1 0 .4 .1 .5 0 .5 0 .5 .1 .5-.1 .5 0 .5 .1 .5 0 .4-.2z" fill="#000" stroke="none"/>
<path d="M178.2 458.8l.3-.2 .5-.1 .5 0 .4 0 .3-.2 .3-.1 .5-.2 .2-.1 .5-.1 .3-.2 .5-.1 .3-.2 .2-.1 .5-.2 .3-.2 .2-.2 .2-.3 .3-.2 .3-.3 .2-.2 .2-.3 .2-.3 .3-.2 .2-.3 .2-.3 .2-.2 .2-.3 .2-.5 .1-.2 .1-.5 .1-.3 .1-.4 .1-.6 0-.4 .1-.3 0-.5 0-.5 .2-.5 0-.5 0-.5 0-.5 0-.3 .3-.4 0-.3 0-.5-.1-.2 0-.6 0-.4 0-.6-.1-.4-.1-.3-.1-.5 0-.5-.2-.3-.1-.4-.1-.3-.2-.5-.1-.2-.2-.4-.3-.3-.2-.3-.1-.3-.2-.3-.3-.2-.2-.3-.2-.3-.2-.4-.3-.2-.3-.3-.2-.2-.2-.3-.3-.2-.3-.2-.2-.3-.3-.1-.3-.2-.4-.2-.2-.1-.6-.1-.2-.1-.2 0-.3-.2-.5 0-.2-.3-.3 0-.5-.1-.5 0-.3-.2-.4 0-.3 .1-.5 0-.5 0-.5 .1-.2 .2-.6 .1-.2 .1-.4 .2-.4 .1-.2 .2-.4 .2-.4 .2-.4 0-.3-.3-.3-.2-.3-.2-.4-.1-.5-.2-.2 0-.3 0-.5 .1-.2-.1-.5 0-.3 .2-.5 0-.5 .1-.2 .1-.6 0-.4 .1-.3 .2-.3 .1-.2-.2-.2-.2-.3-.1-.5-.2-.2-.2-.6 0-.3-.1-.4-.1-.5 .1-.2 0-.6 .1-.4 0-.5-.1-.3-.1-.2 .1-.6 .2-.4 0-.6 0-.4-.1-.6-.1-.4 .1-.4-.1-.4 0-.2 .1-.6 0-.3 .1-.4 .3-.3 .2-.2 .3-.2 .2-.3 .2-.3 .3-.2 .1-.2 .2-.3 .3-.3 .3-.2 .2-.5 .2-.2 .2-.3 .3-.2 .2-.3 .3-.1 .2-.3 .3-.2 .3-.2 .2-.2 .4-.1 .4-.2 .4-.1 .3-.1 .4 0 .3-.2 .6 0 .4 0 .6-.1 .2 0 .5-.2 .3-.1 .4 .2 .3 0 .5-.1 .5 0 .5 .1 .5 0 .5 .2 .5 0 .3 .2 .4 .1 .3 .1 .3 .3 .3 .3 .3 .2 .1 .4 .3 .2 .2-.1 .4-.3 .2-.2 .3-.4 .1-.2 .2-.2 .3-.2 .3-.2 .4-.2 .3-.3 .3-.1 .3-.1 .4-.2 .3-.1 .4-.1 .3-.1 .5-.1 .5 0 .5 .3 .4 .2 .3 .2 .3 .3 .2 .3 .2 .2 .2 .5 .2 .3 0 .4 0 .6 0 .2-.1 .5-.2 .5 .2 .5-.1 .5 0 .5 .1 .5-.2 .5 .1 .5 .1 .4 .1 .4 0 .2-.1 .5-.2 .3 0 .4-.3 .3-.1 .4-.1 .3-.2 .3-.1 .5-.2 .2 0 .3-.3 .5 0 .2-.2 .3 0 .3 0 .4-.1 .4-.1 .4-.1 .5-.2 .3-.1 .4-.2 .3 0 .3-.2 .2-.2 .5-.3 .2-.3 .3-.2 .2-.2 .2-.3 .3-.3 .2-.2 .3-.1 .3-.3 .3-.2 .1-.4 .2-.2 .3-.3 .2-.3 .3-.2 .3-.1 .3-.2 .2 .3 .1 .2 .2 .5 .1 .3 .1 .5 .2 .3 .1 .2 .2 .5 .2 .3 .1 .2 .2 .3 .3 .3 .3 .2 .3 .2 .3 .2 .4 .3 .2 .2 .4 .1 .4 .2 .2 0 .2 0 .3 .2 .3 0 .4 .3 .2 .3 .4 0 .2 .2 .4 .2 .4 .1 .4 .1 .3 .1 .4 .3 .3 0z" fill="none" stroke="#000" stroke-width="0.35"/>
<path d="M174,446 L178.5,444.5 L177.5,453.5 L173.5,452.5 Z" fill="#fff"/>
<path d="M161.7 449l.5-.1 .6-.1 .7-.3 .4-.3 .4-.2 .5-.4 .3-.4 .4-.4 .3-.3 .4-.5 .3-.3 .3-.5 .2-.7 .1-.5-.1-.8-.2-.4-.1-.6-.3-.4-.4-.5-.3-.3-.4-.5-.3-.3-.5-.4-.5-.2-.5-.2-.7-.1-.6-.1-.7-.1-.7-.1-.7 0-.6-.1-.7 0-.8-.1-.8 .1-.5 .1-.7 .2-.5 .2-.5 .2-.5 .2-.5 .4-.2 .4-.4 .4-.4 .5-.2 .5-.2 .5-.1 .5-.1 .8 .1 .7 .1 .5 .2 .5 .3 .5 .4 .4 .3 .4 .4 .4 .3 .4 .5 .4 .3 .2 .5 .3 .4 .3 .7 .2 .6 .1 .7 .1 .8 0 .8 0 .7 0 .7 0zM161.4 447.8l.6-.2 .5-.1 .6-.3 .5-.2 .4-.3 .4-.5 .4-.3 .3-.4 .2-.5 .3-.5 0-.7-.1-.7-.2-.6-.3-.3-.5-.4-.3-.3-.4-.3-.6-.2-.7-.2-.6 0-.7-.2-.7 0-.7 0-.8 0-.8-.1-.7 .1-.7 .1-.6 .1-.4 .2-.6 .3-.4 .5-.3 .3-.3 .4-.3 .5-.2 .5 0 .7 .1 .6 .2 .4 .4 .6 .4 .3 .3 .4 .4 .4 .5 .3 .4 .3 .6 .2 .5 .1 .7 .1 .8 0 .8 0 .7 0 .7-.1zM160.3 446.5l.7-.1 .5-.2 .6-.2 .6-.2 .4-.3 .4-.4 .4-.3 .2-.6-.1-.7-.2-.4-.5-.3-.3-.3-.6-.3-.6-.1-.6-.1-.7-.1-.7 0-.8 0-.8 0-.4 .1-.8 .2-.5 .2-.5 .3-.3 .3-.5 .4-.1 .6 .1 .8 .3 .2 .4 .5 .3 .3 .6 .3 .4 .2 .6 .2 .7 .2 .7-.1 .8-.1zM159.9 445l.6-.1 .5-.2 .5-.2 .5-.3 .2-.2-.4-.4-.6-.2-.4-.2-.8 0-.8-.1-.7 .1-.5 .1-.6 .2-.5 .3-.1 .3 .3 .4 .4 .3 .6 .2 .7 .1 .7 0z" fill="none" stroke="#fff" stroke-width="0.3"/>
<path d="M251.8 456.2l.7-.1 .5-.3 .4-.3 .4-.4 .2-.5 .3-.4 .3-.4 .3-.6 .3-.4 .1-.6 .2-.6 .2-.6 0-.8 0-.7 0-.7-.3-.6 0-.7-.3-.5 0-.8-.2-.4-.2-.6-.2-.6-.1-.6-.3-.5-.3-.5-.3-.5-.3-.3-.2-.5-.5-.5-.2-.4-.3-.4-.4-.4-.4-.4-.3-.4-.4-.3-.5-.4-.2 0-.6-.2-.4-.2-.6-.2-.4-.3-.6-.1-.7-.1-.7 .1-.6 0-.4 .5-.6 .1-.4 .3-.3 .5-.3 .3-.2 .6 0 .4-.2 .6-.1 .4 0 .8-.2 .5-.1 .7 0 .8 0 .8 .1 .6 .1 .6 0 .8 .2 .4-.1 .6 .2 .4 .1 .7 .2 .6 .3 .5 .3 .2 .3 .6 .4 .4 .3 .4 .4 .4 .3 .3 .3 .5 .3 .4 .2 .6 .4 .4 .3 .4 .3 .4 .4 .5 .3 .3 .8 .2 .4 .1 .6 .2 .2-.1 .8 .1 .7 0zM251.7 455.2l.5-.1 .6-.3 .2-.3 .3-.5 .3-.5 .4-.5 .2-.5 .2-.5 .1-.6 .2-.6 0-.8-.1-.8-.3-.4 0-.8-.2-.5-.1-.7-.2-.6-.2-.4-.1-.6-.3-.4-.2-.6-.3-.4-.3-.6-.3-.4-.2-.6-.3-.4-.3-.6-.3-.4-.3-.3-.5-.4-.3-.3-.4-.3-.5-.3-.6-.2-.4-.2-.6-.3-.6-.2-.8 .1-.5 .1-.5 .3-.5 .4-.3 .4-.2 .5-.2 .7-.1 .4-.1 .8-.1 .8-.1 .4 0 .8 0 .8 .2 .4 0 .8 .1 .8 0 .7 0 .7 .2 .6 .2 .4 .2 .6 .5 .4 .3 .3 .4 .4 .5 .3 .2 .4 .4 .4 .2 .5 .4 .5 .2 .5 .3 .5 .3 .4 .2 .4 .6 .2 .6 .2 .6 .2 .8 0 .7 0zM251.8 454.2l.4-.2 .4-.5 .4-.5 .2-.5 .2-.5 .1-.6 .2-.6-.1-.8-.1-.5-.3-.6 0-.7-.2-.5-.1-.7-.2-.5-.2-.5-.3-.5-.2-.5-.3-.5-.2-.5-.3-.5-.3-.5-.3-.5-.3-.5-.3-.4-.3-.4-.5-.4-.2-.3-.5-.3-.5-.3-.5-.3-.5-.3-.8 .1-.4 .3-.4 .3-.4 .5-.2 .5-.1 .5-.1 .7-.1 .8-.1 .5 .1 .7 .1 .6 .1 .7 0 .7 .1 .6 .1 .7 .1 .5 .2 .8 .2 .4 .4 .4 .3 .4 .4 .4 .4 .4 .3 .4 .3 .5 .3 .4 .2 .4 .4 .5 .3 .5 .3 .3 .5 .3 .5 .2 .8 .1 .7 0zM251.6 453.2l.4-.3 .2-.4 .3-.7 .1-.6 .1-.7-.1-.7-.2-.6-.2-.6-.1-.6-.1-.5-.2-.7-.3-.5-.2-.5-.3-.6-.2-.4-.3-.4-.3-.4-.3-.5-.4-.5-.3-.3-.4-.5-.3-.3-.3-.4-.4-.4-.5-.3-.5-.3-.6 .4-.2 .3-.2 .8-.1 .5-.1 .7 0 .8 .2 .5 .1 .7 .1 .8 0 .5 .1 .7 .2 .6 .2 .7 .2 .5 .3 .4 .3 .4 .4 .4 .3 .4 .3 .4 .3 .5 .4 .5 .2 .4 .3 .4 .5 .3 .5 .3 .7 .1zM251.2 452.2l.2-.4 .1-.6 .2-.7-.1-.7-.2-.6-.2-.5-.1-.7-.2-.5-.2-.5-.2-.6-.3-.5-.2-.5-.2-.4-.5-.5-.3-.4-.3-.3-.5-.5-.2-.3-.4-.5-.4-.4-.1 .7-.1 .6-.1 .6 .2 .5 .1 .7 0 .8 .1 .5 .1 .7 .1 .6 .2 .7 .3 .4 .2 .4 .4 .5 .4 .4 .2 .5 .3 .3 .4 .5 .3 .5 .4 .2 .6 0zM250.4 450.2l-.2-.6-.1-.6-.1-.6-.2-.6-.2-.6-.1-.4-.3-.6-.2-.4-.4-.6-.4-.3 0 .6 .1 .5 .1 .8 .2 .4 .2 .7 .2 .6 .2 .4 .3 .4 .3 .5 .3 .4z" fill="none" stroke="#000" stroke-width="0.45"/>
<path d="M256.1 477.8l.5-.3 .4-.4 .5-.3 .3-.3 .4-.4 .3-.5 .3-.4 .2-.7 .2-.5 .2-.5 .3-.5 .1-.6 .2-.6 .3-.3 .2-.6 0-.4-.1-.7 .2-.6 0-.7 .2-.5 .1-.8 0-.7 .2-.5 0-.8 0-.7 0-.7 0-.8 0-.8-.2-.4 .1-.8 0-.6 0-.4-.3-.5-.1-.7-.3-.6-.3-.4-.2-.5-.3-.4-.3-.4-.3-.5-.4-.3-.3-.5-.4-.3-.6-.3-.7-.1-.7 .2-.6 .2-.4 .3-.3 .3-.5 .5-.2 .5-.3 .3-.3 .4-.2 .6-.3 .4-.2 .7-.1 .6-.3 .5-.3 .5 0 .5-.3 .8 0 .5-.2 .7-.1 .6-.1 .6 0 .8 0 .8-.2 .4 0 .8 0 .8-.1 .7 0 .7-.1 .6 .1 .6 0 .6-.1 .5 0 .7 .1 .6 0 .7 .2 .5 .3 .5 .2 .6 .3 .4 .2 .5 .4 .5 .4 .4 .2 .4 .5 .2 .5 .3 .8 .1 .7-.1 .6 0z" fill="#666"/>
<path d="M256.1 477.8l.5-.3 .4-.4 .5-.3 .3-.3 .4-.4 .3-.5 .3-.4 .2-.7 .2-.5 .2-.5 .3-.5 .1-.6 .2-.6 .3-.3 .2-.6 0-.4-.1-.7 .2-.6 0-.7 .2-.5 .1-.8 0-.7 .2-.5 0-.8 0-.7 0-.7 0-.8 0-.8-.2-.4 .1-.8 0-.6 0-.4-.3-.5-.1-.7-.3-.6-.3-.4-.2-.5-.3-.4-.3-.4-.3-.5-.4-.3-.3-.5-.4-.3-.6-.3-.7-.1-.7 .2-.6 .2-.4 .3-.3 .3-.5 .5-.2 .5-.3 .3-.3 .4-.2 .6-.3 .4-.2 .7-.1 .6-.3 .5-.3 .5 0 .5-.3 .8 0 .5-.2 .7-.1 .6-.1 .6 0 .8 0 .8-.2 .4 0 .8 0 .8-.1 .7 0 .7-.1 .6 .1 .6 0 .6-.1 .5 0 .7 .1 .6 0 .7 .2 .5 .3 .5 .2 .6 .3 .4 .2 .5 .4 .5 .4 .4 .2 .4 .5 .2 .5 .3 .8 .1 .7-.1 .6 0zM254.7 477.2l.5 0 .7-.2 .5-.2 .4-.3 .4-.3 .5-.4 .3-.5 .3-.3 .2-.6 .2-.6 .2-.6 .1-.4 .2-.8 .1-.5 .2-.5 .2-.8-.1-.7 .2-.5 .1-.8 .3-.4 .1-.6 .1-.7 .1-.6 .1-.7-.1-.7 0-.5-.1-.8 .1-.7-.1-.7 0-.8 0-.8-.3-.4-.1-.6-.4-.4-.3-.6-.2-.4-.3-.5-.3-.3-.3-.5-.4-.5-.3-.3-.5-.3-.8 0-.4 .3-.5 .3-.3 .3-.4 .5-.4 .4-.2 .4-.2 .5-.3 .4-.3 .7-.2 .6-.2 .4-.3 .5-.1 .5-.3 .6 0 .7-.2 .5 0 .8-.2 .4 .1 .6 0 .7-.1 .5-.2 .7 0 .5-.1 .8 0 .8-.1 .7 .2 .7-.1 .8-.1 .8-.1 .2 .2 .8 .1 .5 .2 .7 .2 .5 .3 .5 .3 .5 .2 .5 .3 .4 .4 .4 .4 .2 .7 .2zM255 476.5l.8-.2 .4-.3 .4-.2 .4-.4 .3-.4 .3-.5 .2-.5 .2-.7 0-.5 .1-.8 .1-.8 .1-.4 .2-.7 .1-.6 .2-.5 .2-.7 .2-.5 .3-.5 .1-.5 .1-.8 .2-.5-.1-.7 0-.8-.1-.5 .1-.6-.1-.4-.1-.7 0-.8-.1-.5-.3-.5-.2-.6-.2-.4-.3-.5-.3-.5-.2-.5-.3-.5-.4-.5-.3-.3-.6 0-.4 .3-.5 .5-.3 .3-.3 .5-.3 .4-.3 .6-.2 .4-.2 .6-.2 .4-.2 .6-.3 .5-.2 .7 0 .5-.2 .7 0 .6-.3 .7 0 .7 0 .8-.2 .5 0 .7-.1 .6 0 .7 0 .7 .1 .6 .1 .7-.2 .7 0 .4 .1 .6-.1 .6 .2 .4 .1 .6 .3 .6 .2 .5 .2 .4 .4 .5 .4 .3 .5 .3 .5 .1zM255.4 475.8l.4-.3 .4-.4 .3-.3 .4-.6 .1-.4 .2-.8-.1-.8 0-.7 0-.7 .2-.6 .2-.4 .3-.8 .2-.4 .2-.5 .3-.4 .3-.6 .1-.6 0-.7 .2-.6-.1-.7 0-.5 0-.7 0-.5-.1-.6-.1-.7 0-.6-.3-.5-.3-.6-.2-.5-.2-.5-.2-.6-.3-.4-.3-.5-.2-.3-.4 .2-.4 .5-.3 .3-.3 .5-.3 .5-.2 .5-.2 .5-.3 .5-.2 .5-.2 .6-.2 .6-.1 .6-.2 .7 0 .5-.2 .8 0 .7 0 .7-.2 .6 0 .7 0 .7 0 .8 .2 .5 .2 .7-.2 .8 .1 .8-.2 .5 0 .5 .2 .7 .1 .5 .3 .5 .3 .5 .4 .4 .4 .4 .5 0zM255.3 475l.5-.4 .2-.5 .2-.6 .1-.5 0-.8-.1-.4 0-.8 .1-.5 .2-.6 .3-.6 .2-.5 .2-.4 .3-.5 .3-.4 .2-.7 .1-.6 0-.7 .2-.5-.1-.5 0-.7 0-.6 0-.4-.1-.8-.1-.7-.2-.5-.2-.6-.2-.4-.2-.6-.3-.4-.4-.4-.3 .4-.3 .4-.3 .6-.2 .4-.2 .6-.3 .4-.2 .6-.2 .7-.1 .5-.2 .5-.1 .7-.1 .8 .1 .8 0 .7-.2 .5 .1 .8 0 .4 .2 .8 .3 .5 .1 .5-.1 .8 0 .2 0 .5-.2 .7-.1 .7 .1 .3 .2 .8 .2 .5 .3 .4 .3 .1zM255.8 469.8l.2-.6 .2-.6 .3-.4 .3-.5 .2-.5 .2-.7 0-.5 .2-.8 0-.7 .1-.7 0-.8-.2-.8-.1-.5-.1-.7-.2-.5-.2-.5-.2-.2-.3 .4-.2 .6-.3 .4-.2 .6-.3 .7 0 .5-.2 .5-.1 .7-.1 .8 0 .8 0 .7 0 .7 .1 .8 .1 .5 .2 .5 .3 .5 .3 .3zM255.5 473l0-.8-.1 .3 .1 .6zM255.8 468l.2-.5 .3-.5 .1-.8 .1-.6 .1-.6 .1-.8 0-.7-.1-.7-.1-.7-.3-.1-.2 .5-.1 .7-.2 .6-.1 .7-.1 .7 .1 .8 0 .8 0 .7 .2 .5z" fill="none" stroke="#000" stroke-width="0.35"/>
<path d="M265.5 481.2l.5-.2 .3 0 .5-.2 .3 0 .4-.2 .3-.2 .2-.2 .5-.2 .2-.2 .3-.1 .2-.2 .3-.3 .3-.3 .2-.3 .2-.3 .3-.3 .2-.2 .1-.5 .1-.3 .2-.2 .2-.3 .2-.5 .2-.2 .1-.3 .2-.3 .2-.3 .3-.4 .2-.3 .3-.2 0-.2 .2-.5 .1-.3 .3-.2 0-.6 .3-.2 0-.5 .1-.4 .1-.3 0-.6 .2-.2 0-.5 0-.5-.1-.2 .2-.3 .1-.5 0-.5 0-.3 .1-.4 0-.6 0-.4 .1-.6 0-.4 0-.6 0-.4-.3-.3 0-.5 0-.5-.2-.4-.1-.3-.1-.4-.1-.4 .1-.4 .1-.4 .2-.2 0-.5 .2-.3 .3-.4 0-.1-.2-.5 .1-.4 .2-.3-.1-.5 .2-.3 .2-.5 0-.4 .3-.3 0-.3 0-.4 0-.6 0-.4 .3-.3-.1-.3 .1-.3 0-.4 0-.5 0-.5 0-.5 0-.5-.2-.3 0-.4 0-.6 0-.4-.1-.4-.1-.4 0-.5-.2-.4-.1-.3 0-.6-.2-.2 0-.5-.1-.3-.2-.4-.3-.3 0-.5-.3-.2-.1-.3-.2-.3-.2-.2-.3-.5-.2-.2-.1-.3-.2-.2-.2-.3-.3-.5-.2-.2-.2-.3-.2-.3-.2-.2-.4-.2-.2-.3-.3-.3-.3 0-.2-.2-.5 0-.3-.3-.4 0-.6 0-.2-.2-.2 .2-.6 0-.4 0-.3 .2-.5 0-.2 .3-.4 0-.2 .3-.4 .2-.3 .2-.3 .2-.2 .3-.2 .2-.3 .2-.2 .4-.2 .3-.3 .3 0 .2-.3 .3-.3 .2-.2 .3-.2 .3-.3 .4-.2 .3-.1 .2-.2 .4-.1 .4-.2 .2 0 .5 .1 .3-.1 .2 0 .5 .1 .3 0 .2-.2 .5 0 .5-.1 .4-.1 .4 0 .4 .1 .6 0 .4-.3 .3 0 .5 0 .5 0 .5 0 .5 0 .5 0 .5 .3 .3 0 .4 0 .6 0 .4 0 .3 .2 .5 .1 .2 .1 .6 .2 .2 0 .5-.1 .3-.2 .3-.3 .3-.1 .4-.3 .2-.3 .2-.2 .3-.2 .3-.4 .2 0 .2-.3 .3-.2 .4-.1 .3-.3 .3-.1 .3-.2 .4 0 .4-.2 .4-.3 .2 0 .6-.3 .2 0 .5 0 .3-.3 .2 0 .5-.2 .3-.1 .4 0 .6 0 .4-.2 .3 .1 .3 0 .4 0 .6 .1 .4 0 .6 0 .4 0 .6 0 .4 .1 .6 0 .4 .2 .3 .1 .3 0 .4 .1 .6 .2 .2 0 .5 .2 .3 .1 .4 .1 .3 .1 .5 .2 .2 .2 .5 0 .1 0 .2 .2 .5 .2 .3 .1 .3 .3 .2 .2 .3 .2 .3 .2 .3 .2 .3 .4 .1 .2 .2 .3 .3 .3 .2 .4 .2 .3 .1 .3 .2 .4 .2 .3 .1 .4 .1 .3 .1 .6 0 .4 0 .6 0 .4 0 .3-.1z" fill="#000" stroke="none"/>
<path d="M263.2 481.8l.3-.1 .5 0 .5-.1 .5 0 .5 0 .3-.2 .4-.1 .3-.1 .5 0 .5-.2 .3 0 .4-.2 .3-.1 .3-.2 .4-.3 .3-.1 .3-.3 .2-.3 .2-.3 .1-.2 .2-.3 .3-.4 .1-.3 .1-.2 0-.3 .2-.3 .2-.2 .2-.2 .2-.4 .2-.3 .1-.3 .3-.3 .1-.3 .2-.4 .3-.3 0-.3 .3-.2 .2-.4 .2-.4 .2-.2 .1-.2 .2-.5 .1-.3 0-.5 .2-.3 0-.4 0-.3 .1-.3 0-.4 0-.6-.1-.4 .2-.6 0-.4 .1-.3 0-.5 .1-.5 .1-.3 .1-.4 .1-.6 0-.4 .1-.3 0-.5-.1-.4-.2-.4-.1-.2 0-.5-.1-.5-.2-.2-.1-.6-.2-.2 .2-.3 .2-.5 0-.4 .2-.3 .1-.4 .1-.3-.1-.6 0-.2 .2-.2 0-.3 0-.3 0-.2 .4-.2 0-.6 .1-.4 .1-.3 0-.5 0-.5 0-.5 .2-.4 0-.4 0-.4 .1-.6 0-.4 .1-.6 0-.4 0-.6-.2-.2 0-.2 0-.6 0-.4 0-.5-.2-.3 0-.5 0-.5-.1-.2-.1-.6-.1-.3-.2-.4-.1-.4-.2-.3-.2-.3-.2-.3-.1-.4-.2-.3-.3-.2 0-.3-.3-.2-.2-.5-.3-.3 0-.2-.2-.3-.3-.3-.2-.4-.3-.3-.2-.2-.2-.3-.3-.2-.2-.3-.3-.1-.2-.3-.3-.2-.3-.1-.4-.2-.3-.1-.5-.1-.5 0-.3-.2-.4 0-.3 .2-.5-.1-.5 .1-.3 .2-.4 0-.3 .2-.4 .2-.3 .2-.3 .1-.3 .3-.2 .2-.2 .2-.3 .2-.3 .3-.3 .3-.1 .3-.3 .3-.2 .4-.3 .2-.2 .2-.2 .3-.2 .3-.2 .2-.2 .3-.2 .4-.2 .3-.1 .3-.2 .5-.1 .2 0 .5-.1 .5 .1 .5-.1 .5 0 .5 .1 .5-.2 .5 .1 .5 0 .5 0 .5-.1 .2-.1 .6 0 .4 0 .6 .1 .4 0 .6 0 .4 0 .4 .2 .4 0 .5 0 .5 0 .5 .1 .3 .2 .4 0 .3 .3 .5 0 .2 0 .3-.3 .3-.3 .3-.1 .4-.3 .3-.3 .2-.2 .2-.1 .3-.4 .3-.2 .2-.3 .2-.1 .3-.3 .3-.1 .2-.3 .4-.2 .4-.1 .2-.2 .5-.1 .3-.1 .2-.2 .5-.1 .3-.1 .4-.2 .3-.1 .5-.1 .5-.1 .3-.1 .4 .1 .6-.1 .3-.1 .4 0 .5 .1 .4 0 .4 .1 .4 0 .6 .1 .4 0 .6 0 .2 .1 .5 0 .5 .1 .4 .3 .4 0 .4 0 .3 .3 .5 0 .2 .2 .5 0 .3 .2 .5 .1 .3 .2 .4 0 .3 .2 .5 .1 .2 .1 .6 .2 .2 .1 .4 .3 .3 .3 .3 .1 .2 .1 .3 .2 .3 .3 .2 .5 .2 .2 .2 .3 .2 .3 .2 .4 .1 .3 .2 .3 .1 .4 .3 .3 0 .5 .3 .2 0z" fill="none" stroke="#000" stroke-width="0.35"/>
<ellipse cx="267.3" cy="451.8" rx="1.5" ry="1.7" fill="#fff"/>
<path d="M263.8 477l.7-.1 .5-.2 .5-.5 .3-.2 .4-.3 .4-.5 .4-.4 .2-.6 .2-.4 .1-.8 .2-.5 .1-.6 .1-.7 .2-.4 0-.8 .2-.5 0-.7 .2-.7 .1-.6-.1-.7 0-.6-.1-.7-.1-.7 0-.8 .2-.6 0-.5 0-.7 .1-.4-.2-.6-.2-.5-.4-.4-.3-.5-.4-.3-.5-.3-.6 0-.6 0-.4 .3-.5 .5-.3 .2-.2 .6-.5 .4-.3 .4-.2 .5-.2 .7-.4 .2-.3 .5-.1 .5 0 .7 0 .3-.2 .8-.2 .4 0 .8 0 .8-.2 .4 0 .8 .1 .8 0 .7-.1 .7 0 .8-.1 .8 .2 .4 0 .6 0 .7 .1 .5 .2 .6 .2 .6 .3 .3 .5 .4 .4 .1 .6 0zM264.1 476l.5-.2 .4-.4 .4-.4 .4-.4 .2-.4 .3-.4 .1-.8 .2-.5 .2-.5 .1-.8 .1-.7 .1-.5 .1-.8 0-.7 0-.7 .1-.6 0-.7-.1-.6 0-.7 0-.7 0-.7-.1-.8 .1-.8-.1-.7-.3-.5-.3-.5-.5-.2-.5 .4-.3 .3-.2 .5-.5 .5-.3 .4-.2 .4-.2 .5-.3 .5-.3 .6 0 .6-.1 .8 0 .7-.1 .5 0 .5 0 .5-.2 .5-.1 .7 0 .8-.1 .8-.1 .6-.1 .6 0 .8 0 .7 .1 .7 .1 .6 .2 .4 .3 .6 .7 .2 .3 0zM264.3 474.5l.4-.5 .3-.4 .2-.4 .2-.7 .2-.5 .1-.8 .1-.4 .1-.8-.1-.8 .1-.7-.1-.7 .2-.6 .1-.7 0-.7 0-.8 0-.8-.1-.5-.2-.7-.2-.2-.3 .4-.2 .6-.3 .4-.1 .6-.2 .7-.1 .5 0 .8-.1 .7-.1 .7-.2 .6-.1 .4-.1 .8-.1 .5-.1 .7-.1 .6-.1 .7 .1 .5 .1 .8 .2 .4 .4 .4z" fill="none" stroke="#fff" stroke-width="0.3"/>
<path d="M177.5 533.2l.5-.2 .8-.1 .7-.1 .4-.3 .6-.2 .4-.3 .6-.2 .5-.3 .4-.3 .4-.2 .5-.2 .5-.3 .4-.3 .5-.4 .1-.6-.2-.4-.2-.6-.4-.4-.5-.3-.5-.2-.3-.3-.7-.2-.5-.3-.5-.2-.5-.3-.4-.2-.6-.3-.5-.2-.5-.2-.6-.1-.7-.1-.5-.1-.7-.1-.5-.2-.7 0-.8-.2-.8 0-.4-.2-.8 0-.5-.2-.7 0-.8-.1-.5-.3-.7 0-.6-.1-.7 0-.5-.3-.8-.1-.7 0-.5 0-.8-.1-.7 0-.7 0-.8 0-.5 .1-.7 .2-.6 .1-.7 .2-.5 .1-.8 .1-.7 0-.7 0-.6 .2-.7-.1-.7 0-.6 .3-.7 0-.5 .2-.7-.1-.3 .3-.6 0-.5 .3-.6 .2-.5 .2-.3 .3-.5 .5 0 .8 .2 .7 .3 .4 .3 .4 .4 .3 .6 .3 .4 .3 .6 .1 .7 .2 .5 .2 .5 .2 .5 .2 .7 .1 .5 .1 .6 .3 .6 .2 .6 0 .5 .3 .7-.1 .6 .3 .4-.1 .6 .1 .7 .1 .5 .1 .8 .2 .7 .1 .5 .1 .8 0 .7 .1 .5 .2 .8 0 .7 0 .5 .2 .8 0 .7 0 .7 0 .8 .1 .5 0 .7 .1 .7 .2 .6 .1 .5 .2 .8 .1 .4 .1 .8 0 .8 0 .7 0 .7 0zM174.9 532l.6-.1 .7-.1 .8 0 .4-.3 .6 0 .5 0 .6 0 .4-.3 .7-.2 .4-.2 .6-.3 .6-.2 .4-.2 .6-.3 .4-.2 .3-.4-.3-.4-.3-.3-.4-.3-.5-.3-.5-.1-.5-.3-.5-.3-.5-.2-.5-.3-.5-.2-.6-.3-.6-.1-.6-.2-.7-.1-.5-.3-.5 0-.5-.3-.8 0-.7-.1-.7-.1-.6 0-.4 0-.6-.1-.7-.1-.7 0-.6-.2-.4-.1-.8 0-.8 0-.5-.3-.7-.1-.8-.1-.4 0-.8-.1-.8 0-.7-.1-.7 .1-.6 .1-.5 .2-.7 .3-.5 .2-.5 .1-.8 .2-.4 0-.8 .1-.8 .1-.7 0-.6 0-.7 .2-.7 .1-.5 0-.8 .1-.7 .1-.5 .2-.5 .1-.5 .5 .1 .3 .1 .5 .6 .3 .4 .3 .6 .3 .4 0 .3 .1 .7 .1 .6 .2 .7 .2 .5 .1 .5 .2 .5 .1 .8 .2 .4 .2 .7 .2 .6 0 .5 .2 .8 0 .6 .2 .6 .1 .5 .2 .7 .1 .8 .2 .5 0 .7 0 .8 .2 .5 .1 .7 0 .8 .1 .5 .1 .7 .1 .8 0 .8 0 .7 0 .5 .1 .8 .1 .4 .2 .8 .2 .5 0 .7 .1 .7-.1zM175.4 530.2l.6-.1 .7-.1 .5-.2 .8 0 .8 .1 .4-.2 .8-.1 .5-.2 .7-.2-.4-.2-.6-.4-.4-.2-.6-.2-.7-.2-.5-.1-.5-.2-.6-.2-.5-.3-.4-.2-.5-.3-.5-.2-.8-.2-.4-.1-.8 0-.8-.1-.7 .1-.7-.2-.6-.1-.7 .1-.7-.2-.8 .1-.8 .1-.7-.2-.5-.3-.5 0-.7-.1-.8-.1-.8 0-.7 .1-.7 .1-.6 .1-.4 .2-.8 .2-.5 .1-.7 0-.8 0-.8 .1-.4 .1-.8 0-.8 .1-.4 .1-.8 .1-.8 .1-.7 0 .3 .1 .7 .2 .5 .2 .5 .1 .5 .2 .6 .3 .6 .2 .6 .1 .4 .2 .8 .1 .5 .2 .7 .1 .6 .1 .6 .2 .6 .2 .5 .2 .5 .1 .8 .1 .6 .2 .4-.1 .7 0 .5 .1 .7 .2 .5 0 .8 .1 .6 .1 .6 .1 .8 .1 .8 0 .7 0 .7 0 .8 0 .8 0 .7 .1 .7-.1 .8-.1zM175.5 529l.5-.2-.2-.2-.6-.3-.4-.2-.6-.2-.7-.1-.5-.1-.8-.1-.4-.1-.8-.1-.5-.2-.6 0-.7 .1-.7 0-.7 0-.8 0-.5-.2-.5-.2-.5-.2-.7-.1-.8 0-.8 0-.7 .1-.5 .1-.7 .2-.5 .1-.7 .1-.1 .3 .6 .3 .5 .2 .6 .2 .5 .3 .6 .1 .6 .2 .6 0 .5-.1 .5 .1 .8 .1 .7-.1 .7 0 .6 .2 .7 .1 .7 .1 .8 0 .8 0 .7 0 .7 0 .8-.1 .8 0 .7 0 .7-.1z" fill="none" stroke="#000" stroke-width="0.45"/>
<path d="M176.6 544.8l.6-.3 .5-.3 .5-.2 .3-.2 .5-.4 .3-.4 .4-.5 .3-.5 .2-.5 0-.6 .2-.7 .1-.6 0-.6 0-.8 .1-.7 .1-.7 0-.8 0-.8-.1-.7-.3-.5-.1-.5-.2-.5-.2-.8-.1-.4-.2-.8-.2-.5-.3-.3-.4-.4-.4-.4-.4-.2-.8-.2-.2 .2-.6 0-.5 .3-.5 .5-.2 .2-.3 .6-.5 .4-.2 .4-.2 .6-.2 .6-.3 .4 0 .8-.2 .5 0 .7 0 .8-.1 .8-.1 .4-.1 .8 0 .8 0 .7 .4 .5 .1 .5 .4 .5 .1 .6 .1 .6 .2 .6 .4 .3 .3 .5 .3 .4 .4 .4 .5 .2 .5 .2zM177.6 543.2l.4-.3 .4-.4 .4-.4 .2-.3 .2-.7 .2-.6 .1-.3 0-.4 .1-.8 0-.8 0-.7 .1-.7 0-.8-.1-.8-.1-.5-.2-.7-.2-.5-.1-.5-.1-.8-.2-.4-.3-.6-.3-.4-.3-.3-.6-.3-.4 .1-.6 .2-.4 .5-.3 .4-.3 .4-.3 .4-.1 .6-.3 .7-.1 .5-.2 .6 0 .6 0 .8 0 .8-.1 .7 0 .7 0 .8 .3 .5 .1 .5 .3 .7 .1 .5 .1 .6 .3 .4 .4 .6 .3 .3 .5 .3 .7 0zM177 542.5l.5-.4 .3-.3 .4-.6 .2-.4 .1-.6 .1-.7 .1-.7-.1-.8 0-.8 0-.7 0-.7-.1-.6-.2-.7-.1-.5-.2-.6-.2-.6-.2-.6-.3-.4-.3-.4-.3 .4-.3 .4-.3 .6-.1 .4-.2 .8-.1 .5-.1 .7 .1 .8 0 .8 0 .7-.1 .7 0 .8 0 .8 .1 .7 .2 .5 .1 .5 .4 .5 .4 .4 .2 .1zM177.1 541l.2-.5 .2-.7 0-.8 0-.3-.2-.7-.1-.5 0-.7 0-.8 0-.8-.2-.6-.1 .6 0 .8 0 .8-.1 .7 0 .6-.1 .7 0 .7 0 .7 .2 .6 .2 .2z" fill="none" stroke="#000" stroke-width="0.45"/>
<path d="M164.2 522l.6 0 .7-.2 .5-.3 .5-.3 .3-.2 .4-.3 .5-.5 .3-.3 .3-.4 .3-.5 .3-.5 .2-.5 .3-.5 .1-.5 .2-.8 .1-.5 .1-.7 0-.8 .1-.7 .2-.5-.3-.5-.1-.7 0-.8 0-.5-.3-.3 0-.7-.2-.5-.1-.5-.2-.5-.2-.8-.1-.4-.3-.6-.2-.4-.4-.6-.3-.3-.5-.2-.5-.3-.5-.2-.5-.2-.7-.2-.6-.2-.7 .1-.7 0-.5 .3-.4 .2-.4 .3-.5 .5-.2 .3-.5 .5-.3 .4-.2 .3-.3 .5-.3 .5-.2 .5-.2 .5-.2 .7-.2 .6-.2 .6 0 .6 0 .6 .1 .6-.1 .7 .1 .3-.1 .6 0 .7-.1 .7 .3 .6-.1 .7 .2 .5 .3 .5 .2 .7 .2 .6 .2 .4 .4 .4 .2 .4 .5 .4 .3 .4 .6 .2 .4 .4 .4 .2 .6 .2 .7 .1 .5 .2z" fill="#666"/>
<path d="M164.2 522l.6 0 .7-.2 .5-.3 .5-.3 .3-.2 .4-.3 .5-.5 .3-.3 .3-.4 .3-.5 .3-.5 .2-.5 .3-.5 .1-.5 .2-.8 .1-.5 .1-.7 0-.8 .1-.7 .2-.5-.3-.5-.1-.7 0-.8 0-.5-.3-.3 0-.7-.2-.5-.1-.5-.2-.5-.2-.8-.1-.4-.3-.6-.2-.4-.4-.6-.3-.3-.5-.2-.5-.3-.5-.2-.5-.2-.7-.2-.6-.2-.7 .1-.7 0-.5 .3-.4 .2-.4 .3-.5 .5-.2 .3-.5 .5-.3 .4-.2 .3-.3 .5-.3 .5-.2 .5-.2 .5-.2 .7-.2 .6-.2 .6 0 .6 0 .6 .1 .6-.1 .7 .1 .3-.1 .6 0 .7-.1 .7 .3 .6-.1 .7 .2 .5 .3 .5 .2 .7 .2 .6 .2 .4 .4 .4 .2 .4 .5 .4 .3 .4 .6 .2 .4 .4 .4 .2 .6 .2 .7 .1 .5 .2zM165.5 521.2l.5-.2 .5-.4 .5-.2 .4-.4 .3-.5 .3-.4 .2-.4 .3-.5 .3-.5 .2-.6 .1-.6 .1-.7 .1-.6 0-.7 0-.7 0-.8-.2-.5-.1-.7-.1-.6-.1-.5-.1-.7-.1-.8-.1-.6-.1-.6-.2-.5-.2-.7-.2-.4-.3-.6-.3-.3-.7-.2-.4-.3-.6-.2-.4-.3-.6-.1-.5-.3-.3 .1-.7 0-.5 .3-.4 .3-.3 .2-.6 .5-.2 .3-.4 .4-.4 .5-.2 .4-.3 .4-.2 .5-.3 .5-.2 .7-.1 .6 0 .7-.1 .7 .2 .8 0 .5 .1 .7 0 .8-.1 .7 0 .4 .1 .7 .1 .7 0 .6 .3 .7 .1 .4 .3 .6 .3 .4 .3 .4 .3 .4 .4 .3 .6 .3 .4 .3 .6 .3 .4 .2 .8 .1 .8 0 .7-.2zM164.9 520.8l.6-.3 .4-.3 .4-.2 .5-.3 .3-.5 .4-.4 .2-.6 .3-.4 .2-.6 .1-.4 .2-.8 0-.8 .1-.4-.1-.8-.1-.5-.1-.7-.1-.6 0-.7-.2-.7 0-.6-.1-.7-.1-.5-.3-.8-.1-.4-.2-.6-.3-.4-.4-.6-.5-.2-.4-.2-.5-.3-.6-.3-.5-.1-.8 0-.4 .2-.6 .3-.4 .4-.4 .2-.3 .6-.3 .3-.3 .4-.3 .5-.2 .5-.2 .5-.2 .8-.1 .4 0 .5 0 .5 .1 .6 .1 .7 .1 .5 .1 .8-.1 .7 .1 .7 0 .8 .1 .8 .1 .4 .2 .6 .2 .5 .3 .5 .3 .4 .4 .5 .5 .3 .3 .2 .5 .3 .4 .3 .8 0 .8 0zM165 520l.4-.2 .4-.3 .4-.3 .3-.4 .4-.6 .2-.4 .2-.6 .2-.4 .1-.8 .1-.8 .1-.4-.1-.6-.1-.7-.1-.7 0-.6-.1-.7-.1-.7-.1-.6-.2-.7-.1-.5-.2-.5-.2-.5-.3-.5-.2-.5-.5-.2-.5-.4-.5-.3-.7-.1-.4 0-.6 .2-.4 .3-.5 .3-.4 .4-.3 .3-.3 .5-.2 .5-.3 .5-.2 .6-.1 .6 0 .8 .1 .8 .1 .4 .2 .8 .1 .5 0 .7 .1 .8 0 .8 0 .7 .1 .5 .2 .6 .2 .6 .3 .4 .3 .4 .4 .4 .5 .4 .5 .2 .6 .2 .7 0zM164.9 519.2l.3-.2 .6-.4 .2-.5 .2-.4 .3-.6 .2-.6 .1-.5 .1-.8 .1-.7-.1-.7-.1-.8-.1-.5 0-.7-.2-.8-.1-.5-.2-.6-.2-.6-.2-.5-.2-.6-.3-.4-.3-.3-.5-.5-.5-.1-.8 .1-.4 .2-.5 .3-.3 .3-.3 .4-.3 .6-.3 .4-.2 .6-.1 .7 0 .7 .2 .8 .1 .5 .1 .5 .2 .8 0 .7 .1 .7 0 .8 0 .5 .2 .7 .1 .6 .3 .4 .4 .6 .3 .2 .4 .3 .8 .2 .8-.2zM164.6 518.5l.4-.4 .2-.4 .3-.7 .2-.5 .1-.5 .2-.8 0-.4 .1-.8-.1-.5-.1-.7-.1-.8 0-.5-.2-.7-.2-.6-.2-.4-.2-.7-.2-.6-.3-.3-.5-.4-.2 0-.6 .2-.4 .4-.3 .4-.3 .4-.3 .6-.2 .4 0 .8 0 .8 .2 .4 .1 .6 .1 .7 0 .7 .1 .8 .1 .5 0 .7 .2 .8 .1 .5 .2 .5 .4 .4 .6 .3 .7-.1zM164.1 517.8l.4-.6 .1-.4 .2-.6 .1-.7 .1-.5 .1-.8 0-.7-.1-.7 0-.6-.1-.7-.1-.5-.3-.8-.1-.4-.2-.6-.4-.2-.3 .4-.3 .5-.2 .4-.2 .7 0 .5 0 .5 .1 .8 .1 .7 0 .7 .1 .6 0 .7 .1 .7 .1 .6 .2 .5 .4 .5z" fill="none" stroke="#000" stroke-width="0.35"/>
<path d="M177.3 529.8l.2-.3 .5-.2 .2-.2 .3-.1 .3-.3 .3-.2 .4-.1 .3-.3 .2-.3 .3 0 .2-.3 .5-.2 .2-.3 .3-.2 .3-.2 .2-.2 .2-.3 .2-.3 .3-.3 .3-.3 .2-.2 .1-.2 .3-.3 .2-.3 .2-.2 .2-.4 .2-.4 .2-.2 .2-.3 .2-.5 0-.3 .2-.4 0-.4 .2-.3-.1-.6-.1-.3 0-.2 .2-.5 0-.4-.1-.6 0-.4 0-.6 .3-.2-.3-.2 0-.6 .1-.4 0-.6 0-.4-.2-.5 0-.3 0-.5-.2-.4-.1-.3-.1-.5-.1-.3-.2-.4-.1-.4-.2-.2-.2-.5 0-.3-.3-.2-.2-.5-.2-.3-.1-.2-.2-.3-.2-.2-.3-.3-.2-.4-.3-.3-.2-.3-.2-.2-.2-.2-.2-.3-.4-.3-.3-.2-.3-.1-.3-.1-.4-.3-.3 0-.4-.2-.3-.2-.5 0-.2-.2-.6 0-.2-.2-.5 0-.5 0-.5 0-.4-.2-.2 0-.4 .2-.5 0-.5 0-.5 0-.2 .3-.3 0-.3 .2-.4 .2-.3 .1-.5 .3-.2 0-.5 .2-.3 .2-.3 0-.3 .3-.4 .1-.2 .2-.3 .3-.3 .2-.2 .2-.2 .3-.2 .4-.3 .3-.2 .3-.2 .2-.1 .4-.3 .3-.1 .3-.2 .2-.2 .5-.1 .3-.3 .2-.1 .4-.1 .4-.2 .4-.1 .4-.1 .3-.2 .4 0 .5-.1 .2-.3 .3 0 .5 0 .5 0 .5 .1 .5 0 .3-.2 .2 .3 .2 0 .6 .1 .4 0 .6 .1 .2 .2 .5 .1 .3 .1 .4 0 .4 .2 .4 .1 .4 .1 .4 0 .4 .2 .3-.1 .3 .3 .2 0 .3 .2 .5 .2 .2 .1 .4 .3 .2 0 .4 .3 .2 .2 .3 .2 .3 .3 .4 .2 .3 .2 .2 .3 .3 .3 .2 .2 .3 .3 0 .2 .3 .5 .2 .2 .2 .3 .2 .3 .1 .4 .1 .3 .3 .5 0 .2 .2 .6 0 .2 .3 .5 0 .5 0 .5 .1 .3 0 .2 .3 .4 0 .4-.1 .2 .1 .5 0 .5 0 .3 0zM154.2 524.5l.3 0 .4-.3 .3-.1 .3-.3 .3-.2 .2-.2 .2-.4 .3-.2 .2-.3 .2-.3 .3-.2 0-.3 .3-.3 .2-.4 .2-.2 .3-.3 0-.3 .2-.4 .1-.4 .2-.4 .1-.4 .1-.4 .1-.3 .1-.4 0-.5 0-.5 .1-.4 .2-.3 0-.6 0-.4 0-.6-.2-.4 0-.3 0-.5 0-.5-.2-.4-.1-.3-.1-.5-.1-.3-.2-.4-.1-.4-.2-.4 0-.3-.3-.3-.2-.2-.2-.4-.3-.3 0-.3-.2-.2-.3-.3-.3-.3-.2-.2-.3-.2-.4-.2-.3-.3-.2-.3-.3 0-.4-.2-.3-.2-.2-.2-.6 0-.4 0-.6 0-.3 .1-.4 0-.5 .1-.4 .2-.4 .1-.2 .3-.3 0-.5 .3-.2 .2-.2 .2-.3 .3-.3 .2-.2 .3-.2 .2-.3 .3-.3 .2 0 .4-.3 .2-.2 .2-.2 .5-.1 .3-.2 .2-.1 .6-.2 .2 0 .5-.3 .3 0 .4-.1 .4-.1 .4 0 .5 0 .5 0 .5-.1 .5 0 .5 0 .5 0 .5 0 .5 .2 .4 .1 .4 0 .4 .3 .3 0 .5 .3 .2 0 .6 .2 .2 .1 .3 .2 .5 .2 .2 .2 .2 .1 .4 .3 .3 .3 .2 .2 .3 .2 .2 .3 .3 .3 .2 .2 .3 .2 .2 .4 .2 .4 .1 .2 .2 .4 .1 .4 .2 .5 0 .5 .1 .3 0 .5 .1 .4 0 .6 .1 .4-.2z" fill="#000" stroke="none"/>
<path d="M177.5 530.2l.5-.1 .2-.2 .3-.2 .4-.2 .3-.3 .2-.2 .4-.2 .1-.3 .2-.3 .4-.2 .2-.2 .3-.2 .2-.2 .3-.2 .3-.2 .3-.2 .4-.3 .3-.2 .2-.3 .2-.2 .3-.2 .3-.3 .2-.3 .2-.2 .2-.3 .2-.3 .2-.3 .2-.4 .1-.3 .1-.2 .3-.5 0-.3 .2-.4 .1-.4 .1-.4 0-.5 0-.5 .1-.5-.1-.5-.1-.5-.1-.3 0-.4 .1-.5 .1-.3-.1-.4-.1-.4 .1-.2 .1-.5 0-.5 .1-.5-.2-.5-.1-.2 0-.6-.2-.4-.1-.3-.2-.4-.1-.3-.1-.4-.2-.4-.1-.2-.2-.5-.1-.3-.2-.3-.1-.5-.3-.2-.1-.2-.2-.4-.3-.3-.2-.3-.1-.3-.3-.3-.2-.2-.2-.2-.2-.3-.3-.3-.2-.2-.4-.2-.3-.3-.3-.1-.3-.2-.3-.2-.4-.1-.4-.1-.3-.2-.6 0-.2-.1-.5 0-.5-.2-.5 0-.5 0-.2-.1-.6-.2-.2-.1-.3 .1-.5 .2-.4 0-.3 .1-.5 .1-.2 .1-.6 .2-.2 .3-.2 0-.5 .2-.3 .1-.2 .2-.5 .3-.3 .1-.5 .1-.3 .2-.2 .1-.5 .2-.3 .1-.2 .2-.2 .2-.3 .2-.3 .3-.1 .5-.2 .2-.2 .3-.2 .5-.2 .2-.2 .3-.1 .3-.2 .4-.2 .3-.1 .3-.2 .4-.2 .3-.1 .3-.2 .4-.1 .3-.2 .4-.2 .3-.1 .4-.1 .4-.2 .2-.1 .6-.1 .2 0 .5 .1 .3 0 .4 0 .3-.1 .5 .1 .2 .3 .3 .1 .5 .1 .2 .1 .6 .1 .3 0 .4 .3 .3 0 .4 0 .6 .3 .2 0 .5 .2 .3 0 .4 .1 .6 .1 .2 .1 .5 .2 .3 .1 .4 .1 .4 .2 .4 .1 .2 .2 .4 .3 .3 .1 .3 .1 .3 .3 .3 .2 .2 .3 .2 .3 .3 .2 .3 .4 .2 .3 .1 .2 .2 .5 .2 .3 .2 .2 .1 .6 .2 .2 0 .5 .2 .3 0 .4 .2 .4 .1 .4 .2 .2 .1 .6 0 .4 .2 .3 .1 .3 .2 .4 .1 .6-.1 .4 .1 .6 0 .4 0 .3-.2zM154.4 525l.4-.1 .3-.1 .4-.2 .3-.3 .2-.2 .2-.1 .3-.3 .3-.4 .2-.3 .2-.2 .2-.3 .2-.3 .2-.3 .2-.3 .1-.4 .2-.2 .2-.2 .3-.5 0-.3 .2-.5 0-.3 .2-.4 0-.6 .2-.2 .1-.4 0-.4 0-.4 .3-.5 .1-.3 0-.5 0-.5 0-.5 0-.5-.1-.4-.1-.4 0-.4 0-.6-.2-.4-.1-.3-.2-.4 0-.3-.2-.4-.1-.4-.1-.3-.2-.5-.2-.2-.2-.2-.2-.5-.2-.3-.1-.2-.2-.4-.3-.2-.2-.2-.2-.3-.3-.2-.3-.3-.4-.2-.3-.2-.3-.2-.2-.1-.4-.3-.4-.1-.2-.1-.5-.1-.5 0-.5 0-.5 0-.3 .1-.5 .1-.4 .1-.3 .1-.3 .3-.3 .2-.4 .2-.3 .2-.2 .1-.3 .2-.3 .3-.2 .2-.3 .2-.3 .3-.2 .3-.2 .2-.2 .2-.2 .5-.3 .3-.1 .2-.2 .3-.2 .4-.2 .3-.1 .3-.2 .3-.1 .4-.2 .3 0 .5-.2 .5 0 .3 0 .4 0 .6 0 .4-.1 .6 0 .4-.1 .6 0 .4 0 .6 0 .4 .2 .5 .1 .3 .1 .5 .3 .3 0 .2 .3 .4 0 .4 .2 .3 .1 .4 .2 .3 .2 .4 .2 .3 .1 .3 .3 .2 .2 .2 .3 .3 .2 .3 .3 .2 .2 .2 .2 .3 .3 .3 .3 .2 .4 .2 .3 .1 .3 .2 .4 .2 .3 .1 .4 .1 .6 0 .4 .1 .3 0 .5 .1 .5 .1 .5 0 .4-.2z" fill="none" stroke="#000" stroke-width="0.35"/>
<ellipse cx="152.6" cy="516" rx="0.7" ry="3" fill="#fff"/>
<path d="M173.1 527l.7-.2 .4-.1 .6-.4 .4-.2 .5-.3 .3-.3 .5-.5 .3-.2 .3-.6 .4-.4 .3-.3 .3-.5 .4-.5 .3-.4 .1-.6 .2-.5 0-.8-.1-.6 0-.6-.2-.8-.1-.4-.2-.7-.3-.3-.2-.7-.2-.4-.3-.5-.3-.4-.3-.6-.4-.4-.3-.5-.2-.3-.5-.5-.3-.3-.3-.4-.4-.6-.3-.2-.5-.2-.3-.3-.6 .2-.6 .1-.6 .2-.3 .5-.4 .3-.3 .4-.2 .6-.3 .4-.2 .6-.3 .4-.3 .6-.3 .4-.2 .6-.2 .4-.1 .6-.3 .6 0 .6 0 .8 0 .7 0 .7 0 .7 .3 .4 .2 .7 .2 .5 .3 .5 .2 .5 .2 .5 .3 .5 .2 .5 .3 .5 .3 .5 .3 .3 .5 .5 .5 .1 .5 .2 .6-.1zM173.1 525.2l.7-.1 .4-.3 .4-.3 .4-.3 .4-.4 .4-.5 .2-.3 .4-.5 .4-.4 .2-.3 .3-.6 .2-.5 .1-.7-.1-.5-.2-.7-.2-.6-.1-.4-.3-.6-.2-.4-.3-.6-.2-.6-.2-.5-.3-.4-.3-.5-.4-.4-.3-.3-.5-.3-.5-.2-.6 0-.6 .2-.4 .3-.4 .4-.3 .3-.4 .6-.3 .4-.3 .3-.2 .5-.2 .7-.2 .5-.1 .6 0 .4 .1 .8 .1 .8 .1 .4 .2 .6 .2 .7 .1 .5 .2 .7 .2 .5 .2 .6 .3 .4 .3 .4 .5 .4 .5 .2 .5 .1zM173.7 523.2l.3-.2 .3-.5 .3-.5 .2-.5 .2-.7 0-.6 0-.7 0-.7 .1-.8 0-.8-.1-.5-.2-.7-.2-.5-.3-.5-.3-.3-.5-.3-.5 .1-.5 .3-.4 .4-.3 .4-.3 .4-.3 .5-.1 .7-.1 .8 .2 .8 .2 .4 .1 .8 .2 .5 .1 .6 .1 .7 .1 .4 .3 .6 .4 .4 .5 .2zM173.5 518.8l.2-.8 0-.8 0-.7-.3-.3-.3 .6 0 .7 .1 .7 .2 .6z" fill="none" stroke="#fff" stroke-width="0.3"/>
<path d="M256.3 542.2l.4-.4 .3-.4 .3-.4 .3-.5 .3-.5 .3-.5 .3-.3 .2-.7 .1-.5 .4-.5 .1-.5 .1-.8 0-.7-.2-.5-.3-.5-.1-.6-.1-.7-.3-.4 0-.8-.3-.5-.1-.6-.1-.7-.3-.4-.1-.7-.1-.6-.2-.5-.2-.5 0-.3-.2-.7-.2-.5-.3-.5-.2-.5-.3-.5-.3-.5-.2-.5-.3-.5-.2-.5-.3-.5-.3-.4-.3-.4-.4-.2-.5-.4-.5-.3-.5-.2-.4-.3-.4-.4-.3-.4-.1-.5-.6-.4-.4-.3-.6 0-.7-.2-.7 .1-.6 .3-.2 .5-.2 .3-.4 .4-.3 .6-.3 .4-.3 .5 0 .5-.1 .8-.2 .5 0 .7 0 .8-.1 .8 .3 .4-.1 .8-.1 .5 0 .7 0 .3-.2 .5 0 .5 .2 .7 .3 .6 .1 .4 .4 .6 .2 .3 .3 .4 .3 .5 .3 .5 .3 .5 .1 .6 .3 .5 .2 .6 .2 .5 .3 .5 .3 .5 .2 .5 .3 .3 .3 .5 .3 .5 .3 .3 .3 .5 .5 .3 .5 .4 .3 .3 .3 .4 .4 .6 .3 .3 .3 .4 .5 .3 .4 .2 .8 .2 .4 .2 .8-.1zM255.8 541.2l.4-.4 .3-.3 .3-.5 .4-.5 .3-.5 .3-.3 .2-.6 .2-.4 .3-.5 .1-.7 0-.7-.4-.5-.2-.5-.1-.6-.1-.5-.3-.5 0-.7-.2-.7-.1-.6-.2-.7-.2-.5-.2-.5-.1-.5-.2-.8-.2-.4-.2-.6-.1-.6-.3-.5-.3-.5-.2-.4-.2-.6-.3-.6-.3-.5-.1-.5-.3-.4-.3-.5-.4-.3-.3-.3-.6-.3-.5-.2-.5-.2-.4-.4-.5-.4-.3-.4-.5-.3-.4-.3-.6-.2-.3 0-.4 .4-.3 .4-.3 .4-.3 .5-.2 .5-.3 .5-.1 .7-.3 .6 0 .7 0 .7 .1 .3 .1 .7-.1 .8 .1 .7 0 .4-.1 .7 .2 .4-.2 .6 .4 .4 0 .6 .4 .4 .3 .6 .3 .4 .2 .6 .3 .4 .2 .4 .2 .6 .2 .6 .2 .5 .2 .7 .2 .5 .2 .5 .4 .5 .2 .3 .5 .4 .3 .4 .4 .3 .3 .4 .5 .4 .3 .3 .4 .5 .3 .4 .2 .4 .4 .5 .4 .2 .6 .2 .6 .1 .6-.1zM255.8 540l.3-.5 .3-.5 .4-.5 .1-.5 .3-.5 .2-.5 0-.8-.2-.4-.4-.6-.1-.4-.1-.8-.2-.5 .1-.7-.2-.8-.1-.5-.1-.7-.3-.6-.2-.4-.1-.6-.3-.6-.2-.6-.2-.5-.2-.5-.3-.5-.3-.5-.2-.4-.3-.4-.3-.5-.2-.5-.3-.4-.3-.6-.3-.4-.3-.5-.4-.3-.4-.2-.5-.4-.5-.3-.4-.3-.4-.3-.4-.3-.6 .1-.2 .5-.3 .4-.3 .6-.2 .7-.2 .5 0 .5 0 .7 .1 .6 0 .7 .1 .7 .2 .6 .1 .6 .2 .6 .1 .5 .2 .7 .2 .6 .2 .4 .1 .6 .3 .4 .2 .6 .2 .5 .2 .7 .1 .5 .2 .7 .1 .6 .2 .4 .3 .6 .4 .4 .3 .4 .5 .4 .3 .2 .4 .4 .5 .4 .3 .3 .4 .5 .4 .4 .2 .3 .5 .4 .5 .2 .8 0zM255.4 539l.2-.5 .2-.5 .2-.8 .2-.4-.2-.8-.2-.4-.2-.6 0-.8-.1-.5 0-.5 0-.5-.1-.7-.2-.7-.1-.5-.3-.6-.2-.4-.2-.6-.2-.5-.2-.5-.2-.6-.3-.4-.3-.4-.3-.6-.4-.4-.2-.6-.3-.3-.2-.5-.3-.4-.3-.5-.3-.5-.4-.4-.4-.4-.3-.3-.6-.4-.4-.1-.3 .5-.2 .6-.2 .5-.2 .5 .1 .7 .1 .6 0 .7 .1 .7 .2 .6 .1 .5 .2 .7 .2 .5 .2 .5 .1 .5 .3 .7 .2 .6 .2 .4 .2 .6 .1 .7 .1 .5 .2 .8 .1 .4 .2 .6 .2 .4 .5 .6 .3 .2 .4 .4 .5 .4 .3 .2 .5 .5 .3 .3 .4 .4 .3 .4 .5 .4 .4 0zM254.8 537l.1-.8-.2-.4 0-.8 0-.8 0-.7 0-.7-.1-.8-.2-.5-.2-.5-.2-.5-.3-.5-.2-.6-.3-.6-.2-.5-.2-.5-.3-.4-.3-.4-.2-.5-.3-.5-.3-.5-.3-.5-.3-.5-.3-.5-.3-.4-.2-.4-.5-.4-.5 .4-.1 .6 .1 .6 0 .6 0 .5 .1 .5 .1 .6 .3 .6 .1 .6 .2 .4 .2 .6 .2 .7 .3 .5 .1 .5 .2 .5 .2 .8 0 .4 .2 .8 .1 .5 .2 .5 .3 .5 .4 .5 .3 .3 .5 .4 .3 .3 .5 .4 .3 .4 .4 .4zM253.9 534.8l0-.8 0-.8-.1-.7-.1-.5-.2-.5-.3-.5-.3-.5-.2-.5-.2-.5-.3-.5-.2-.6-.2-.5-.3-.5-.3-.5-.2-.5-.2-.4-.4-.5-.3-.3 .1 .8 .1 .5 .2 .6 .2 .7 .1 .4 .2 .6 .2 .6 .3 .6 .1 .5 .2 .6 0 .7 .1 .7 .2 .5 .2 .5 .3 .5 .4 .3 .5 .5 .4 0z" fill="none" stroke="#000" stroke-width="0.45"/>
<path d="M267.7 551.5l.3-.1 .5 0 .5-.1 .2-.2 .6 0 .2-.3 .3 0 .3-.3 .4-.2 .2-.2 .3-.3 .3-.2 .2-.3 .1-.3 .2-.2 .3-.3 .2-.4 .1-.3 .2-.3 0-.5 .3-.2 0-.6 0-.4 0-.6 .3-.2-.2-.2 0-.6 0-.4-.1-.6-.2-.2 0-.5-.3-.3 0-.4 .1-.4 .2-.2 .2-.4 .3-.3 .1-.3 .1-.4 .2-.3 .1-.4 .1-.3 .2-.5 .1-.3 .2-.4 0-.4 .2-.4 .1-.3 0-.5 .1-.4 .2-.4 0-.4-.1-.6 0-.4 .2-.5 .1-.3 0-.5 0-.5 0-.5 0-.5 0-.5-.1-.5 0-.3-.2-.5-.1-.2 0-.5 0-.5 .1-.2-.3-.3 0-.5 .1-.5-.1-.4-.1-.3 0-.6-.2-.2 0-.5-.3-.3 0-.4-.2-.5 0-.3-.2-.2 0-.6-.3-.2-.2-.5 0-.3-.3-.2-.2-.5 0-.3 .2-.2 .3-.2 .2-.3 .3-.3 .2-.2 0-.3 .3-.2 .2-.5 .2-.2 0-.6 .3-.2-.1-.5 .3-.3 0-.4 0-.6 0-.4 .2-.3-.2-.3 0-.4 0-.6 0-.4-.3-.3 0-.5-.2-.2 0-.6-.3-.2-.1-.4-.3-.3 0-.3-.3-.2-.2-.3-.3-.3-.2-.2-.2-.2-.3-.3-.2-.3-.3-.2-.2-.2-.5-.2-.3-.3-.3-.1-.4-.1-.3-.2-.3-.1-.4-.2-.4-.1-.3-.1-.4-.2-.4-.1-.5 0-.5 .1-.5 0-.5-.2-.2 .3-.6 .1-.4 0-.6 .1-.2 0-.5 .2-.3 .1-.4 .2-.3 0-.5 .2-.2 .2-.4 .1-.4 .2-.3-.2-.5-.2-.2-.2-.3-.1-.5-.1-.3-.1-.4-.2-.3-.2-.4-.1-.3-.2-.4-.1-.1-.3-.5 0-.4-.2-.3-.1-.6 0-.2-.3-.5 0-.4-.1-.3-.1-.6 0-.4-.1-.3-.2-.5 0-.5 0-.5 0-.5 0-.3-.2-.4 .1-.4 0-.4 .1-.5 0-.5 0-.5 0-.5-.1-.2 0-.6-.1-.4 0-.6 0-.2 .2-.5 0-.5 0-.5 0-.4 .2-.3 0-.6 0-.4 .1-.3 .2-.5 0-.4 .1-.4 .2-.3 .1-.4 .1-.4 .2-.3 .1-.3 .2-.5 0-.2 .2-.3 .2-.5 .3-.2 0-.3 .3-.3 .2-.2 .3-.2 .3-.3 .2-.3 .3 0 .4-.3 .2-.1 .5-.1 .3 0 .4 0 .6 0 .4 .1 .3 .1 .5 .2 .2 .1 .5 .3 .2 .3 .3 .2 .3 .1 .3 .3 .2 .2 .2 .3 .3 .3 .2 .3 .3 .3 0 .4 .2 .3 .3 .3 .2 .3 .1 .4 .1 .3 .3 .3 0 .4 .2 .3 .1 .4 .2 .3 .2 .5 0 .2 .2 .6 0 .2 .3 .5 0 .3 .1 .4 .2 .6 0 .2 .3 .5 0 .3 0 .4 .2 .6 0 .4 0 .3 .2 .5 .1 .5 0 .5 0 .2 0 .6 .2 .4 0 .6 0 .4 0 .6 0 .4 0 .6 0 .4 0 .6 0 .4 0 .6-.1 .2-.2 .5-.1 .5 0 .5 0 .3-.1 .4-.1 .3 .3 .3 .2 .1 .4 .2 .2 .2 .3 .3 .3 .2 .2 .3 .2 .2 .3 .3 .3 .2 .2 .3 .2 .4 .3 .3 .2 .2 .1 .3 .2-.1 .3-.1 .5-.1 .3-.1 .4 .1 .5-.2 .5 0 .5 .1 .5 0 .5 0 .5-.1 .4-.1 .3 0 .6 0 .4 0 .6 0 .4 0 .6 .1 .4 0 .3 0 .5-.1 .2 0 .6 0 .4 .2 .3 .1 .5 0 .5 0 .3 .2 .4 .1 .3 .2 .3 .1 .4 .2 .3 .1 .5 .1 .4 .1 .4 .2 .2 0 .5 .2 .4 0 .3 .3 .3-.1 .3 .3 .2 0 .3 .2 .5 .3 .2-.3 .5-.2 .2-.1 .3-.3 .2-.2 .3-.2 .4-.1 .3-.2 .3-.1 .5-.2 .2 0 .6-.1 .4 0 .6-.2 .2 .2 .5 0 .4 0 .3 0 .6 .3 .2 0 .5 .3 .3 .1 .3 .2 .4 .3 .3 .3 .2 0 .3 .3 .2 .2 .3 .3 .2 .2 .3 .4 .2 .3 .3 .3 .1 .2 .3 .6 0 .2 .3 .5 0 .5-.1 .3 .1 .4 0z" fill="#000" stroke="none"/>
<path d="M267.8 552l.4-.2 .3 0 .5-.1 .4-.2 .4-.1 .3-.2 .4-.2 .3-.2 .2-.2 .3-.1 .3-.3 .2-.2 .3-.2 .2-.3 .2-.3 .3-.3 .1-.4 .2-.3 .1-.3 .2-.4 .1-.3 .2-.4 .1-.3 0-.5 .1-.5 .1-.3 .1-.4-.1-.3-.1-.5 0-.5 0-.5-.2-.2-.1-.6-.2-.2 .1-.4 .3-.3 .1-.3 .1-.2 .2-.6 .1-.2 .2-.5 .1-.3 .1-.4 .1-.3 .1-.5 .1-.2 .2-.6 .1-.2 .2-.5 0-.5 .2-.2 .1-.3 0-.5 0-.5-.1-.3 0-.4 .2-.3 .1-.5 0-.5 0-.5-.1-.5 0-.5 0-.5-.1-.5 0-.4-.3-.4 0-.4 0-.6 0-.4-.1-.3 0-.5 .1-.5 0-.5-.2-.5 0-.5-.1-.2-.1-.6-.1-.2-.1-.5-.1-.4-.2-.3-.2-.3 0-.5-.2-.2-.2-.5-.1-.3-.1-.3 0-.4 .2-.3 .2-.2 .3-.3 .2-.3 .1-.2 .2-.2 .2-.5 .2-.3 .1-.5 .1-.3 .1-.4 .1-.3 0-.5 0-.5 0-.5 .2-.2 0-.6-.2-.2 0-.5 0-.5 0-.5-.2-.3-.1-.4-.1-.3-.1-.5-.2-.2-.1-.4-.2-.2-.2-.4-.2-.3-.3-.3-.2-.2-.2-.2-.2-.3-.3-.3-.2-.2-.2-.3-.3-.2-.3-.3-.4-.2-.3-.1-.4-.1-.3-.2-.3-.1-.5-.2-.2-.1-.6-.2-.2 0-.5-.2-.3-.1-.4 0-.6 0-.2 .1-.5 .1-.3-.1-.3 0-.1 .2-.6 0-.4 .1-.6 0-.4 0-.3 .3-.5-.1-.2 .3-.6 0-.2 .2-.4 .2-.4 .1-.2 .2-.2-.3-.3 0-.5-.2-.2-.3-.6 0-.2-.2-.3-.1-.5-.2-.2 0-.4-.2-.4-.2-.2-.2-.5-.1-.3-.2-.2-.1-.5-.1-.3-.2-.4-.1-.4-.1-.4-.2-.5 0-.5 0-.2-.2-.6 0-.4 0-.6 0-.4 0-.3-.1-.5 0-.2 .1-.6 .1-.3 0-.4 .1-.5 0-.5 0-.3-.1-.4 0-.6-.1-.3-.1-.4 0-.5 0-.2 .1-.6 .1-.4 0-.6 0-.2 0-.5 .2-.5 0-.5 .1-.3 .2-.4 0-.3 .1-.5 .2-.2 .1-.6 .1-.2 .1-.5 .2-.3 .1-.4 .1-.3 .2-.3 .2-.4 .1-.3 .2-.3 .2-.2 .3-.2 .3-.3 .3-.2 .3-.2 .2-.2 .2-.1 .4-.2 .4-.1 .2-.1 .6 .1 .4 0 .6-.1 .4 .1 .6 .1 .2 .1 .5 0 .5 .2 .2 .2 .3 .1 .3 .3 .3 .3 .2 .2 .2 .3 .3 .3 .2 .3 .2 .3 .2 .3 .1 .5 .2 .2 .2 .3 .2 .4 .1 .3 .2 .3 .2 .4 .2 .3 .1 .4 .1 .4 .1 .2 .2 .6 .1 .2 .2 .5 .1 .3 .2 .4 0 .3 .1 .5 .2 .5 0 .3 .2 .4 0 .4 .1 .4 .1 .5 0 .5 0 .3 .2 .5 0 .4 .1 .6 0 .4 .1 .3 .2 .5 0 .3 0 .5 .1 .4 0 .6 0 .2-.1 .5 0 .5 0 .5 0 .5 0 .5-.1 .5-.1 .2-.2 .6 0 .4 0 .6 0 .2-.1 .3 .1 .2 .4 .2 .3 .2 .3 .2 .2 .2 .2 .3 .3 .2 .3 .3 .2 .2 .2 .3 .3 .3 .3 .3 .1 .3 .2 .1 .4 0 .5 0 .5 .1 .5-.2 .5 .1 .5 0 .5 0 .5 0 .5-.3 .3 0 .4 0 .6 0 .4 0 .6 0 .4 0 .6 0 .4 .2 .3 0 .3-.1 .4 0 .6 0 .4 .1 .4 .1 .4 0 .5 .1 .5 .2 .2 0 .6 .3 .2 0 .5 .3 .2 0 .3 0 .2 0 .4 .3 .2-.1 .2 .3 .2 0 .1-.1 .5 .1 .2 .2 .5 .2 .3 .1 .2 .2 .5 .2 .3 0 .4-.3 .3-.1 .3-.3 .2-.2 .3-.2 .4-.2 .3-.1 .2-.2 .6-.2 .2 0 .5-.1 .5 0 .2-.2 .6-.1 .2 .1 .2 .2 .6 0 .4 0 .3 .1 .5 .2 .2 .2 .6 .2 .2 .1 .2 .2 .3 .2 .3 .3 .3 .3 .4 .2 .2 .2 .2 .3 .3 .2 .3 .3 .2 .2 .2 .2 .3 .4 .2 .2 .3 .3 .1 .5 .2 .2 0 .2 0 .6-.1 .3 .1 .4 .1 .3-.1z" fill="none" stroke="#000" stroke-width="0.35"/>
<ellipse cx="245" cy="512" rx="4" ry="0.9" transform="rotate(-10 245 512)" fill="#fff" opacity="0.8"/>
<ellipse cx="268.5" cy="521.5" rx="2" ry="2.5" fill="#fff"/>
<path d="M269.8 546l.2-.5 .3-.5-.1-.3 .2-.7 .1-.5 0-.5 0-.8 .2-.4 0-.8 0-.8 0-.7 0-.7 .1-.6 0-.7 0-.7-.2-.6 0-.7-.1-.7-.3-.3 0-.7-.3-.6-.1-.7-.2-.5-.1-.6-.2-.6-.3-.6-.2-.3-.3-.4-.5-.5-.2-.3-.8 .1-.3 .2-.3 .5-.4 .5-.2 .5-.1 .5 0 .8-.3 .4 0 .8-.1 .8-.1 .6-.1 .6-.1 .7 0 .5 0 .8 .2 .5 .1 .5 .1 .8 .3 .4 .1 .6 0 .7 .3 .5 .1 .7 .1 .5 .2 .6 .3 .7 0 .5 .2 .5 .5 .5 .3 .5 .2 .3 .5 .3 .7 .1 .6-.2zM269 544.8l.2-.7 .2-.6 .2-.5 0-.8 .1-.7 .1-.5-.1-.5 0-.7 0-.8-.1-.8 0-.7-.3-.5 0-.8-.1-.4-.2-.7-.1-.6-.1-.7-.2-.6-.2-.4-.2-.7-.2-.5-.2-.6-.3-.5-.2 .3-.3 .4 0 .6-.2 .7-.2 .5-.1 .7-.1 .5-.2 .6-.1 .7-.1 .7 .2 .8 .1 .5 0 .7 .2 .6 .3 .6 0 .6 .3 .5 .1 .7 .1 .6 .2 .7 .1 .5 .2 .5 .2 .5 .3 .5 .5 .5z" fill="none" stroke="#fff" stroke-width="0.3"/>
<path d="M76.7,418.3 L76.7,457.5 L78.3,483.6" fill="none" stroke="#111" stroke-width="0.7"/>
<path d="M46.3,460.6 L76.7,457.5 L112.5,462.2" fill="none" stroke="#111" stroke-width="0.7"/>
<text x="49.6" y="426.6" font-size="6.3">98.4</text>
<text x="109.0" y="426.6" font-size="6.3" text-anchor="end">0.45</text>
<text x="49.6" y="480.5" font-size="6.3">1.04</text>
<text x="109.0" y="480.5" font-size="6.3" text-anchor="end">0.15</text>
<text x="79.4" y="415.2" font-size="6.5" text-anchor="middle">Pre-transfer</text>
<path d="M166.9,418.3 L166.9,459.2 L168.0,483.5" fill="none" stroke="#111" stroke-width="0.7"/>
<path d="M136.9,460.7 L166.9,459.2 L202.5,462.3" fill="none" stroke="#111" stroke-width="0.7"/>
<text x="140.2" y="426.6" font-size="6.3">29.2</text>
<text x="199.0" y="426.6" font-size="6.3" text-anchor="end">46.5</text>
<text x="140.2" y="480.4" font-size="6.3">10.3</text>
<text x="199.0" y="480.4" font-size="6.3" text-anchor="end">13.2</text>
<text x="169.7" y="415.2" font-size="6.5" text-anchor="middle">Tumour day 8</text>
<path d="M256.5,418.3 L256.5,459.2 L258.5,483.5" fill="none" stroke="#111" stroke-width="0.7"/>
<path d="M226.4,460.7 L256.5,459.2 L292.5,462.3" fill="none" stroke="#111" stroke-width="0.7"/>
<text x="229.7" y="426.6" font-size="6.3">12.2</text>
<text x="289.0" y="426.6" font-size="6.3" text-anchor="end">40.8</text>
<text x="229.7" y="480.4" font-size="6.3">5.42</text>
<text x="289.0" y="480.4" font-size="6.3" text-anchor="end">40.7</text>
<text x="259.4" y="415.2" font-size="6.5" text-anchor="middle">Tumour day 16</text>
<path d="M76.5,489.6 L76.5,529.3 L77.8,554.3" fill="none" stroke="#111" stroke-width="0.7"/>
<path d="M46.5,532.2 L76.5,529.3 L112.0,533.7" fill="none" stroke="#111" stroke-width="0.7"/>
<text x="49.8" y="497.9" font-size="6.3">99.0</text>
<text x="108.5" y="497.9" font-size="6.3" text-anchor="end">0</text>
<text x="49.8" y="551.2" font-size="6.3">0.86</text>
<text x="108.5" y="551.2" font-size="6.3" text-anchor="end">0</text>
<path d="M166.5,489.6 L166.5,529.6 L167.8,554.5" fill="none" stroke="#111" stroke-width="0.7"/>
<path d="M136.3,531.6 L166.5,529.6 L202.5,533.5" fill="none" stroke="#111" stroke-width="0.7"/>
<text x="139.6" y="497.9" font-size="6.3">49.0</text>
<text x="199.0" y="497.9" font-size="6.3" text-anchor="end">39.8</text>
<text x="139.6" y="551.4" font-size="6.3">4.25</text>
<text x="199.0" y="551.4" font-size="6.3" text-anchor="end">6.77</text>
<path d="M257.3,489.6 L257.3,529.6 L258.8,554.5" fill="none" stroke="#111" stroke-width="0.7"/>
<path d="M226.7,531.6 L257.3,529.6 L292.5,533.5" fill="none" stroke="#111" stroke-width="0.7"/>
<text x="230.0" y="497.9" font-size="6.3">29.1</text>
<text x="289.0" y="497.9" font-size="6.3" text-anchor="end">43.2</text>
<text x="230.0" y="551.4" font-size="6.3">5.12</text>
<text x="289.0" y="551.4" font-size="6.3" text-anchor="end">22.6</text>
<line x1="114.4" y1="454.8" x2="129.6" y2="454.8" stroke="#231f20" stroke-width="0.7"/>
<path d="M128.7,453.5 L131.8,454.8 L128.7,456.1 Z" fill="#231f20"/>
<line x1="204.1" y1="454.8" x2="218.3" y2="454.8" stroke="#231f20" stroke-width="0.7"/>
<path d="M217.4,453.5 L220.5,454.8 L217.4,456.1 Z" fill="#231f20"/>
<line x1="113.9" y1="525.2" x2="128.3" y2="525.2" stroke="#231f20" stroke-width="0.7"/>
<path d="M127.4,523.9 L130.5,525.2 L127.4,526.5 Z" fill="#231f20"/>
<line x1="204.0" y1="525.4" x2="219.0" y2="525.4" stroke="#231f20" stroke-width="0.7"/>
<path d="M218.1,524.1 L221.2,525.4 L218.1,526.7 Z" fill="#231f20"/>
<line x1="37.5" y1="508.5" x2="37.5" y2="419.9" stroke="#231f20" stroke-width="0.7"/>
<path d="M36.2,420.8 L37.5,417.7 L38.8,420.8 Z" fill="#231f20"/>
<text x="37.4" y="534.5" font-size="6.5" text-anchor="middle" transform="rotate(-90 37.4 532.2)">Ly108 APC</text>
<text x="19.5" y="452.1" font-size="6.3" text-anchor="middle" transform="rotate(-90 19.5 449.8)">Control</text>
<text x="25.7" y="452.1" font-size="6.3" text-anchor="middle" transform="rotate(-90 25.7 449.8)">Tpex</text>
<text x="19.5" y="523.5" font-size="6.3" text-anchor="middle" transform="rotate(-90 19.5 521.2)">KLHL6-OE</text>
<text x="25.7" y="523.5" font-size="6.3" text-anchor="middle" transform="rotate(-90 25.7 521.2)">Tpex</text>
<text x="56.6" y="565.8" font-size="6.5">TIM-3 PE-Cy7</text>
<line x1="102.5" y1="564.3" x2="289.8" y2="564.3" stroke="#231f20" stroke-width="0.7"/>
<path d="M288.9,563.0 L292.0,564.3 L288.9,565.6 Z" fill="#231f20"/>
<text x="316.0" y="414.5" font-size="10.5" font-weight="bold">m</text>
<text x="376.9" y="432.0" font-size="6.4" text-anchor="middle">Pre-transfer</text>
<text x="447.6" y="431.4" font-size="6.4" text-anchor="middle">Day 8</text>
<text x="506.1" y="431.4" font-size="6.4" text-anchor="middle">Day 16</text>
<line x1="345.1" y1="446.0" x2="345.1" y2="537.6" stroke="#444" stroke-width="0.7"/>
<line x1="342.6" y1="446.7" x2="345.1" y2="446.7" stroke="#444" stroke-width="0.6"/>
<text x="340.6" y="448.9" font-size="6.3" text-anchor="end">100</text>
<line x1="342.6" y1="464.8" x2="345.1" y2="464.8" stroke="#444" stroke-width="0.6"/>
<text x="340.6" y="467.1" font-size="6.3" text-anchor="end">80</text>
<line x1="342.6" y1="483.0" x2="345.1" y2="483.0" stroke="#444" stroke-width="0.6"/>
<text x="340.6" y="485.3" font-size="6.3" text-anchor="end">60</text>
<line x1="342.6" y1="501.2" x2="345.1" y2="501.2" stroke="#444" stroke-width="0.6"/>
<text x="340.6" y="503.5" font-size="6.3" text-anchor="end">40</text>
<line x1="342.6" y1="519.4" x2="345.1" y2="519.4" stroke="#444" stroke-width="0.6"/>
<text x="340.6" y="521.7" font-size="6.3" text-anchor="end">20</text>
<line x1="342.6" y1="537.6" x2="345.1" y2="537.6" stroke="#444" stroke-width="0.6"/>
<text x="340.6" y="539.9" font-size="6.3" text-anchor="end">0</text>
<line x1="345.1" y1="537.6" x2="541.3" y2="537.6" stroke="#444" stroke-width="0.7"/>
<text x="321.3" y="494.5" font-size="6.3" text-anchor="middle" transform="rotate(-90 321.3 492.2)">CD45.1<tspan font-size="4.2" dy="-2.2">+</tspan><tspan dy="2.2">​</tspan> (%)</text>
<line x1="360.5" y1="537.6" x2="360.5" y2="539.6" stroke="#555" stroke-width="0.6"/>
<line x1="393.2" y1="537.6" x2="393.2" y2="539.6" stroke="#555" stroke-width="0.6"/>
<line x1="426.8" y1="537.6" x2="426.8" y2="539.6" stroke="#555" stroke-width="0.6"/>
<line x1="459.5" y1="537.6" x2="459.5" y2="539.6" stroke="#555" stroke-width="0.6"/>
<line x1="492.7" y1="537.6" x2="492.7" y2="539.6" stroke="#555" stroke-width="0.6"/>
<line x1="525.4" y1="537.6" x2="525.4" y2="539.6" stroke="#555" stroke-width="0.6"/>
<text x="0" y="0" font-size="6.5" text-anchor="end" transform="translate(362.5 546.0) rotate(-45)">Control</text>
<text x="0" y="0" font-size="6.5" text-anchor="end" transform="translate(395.2 546.0) rotate(-45)">KLHL6-OE</text>
<text x="0" y="0" font-size="6.5" text-anchor="end" transform="translate(428.8 546.0) rotate(-45)">Control</text>
<text x="0" y="0" font-size="6.5" text-anchor="end" transform="translate(461.5 546.0) rotate(-45)">KLHL6-OE</text>
<text x="0" y="0" font-size="6.5" text-anchor="end" transform="translate(494.7 546.0) rotate(-45)">Control</text>
<text x="0" y="0" font-size="6.5" text-anchor="end" transform="translate(527.4 546.0) rotate(-45)">KLHL6-OE</text>
<line x1="411.2" y1="446.0" x2="411.2" y2="537.6" stroke="#444" stroke-width="0.6" stroke-dasharray="2,1.3"/>
<line x1="476.7" y1="446.0" x2="476.7" y2="537.6" stroke="#444" stroke-width="0.6" stroke-dasharray="2,1.3"/>
<circle cx="351.4" cy="448.5" r="1.25" fill="#f7901e"/>
<circle cx="351.8" cy="448.9" r="1.25" fill="#f7901e"/>
<circle cx="352.9" cy="449.4" r="1.25" fill="#f7901e"/>
<circle cx="350.8" cy="448.5" r="1.25" fill="#f7901e"/>
<circle cx="351.9" cy="448.7" r="1.25" fill="#f7901e"/>
<circle cx="351.1" cy="449.2" r="1.25" fill="#f7901e"/>
<circle cx="361.3" cy="537.6" r="1.25" fill="#11871f"/>
<circle cx="360.6" cy="537.6" r="1.25" fill="#11871f"/>
<circle cx="359.5" cy="537.6" r="1.25" fill="#11871f"/>
<circle cx="360.6" cy="537.6" r="1.25" fill="#11871f"/>
<circle cx="359.7" cy="537.6" r="1.25" fill="#11871f"/>
<circle cx="359.1" cy="537.6" r="1.25" fill="#11871f"/>
<circle cx="368.3" cy="537.6" r="1.25" fill="#7a1fa2"/>
<circle cx="369.0" cy="537.6" r="1.25" fill="#7a1fa2"/>
<circle cx="367.9" cy="537.6" r="1.25" fill="#7a1fa2"/>
<circle cx="370.4" cy="537.6" r="1.25" fill="#7a1fa2"/>
<circle cx="370.5" cy="537.6" r="1.25" fill="#7a1fa2"/>
<circle cx="368.0" cy="537.6" r="1.25" fill="#7a1fa2"/>
<circle cx="384.4" cy="447.6" r="1.25" fill="#f7901e"/>
<circle cx="384.1" cy="448.0" r="1.25" fill="#f7901e"/>
<circle cx="384.0" cy="448.5" r="1.25" fill="#f7901e"/>
<circle cx="382.9" cy="447.6" r="1.25" fill="#f7901e"/>
<circle cx="385.7" cy="447.9" r="1.25" fill="#f7901e"/>
<circle cx="393.1" cy="537.6" r="1.25" fill="#11871f"/>
<circle cx="395.2" cy="537.6" r="1.25" fill="#11871f"/>
<circle cx="393.5" cy="537.6" r="1.25" fill="#11871f"/>
<circle cx="392.9" cy="537.6" r="1.25" fill="#11871f"/>
<circle cx="393.0" cy="537.6" r="1.25" fill="#11871f"/>
<circle cx="401.9" cy="537.6" r="1.25" fill="#7a1fa2"/>
<circle cx="403.7" cy="537.6" r="1.25" fill="#7a1fa2"/>
<circle cx="403.8" cy="537.6" r="1.25" fill="#7a1fa2"/>
<circle cx="403.7" cy="537.6" r="1.25" fill="#7a1fa2"/>
<circle cx="402.0" cy="537.6" r="1.25" fill="#7a1fa2"/>
<line x1="357.0" y1="537.6" x2="364.0" y2="537.6" stroke="#11871f" stroke-width="1.6"/>
<line x1="366.0" y1="537.6" x2="373.0" y2="537.6" stroke="#7a1fa2" stroke-width="1.6"/>
<line x1="390.5" y1="537.6" x2="397.5" y2="537.6" stroke="#11871f" stroke-width="1.6"/>
<line x1="399.5" y1="537.6" x2="406.5" y2="537.6" stroke="#7a1fa2" stroke-width="1.6"/>
<circle cx="417.1" cy="511.2" r="1.25" fill="#f7901e"/>
<circle cx="417.9" cy="512.1" r="1.25" fill="#f7901e"/>
<circle cx="418.5" cy="513.0" r="1.25" fill="#f7901e"/>
<circle cx="418.5" cy="514.0" r="1.25" fill="#f7901e"/>
<circle cx="418.9" cy="511.7" r="1.25" fill="#f7901e"/>
<circle cx="418.6" cy="512.6" r="1.25" fill="#f7901e"/>
<line x1="414.8" y1="512.4" x2="420.8" y2="512.4" stroke="#333" stroke-width="0.5"/>
<circle cx="426.8" cy="485.8" r="1.25" fill="#11871f"/>
<circle cx="427.4" cy="486.7" r="1.25" fill="#11871f"/>
<circle cx="427.6" cy="487.6" r="1.25" fill="#11871f"/>
<circle cx="425.8" cy="490.3" r="1.25" fill="#11871f"/>
<circle cx="428.3" cy="492.1" r="1.25" fill="#11871f"/>
<circle cx="426.9" cy="493.9" r="1.25" fill="#11871f"/>
<circle cx="427.2" cy="495.8" r="1.25" fill="#11871f"/>
<circle cx="427.3" cy="487.6" r="1.25" fill="#11871f"/>
<line x1="423.8" y1="490.0" x2="429.8" y2="490.0" stroke="#333" stroke-width="0.5"/>
<circle cx="436.4" cy="524.9" r="1.25" fill="#7a1fa2"/>
<circle cx="434.4" cy="526.7" r="1.25" fill="#7a1fa2"/>
<circle cx="434.3" cy="527.6" r="1.25" fill="#7a1fa2"/>
<circle cx="435.1" cy="528.5" r="1.25" fill="#7a1fa2"/>
<circle cx="434.5" cy="529.4" r="1.25" fill="#7a1fa2"/>
<circle cx="436.5" cy="530.3" r="1.25" fill="#7a1fa2"/>
<circle cx="435.6" cy="531.2" r="1.25" fill="#7a1fa2"/>
<circle cx="434.7" cy="527.6" r="1.25" fill="#7a1fa2"/>
<line x1="432.7" y1="528.3" x2="438.7" y2="528.3" stroke="#333" stroke-width="0.5"/>
<circle cx="450.2" cy="489.4" r="1.25" fill="#f7901e"/>
<circle cx="449.5" cy="491.2" r="1.25" fill="#f7901e"/>
<circle cx="451.3" cy="492.1" r="1.25" fill="#f7901e"/>
<circle cx="450.2" cy="493.0" r="1.25" fill="#f7901e"/>
<circle cx="451.6" cy="493.9" r="1.25" fill="#f7901e"/>
<circle cx="451.2" cy="494.9" r="1.25" fill="#f7901e"/>
<circle cx="450.4" cy="495.8" r="1.25" fill="#f7901e"/>
<line x1="447.5" y1="492.9" x2="453.5" y2="492.9" stroke="#333" stroke-width="0.5"/>
<circle cx="460.2" cy="495.8" r="1.25" fill="#11871f"/>
<circle cx="461.6" cy="497.6" r="1.25" fill="#11871f"/>
<circle cx="460.7" cy="498.5" r="1.25" fill="#11871f"/>
<circle cx="459.8" cy="500.3" r="1.25" fill="#11871f"/>
<circle cx="459.7" cy="501.2" r="1.25" fill="#11871f"/>
<circle cx="461.1" cy="503.0" r="1.25" fill="#11871f"/>
<circle cx="460.4" cy="504.9" r="1.25" fill="#11871f"/>
<line x1="457.0" y1="500.2" x2="463.0" y2="500.2" stroke="#333" stroke-width="0.5"/>
<circle cx="469.6" cy="532.1" r="1.25" fill="#7a1fa2"/>
<circle cx="467.9" cy="532.6" r="1.25" fill="#7a1fa2"/>
<circle cx="468.8" cy="533.1" r="1.25" fill="#7a1fa2"/>
<circle cx="467.5" cy="533.5" r="1.25" fill="#7a1fa2"/>
<circle cx="469.1" cy="534.0" r="1.25" fill="#7a1fa2"/>
<circle cx="467.5" cy="533.1" r="1.25" fill="#7a1fa2"/>
<line x1="466.0" y1="533.1" x2="472.0" y2="533.1" stroke="#333" stroke-width="0.5"/>
<circle cx="484.3" cy="526.7" r="1.25" fill="#f7901e"/>
<circle cx="482.7" cy="527.6" r="1.25" fill="#f7901e"/>
<circle cx="482.4" cy="528.5" r="1.25" fill="#f7901e"/>
<circle cx="482.7" cy="529.4" r="1.25" fill="#f7901e"/>
<circle cx="483.5" cy="530.3" r="1.25" fill="#f7901e"/>
<circle cx="483.8" cy="531.2" r="1.25" fill="#f7901e"/>
<line x1="480.8" y1="529.0" x2="486.8" y2="529.0" stroke="#333" stroke-width="0.5"/>
<circle cx="491.9" cy="477.6" r="1.25" fill="#11871f"/>
<circle cx="493.1" cy="480.3" r="1.25" fill="#11871f"/>
<circle cx="493.0" cy="484.8" r="1.25" fill="#11871f"/>
<circle cx="491.8" cy="489.4" r="1.25" fill="#11871f"/>
<circle cx="492.3" cy="492.1" r="1.25" fill="#11871f"/>
<circle cx="494.1" cy="497.6" r="1.25" fill="#11871f"/>
<circle cx="492.7" cy="501.2" r="1.25" fill="#11871f"/>
<circle cx="493.7" cy="501.2" r="1.25" fill="#11871f"/>
<line x1="489.7" y1="490.5" x2="495.7" y2="490.5" stroke="#333" stroke-width="0.5"/>
<circle cx="502.6" cy="498.5" r="1.25" fill="#7a1fa2"/>
<circle cx="502.5" cy="500.3" r="1.25" fill="#7a1fa2"/>
<circle cx="503.2" cy="503.0" r="1.25" fill="#7a1fa2"/>
<circle cx="500.5" cy="506.7" r="1.25" fill="#7a1fa2"/>
<circle cx="502.2" cy="510.3" r="1.25" fill="#7a1fa2"/>
<circle cx="503.3" cy="514.0" r="1.25" fill="#7a1fa2"/>
<circle cx="502.2" cy="519.4" r="1.25" fill="#7a1fa2"/>
<line x1="499.0" y1="507.5" x2="505.0" y2="507.5" stroke="#333" stroke-width="0.5"/>
<circle cx="515.3" cy="502.1" r="1.25" fill="#f7901e"/>
<circle cx="518.2" cy="503.9" r="1.25" fill="#f7901e"/>
<circle cx="517.6" cy="505.8" r="1.25" fill="#f7901e"/>
<circle cx="516.4" cy="507.6" r="1.25" fill="#f7901e"/>
<circle cx="515.8" cy="510.3" r="1.25" fill="#f7901e"/>
<circle cx="515.3" cy="512.1" r="1.25" fill="#f7901e"/>
<circle cx="518.2" cy="514.9" r="1.25" fill="#f7901e"/>
<line x1="513.8" y1="508.1" x2="519.8" y2="508.1" stroke="#333" stroke-width="0.5"/>
<circle cx="527.4" cy="495.8" r="1.25" fill="#11871f"/>
<circle cx="525.1" cy="496.7" r="1.25" fill="#11871f"/>
<circle cx="525.2" cy="497.6" r="1.25" fill="#11871f"/>
<circle cx="527.0" cy="498.5" r="1.25" fill="#11871f"/>
<circle cx="525.1" cy="499.4" r="1.25" fill="#11871f"/>
<circle cx="526.5" cy="500.3" r="1.25" fill="#11871f"/>
<line x1="523.3" y1="498.0" x2="529.3" y2="498.0" stroke="#333" stroke-width="0.5"/>
<circle cx="534.9" cy="515.8" r="1.25" fill="#7a1fa2"/>
<circle cx="535.5" cy="517.6" r="1.25" fill="#7a1fa2"/>
<circle cx="535.8" cy="519.4" r="1.25" fill="#7a1fa2"/>
<circle cx="534.7" cy="521.2" r="1.25" fill="#7a1fa2"/>
<circle cx="534.7" cy="523.0" r="1.25" fill="#7a1fa2"/>
<circle cx="534.3" cy="524.9" r="1.25" fill="#7a1fa2"/>
<line x1="532.3" y1="520.3" x2="538.3" y2="520.3" stroke="#333" stroke-width="0.5"/>
<line x1="416.3" y1="447.0" x2="451.1" y2="447.0" stroke="#999" stroke-width="0.7"/>
<text x="433.7" y="447.6" font-size="7.2" text-anchor="middle">****</text>
<line x1="435.1" y1="459.5" x2="469.9" y2="459.5" stroke="#999" stroke-width="0.7"/>
<text x="452.5" y="460.1" font-size="7.2" text-anchor="middle">*</text>
<line x1="482.6" y1="446.7" x2="517.4" y2="446.7" stroke="#999" stroke-width="0.7"/>
<text x="500.0" y="447.3" font-size="7.2" text-anchor="middle">****</text>
<line x1="501.1" y1="458.9" x2="536.1" y2="458.9" stroke="#999" stroke-width="0.7"/>
<text x="518.6" y="459.5" font-size="7.2" text-anchor="middle">****</text>
<circle cx="549.7" cy="446.7" r="1.30" fill="#f7901e"/>
<text x="554.4" y="449.0" font-size="6.3">Ly108<tspan font-size="4" dy="-2">+</tspan><tspan dy="2">​</tspan>TIM-3<tspan font-size="4" dy="-2">−</tspan><tspan dy="2">​</tspan></text>
<circle cx="549.7" cy="463.0" r="1.30" fill="#11871f"/>
<text x="554.4" y="465.3" font-size="6.3">Ly108<tspan font-size="4" dy="-2">+</tspan><tspan dy="2">​</tspan>TIM-3<tspan font-size="4" dy="-2">+</tspan><tspan dy="2">​</tspan></text>
<circle cx="549.7" cy="479.3" r="1.30" fill="#7a1fa2"/>
<text x="554.4" y="481.6" font-size="6.3">Ly108<tspan font-size="4" dy="-2">−</tspan><tspan dy="2">​</tspan>TIM-3<tspan font-size="4" dy="-2">+</tspan><tspan dy="2">​</tspan></text>
</svg></body></html>
